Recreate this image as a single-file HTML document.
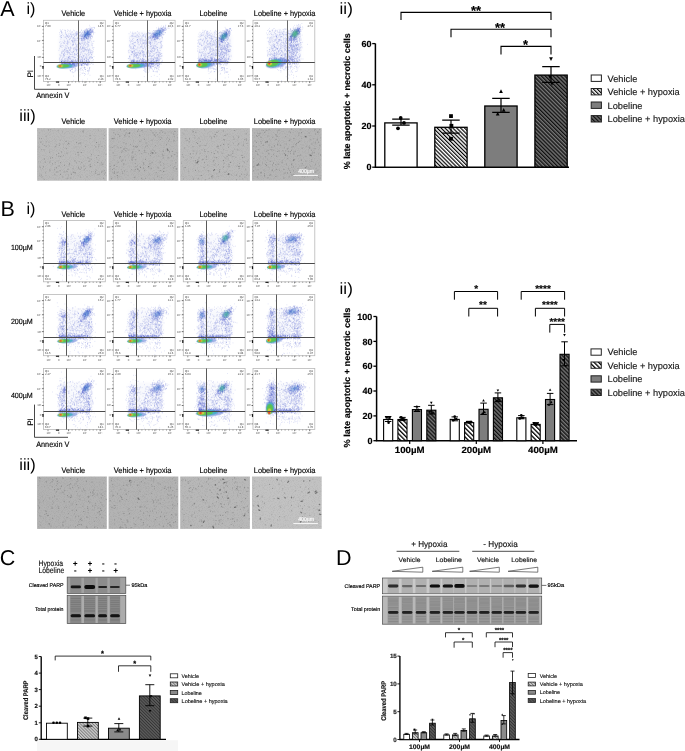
<!DOCTYPE html>
<html><head><meta charset="utf-8"><title>Figure</title>
<style>html,body{margin:0;padding:0;background:#fff;width:685px;height:751px;overflow:hidden}svg{display:block}text{text-rendering:geometricPrecision}</style>
</head><body>
<svg width="685" height="751" viewBox="0 0 685 751" font-family="'Liberation Sans', Arial, Helvetica, sans-serif"><defs>
<pattern id="hw" patternUnits="userSpaceOnUse" width="2.76" height="4" patternTransform="rotate(-45)">
 <rect width="2.76" height="4" fill="#fff"/><rect width="1.2" height="4" fill="#000"/></pattern>
<pattern id="hd" patternUnits="userSpaceOnUse" width="2.76" height="4" patternTransform="rotate(-45)">
 <rect width="2.76" height="4" fill="#777"/><rect width="1.35" height="4" fill="#111"/></pattern>
<pattern id="hwb" patternUnits="userSpaceOnUse" width="3.2" height="4" patternTransform="rotate(-45)">
 <rect width="3.2" height="4" fill="#fff"/><rect width="1.3" height="4" fill="#000"/></pattern>
<pattern id="hdb" patternUnits="userSpaceOnUse" width="2.8" height="4" patternTransform="rotate(-45)">
 <rect width="2.8" height="4" fill="#777"/><rect width="1.35" height="4" fill="#111"/></pattern>
<pattern id="hw2" patternUnits="userSpaceOnUse" width="2.2" height="2.2" patternTransform="rotate(-45)">
 <rect width="2.2" height="2.2" fill="#c8c8c8"/><rect width=".8" height="2.2" fill="#777"/></pattern>
<pattern id="hd2" patternUnits="userSpaceOnUse" width="2.2" height="2.2" patternTransform="rotate(-45)">
 <rect width="2.2" height="2.2" fill="#5a5a5a"/><rect width=".8" height="2.2" fill="#333"/></pattern>
<filter id="b06" x="-50%" y="-50%" width="200%" height="200%"><feGaussianBlur stdDeviation="0.6"/></filter>
<filter id="b1" x="-50%" y="-50%" width="200%" height="200%"><feGaussianBlur stdDeviation="1"/></filter>
<filter id="b15" x="-50%" y="-50%" width="200%" height="200%"><feGaussianBlur stdDeviation="1.5"/></filter>
<filter id="b04" x="-50%" y="-50%" width="200%" height="200%"><feGaussianBlur stdDeviation="0.4"/></filter>
<filter id="noise" x="0" y="0" width="100%" height="100%">
 <feTurbulence type="fractalNoise" baseFrequency="1.2" numOctaves="1" seed="3" result="t"/>
 <feColorMatrix in="t" type="matrix" values="0 0 0 0 0  0 0 0 0 0  0 0 0 0 0  0 0 0 -2.5 1.35" result="a"/>
 <feComposite in="a" in2="SourceGraphic" operator="in"/>
</filter>
</defs><text x=".3" y="15.6" font-size="21.5">A</text>
<text x="26.5" y="13.9" font-size="16.3" textLength="9.0" lengthAdjust="spacingAndGlyphs">i)</text>
<text x="19.3" y="121.2" font-size="16.3" textLength="16.4" lengthAdjust="spacingAndGlyphs">iii)</text>
<text x="339.6" y="13.9" font-size="16.3" textLength="13.2" lengthAdjust="spacingAndGlyphs">ii)</text>
<text x=".5" y="215.9" font-size="21.5">B</text>
<text x="26.5" y="213.7" font-size="16.3" textLength="9.0" lengthAdjust="spacingAndGlyphs">i)</text>
<text x="19.3" y="469.5" font-size="16.3" textLength="16.4" lengthAdjust="spacingAndGlyphs">iii)</text>
<text x="339.6" y="294.2" font-size="16.3" textLength="13.2" lengthAdjust="spacingAndGlyphs">ii)</text>
<text x="-.2" y="564.5" font-size="21.5">C</text>
<text x="336" y="564.5" font-size="21.5">D</text>
<g transform="translate(43.5 20.3)"><rect x="0" y="0" width="61.8" height="61.2" fill="#fff" stroke="#b8b8b8" stroke-width=".8"/><rect x="16" y="12" width="32" height="31" rx="5" fill="#aab4ea" opacity="0.12" filter="url(#b15)"/><path transform="scale(.1)" d="M459 50h6m-3 15h6m2 12h6m0-4h6m5-1h6m3-1h6m2 0h6m-3 2h6m-349 21h6m-2 15h6m-2 0h6m-4-5h6m-3 8h6m7-19h6m9 6h6m3 1h6m-4 3h6m-5 12h6m13-20h6m-3 16h6m4-11h6m5 9h6m1-10h6m-1 17h6m10-2h6m5-15h6m3 6h6m15 9h6m-2 5h6m-6-5h6m29 3h6m2-20h6m-2 4h6m1 17h6m1 0h6m-2-15h6m1-1h6m-6 11h6m-5 2h6m-5 4h6m-5 0h6m-4-7h6m-6 6h6m-5-3h6m-5-19h6m-5 8h6m-6 11h6m-5-16h6m-4 9h6m-2-14h6m-2-8h6m-5 27h6m-5-4h6m-2-22h6m-5-1h6m-6 14h6m-5 3h6m-6-5h6m-6 17h6m-6-21h6m-5-1h6m-6 20h6m-5-2h6m-4 0h6m-5-1h6m-5-6h6m-5 13h6m-5-7h6m-6 3h6m-5-26h6m-6 14h6m-6 9h6m-5-3h6m-6 10h6m-5-16h6m-5 3h6m-6 11h6m-4 2h6m-3-35h6m-5 35h6m-6-4h6m-6 4h6m-6-1h6m-5 3h6m-5-10h6m-6 3h6m-5-9h6m-6 11h6m-6-24h6m-5 26h6m-5 2h6m-6-11h6m-6-27h6m-5 26h6m-3-7h6m-5 0h6m-6 3h6m-5 4h6m-6-19h6m-4 5h6m-5 3h6m-6-2h6m-5 22h6m-6-11h6m-5-13h6m-5 3h6m-5 21h6m-6-9h6m-6-4h6m-6-13h6m-5-6h6m-6 14h6m-4 14h6m-5 6h6m-5-21h6m-4 9h6m-6 11h6m-6-16h6m-6 13h6m-4-2h6m-4-29h6m-6 10h6m-5 16h6m-5-22h6m-5 17h6m-4 0h6m-6 10h6m-5-2h6m-6-23h6m-4 20h6m-6-3h6m-4 9h6m-6-21h6m-4 13h6m-3 1h6m-5 4h6m-2-19h6m0-10h6m-353 41h6m-3 17h6m-1 14h6m3-2h6m-5-23h6m-5-8h6m-5 32h6m-3-33h6m-5 5h6m-2 15h6m4 14h6m16-28h6m-5 2h6m-3 14h6m-3 6h6m-5-8h6m0 14h6m-3 2h6m-2 3h6m-2 0h6m-3-13h6m0-13h6m-1 22h6m3-18h6m-4 3h6m-2 5h6m-5-16h6m-3 17h6m-4 12h6m-1-38h6m-4 26h6m2-5h6m-5-3h6m1 12h6m-4-14h6m4-1h6m-6 15h6m-4-30h6m-5 11h6m-5 17h6m1-4h6m-5 5h6m-4-9h6m-6-11h6m-5 26h6m-4-21h6m-6 2h6m-3-10h6m1 9h6m-5-3h6m-6 10h6m-5-4h6m-2-18h6m2 30h6m-6 2h6m-5-29h6m-2 0h6m-4 36h6m-3-39h6m-5 35h6m-5-15h6m-3 8h6m-4 8h6m-2-21h6m-4-8h6m-4 21h6m-4-4h6m-3-6h6m-5 21h6m-6-19h6m-4 16h6m-4-5h6m-5-31h6m-5 37h6m3-18h6m-6 8h6m-6 5h6m-6-16h6m-5 1h6m-6 22h6m-4-12h6m-6 2h6m-4-24h6m-5 27h6m-5-7h6m-6-9h6m-6 18h6m-5 3h6m-6-29h6m-5 0h6m-6 30h6m-6-8h6m-3-26h6m-6 34h6m-5-12h6m-6 1h6m-6-5h6m-6-2h6m-6 5h6m-6-9h6m-5 8h6m-6 4h6m-5-18h6m-5-7h6m-5 32h6m-6-10h6m-6-21h6m-6 19h6m-6 11h6m-5-22h6m-6 20h6m-6 4h6m-5-3h6m-6-4h6m-6-6h6m-6-23h6m-6 30h6m-5-21h6m-6 19h6m-6-2h6m-5-2h6m-6-1h6m-6 12h6m-6-7h6m-5 1h6m-5-12h6m-6 14h6m-5-15h6m-6 5h6m-6 9h6m-5-4h6m-6-6h6m-6-15h6m-6 14h6m-5-8h6m-6-6h6m-5 13h6m-6-10h6m-6 10h6m-6 0h6m-6 13h6m-6-23h6m-5 14h6m-4-10h6m-6 4h6m-6-13h6m-5 34h6m-6-27h6m-5-1h6m-6 10h6m-6-10h6m-5 14h6m-6-10h6m-6-2h6m-6 5h6m-5-3h6m-6-1h6m-6-8h6m-6 19h6m-5-15h6m-6 31h6m-5-26h6m-6-9h6m-5-2h6m-6 0h6m-6 8h6m-6 6h6m-6-3h6m-6 11h6m-6-1h6m-5 2h6m-6-25h6m-6 37h6m-6-24h6m-6 11h6m-6 6h6m-6-5h6m-5-20h6m-6 28h6m-6-30h6m-5 2h6m-6 8h6m-6 0h6m-6 23h6m-6-10h6m-5-23h6m-5 2h6m-6-5h6m-6 13h6m-6 15h6m-6-26h6m-5 34h6m-5-19h6m-6-4h6m-6 8h6m-6 9h6m-5-3h6m-6-25h6m-5 26h6m-6 9h6m-6-17h6m-5-4h6m-6 1h6m-6-8h6m-5 11h6m-6-18h6m-6 36h6m-5-20h6m-6 0h6m-6 10h6m-5-14h6m-5 1h6m-5 0h6m-6 9h6m-6 0h6m-5-5h6m-6 20h6m-5-33h6m-5 16h6m-6-10h6m-6-4h6m-6-5h6m-5 22h6m-5-14h6m-6-5h6m-6 9h6m-5 15h6m-5-6h6m-5 1h6m-6 3h6m-5-9h6m-6 0h6m-5 11h6m-5-9h6m-6 7h6m-6-5h6m-4 15h6m-6-17h6m-6-13h6m-5 12h6m-6 7h6m-6-27h6m-5 8h6m-5-3h6m-3 20h6m-6-21h6m-5-1h6m-6 1h6m-6 16h6m-6-18h6m-5 16h6m-5-13h6m-4 31h6m-5-30h6m-2 30h6m-6-30h6m-5 30h6m-3-34h6m-4-2h6m0 3h6m-2 8h6m-6-8h6m-4 20h6m6-20h6m-355 38h6m-3 6h6m0 21h6m-4-18h6m-2 3h6m-5-2h6m19 28h6m-5-30h6m6-1h6m-3 0h6m0 11h6m-3-19h6m-5 24h6m-1-19h6m2 32h6m-2-27h6m-3 1h6m0-8h6m-2 31h6m-5-4h6m-5-6h6m-2-17h6m-4 14h6m2-14h6m-4-7h6m1 8h6m0 17h6m-4 14h6m-4-19h6m-3-7h6m-6 1h6m-1 9h6m-6 12h6m-3-6h6m-5-25h6m-5-4h6m-2 20h6m1 7h6m-2 9h6m5-18h6m-6 6h6m-4-6h6m1-1h6m-1 5h6m7 7h6m-6-23h6m-6 19h6m-5-5h6m4 0h6m-4 3h6m-5-18h6m-6-5h6m-6 25h6m-5-25h6m-6 20h6m-3-15h6m-6 31h6m-5-7h6m-4-8h6m-6 13h6m-6-11h6m-5 0h6m-5-9h6m-5 17h6m-5-31h6m-1 38h6m-6-2h6m-6-29h6m-6-4h6m-6 19h6m-3-7h6m-5-6h6m-5-3h6m-4 7h6m-5 11h6m-6-20h6m-4 12h6m-6 3h6m-6 7h6m-5 11h6m-6-15h6m-5-2h6m-6 7h6m-6 11h6m-4-8h6m-5-26h6m-5-2h6m-6 24h6m-5-22h6m-6 1h6m-5 0h6m-6 0h6m-5 0h6m-6-2h6m-6 11h6m-5 10h6m-6-11h6m-6 12h6m-5 9h6m-4-25h6m-6-6h6m-5 2h6m-5 12h6m-6-14h6m-3 29h6m-5-19h6m-5-2h6m-6-8h6m-6-3h6m-5 5h6m-5 2h6m-6 12h6m-3-16h6m-5 19h6m-6-13h6m-5 8h6m-5-6h6m-6-3h6m-6 20h6m-5-6h6m-6-8h6m-6 3h6m-6 4h6m-5-11h6m-4 5h6m-4 3h6m-6-1h6m-4 8h6m-6 2h6m-5-27h6m-3 31h6m-5-9h6m-6-6h6m-4 4h6m-3-9h6m-6-9h6m-4 25h6m-6-19h6m-5-6h6m-5 19h6m-6-15h6m-5 29h6m-6-21h6m-6-7h6m-2-7h6m0 15h6m-5-11h6m-4 20h6m-6-18h6m-6-1h6m-5 10h6m-4 12h6m-5-13h6m1-14h6m-6 24h6m0-23h6m-1 1h6m-4 11h6m-335 48h6m-1-7h6m-1 24h6m3-5h6m-1-16h6m10 7h6m-4 5h6m-4-4h6m-4-18h6m-6 6h6m-2 19h6m5-18h6m6 16h6m-6 2h6m-4-4h6m-4-25h6m-2 10h6m-6 1h6m-5 6h6m-6 19h6m-4-12h6m-5-10h6m10 1h6m4 17h6m2-30h6m-4-3h6m-3-1h6m-3 10h6m-5-2h6m-5 7h6m-5 4h6m-4-12h6m-4 27h6m-3-9h6m-5 13h6m-5-25h6m-1-9h6m-6 15h6m0-4h6m-6-14h6m-4 4h6m-1-5h6m-6 31h6m-1-12h6m-5 19h6m-4-35h6m9-2h6m5 27h6m-6-5h6m-5 12h6m-6-12h6m-4-18h6m-4 24h6m-4 2h6m-5-6h6m-6 12h6m3-6h6m1-8h6m-6-23h6m-3 4h6m-5 29h6m-4-31h6m-1 24h6m-5 2h6m-6-26h6m-2 7h6m-1-6h6m-5 23h6m3-6h6m-4 15h6m-6-34h6m-3 31h6m-4-14h6m-6-11h6m-2 13h6m2 9h6m5-17h6m-6-7h6m-3 30h6m-5-11h6m-1 0h6m1-7h6m-6 0h6m-5 1h6m-3-19h6m7 0h6m2 15h6m0 15h6m3 2h6m-3-21h6m2-2h6m-346 58h6m-5-14h6m-4 10h6m-3-5h6m2 7h6m-5-14h6m-1 21h6m0-20h6m3 5h6m9 11h6m-3 11h6m-3-29h6m-2 28h6m-5-12h6m-3-15h6m4 12h6m-3-18h6m-2 28h6m-2 3h6m-4 2h6m7-3h6m1-2h6m-6-8h6m-3 12h6m3 1h6m-3-24h6m-2-13h6m-4 11h6m-5-9h6m2 4h6m-6-5h6m-3 35h6m-5 1h6m2-4h6m-1 4h6m-2-35h6m-4 23h6m-4-9h6m-4-8h6m-6 30h6m-3-20h6m-4 9h6m2-9h6m-5-14h6m-5 27h6m-5-32h6m3 11h6m7 10h6m-5 14h6m-6-12h6m-4 16h6m-6-39h6m-6 3h6m-5 29h6m4-18h6m0 8h6m-5 11h6m-3 4h6m-5 0h6m-5-3h6m-2-24h6m-2-4h6m-5 24h6m-5 4h6m-4-13h6m-5-19h6m-1 32h6m2-25h6m-6 0h6m0 22h6m3-1h6m-5-30h6m-1 25h6m-3-9h6m-3-12h6m-1-1h6m-5 14h6m-3-2h6m17-7h6m2-3h6m-4 6h6m-5 28h6m-5-11h6m6 8h6m-3-3h6m-357 28h6m0-17h6m19 29h6m-4 3h6m-6-18h6m3 11h6m1 3h6m-5-9h6m-4-3h6m-2-11h6m-6 4h6m-5 26h6m-3-25h6m-3 3h6m-5 16h6m3-17h6m-4 7h6m-4-21h6m-5 33h6m-2-11h6m-4-2h6m-6 17h6m-2-8h6m-3-6h6m-4-21h6m-3 29h6m1-17h6m-2 0h6m-5 6h6m-2-13h6m-4-3h6m-6 13h6m-5 11h6m10 5h6m7-1h6m-4-23h6m-6 23h6m-5 4h6m-5-37h6m-4 30h6m-4-9h6m-5-12h6m9 2h6m-6-3h6m-2 13h6m-4 5h6m-5-10h6m-5 11h6m-5-16h6m-5 6h6m-3 21h6m-5-33h6m0 10h6m-3-5h6m-1 3h6m-1 21h6m-1-27h6m-4-7h6m-5 20h6m-3-8h6m5 23h6m-6 1h6m-4-24h6m-5-8h6m0 2h6m0 16h6m-5-17h6m-4 27h6m-4 1h6m-6-9h6m-2-20h6m-4 23h6m-5-25h6m-1 3h6m-5 26h6m-4-14h6m-5 2h6m-5-20h6m-3 10h6m-6 4h6m-2-6h6m-2 9h6m-5 2h6m-2-4h6m-3 13h6m-3-15h6m-2-8h6m-1 12h6m-4 2h6m-6 9h6m0-7h6m-6 14h6m-3-21h6m-6 23h6m-5-20h6m-4-15h6m-4 14h6m1-2h6m-4 12h6m-5 8h6m0-11h6m2 6h6m1-2h6m0-14h6m-5 22h6m-347 31h6m3 13h6m-2-11h6m-1 0h6m-5 10h6m-5-38h6m-5 9h6m0-2h6m-6 6h6m6 16h6m-4-13h6m-4 2h6m-6 6h6m-3 7h6m-4-5h6m-5-9h6m-4-6h6m-5-6h6m-6 28h6m-5 4h6m7-17h6m-3-20h6m5 2h6m-5 17h6m-5-2h6m0-16h6m0 4h6m-2 3h6m-4-4h6m-3 2h6m-6 32h6m-3-18h6m-4-3h6m-4 4h6m1 1h6m-4-20h6m2 19h6m0-20h6m-5 7h6m-4 15h6m-5 15h6m9-22h6m-5-2h6m-5 19h6m-6-12h6m-3-5h6m-3 8h6m2 1h6m-2-1h6m-4-6h6m0-9h6m-5 26h6m-6-22h6m-6 25h6m1-26h6m-2-10h6m-5 27h6m-6-19h6m-3 9h6m1 12h6m0-6h6m-4-18h6m-4 16h6m-1-16h6m6 10h6m1 15h6m1 4h6m-5-2h6m-2-1h6m-4-17h6m6-2h6m-1 10h6m-3-3h6m-3 16h6m-3-1h6m-2-22h6m3-8h6m-6 25h6m-4-25h6m-5 17h6m2 0h6m0-9h6m-6-10h6m-2 1h6m-5 0h6m3 18h6m-5-19h6m-5 14h6m-4 4h6m-5 11h6m-5-32h6m1 0h6m-5 14h6m-342 55h6m-2-12h6m-4 1h6m-5 16h6m1-25h6m3 24h6m-5 0h6m-3-8h6m0-1h6m-3-12h6m-5 26h6m-5-30h6m-4-9h6m1 8h6m-3 23h6m-4-8h6m-2 14h6m1 1h6m-5-16h6m-1 12h6m-5-28h6m-6 15h6m5 13h6m-5-16h6m-5 17h6m-2-9h6m-5-21h6m-4 31h6m-3-23h6m-6 0h6m-6-13h6m-4 14h6m-6 4h6m-5-3h6m-6 21h6m-2-13h6m-6 4h6m-4-19h6m-5-5h6m-3 13h6m-4 8h6m-5-23h6m-1 29h6m-6-4h6m-4-9h6m5 21h6m-6-34h6m-6 23h6m-5-26h6m-1 34h6m-4-29h6m-1 22h6m-2 6h6m-5-24h6m-5-6h6m1 14h6m-4-6h6m-5 0h6m-4 27h6m-1-3h6m-6 1h6m-6-27h6m-3 27h6m-5-21h6m8 21h6m-5-10h6m-3-4h6m-5 16h6m3-11h6m-6-18h6m-4 19h6m-4 1h6m-3-30h6m-3 11h6m-5 5h6m-4-12h6m-4 35h6m-2-10h6m-1 6h6m-5-31h6m-6-2h6m-5 27h6m-6-18h6m1 25h6m-5-27h6m-6 19h6m-4-9h6m-2 10h6m-5-16h6m-3 13h6m-3-23h6m-1 5h6m-5 20h6m-6 11h6m-1-7h6m-4 0h6m-6-10h6m-5 6h6m0-20h6m-3 2h6m-4 12h6m-2-10h6m-4 24h6m-5-15h6m-5 2h6m-3 8h6m1-2h6m-4-21h6m-2 28h6m-4-5h6m-4 4h6m-1-18h6m-6 4h6m-3-5h6m-5-7h6m-2-9h6m-5 26h6m-4-13h6m-4-6h6m-1-5h6m-3 4h6m-4 12h6m-4-2h6m-2-2h6m-4-2h6m-4 3h6m-4 3h6m1 14h6m0-30h6m-353 65h6m-2-20h6m-6 10h6m-4 0h6m3-15h6m-5 28h6m-6-20h6m-5 13h6m-5-7h6m-5 13h6m-5-16h6m-6 9h6m-6-5h6m-6-4h6m-5 4h6m-6 11h6m-6-12h6m-5-3h6m-6 22h6m-6-15h6m-6-12h6m-5 6h6m-6 4h6m-5 6h6m-6-6h6m-6 4h6m-5-16h6m-6 3h6m-6 12h6m-5 9h6m-6 9h6m-6-9h6m-5 0h6m-5-15h6m-6 14h6m-5-4h6m-4-17h6m-6 27h6m-5-35h6m-6 27h6m-5-7h6m-6 13h6m-5-26h6m-6 19h6m-6 13h6m-4-9h6m-6 4h6m-6-10h6m-5-2h6m-5-4h6m-5 2h6m-6 4h6m-6 11h6m-5-18h6m-4 10h6m-4-16h6m-6 10h6m-6-13h6m-5-5h6m-5 19h6m-6 9h6m-6-4h6m-5 5h6m-6 4h6m-6-9h6m-5-7h6m-6 18h6m-6-13h6m-6-4h6m-6-8h6m-5 25h6m-4-14h6m-6-4h6m-5-10h6m-6 20h6m-6-13h6m-5-13h6m-5 23h6m-6-9h6m-5-4h6m-6 19h6m-6 6h6m-6-9h6m-5-3h6m-6-18h6m-5 14h6m-6 1h6m-6-8h6m-5 13h6m-6 0h6m-5-23h6m-6 20h6m-5-5h6m-6-3h6m-5 12h6m-5 1h6m-6-3h6m-5 5h6m-5-29h6m-5 5h6m-5 5h6m-6 18h6m-5-6h6m-4 0h6m-6 5h6m-5-29h6m-4 22h6m-5 11h6m-6 1h6m-4-29h6m-6 18h6m-6-9h6m-6 18h6m-6-11h6m-5-4h6m-6 12h6m-5-20h6m-6 4h6m-6 24h6m-5-17h6m-5 11h6m-6-12h6m-5 9h6m-6-12h6m-6 21h6m-6-10h6m-5-7h6m-6 12h6m-6-27h6m-5 14h6m-5 8h6m-5-25h6m-4 33h6m-6-22h6m-5-6h6m-4 28h6m-5-17h6m-5 11h6m-5-8h6m-5 0h6m-6-18h6m-5 22h6m-6-1h6m-5 10h6m-6 0h6m-6-1h6m-5-27h6m-6 10h6m-6 17h6m-6-21h6m-4 12h6m-6-1h6m-6 7h6m-6-10h6m-5 13h6m-5-17h6m-6 16h6m-5-3h6m-6-11h6m-5-2h6m-6 7h6m-6 3h6m-5-21h6m-5 30h6m-6-18h6m-5 2h6m-6 2h6m-6-2h6m-5 4h6m-6 8h6m-5-11h6m-5-3h6m-6 14h6m-5-6h6m-5-17h6m-5 24h6m-4 2h6m-6-26h6m-5 21h6m-6-15h6m-5 17h6m-6-10h6m-4 14h6m-6 0h6m-6-16h6m-5-3h6m-6-9h6m-5 3h6m-6 5h6m-6 2h6m-5-9h6m-5-2h6m-6-4h6m-4-2h6m-5 4h6m-3 23h6m-6 9h6m-5-26h6m-6 20h6m-5-12h6m-5 13h6m-6 2h6m-6-21h6m-6-4h6m-6 14h6m-4 10h6m-6-27h6m-6 10h6m-6 14h6m-4-7h6m-6-18h6m-5 5h6m-6 28h6m-5-24h6m-5 16h6m-6-19h6m-5 21h6m-6 3h6m-6-1h6m-5 3h6m-6-36h6m-6 0h6m-6 16h6m-6 14h6m-5 1h6m-6-14h6m-5 3h6m-5 9h6m-5 3h6m-6-17h6m-6 7h6m-4-11h6m-5 26h6m-6-12h6m-5 8h6m-6-9h6m-5-6h6m-6 18h6m-6 1h6m-6-8h6m-2 3h6m-6-5h6m-6-16h6m-5 12h6m-4-11h6m-6 9h6m-5-20h6m-6 32h6m-6 2h6m-5-2h6m-6-8h6m-5 2h6m-6-24h6m-5 26h6m-5-19h6m-6 20h6m-3-22h6m-5 8h6m-5 3h6m-3 3h6m-5-7h6m-6 15h6m-6 3h6m-4-17h6m-5 5h6m-6-5h6m-6 5h6m-5 13h6m-6-28h6m-6 15h6m-5 14h6m-5-27h6m-5 10h6m-6-2h6m-6 0h6m-5 6h6m-6 9h6m-5 2h6m-6 4h6m-5-33h6m-5 9h6m-5 9h6m-5 8h6m-4 7h6m-4-7h6m-6-29h6m-6 26h6m-6-8h6m-6 6h6m-5 3h6m-5-12h6m-6 14h6m-6-5h6m-5 10h6m-5 2h6m-6-17h6m-2-17h6m-5 29h6m-6-8h6m-4-1h6m-6 10h6m-5-6h6m-6 6h6m-5-12h6m-6-9h6m-5 7h6m-4 14h6m-2-16h6m-5-16h6m-3 10h6m-6 26h6m-6-31h6m-5 5h6m-6 22h6m-5-13h6m-5-7h6m-6-15h6m-5 32h6m-2-10h6m-6 2h6m-6-13h6m-5 14h6m-5-8h6m-3 20h6m-3-5h6m-6-14h6m-6 6h6m-5-3h6m-5-18h6m-6 13h6m-5-7h6m-6 8h6m-5 0h6m-6-16h6m-6 23h6m-6-3h6m-5 0h6m-3-15h6m-6 8h6m-5-10h6m-6 28h6m-6-14h6m-5 10h6m-6 4h6m-3-6h6m-6-14h6m-6 17h6m-4 5h6m-5-4h6m-6 3h6m-5 4h6m-4-15h6m-6 3h6m-4 4h6m-5-15h6m-6 8h6m-4-13h6m-5 25h6m-5-6h6m-5-6h6m-4 11h6m-6-5h6m-5-14h6m-5 3h6m-6 5h6m-5-17h6m-5 27h6m-3 0h6m-5-13h6m-6 6h6m-4 7h6m-5-3h6m-5-26h6m-4 14h6m-4-10h6m-5-1h6m-6 3h6m-4 0h6m-6 7h6m-5-15h6m-5 34h6m-4-24h6m-5 7h6m-5 18h6m-3-9h6m-6 12h6m-5-10h6m-5-13h6m-5 3h6m-6 18h6m-5-13h6m-5-1h6m-5-18h6m-6 8h6m-6 12h6m-6 7h6m-1-26h6m-6 18h6m-6 2h6m-5-9h6m-3-6h6m-5 3h6m-3 0h6m-3-4h6m-6 24h6m1 5h6m1-31h6m-2 24h6m-1-5h6m2-26h6m-5 9h6m1 29h6m-335 27h6m-5-8h6m-6-9h6m-5-5h6m-5 8h6m-2-1h6m-6-8h6m-5 0h6m-6 2h6m-5 2h6m-6-4h6m3 16h6m-5-17h6m-3 4h6m-1 2h6m-5 4h6m-6-3h6m-5-7h6m-2 26h6m-5-24h6m-5 3h6m-5 10h6m-1-14h6m-5-2h6m-4 13h6m-5-8h6m-5 14h6m-2-14h6m-6 6h6m-4-9h6m-4-3h6m-5 21h6m-5-12h6m-3-2h6m-6 0h6m-5 3h6m-5-7h6m-6 0h6m-4 18h6m-4-16h6m-4 16h6m-5-13h6m-6 7h6m-5-9h6m-6 14h6m-5-20h6m-6 5h6m-2 8h6m-6-2h6m-4-7h6m-6 5h6m-4 10h6m-4 4h6m-3-10h6m-5-13h6m-4 0h6m-4 2h6m-6 17h6m-5-16h6m-4-3h6m-5 0h6m-6 36h6m-5-33h6m-3-1h6m-6-2h6m-4 7h6m-4-3h6m-5 27h6m-5-24h6m-5-4h6m-5 0h6m-6-2h6m0 33h6m-5-31h6m-5-3h6m0 3h6m-5-3h6m-3 1h6m-3 35h6m-3-30h6m-4 19h6m-4-17h6m-6 2h6m-3 0h6m-6 2h6m-5-4h6m-5-2h6m-2 1h6m-4 30h6m-5 1h6m3-32h6m-2-1h6m-1 15h6m-1-12h6m-6 0h6m0 24h6m-4 1h6m-5-31h6m-3 9h6m-6-8h6m-6 32h6m1-25h6m-5 3h6m0-10h6m-4 36h6m1-27h6m-5-1h6m-5 1h6m-6 17h6m-4-22h6m-6-4h6m-5 3h6m-5-1h6m-6 1h6m-5 1h6m-4-7h6m-5 17h6m-5-10h6m-4-6h6m-5 5h6m-5 4h6m-2 23h6m1-19h6m-3 25h6m-3-24h6m-4 12h6m-6-25h6m-6 31h6m-6 3h6m-4-1h6m-4-31h6m-6-4h6m1 2h6m-4-2h6m-6 33h6m0-31h6m-6 6h6m-6-8h6m-1 11h6m-5-10h6m-5 5h6m-6-2h6m-5 0h6m-2 7h6m-6 28h6m-2-24h6m-2-10h6m-5 0h6m1-5h6m-3 36h6m-3-2h6m-3 0h6m22-34h6m-235 55h6m-4 8h6m-4-1h6m-5 9h6m-6-12h6m6-10h6m-3 3h6m-4-1h6m-6 28h6m-5-8h6m-2-23h6m-5-7h6m16 34h6m-5-33h6m-6 17h6m-5 11h6m-3-9h6m-6-13h6m2 8h6m10-11h6m-6 19h6m3 2h6m-4-11h6m0-5h6m-1 29h6m-2-30h6m-1 12h6m-6-17h6m1-3h6m0 17h6m-2-5h6m3 12h6m5-16h6m3 3h6m-6 18h6m-5-18h6m-6-3h6m12 14h6m-6 7h6m-1-8h6m-1 14h6m-5-15h6m-2 9h6m-4-19h6m-4-9h6m-4 21h6m-4-15h6m-174 36h6m-1 34h6m-2-37h6m54 35h6m-3-15h6m13-13h6m-3 2h6m6-3h6m5 25h6m-5-20h6m-4 0h6m0 10h6m18-4h6m-1-9h6m10 21h6m-80 49h6m43-12h6m-148 13h6" stroke="#2f44c4" stroke-width="6" stroke-opacity=".36"/><ellipse cx="43.3" cy="13.8" rx="3.6" ry="2.2" fill="#4a8ad0" opacity="0.55" filter="url(#b1)" transform="rotate(-40 43.3 13.8)"/><ellipse cx="23.5" cy="45.8" rx="10.6" ry="2.4" fill="#5574d4" opacity="0.55" filter="url(#b06)" transform="rotate(-3 23.5 45.8)"/><ellipse cx="21.4" cy="45.8" rx="8" ry="2" fill="#3eb0c4" opacity="0.85" filter="url(#b06)" transform="rotate(-3 21.4 45.8)"/><ellipse cx="19.8" cy="45.8" rx="6" ry="1.7" fill="#5cc24e" opacity="1" filter="url(#b06)" transform="rotate(-3 19.8 45.8)"/><ellipse cx="17.1" cy="45.8" rx="2.4" ry="1.2" fill="#d6d23c" opacity="1" filter="url(#b06)" transform="rotate(-3 17.1 45.8)"/><ellipse cx="16.5" cy="45.8" rx="1.2" ry=".8" fill="#e8642a" opacity="1" filter="url(#b06)" transform="rotate(-3 16.5 45.8)"/><ellipse cx="16.6" cy="45.8" rx=".7" ry=".6" fill="#de2a1e" opacity="1" filter="url(#b06)" transform="rotate(-3 16.6 45.8)"/><line x1="35" y1="0" x2="35" y2="61.2" stroke="#6a6a6a" stroke-width="1"/><line x1="0" y1="42.2" x2="61.8" y2="42.2" stroke="#4a4a4a" stroke-width="1"/><text x="1.6" y="3.6" font-size="2.9" fill="#444">Q1</text><text x="1.6" y="6.6" font-size="2.9" fill="#444">7.00</text><text x="60.2" y="3.6" text-anchor="end" font-size="2.9" fill="#444">Q2</text><text x="60.2" y="6.6" text-anchor="end" font-size="2.9" fill="#444">14.5</text><text x="1.6" y="56.8" font-size="2.9" fill="#444">Q4</text><text x="1.6" y="59.8" font-size="2.9" fill="#444">76.2</text><text x="60.2" y="56.8" text-anchor="end" font-size="2.9" fill="#444">Q3</text><text x="60.2" y="59.8" text-anchor="end" font-size="2.9" fill="#444">2.26</text><path d="M-1.6 6.1h1.6M-1.6 20.3h1.6M-1.6 37.1h1.6M-1.6 46.2h1.6M-1.6 55.5h1.6M-.9 6.1h.9M-.9 9.5h.9M-.9 13h.9M-.9 16.4h.9M-.9 19.9h.9M-.9 23.3h.9M-.9 26.8h.9M-.9 30.2h.9M-.9 33.7h.9M-.9 37.1h.9M4.5 61.2v1.6M15.2 61.2v1.6M25.1 61.2v1.6M41.5 61.2v1.6M56.7 61.2v1.6M25.1 61.2v.9M28.6 61.2v.9M32.1 61.2v.9M35.6 61.2v.9M39.1 61.2v.9M42.7 61.2v.9M46.2 61.2v.9M49.7 61.2v.9M53.2 61.2v.9M56.7 61.2v.9" stroke="#333" stroke-width=".55"/><rect x="-1.1" y="45.7" width="1.2" height="2.8" fill="#111"/><rect x="12.4" y="61.2" width="3" height="1.1" fill="#111"/><text x="-2.3" y="7.1" font-size="2.8" fill="#555" text-anchor="end">10⁵</text><text x="-2.3" y="21.3" font-size="2.8" fill="#555" text-anchor="end">10⁴</text><text x="-2.3" y="38.1" font-size="2.8" fill="#555" text-anchor="end">10³</text><text x="-2.3" y="47.2" font-size="2.8" fill="#555" text-anchor="end">0</text><text x="-2.3" y="56.5" font-size="2.8" fill="#555" text-anchor="end">-10³</text><text x="4.5" y="66.1" font-size="2.8" fill="#555" text-anchor="middle">-10³</text><text x="15.2" y="66.1" font-size="2.8" fill="#555" text-anchor="middle">0</text><text x="25.1" y="66.1" font-size="2.8" fill="#555" text-anchor="middle">10³</text><text x="41.5" y="66.1" font-size="2.8" fill="#555" text-anchor="middle">10⁴</text><text x="56.7" y="66.1" font-size="2.8" fill="#555" text-anchor="middle">10⁵</text></g>
<text x="73.4" y="15.9" font-size="7.9" text-anchor="middle" textLength="23.6" lengthAdjust="spacingAndGlyphs" stroke="#000" stroke-width="0.15">Vehicle</text>
<g transform="translate(113.3 20.3)"><rect x="0" y="0" width="61.8" height="61.2" fill="#fff" stroke="#b8b8b8" stroke-width=".8"/><rect x="16" y="12" width="32" height="31" rx="5" fill="#aab4ea" opacity="0.12" filter="url(#b15)"/><path transform="scale(.1)" d="M560 33h6m-135 43h6m11-7h6m-1 10h6m9-9h6m0 7h6m-3-20h6m-4 22h6m2-4h6m0 1h6m-6-3h6m-1-1h6m-5-10h6m-5-5h6m-2 11h6m-1 10h6m-1 0h6m-5-8h6m-4-5h6m-5-11h6m-4 24h6m-4-29h6m-3 30h6m13-10h6m31 3h6m-418 46h6m17 1h6m39-6h6m99-2h6m8-9h6m30 14h6m2-13h6m-3-1h6m3 8h6m-5 4h6m-4-11h6m-6 2h6m-4 14h6m-4-2h6m-5-12h6m1-1h6m-6 14h6m-2-3h6m-6-8h6m-4 2h6m-5-8h6m-6 15h6m-6-12h6m-4 7h6m-6 5h6m-6-18h6m-5 21h6m-4-11h6m-6-2h6m-5-4h6m-4 17h6m-5-20h6m-4-10h6m-4 12h6m-5-2h6m-5 4h6m-6-7h6m-5-12h6m-6 20h6m-4-17h6m-6 26h6m-5-25h6m-6 21h6m-6 2h6m-5-2h6m-6-6h6m-4-11h6m-5 24h6m-5-2h6m-6-33h6m-6 35h6m-5-2h6m-6-8h6m-6-3h6m-6-8h6m-5 17h6m-5-7h6m-5-5h6m-6 5h6m-4 3h6m-6-6h6m-4-6h6m-6 20h6m-5-18h6m-6 8h6m-6-23h6m-6 24h6m-5-10h6m-5-14h6m-4 14h6m-6 15h6m-6 2h6m-5-11h6m-6 12h6m-6 0h6m-4-10h6m-6 1h6m-5 13h6m-5-16h6m-5-3h6m-5-17h6m-4 35h6m-5-32h6m-6 3h6m-5-8h6m-6 5h6m-5 30h6m-6-5h6m-6-2h6m-6 2h6m-6-18h6m-5 5h6m-5-18h6m-6 6h6m-5 7h6m-5 7h6m-6-9h6m-6 10h6m-5 12h6m-4 0h6m-6-28h6m-5 13h6m-5 11h6m-6-5h6m-5-18h6m-5 10h6m-6 12h6m-4-18h6m-6 25h6m-5-25h6m-6 5h6m-4 5h6m-6-5h6m-6 13h6m-5 0h6m-5-8h6m-4-7h6m-4 14h6m-6-6h6m-6 2h6m-6-21h6m-3 13h6m-5-4h6m-2 12h6m-5-17h6m-6 12h6m-4-16h6m-6 15h6m-3-17h6m-3 16h6m-4 0h6m-3-3h6m11-12h6m5 0h6m-407 53h6m21 17h6m-1-22h6m-6 22h6m-5 5h6m-2-20h6m-1 11h6m-3-13h6m8 0h6m-5 23h6m-5-34h6m2 7h6m3 17h6m-5 9h6m-1-4h6m-5-10h6m4 17h6m-2-26h6m-5-9h6m-3 20h6m4 11h6m10-27h6m-3 2h6m-5 25h6m1-6h6m-4-6h6m-6 11h6m-6 2h6m1-10h6m3-10h6m1 18h6m-1-13h6m-5 14h6m-2-19h6m-1-3h6m0 3h6m-4-12h6m-2-1h6m0 1h6m-6 11h6m-1-3h6m-4-4h6m2-1h6m-4 7h6m-6 19h6m-4 6h6m-4 0h6m-3-29h6m-4 17h6m-4-1h6m-3 10h6m-5-12h6m-5-11h6m-5 14h6m-4 8h6m-2-24h6m-5 9h6m-6-8h6m-5 25h6m-6-36h6m-6 35h6m-6-21h6m-4-2h6m-5 11h6m-6-4h6m-5 3h6m-5 8h6m-6-16h6m-5 20h6m-4-31h6m-6 33h6m-6-22h6m-6 11h6m-5 6h6m-5-9h6m-6 7h6m-6-17h6m-6-9h6m-3 23h6m-6 6h6m-6-6h6m-6 1h6m-5-21h6m-6 15h6m-6 14h6m-5-13h6m-4-3h6m-6-12h6m-6 7h6m-5 22h6m-6-20h6m-6 6h6m-5 13h6m-6-16h6m-5 11h6m-6-13h6m-6 4h6m-6-20h6m-5 36h6m-5-16h6m-6-7h6m-6-2h6m-6 24h6m-6-8h6m-6-10h6m-5 17h6m-5-14h6m-5 12h6m-6-28h6m-6 21h6m-5-16h6m-6 10h6m-6-1h6m-6 13h6m-6-4h6m-5-13h6m-6 8h6m-5 11h6m-6-4h6m-6 8h6m-5-30h6m-6 11h6m-5 9h6m-4-1h6m-6-23h6m-6 3h6m-5 21h6m-6-12h6m-5-8h6m-6 24h6m-6-23h6m-6 3h6m-6 2h6m-5 16h6m-5 3h6m-6-21h6m-6 1h6m-5-1h6m-6 23h6m-6-30h6m-5 5h6m-6 14h6m-4 7h6m-6-17h6m-6 0h6m-5 19h6m-6-17h6m-5 3h6m-6 5h6m-5 10h6m-6-15h6m-6 4h6m-5 10h6m-5 4h6m-6-23h6m-6 18h6m-6-2h6m-5-12h6m-6 15h6m-5-18h6m-6-5h6m-6 2h6m-6 9h6m-4-22h6m-6 2h6m-6 11h6m-6-1h6m-5 3h6m-5-14h6m-6 13h6m-6 22h6m-6-28h6m-5 5h6m-5 7h6m-6-17h6m-5 36h6m-6-23h6m-6-6h6m-6 5h6m-5-10h6m-3 14h6m-6 1h6m-5 11h6m-5-11h6m-6 17h6m-5-5h6m-6-6h6m-6-3h6m-4 16h6m-6-15h6m-6-1h6m-5-22h6m-6 7h6m-6-6h6m-5 28h6m-6-25h6m-6 4h6m-5 13h6m-5-4h6m-6 7h6m-6-14h6m-6-2h6m-5-5h6m-6-2h6m-6 17h6m-6-13h6m-6-5h6m-6-1h6m-6 19h6m-6-2h6m-4 15h6m-5-13h6m-6-14h6m-5-4h6m-6 17h6m-5-1h6m-6 5h6m-5-22h6m-4 30h6m-5 3h6m-6-31h6m-4 6h6m-6 7h6m-5-11h6m-4 29h6m-5-23h6m-5 28h6m-6-31h6m-3-1h6m-6 5h6m-6-7h6m-5 25h6m-6-2h6m-5-15h6m-5 7h6m-5 2h6m-5-16h6m-6 34h6m-5-39h6m-1 15h6m-5 5h6m-2-1h6m-3-17h6m-6 25h6m-1-6h6m-4-18h6m5 2h6m-6-3h6m-364 56h6m-1-17h6m-6 36h6m10-34h6m1 25h6m-4-25h6m-6 28h6m3-29h6m-3 19h6m3-18h6m3-2h6m-4 4h6m5 1h6m-5 5h6m-5 22h6m-3 2h6m-5 3h6m-5-6h6m-5 1h6m-2 4h6m-4-37h6m-5 17h6m3 12h6m-2-23h6m-2 18h6m0 13h6m-6-10h6m1-21h6m-5 14h6m-1 17h6m-5-6h6m-5-15h6m2 23h6m-6-37h6m-3 35h6m10-33h6m-3 0h6m-5 7h6m-6-5h6m0 27h6m-4-12h6m-5 9h6m5-19h6m2 14h6m-5 9h6m-3-24h6m-5 22h6m-4-13h6m-5-11h6m-4-4h6m-6 14h6m-3-10h6m-4 15h6m-2-23h6m-5 15h6m-1 1h6m-6-2h6m-6-2h6m-5 14h6m-5-11h6m-4 6h6m-4 12h6m-1-10h6m-5-21h6m-6 9h6m-6 22h6m-5-29h6m-5 5h6m-3 3h6m-5 13h6m-5-20h6m-6 18h6m-5-18h6m-6 9h6m-5-10h6m-4 15h6m-5-12h6m-5-1h6m-5 9h6m-6 17h6m-4-19h6m-5-12h6m-6 5h6m-5 31h6m-6-36h6m-6 3h6m-5-2h6m-5 8h6m-5 0h6m-6 2h6m-5-4h6m-4-4h6m-6-2h6m-6-2h6m-6 30h6m-6-23h6m-5 20h6m-4-4h6m-5 3h6m-5-2h6m-6 10h6m-5-23h6m-6 19h6m-5 4h6m-6-22h6m-6 24h6m-4-27h6m-6 26h6m-5-29h6m-5 23h6m-6-25h6m-6-1h6m-4 27h6m-6-12h6m-6 6h6m-5-12h6m-5-1h6m-6-8h6m-5 9h6m-3 4h6m-6 4h6m-5-18h6m-6-2h6m-5 26h6m-6-19h6m-5-5h6m-5 15h6m-6-9h6m-5-3h6m-6 19h6m-5-5h6m-3-11h6m-5 25h6m-6-20h6m-6 2h6m-5 10h6m-6 0h6m-6-16h6m-5 9h6m-5 3h6m-6-16h6m-5 16h6m-6-16h6m-6 4h6m-1 6h6m-5 2h6m-6 4h6m-6-17h6m-5 13h6m-6-10h6m-5-7h6m-1 20h6m-3 6h6m-5-25h6m-6 6h6m-2 26h6m-3-32h6m-3 1h6m1 24h6m0-17h6m2 17h6m-4-13h6m-6 1h6m-335 31h6m3 7h6m-6 13h6m6-16h6m-5-6h6m-5 33h6m-3-24h6m-1 23h6m-4-2h6m-5 2h6m-5-30h6m0 21h6m2-3h6m-3-1h6m2-4h6m-5 5h6m4-21h6m1 32h6m-3-21h6m-4 4h6m-5-1h6m-2 6h6m-2 14h6m-3-29h6m6 17h6m-6-13h6m-4 19h6m-3-29h6m6 9h6m-6 24h6m-4-28h6m-2 20h6m-4 12h6m-3-13h6m-3 3h6m-3 1h6m-5 1h6m-3-23h6m-5-4h6m-4 21h6m-6 6h6m-1-12h6m-3-18h6m-5 2h6m-3 29h6m-5-14h6m-1 1h6m-6 12h6m-5 8h6m-6-28h6m-5 18h6m-4-10h6m-4-16h6m-4 33h6m-5-9h6m-3 0h6m-4-12h6m-5 3h6m-4 1h6m-1-3h6m-1 10h6m-5 5h6m-3-9h6m-6-8h6m-4-7h6m-6 24h6m-2-2h6m-1-2h6m-6-3h6m-5 15h6m-6-20h6m-5 7h6m-4 14h6m-6 0h6m-5-24h6m-6-9h6m-4 22h6m-6-27h6m0-1h6m-2 28h6m-2-10h6m-3-18h6m-3 6h6m4 23h6m-1-1h6m-4-19h6m-5 0h6m-1-1h6m0 12h6m-5 17h6m-3-25h6m4 17h6m7-7h6m-1-1h6m6 6h6m-6-7h6m-2 6h6m-4-13h6m-6-5h6m-4 4h6m-6 17h6m2-21h6m-334 53h6m-3-13h6m-3 4h6m-5 17h6m-4-25h6m-3 18h6m-3 17h6m-3-6h6m-4-7h6m13-8h6m-5 16h6m-4-30h6m-5 21h6m-5 2h6m-5 8h6m0-24h6m-4 3h6m-2-3h6m-4 10h6m-1-4h6m16 12h6m-4 0h6m4-24h6m-5 0h6m0 32h6m1-14h6m-3 11h6m-4-11h6m-2-2h6m-4 8h6m-6-25h6m-3 10h6m1 23h6m-5-19h6m10 7h6m-5-21h6m-4 24h6m-6-14h6m2-13h6m-4 28h6m2-13h6m0 1h6m-4 11h6m-4-22h6m-2-5h6m2 11h6m-2 24h6m6-15h6m-5 17h6m-3-35h6m-5 18h6m-3 4h6m-5-12h6m-3 11h6m-2-7h6m0-8h6m0 29h6m-6-4h6m-3-16h6m-4 8h6m-6 2h6m-5-19h6m-4 27h6m0-27h6m-4 30h6m-5-18h6m-3 18h6m-3-26h6m-2 5h6m-3 0h6m-3 6h6m1 12h6m-5-33h6m-5 27h6m-1 3h6m-4 0h6m17 6h6m1-30h6m-6 16h6m-4 10h6m0-7h6m-6-19h6m-5-6h6m-5 33h6m-6-8h6m-5-7h6m-2-8h6m-347 55h6m-5-7h6m0 18h6m2-22h6m1 7h6m1-23h6m-4 38h6m-6-4h6m-3-9h6m-4-19h6m-2 26h6m-5 6h6m-6-1h6m-5-34h6m-4 30h6m-4 2h6m-3-5h6m-6-27h6m0-2h6m-5 27h6m-5-11h6m-1 10h6m-3-26h6m-6 23h6m-5 12h6m-4-19h6m0-8h6m5-2h6m-3 9h6m3-14h6m-5 23h6m9 1h6m-2-6h6m5 12h6m-2-7h6m1-5h6m-5 3h6m-6 11h6m-3-35h6m-5 33h6m-4-14h6m-3 18h6m-4-36h6m-4 38h6m-4-36h6m-6 29h6m-3 2h6m9-18h6m-3-6h6m-5-9h6m1 36h6m3-35h6m-4 0h6m-4 37h6m-1-10h6m-5-7h6m-2 7h6m6-2h6m-3 6h6m-5-13h6m-2 8h6m-5 3h6m-5 2h6m-4-27h6m-4 19h6m-5-13h6m-3 22h6m-3-34h6m-3 1h6m-6 17h6m-5 8h6m-4 0h6m4-23h6m-6 27h6m-5-26h6m-6 25h6m-2-20h6m-4 15h6m-3 1h6m-5-12h6m3-3h6m-4-9h6m8 11h6m-5 27h6m-6-24h6m-5 4h6m-6 6h6m-2 13h6m1 1h6m-4-13h6m3-26h6m-1 22h6m-319 23h6m2 29h6m7-11h6m1 2h6m-5-5h6m-4-16h6m-4 3h6m7 3h6m-4 24h6m-5-8h6m-6-11h6m-3-11h6m-4 13h6m-5 21h6m-6-17h6m-3 4h6m-5-11h6m-3 19h6m-6 1h6m-5-6h6m-3-19h6m-4 1h6m-6-9h6m-2 7h6m-5 11h6m-3-17h6m-5 20h6m-6 17h6m-6-7h6m-3-5h6m-6 4h6m-5-3h6m-3-6h6m-6 2h6m-4-16h6m-3-8h6m-4 8h6m0-8h6m-5 7h6m-5 30h6m-5-9h6m-4 2h6m-5-22h6m-4 9h6m-3-4h6m-3 3h6m-1-14h6m-5 7h6m-6-2h6m-5 8h6m-5 11h6m-5-18h6m9-4h6m-4-2h6m-5 28h6m-4-11h6m-5 8h6m-5-7h6m-6-6h6m-5 16h6m-2 9h6m-5-34h6m-5 33h6m-2-16h6m-6-15h6m-5 19h6m1-1h6m-2 11h6m6-24h6m-6-8h6m-5 17h6m0-17h6m-4 16h6m-6-7h6m1 25h6m-4-34h6m-1 4h6m-2 12h6m-6-12h6m-4 23h6m-2-3h6m-5 4h6m-6-19h6m-1-3h6m-2 18h6m-2-27h6m2 32h6m-5-27h6m-6 33h6m5-8h6m-4-2h6m-4-14h6m-2-4h6m-2 12h6m2-14h6m1-6h6m-4 31h6m-5-28h6m-4 20h6m-5-26h6m-1 20h6m1 9h6m-5-7h6m-1 8h6m-6-3h6m-4 0h6m-6 12h6m-5-30h6m0 19h6m-6-23h6m-3 2h6m-5 13h6m-6 18h6m-4-36h6m-2 12h6m-6 9h6m-5-3h6m2-8h6m-5 25h6m-1 0h6m-6-23h6m-5 20h6m-344 27h6m-5 2h6m7-2h6m-5-20h6m-6 5h6m-4 5h6m-5-8h6m-6 27h6m-1-4h6m9 10h6m-2 2h6m2-4h6m-5-2h6m-4-16h6m-5-13h6m-3 32h6m-4-16h6m-2-19h6m-4 36h6m-6-2h6m3-27h6m2-3h6m-5 5h6m-2 14h6m-4-11h6m0 12h6m-4-11h6m-4 9h6m-5-10h6m-1-6h6m-4 21h6m-4-13h6m-3 22h6m4-9h6m-5-27h6m-5 28h6m-6-2h6m0 10h6m0 0h6m-3 1h6m-2-13h6m-5-1h6m-6 1h6m-5 6h6m-2-21h6m-4 19h6m-3 8h6m-4-31h6m-6 24h6m-5 5h6m-5-8h6m-1 8h6m3-30h6m-5 0h6m-4-4h6m-5 38h6m5-33h6m-3 17h6m-2 11h6m-5 4h6m-5-35h6m-4 29h6m-3 4h6m-4-32h6m-5 24h6m-5 12h6m0-13h6m-4-25h6m1 0h6m0 19h6m-6 15h6m-4-9h6m-6-1h6m-2-22h6m-5 6h6m-4 15h6m-6 14h6m-5-37h6m-3 37h6m-3-17h6m-1 9h6m-6-30h6m-3 22h6m-3 10h6m-5 7h6m-5-8h6m-5 2h6m-4-6h6m-5-7h6m-6-10h6m-4-3h6m-1 7h6m2 9h6m-6 2h6m-6-13h6m0 27h6m-6-12h6m-3-16h6m-5 28h6m-2-10h6m-6-7h6m-5-2h6m-6-8h6m-6 9h6m-6 14h6m-5-26h6m-6 16h6m-4 13h6m-5-23h6m1 18h6m-6-26h6m-4-3h6m-6 24h6m-2-3h6m-3 5h6m-3 4h6m-3-25h6m-5 15h6m-4-21h6m2 17h6m-5-19h6m-6 23h6m-329 31h6m1-9h6m-2 33h6m-6 0h6m3-30h6m-6 23h6m-6 6h6m-5-15h6m-6 11h6m-5 2h6m-6-11h6m-5-3h6m-6 1h6m-5 15h6m-6-23h6m-5-13h6m-6 20h6m-6-21h6m-5 12h6m-6 25h6m-5-22h6m-6 9h6m-6-11h6m-6-3h6m-5 17h6m-6-24h6m-6 26h6m-5 1h6m-5-2h6m-6-4h6m-5-5h6m-5-3h6m-5 6h6m-6-22h6m-6 18h6m-5-3h6m-5-8h6m-6 17h6m-6 11h6m-5-4h6m-5-30h6m-5 22h6m-6-11h6m-6-10h6m-6 12h6m-6 18h6m-6-9h6m-5 4h6m-5 1h6m-4-19h6m-5 21h6m-6-8h6m-5-14h6m-6 20h6m-5-4h6m-6 6h6m-5-21h6m-5-7h6m-6 25h6m-5-11h6m-6-8h6m-6 29h6m-5-27h6m-6-7h6m-6 4h6m-5 30h6m-6-17h6m-6 10h6m-6-15h6m-5-6h6m-5-6h6m-6 13h6m-6 20h6m-5-18h6m-5-16h6m-6 1h6m-5 15h6m-6 3h6m-6-9h6m-6 16h6m-5-4h6m-4-9h6m-6 9h6m-6 3h6m-5-26h6m-5 31h6m-6-16h6m-4-7h6m-6 10h6m-6 4h6m-6-4h6m-5 8h6m-6 4h6m-5-2h6m-6 1h6m-5-10h6m-6-2h6m-6-3h6m-3-10h6m-2 4h6m-6 26h6m-6-4h6m-4 7h6m-5-15h6m-3-16h6m-6 29h6m-5-35h6m-6 15h6m-5 22h6m-6-26h6m-5 17h6m-5-18h6m-5 3h6m-6 20h6m-6-5h6m-5-14h6m-6 17h6m-6-15h6m-5 8h6m-6-9h6m-6-14h6m-5 28h6m-6-25h6m-5 0h6m-6-6h6m-5 35h6m-5 0h6m-6-2h6m-6-15h6m-5 9h6m-6 6h6m-5 3h6m-5-7h6m-6-14h6m-5-5h6m-4 18h6m-6-14h6m-6 8h6m-6 0h6m-5 16h6m-5-4h6m-5 0h6m-6-13h6m-5 18h6m-5-35h6m-5 29h6m-6 0h6m-5-14h6m-6-2h6m-5-8h6m-6 24h6m-5-15h6m-6 5h6m-6 12h6m-4-33h6m-6 21h6m-5-9h6m-6-3h6m-6 5h6m-6-13h6m-6 17h6m-6 14h6m-6-12h6m-5 4h6m-4 10h6m-3-35h6m-6 19h6m-6 9h6m-3 7h6m-4 0h6m-6 1h6m-5-28h6m-4 22h6m-5-16h6m-4 16h6m-5-12h6m-6 13h6m-5-21h6m-6 13h6m-5-19h6m-6 20h6m-6 1h6m-4-9h6m-6 10h6m-5-1h6m-6-10h6m-6 17h6m-5-6h6m-5-21h6m-5 25h6m-6 3h6m-5-3h6m-6-6h6m-6-8h6m-5 9h6m-5-8h6m-6 2h6m-6 0h6m-4-16h6m-5 19h6m-5 11h6m-5-4h6m-6-19h6m-6-5h6m-5-3h6m-6 35h6m-6-20h6m-6 15h6m-5-21h6m-6 10h6m-5-2h6m-6-18h6m-6 28h6m-6-7h6m-5-10h6m-6 23h6m-6 0h6m-5-10h6m-6-6h6m-5 16h6m-6-15h6m-6-12h6m-6 14h6m-5 14h6m-6-31h6m-5-5h6m-6 9h6m-5 28h6m-6-7h6m-6-11h6m-5-2h6m-6-3h6m-5 24h6m-6-14h6m-4 4h6m-5-4h6m-5-15h6m-6 25h6m-6-10h6m-6-5h6m-5-8h6m-6 15h6m-5-3h6m-4 15h6m-6-16h6m-5-6h6m-5 2h6m-5-10h6m-5 14h6m-5 11h6m-6-4h6m-5-1h6m-6-22h6m-5 28h6m-6-17h6m-5-3h6m-5-13h6m-6 16h6m-6 1h6m-6 14h6m-5 2h6m-6-5h6m-5-21h6m-4 21h6m-6-3h6m-6-6h6m-6 7h6m-6-7h6m-5 9h6m-5 2h6m-6-10h6m-5-9h6m-5 14h6m-5-24h6m-6 36h6m-5-26h6m-6 22h6m-5-4h6m-6-14h6m-6 15h6m-5-7h6m-5-4h6m-5-18h6m-6 19h6m-6 8h6m-6-5h6m-5-16h6m-5 12h6m-5 6h6m-6-6h6m-4 13h6m-6 0h6m-5-8h6m-5 2h6m-2-24h6m-6 11h6m-5 7h6m-5-13h6m-5 18h6m-5 9h6m-6-7h6m-5-8h6m-4 4h6m-4 9h6m-5-13h6m-6-13h6m-6 29h6m-6-1h6m-5-9h6m-5-5h6m-3 2h6m-5 13h6m-6-4h6m-6 1h6m-6-29h6m-5 14h6m-6 12h6m-5-6h6m-6-3h6m-5 6h6m-5 1h6m-6 4h6m-4-3h6m-5-17h6m-6 0h6m-5 17h6m-5 0h6m-6 5h6m-6-2h6m-5-22h6m-6 14h6m-5-22h6m-5 31h6m-3-4h6m-5-17h6m-5-7h6m-6 31h6m-6-20h6m-5 10h6m-5 5h6m-6-13h6m-6 15h6m-5-20h6m-5 14h6m-6-4h6m-6-17h6m-5 6h6m-6 8h6m-6 12h6m-5 2h6m-6-8h6m-4-11h6m-6-9h6m-6 16h6m-5-21h6m-6-2h6m-6 38h6m-6-5h6m-6-4h6m-6-4h6m-4-8h6m-6 19h6m-5-10h6m-5-5h6m-6-1h6m-4 18h6m-6-9h6m-5-1h6m-6 3h6m-4-8h6m-5 11h6m-5 1h6m-6-4h6m-6-14h6m-5 0h6m-6 1h6m-5-14h6m-6 35h6m-4-4h6m-6 3h6m-5 0h6m-6-24h6m-5 23h6m-5-26h6m-6-8h6m-6 27h6m-4-20h6m-5 26h6m-6-3h6m-3-11h6m-6-5h6m-6 7h6m-5-7h6m-6 1h6m-5 1h6m-4-7h6m-5 10h6m-6-1h6m-5 3h6m-4 0h6m-5-22h6m-4 4h6m-6 8h6m-5 23h6m-6-1h6m-5-9h6m-5-5h6m-5-2h6m-6 9h6m-5-22h6m-5 20h6m-5-6h6m-6-7h6m-6 8h6m-5-19h6m-6 17h6m-6-15h6m-6 16h6m-5 2h6m-5-17h6m-5 2h6m-6 29h6m-6-1h6m-6-20h6m-5 22h6m-6-17h6m-6 6h6m-5-5h6m-5-20h6m-5 30h6m-5 7h6m-6-10h6m-5-23h6m-6 22h6m-5-25h6m-6 4h6m1 27h6m-6-4h6m-5-19h6m-5-8h6m-4 2h6m-4 13h6m-5 10h6m-6-6h6m-5 14h6m-6-2h6m-5-25h6m-5 28h6m-2-34h6m-5 21h6m-6 11h6m-3 3h6m0-8h6m4-17h6m-6 24h6m0-25h6m-3-11h6m-323 46h6m-5-2h6m-4-3h6m-4 16h6m-4-13h6m-6-5h6m-5 5h6m-4-5h6m-6 2h6m-4 16h6m-5-17h6m-3 8h6m-5 13h6m-4-21h6m-5 0h6m-6 0h6m-5 7h6m-4 12h6m-5-19h6m-6 1h6m-5 0h6m-3 5h6m-4 2h6m-6 9h6m-5-10h6m-2-8h6m-5 1h6m-2 13h6m-6-1h6m-4-8h6m-5 3h6m-6 0h6m-5 3h6m-5-7h6m-4 11h6m-3-14h6m-6 24h6m-4-25h6m-2 8h6m-6 5h6m-2-10h6m-5 13h6m2-11h6m-6 2h6m-3 0h6m-5 3h6m-5-10h6m-1 14h6m-5-11h6m-3-1h6m-5-1h6m-6 0h6m-6 0h6m0 6h6m-5-5h6m1 1h6m-4-3h6m-4 23h6m-5 8h6m-6-26h6m0 9h6m-3-7h6m-5 10h6m-4-11h6m-4 2h6m-4-2h6m-5 5h6m-5-6h6m-4-3h6m-5 1h6m-3 14h6m-4-2h6m-3 20h6m-5-6h6m-6-2h6m-5-13h6m-6-6h6m-4-1h6m-6 12h6m-5-19h6m-5 15h6m-4 3h6m-4 5h6m-5-8h6m-5-1h6m-4 0h6m0-13h6m-6 11h6m-4 5h6m-6-8h6m-6 29h6m0-34h6m-1 17h6m-4 4h6m-6-1h6m-4 9h6m-5-33h6m-6 30h6m-5-16h6m-4-3h6m-5-4h6m-5 12h6m-5 0h6m-3 6h6m-4-22h6m-6 10h6m-5 22h6m-4-34h6m-1 15h6m-6 1h6m-5-1h6m-6 11h6m-5-22h6m-6 20h6m-5-19h6m-2 25h6m-5-12h6m-5 6h6m-6-6h6m-5 1h6m-5 12h6m-6-11h6m-6-4h6m-6 16h6m-5-25h6m-4-5h6m-6 15h6m-4 12h6m-4-6h6m-5-22h6m-4 6h6m-5-7h6m-6-1h6m-6 18h6m-5-14h6m-6 5h6m0 15h6m-5-4h6m-5-20h6m-6 19h6m-4-17h6m-4 21h6m-2-8h6m-5 0h6m-6 8h6m1 8h6m-3-16h6m-5-7h6m-5 2h6m-3 22h6m-5-28h6m-6 20h6m1-21h6m-6 33h6m-6-3h6m-5-24h6m-3 17h6m2-15h6m-5 7h6m-5-8h6m-4 8h6m-5-9h6m-5 15h6m-5-12h6m-5 27h6m-4-30h6m-4 5h6m-5 4h6m-5-11h6m-6 28h6m-1-21h6m-5-14h6m-5 31h6m-3-10h6m-5-21h6m-245 47h6m73 14h6m0-14h6m-6-2h6m-1 20h6m-5-7h6m-5 15h6m-5-32h6m-4 15h6m-4-9h6m-4 28h6m-1-7h6m2-12h6m-3-4h6m-2-12h6m-6 28h6m2-22h6m-4 33h6m-2-26h6m-4-9h6m-4 22h6m4-26h6m1 4h6m1-3h6m0 10h6m-1 17h6m-4-4h6m-3 6h6m-1 3h6m-3-23h6m-4-10h6m6 34h6m1-4h6m-3-28h6m-5 5h6m-5 30h6m-5-37h6m-2 37h6m-4-9h6m4-16h6m-1 5h6m-137 25h6m76 28h6m48-9h6m-160 22h6m64-1h6m53 0h6m18 26h6m-69 16h6" stroke="#2f44c4" stroke-width="6" stroke-opacity=".36"/><ellipse cx="44.7" cy="13" rx="4.4" ry="2.2" fill="#4a90d0" opacity="0.55" filter="url(#b1)" transform="rotate(-38 44.7 13)"/><ellipse cx="24.6" cy="45.5" rx="11.6" ry="2.4" fill="#5574d4" opacity="0.55" filter="url(#b06)" transform="rotate(-3 24.6 45.5)"/><ellipse cx="22.2" cy="45.5" rx="8.7" ry="2" fill="#3eb0c4" opacity="0.85" filter="url(#b06)" transform="rotate(-3 22.2 45.5)"/><ellipse cx="20.5" cy="45.5" rx="6.6" ry="1.7" fill="#5cc24e" opacity="1" filter="url(#b06)" transform="rotate(-3 20.5 45.5)"/><ellipse cx="17.5" cy="45.5" rx="2.6" ry="1.2" fill="#d6d23c" opacity="1" filter="url(#b06)" transform="rotate(-3 17.5 45.5)"/><ellipse cx="16.9" cy="45.5" rx="1.3" ry=".8" fill="#e8642a" opacity="1" filter="url(#b06)" transform="rotate(-3 16.9 45.5)"/><ellipse cx="17" cy="45.5" rx=".8" ry=".6" fill="#de2a1e" opacity="1" filter="url(#b06)" transform="rotate(-3 17 45.5)"/><line x1="34.2" y1="0" x2="34.2" y2="61.2" stroke="#6a6a6a" stroke-width="1"/><line x1="0" y1="42.2" x2="61.8" y2="42.2" stroke="#4a4a4a" stroke-width="1"/><text x="1.6" y="3.6" font-size="2.9" fill="#444">Q1</text><text x="1.6" y="6.6" font-size="2.9" fill="#444">6.77</text><text x="60.2" y="3.6" text-anchor="end" font-size="2.9" fill="#444">Q2</text><text x="60.2" y="6.6" text-anchor="end" font-size="2.9" fill="#444">16.6</text><text x="1.6" y="56.8" font-size="2.9" fill="#444">Q4</text><text x="1.6" y="59.8" font-size="2.9" fill="#444">74.6</text><text x="60.2" y="56.8" text-anchor="end" font-size="2.9" fill="#444">Q3</text><text x="60.2" y="59.8" text-anchor="end" font-size="2.9" fill="#444">2.02</text><path d="M-1.6 6.1h1.6M-1.6 20.3h1.6M-1.6 37.1h1.6M-1.6 46.2h1.6M-1.6 55.5h1.6M-.9 6.1h.9M-.9 9.5h.9M-.9 13h.9M-.9 16.4h.9M-.9 19.9h.9M-.9 23.3h.9M-.9 26.8h.9M-.9 30.2h.9M-.9 33.7h.9M-.9 37.1h.9M4.5 61.2v1.6M15.2 61.2v1.6M25.1 61.2v1.6M41.5 61.2v1.6M56.7 61.2v1.6M25.1 61.2v.9M28.6 61.2v.9M32.1 61.2v.9M35.6 61.2v.9M39.1 61.2v.9M42.7 61.2v.9M46.2 61.2v.9M49.7 61.2v.9M53.2 61.2v.9M56.7 61.2v.9" stroke="#333" stroke-width=".55"/><rect x="-1.1" y="45.7" width="1.2" height="2.8" fill="#111"/><rect x="12.4" y="61.2" width="3" height="1.1" fill="#111"/><text x="-2.3" y="7.1" font-size="2.8" fill="#555" text-anchor="end">10⁵</text><text x="-2.3" y="21.3" font-size="2.8" fill="#555" text-anchor="end">10⁴</text><text x="-2.3" y="38.1" font-size="2.8" fill="#555" text-anchor="end">10³</text><text x="-2.3" y="47.2" font-size="2.8" fill="#555" text-anchor="end">0</text><text x="-2.3" y="56.5" font-size="2.8" fill="#555" text-anchor="end">-10³</text><text x="4.5" y="66.1" font-size="2.8" fill="#555" text-anchor="middle">-10³</text><text x="15.2" y="66.1" font-size="2.8" fill="#555" text-anchor="middle">0</text><text x="25.1" y="66.1" font-size="2.8" fill="#555" text-anchor="middle">10³</text><text x="41.5" y="66.1" font-size="2.8" fill="#555" text-anchor="middle">10⁴</text><text x="56.7" y="66.1" font-size="2.8" fill="#555" text-anchor="middle">10⁵</text></g>
<text x="142.6" y="15.9" font-size="7.9" text-anchor="middle" textLength="57.6" lengthAdjust="spacingAndGlyphs" stroke="#000" stroke-width="0.15">Vehicle + hypoxia</text>
<g transform="translate(183.3 20.3)"><rect x="0" y="0" width="61.8" height="61.2" fill="#fff" stroke="#b8b8b8" stroke-width=".8"/><rect x="16" y="12" width="32" height="31" rx="5" fill="#aab4ea" opacity="0.12" filter="url(#b15)"/><path transform="scale(.1)" d="M415 71h6m-228 29h6m-5 18h6m6-8h6m-1-3h6m2-6h6m6 9h6m-1 8h6m-3-5h6m-3-4h6m22-5h6m39 7h6m-1-10h6m3 12h6m9-12h6m19 16h6m-2 1h6m13-14h6m-3 9h6m-1-10h6m1 15h6m-5-5h6m-5-3h6m-4-8h6m-3 8h6m-3 7h6m-2 0h6m-6 0h6m-6-31h6m-6 30h6m-4-27h6m-6 19h6m-6-6h6m-4 5h6m-4 0h6m-5 9h6m-6-20h6m-4-7h6m-6 26h6m-6-18h6m-3 13h6m-4-18h6m-5 14h6m-6 1h6m-5-10h6m-5 6h6m-5-3h6m-4 8h6m-6-15h6m-4 14h6m-5-17h6m-3 8h6m-6 13h6m-4 1h6m-5 3h6m-4 2h6m-4 1h6m-6-14h6m-4 12h6m-5-10h6m-6-2h6m-6 3h6m-4 7h6m-4 0h6m-5-31h6m-6 10h6m-4-12h6m-6 3h6m-5 0h6m-5 3h6m-6-4h6m-5-2h6m-6 35h6m-3 3h6m-1-20h6m0 2h6m-334 37h6m4 17h6m-5-34h6m3 19h6m-4 6h6m-5 4h6m-3-19h6m-4 25h6m-2-5h6m0-27h6m-4 23h6m1 1h6m-2-13h6m-5-13h6m8 28h6m2 6h6m-5-26h6m-5-8h6m-3 17h6m-2-9h6m-6 0h6m-5 16h6m-6-2h6m3 10h6m-5-24h6m1 19h6m-5-9h6m-5 11h6m-6-28h6m-6 24h6m6-10h6m-4 14h6m-4 7h6m-2-2h6m-4-26h6m-5 28h6m3-12h6m1 13h6m5-32h6m-2 18h6m-6-25h6m1 7h6m8 14h6m10-8h6m0 25h6m-3-34h6m-1 0h6m-5 24h6m-4-23h6m-6 32h6m-4-8h6m0 8h6m-4-4h6m-6-17h6m-6 23h6m-4-5h6m-5-3h6m-5 2h6m-4-15h6m-5-17h6m-6 16h6m-5-14h6m-5 36h6m-5-18h6m-4 12h6m-6-1h6m-4-4h6m-5 9h6m-6-4h6m-5-30h6m-6 19h6m-6 5h6m-5 7h6m-6 0h6m-6-11h6m-5 15h6m-6-23h6m-6 24h6m-6-16h6m-5 11h6m-6-7h6m-5 3h6m-5 4h6m-6-28h6m-6 14h6m-5 12h6m-6-16h6m-6-5h6m-6-9h6m-4 26h6m-6 8h6m-6-27h6m-5 3h6m-6 18h6m-6 0h6m-5 3h6m-5 3h6m-6-7h6m-6 0h6m-5-17h6m-5 3h6m-5 18h6m-5-5h6m-4-10h6m-5 5h6m-6 11h6m-6-15h6m-5-2h6m-6 21h6m-6-13h6m-6-14h6m-6 19h6m-5 6h6m-6-13h6m-6 2h6m-6-23h6m-6 27h6m-6-9h6m-6 6h6m-5-16h6m-6 5h6m-6-7h6m-6 21h6m-5-19h6m-6 18h6m-6-3h6m-6 12h6m-6-10h6m-5-5h6m-6-7h6m-6 10h6m-5 1h6m-6 6h6m-6 4h6m-6-13h6m-5 9h6m-6-1h6m-6-17h6m-6-1h6m-6 12h6m-5 12h6m-6-5h6m-6 2h6m-6-29h6m-6 3h6m-6 17h6m-6 9h6m-6-1h6m-6 3h6m-5-20h6m-6-2h6m-6 23h6m-6-12h6m-5-6h6m-5 2h6m-6 17h6m-6-1h6m-6-20h6m-6 21h6m-5-6h6m-6-25h6m-6 0h6m-6 11h6m-5 5h6m-6-3h6m-6 4h6m-5 0h6m-6 0h6m-5-17h6m-6 32h6m-5-19h6m-6 13h6m-6-14h6m-6 17h6m-6-34h6m-6 10h6m-5 4h6m-6-13h6m-6 32h6m-6-10h6m-5-7h6m-6-8h6m-6 22h6m-6-7h6m-5-6h6m-6-13h6m-6-3h6m-5 30h6m-6-13h6m-6-2h6m-6 7h6m-6-8h6m-6-1h6m-6 4h6m-5-7h6m-6-8h6m-6 1h6m-5 17h6m-6 13h6m-6-11h6m-5-21h6m-6 19h6m-6 10h6m-6-30h6m-6 4h6m-6 20h6m-5 6h6m-6-33h6m-6 25h6m-5-10h6m-6-9h6m-6 1h6m-6 26h6m-5 1h6m-6-9h6m-6-4h6m-5-5h6m-4 6h6m-6-11h6m-5 5h6m-5 22h6m-6-14h6m-5 6h6m-6-12h6m-5 18h6m-3-29h6m-6 7h6m-6 25h6m-6-33h6m-4-1h6m-6 21h6m-6-8h6m-4 12h6m-3-20h6m-5-8h6m-5 26h6m-6-9h6m-4-11h6m-5-3h6m-5 7h6m-4 20h6m-6 2h6m-6-12h6m-5-14h6m-6 23h6m-5 7h6m-5-28h6m-4 11h6m-2-6h6m-328 29h6m1 34h6m-6-3h6m3-27h6m-5 23h6m-1-2h6m-5-28h6m-2 33h6m-5-5h6m7 8h6m7-12h6m-6 10h6m5-32h6m0 19h6m-4 12h6m-5-22h6m-5-4h6m-3 9h6m-4 6h6m-2 1h6m2-23h6m-6 15h6m-6-14h6m11 10h6m-5 1h6m-2 10h6m4-6h6m-2 6h6m-5 4h6m-5-21h6m-5 22h6m-6-5h6m-2-13h6m-1 12h6m-3 8h6m-3-25h6m-6 26h6m-4-10h6m5-12h6m-2-4h6m0 30h6m1 3h6m-5-26h6m-5 0h6m-5 14h6m-4 4h6m-5-14h6m-3 17h6m2-1h6m-5-32h6m-2 29h6m1-17h6m-5 26h6m-4-23h6m-5 4h6m-6 20h6m-6-15h6m-5-7h6m-5 6h6m-5-1h6m-5 17h6m-6-13h6m-4-13h6m-4 2h6m-6-2h6m-6 19h6m-5-14h6m-4 21h6m-6-9h6m-5-7h6m-6 0h6m-4 1h6m-5 10h6m-6-33h6m-5 5h6m-5 12h6m-5 11h6m-6-24h6m-6 26h6m-5-6h6m-6-18h6m-5 30h6m-6-23h6m-6 11h6m-6 7h6m-6-22h6m-5-8h6m-6 32h6m-6-18h6m-6 17h6m-5 6h6m-6-15h6m-6 11h6m-5-26h6m-6 10h6m-6 7h6m-6-20h6m-6 6h6m-5 20h6m-6-3h6m-6-9h6m-5 6h6m-5-2h6m-6 0h6m-6-11h6m-5-13h6m-6 31h6m-6-1h6m-5 0h6m-6 4h6m-4 1h6m-6-26h6m-6 18h6m-5-13h6m-5 14h6m-6-3h6m-6-5h6m-6-3h6m-6 11h6m-5-16h6m-6 4h6m-6 13h6m-6-25h6m-5 14h6m-5-14h6m-6-4h6m-6 9h6m-5-1h6m-6 15h6m-6-20h6m-6 1h6m-6 0h6m-6 25h6m-5-23h6m-6 8h6m-6 10h6m-6-16h6m-6 16h6m-6-21h6m-5 3h6m-6 22h6m-6 0h6m-5-18h6m-6 7h6m-6-17h6m-5 31h6m-6-25h6m-6 5h6m-6 18h6m-5-7h6m-5 15h6m-6-31h6m-6 7h6m-6 20h6m-6 3h6m-5-31h6m-5 13h6m-6 18h6m-6-20h6m-6 13h6m-5-17h6m-6-7h6m-5 9h6m-6 3h6m-6 4h6m-5 5h6m-6-13h6m-6 6h6m-6 7h6m-6 11h6m-5-27h6m-6 11h6m-6-18h6m-6 27h6m-6-30h6m-6 39h6m-5-38h6m-5 13h6m-6-14h6m-5 17h6m-5 5h6m-6-18h6m-5 4h6m-6 22h6m-6-28h6m-6-1h6m-4 4h6m-6 12h6m-5 13h6m-6-8h6m-5 16h6m-6-34h6m-5 2h6m-6 0h6m-6-6h6m-5 15h6m-6-12h6m-5 5h6m-5 6h6m-6-9h6m-5 5h6m-6-7h6m-6 6h6m-5-4h6m-5-5h6m-6 20h6m-5-5h6m-5 8h6m-4-1h6m-6-21h6m-4-1h6m-4 11h6m-5 24h6m-6-16h6m-5-18h6m-6 2h6m-5 7h6m-5 10h6m-5-12h6m-5-6h6m-6 7h6m-5-6h6m-5 13h6m-3 1h6m-5 17h6m-6 2h6m-4 1h6m-4-2h6m-6-22h6m-5 5h6m-6-16h6m-5 26h6m-5-16h6m-1 10h6m-5-17h6m6 31h6m-328 34h6m-5-29h6m-3 26h6m-3-12h6m-1 4h6m-1 20h6m-4-9h6m-4 9h6m3-14h6m-4 13h6m5-31h6m-3-5h6m4 25h6m0 7h6m-4-22h6m-3 10h6m-4-8h6m-3-8h6m6 16h6m-4 4h6m-1 9h6m-4-23h6m-5-12h6m-3 4h6m-5 10h6m-6 23h6m-1 1h6m-6-1h6m-6-31h6m1 29h6m0 2h6m-6-15h6m-5 14h6m-1-9h6m-4-17h6m-3 22h6m-5-22h6m-5 25h6m-5-10h6m0-21h6m-4 0h6m-3 30h6m-5-23h6m-5 8h6m1 17h6m4-33h6m-6 12h6m-5-14h6m-6 17h6m-6-2h6m-4 17h6m-3-5h6m0-5h6m-2 15h6m-4-36h6m-3 11h6m-3 24h6m-5-2h6m-3-10h6m-5-6h6m-6-7h6m-3 14h6m-5-12h6m-3 0h6m-5 18h6m-4-1h6m-4-9h6m-6 8h6m-5 6h6m-5-27h6m-3 14h6m-3-15h6m-5 0h6m-6 29h6m-2-36h6m-3 26h6m-5 10h6m-5-23h6m-5 15h6m-4-22h6m-6 15h6m-5-13h6m-4-2h6m-2 5h6m-6 20h6m-4-24h6m-5 12h6m-5-11h6m-6 1h6m-5-9h6m-6 28h6m-6-22h6m-6 7h6m-4-3h6m-6 1h6m-5 7h6m-6-1h6m-5-11h6m-5 6h6m-5 3h6m-6-13h6m-5 6h6m-4 4h6m-5 10h6m-6-23h6m-6 1h6m-6 7h6m-5 0h6m-3 1h6m-6 20h6m-5-14h6m-5 7h6m-6-5h6m-6 4h6m-4-4h6m-6-14h6m-5 18h6m-6-16h6m-5-4h6m-5 3h6m-2-2h6m-6-1h6m-4 27h6m-2-4h6m-3-11h6m-6-6h6m-4 30h6m-5-36h6m-5-1h6m-2 25h6m-5-2h6m-4 8h6m-5-29h6m1-2h6m-5 12h6m1 9h6m-2 2h6m-4 10h6m-1 4h6m-5-1h6m-5-14h6m-4 15h6m-5-3h6m5-26h6m-6 22h6m-326 20h6m-6 13h6m-6-1h6m5 7h6m3-29h6m8 15h6m-5-5h6m-6-1h6m6 4h6m5 20h6m-5-28h6m-1 33h6m-1-15h6m-6 4h6m-2 9h6m-5-4h6m-1-17h6m-4 0h6m-4 22h6m2-17h6m-4 12h6m-4-27h6m-2 19h6m-1-6h6m-2 13h6m-3-11h6m1 11h6m-6-11h6m-2-3h6m-3 19h6m-6-36h6m-5 8h6m-5 22h6m0-12h6m-1-8h6m-2-7h6m-4 13h6m-3 22h6m-4-31h6m-4 2h6m-1-7h6m-2 4h6m-2 1h6m0-2h6m-5 22h6m-4 8h6m0-23h6m-5 13h6m-5 1h6m-4 2h6m-4-20h6m-6 16h6m-1-12h6m-6 12h6m-1 12h6m-5-33h6m-5 12h6m-6 13h6m-5-28h6m-5 21h6m-1 8h6m-5-12h6m-3 14h6m-5-5h6m-6-20h6m-4 20h6m-4-19h6m-5-1h6m-6-6h6m-6 1h6m-4 26h6m-5-14h6m-4-9h6m-5 16h6m-4-17h6m-5 34h6m-5-26h6m-4 26h6m-6-10h6m-3-18h6m-6 19h6m-6-23h6m-2 7h6m-4 24h6m-5-1h6m-4-8h6m-6 7h6m-3-14h6m-6-1h6m-5-8h6m-3 27h6m-6-21h6m-5-15h6m-4 25h6m-6 11h6m-2-11h6m-5-19h6m-2 21h6m-3 8h6m-4-30h6m-6 8h6m-5 14h6m-3-8h6m-5-4h6m-6-2h6m-4 10h6m-5 7h6m-6 3h6m-5-15h6m-2 19h6m-4-2h6m-3-28h6m-6 29h6m-5-36h6m-6 9h6m-3 7h6m-5 4h6m-3-19h6m-5 22h6m-5-15h6m-3 15h6m-5-23h6m-6 26h6m-6-7h6m-5 13h6m-5-29h6m-4 0h6m-6 28h6m-6-17h6m-4-1h6m-4 14h6m-6-9h6m2 15h6m-5-27h6m-5 0h6m-3 6h6m-2 7h6m-2-9h6m-5 10h6m4-1h6m-343 49h6m-5-11h6m-5-17h6m3 36h6m-2-6h6m-6-18h6m1 6h6m5 17h6m3-26h6m-1 26h6m7-5h6m-5-31h6m-5 11h6m-4 0h6m-2 8h6m-5-15h6m2 25h6m0-29h6m-3 9h6m-4 7h6m21-12h6m-4 25h6m-3-19h6m-4 7h6m1-9h6m-5-6h6m-5 28h6m-6-4h6m-6 0h6m-5 7h6m-4-27h6m0 2h6m-2 21h6m-5-2h6m-3-15h6m-5 10h6m-2-19h6m-3 14h6m-4-9h6m-4 15h6m-5-8h6m-2 11h6m2-4h6m-5 14h6m-6-20h6m0-5h6m-2 21h6m-3-21h6m-6 7h6m-3 1h6m0 13h6m-3-16h6m-5-16h6m-5 7h6m-5 2h6m-2-4h6m-3 2h6m-6 17h6m-5-5h6m-6 10h6m-4 1h6m-3 1h6m-5 3h6m-3-9h6m-5-17h6m-2 0h6m-4 1h6m-3-3h6m-3-1h6m-5 32h6m-5-24h6m-5-1h6m-6 3h6m-6 12h6m-3-18h6m-5 17h6m-6-2h6m-5 14h6m-4-3h6m-6-23h6m-3-2h6m-6-1h6m-5 26h6m-3-1h6m-5-11h6m-6 11h6m-4-27h6m-6-4h6m-3 32h6m-5-27h6m-4-9h6m-5 6h6m-2 25h6m-4-28h6m-6 1h6m-5 9h6m-1 3h6m-5 0h6m-4-9h6m-4 2h6m-5 7h6m-4 23h6m-6-16h6m-4-10h6m-4-9h6m-4 27h6m-5-9h6m-5-21h6m-6 8h6m-6 13h6m-4 3h6m-5 3h6m-5 8h6m-5-17h6m-5-11h6m-1 12h6m-5-13h6m-5 27h6m-6-24h6m-3 14h6m-4 13h6m-3-6h6m-6-5h6m-6-8h6m-4-2h6m-6 13h6m-5-17h6m-5 20h6m-3-2h6m-6-3h6m-2 8h6m-5-5h6m-5-20h6m-3 4h6m-3-3h6m-4 22h6m-4-11h6m-331 55h6m-3-20h6m1-17h6m-1 1h6m-3 35h6m-6-30h6m2-2h6m-4 24h6m-3 3h6m-5 3h6m-5-11h6m-2-23h6m-5 14h6m-5-9h6m5 21h6m-5 7h6m-3-22h6m0-2h6m-3 21h6m-6-4h6m3-10h6m-5 16h6m-3-23h6m-5 12h6m-4 7h6m6-21h6m-1 9h6m-1 17h6m-5-21h6m-5 2h6m-3-7h6m-5 4h6m-5 18h6m-2-24h6m-5 1h6m-4 27h6m-2-31h6m-4 23h6m-3 8h6m-1-12h6m-5 4h6m-4-13h6m-4 11h6m-5-4h6m-4-9h6m-4 25h6m-3-27h6m-6 18h6m-2-4h6m-4-3h6m-5-11h6m-2-3h6m-3 13h6m-6 12h6m-5 3h6m0-4h6m-3-16h6m-5-9h6m-2 12h6m-6 9h6m-5 11h6m-5 1h6m-5-5h6m-5-10h6m-4-17h6m0 24h6m-6-20h6m-3 4h6m-6 18h6m-6-17h6m-6 15h6m-5 6h6m-3-14h6m-6-5h6m-2-9h6m-5 14h6m-5 8h6m-6 2h6m-4-22h6m-5 4h6m-5-5h6m-6-6h6m-4 11h6m-4 19h6m-5-13h6m-3 6h6m-5 9h6m-1 5h6m-5-6h6m-5-18h6m-4 2h6m-5 14h6m-5-11h6m-6-10h6m-5 11h6m-5 13h6m-3-32h6m-6 17h6m-3-8h6m-6 3h6m-6-8h6m0-3h6m-4 26h6m-6-6h6m-5 3h6m-6 4h6m-3-6h6m-4-4h6m-6-3h6m-4-2h6m0-5h6m-4-7h6m-5 18h6m-5-20h6m-3 35h6m-6-5h6m-5-16h6m-5-9h6m-5 3h6m-4-6h6m-6 28h6m-6-2h6m-5-23h6m-4 21h6m-2-19h6m-3 5h6m-5-4h6m-4 12h6m-6-19h6m-2 27h6m-6-2h6m-5-16h6m-4 1h6m-4-5h6m-6-6h6m-5 21h6m-5 10h6m4-27h6m-6 16h6m0 6h6m-2-10h6m16 14h6m-338 31h6m2 17h6m-5-13h6m-5-19h6m-6 32h6m-6-4h6m-6-22h6m-5 24h6m-5-16h6m-3 18h6m-6-4h6m-2-4h6m-6 6h6m-5-13h6m-6 9h6m-4-12h6m-6 18h6m-3-22h6m-6 9h6m-5 3h6m-2-23h6m-4 25h6m-3-4h6m-5 10h6m-4 0h6m-5-37h6m-6 30h6m-3-1h6m-6-10h6m-4 5h6m-5 13h6m-4-7h6m-4-7h6m-4 6h6m-6 9h6m-5-3h6m-6-7h6m-5-2h6m-5 11h6m-6 1h6m-2-8h6m-4 7h6m-4-1h6m-6 2h6m-6-24h6m-6 20h6m-4-23h6m-3-9h6m-6 12h6m-5 22h6m-5-12h6m-5-8h6m-6 20h6m-2-30h6m-6 27h6m-6-6h6m-4-3h6m-6-17h6m-4 27h6m-4-5h6m-6-3h6m-3 2h6m-3 10h6m-4-3h6m-4 0h6m-6-29h6m-6 20h6m-5 3h6m-5 8h6m-5-10h6m-5-22h6m-5 2h6m-4-7h6m0 31h6m-5-17h6m-5 17h6m-6 3h6m-1-28h6m-6 26h6m-3 5h6m-3-19h6m-5 20h6m-6-3h6m2-30h6m-6 33h6m-3-28h6m-5 3h6m-4 8h6m-6 0h6m-6 8h6m-6-9h6m-6 15h6m-6 3h6m-5-29h6m-6 5h6m-5 11h6m-5 9h6m-5-29h6m-5 34h6m-4-13h6m-6 12h6m-5-19h6m-4-8h6m-6 20h6m-6 6h6m-5-8h6m-5-8h6m-6-9h6m-6 15h6m-5-1h6m-4-5h6m-6-16h6m-5 29h6m-1 2h6m-5-8h6m0-22h6m-6 4h6m-3 21h6m-5 8h6m-5-20h6m-3 9h6m-6-6h6m-5-4h6m-6 16h6m-5-1h6m-5 0h6m-4 2h6m-5 2h6m-5 1h6m-5-14h6m-5 9h6m-5 6h6m1-6h6m-6 2h6m-4-5h6m-5 8h6m-4-5h6m-5-1h6m-5 2h6m-4-2h6m-6 4h6m-3-2h6m-3-22h6m-6 9h6m-4 10h6m-4 6h6m-2-10h6m-6 2h6m-4-26h6m-6 25h6m-6 4h6m-5 3h6m-5 1h6m-5-31h6m-3 33h6m-5-17h6m-5-1h6m-6 11h6m-5-9h6m-4-20h6m-6 17h6m-3 12h6m-6 1h6m-4-19h6m-5-4h6m-5 27h6m-6-1h6m-4-5h6m-4-6h6m-5 12h6m-5-30h6m-4 22h6m-5-20h6m-5 20h6m-5-17h6m-6-1h6m-4 25h6m-6 3h6m-5-19h6m-3 3h6m-4 3h6m-4-3h6m-4-15h6m-5 21h6m-6-21h6m-5 21h6m-5-22h6m-3 3h6m-5 2h6m-6-9h6m-5 2h6m-2 19h6m-5 9h6m-5-16h6m-5-15h6m-5 15h6m-5 22h6m-6-3h6m-2-4h6m0-2h6m-6-12h6m-5 7h6m-3 1h6m-4-20h6m-5 5h6m-4 25h6m-4-8h6m-5 3h6m4-10h6m-6 14h6m-3-5h6m-4-9h6m-5 5h6m-5 9h6m-5-27h6m-5 23h6m-5-10h6m2-20h6m-6 0h6m-5 17h6m-5 18h6m1-1h6m0-31h6m-335 44h6m-2 14h6m-5-3h6m-6-16h6m-5 36h6m-6-19h6m-6-6h6m-5-6h6m-6 31h6m-5-21h6m-5-12h6m-6 22h6m-5-16h6m-6 11h6m-5-22h6m-5 12h6m-4 0h6m-6-1h6m-6 13h6m-6-2h6m-5 11h6m-6 1h6m-5-3h6m-5-29h6m-6 20h6m-6-17h6m-5 16h6m-6 9h6m-5-15h6m-6-5h6m-5 8h6m-6-17h6m-5 20h6m-6-15h6m-6-4h6m-5 33h6m-5-12h6m-5 10h6m-6-14h6m-5 9h6m-6-22h6m-5 18h6m-5 1h6m-5-19h6m-5 2h6m-5 11h6m-6-5h6m-6-4h6m-6 12h6m-5 7h6m-5-18h6m-6 8h6m-5-12h6m-6 13h6m-6 2h6m-5-12h6m-6 20h6m-6-9h6m-5 14h6m-4-3h6m-6-31h6m-6 29h6m-6-11h6m-5-2h6m-6-5h6m-5-11h6m-5 10h6m-6 27h6m-6-5h6m-6-23h6m-5 10h6m-5 11h6m-5-23h6m-2 2h6m-6 21h6m-5-29h6m-6 27h6m-6-4h6m-4 3h6m-5-11h6m-4-12h6m-5 19h6m-5-5h6m-4-1h6m-5-13h6m-6 16h6m-5 17h6m-6-12h6m-4-26h6m-6 27h6m-6-5h6m-6 9h6m-6-12h6m-6 1h6m-5-13h6m-6 7h6m-6 11h6m-6-24h6m-5 18h6m-6 19h6m-6-35h6m-6 2h6m-5 4h6m-6 19h6m-4-2h6m-5-6h6m-6-14h6m-5-4h6m-5 4h6m-5-4h6m-5-1h6m-6 29h6m-6-7h6m-5-17h6m-6-2h6m-5 4h6m-4 14h6m-6 9h6m-5 5h6m-6-2h6m-6-25h6m-5-5h6m-6 1h6m-6 28h6m-5-30h6m-5 31h6m-6-19h6m-6-14h6m-5 6h6m-6-6h6m-6 8h6m-6 1h6m-6 13h6m-6 7h6m-5-29h6m-6 18h6m-5-15h6m-6 18h6m-4 6h6m-5-7h6m-6-16h6m-5-5h6m-5 15h6m-5-14h6m-5 22h6m-5-22h6m-6 21h6m-5-10h6m-5 5h6m-6-11h6m-5 4h6m-5 20h6m-4-5h6m-6-5h6m-6 9h6m-6 3h6m-6-32h6m-5 13h6m-5-1h6m-6 12h6m-6 0h6m-5-20h6m-5 14h6m-5-13h6m-6-1h6m-5 32h6m-6-18h6m-6-14h6m-5 12h6m-6 20h6m-6-15h6m-5-2h6m-5-19h6m-6 9h6m-6 20h6m-5-20h6m-6 17h6m-5-19h6m-6 32h6m-5-31h6m-5 19h6m-5-3h6m-6-23h6m-6 2h6m-5 17h6m-5-4h6m-6 20h6m-6-9h6m-6 10h6m-6-4h6m-5-20h6m-6-5h6m-6 20h6m-5-20h6m-6-8h6m-6 30h6m-5-13h6m-5-2h6m-6 8h6m-4 13h6m-6-34h6m-5 8h6m-6 13h6m-5-1h6m-6-3h6m-5-2h6m-6 16h6m-5-17h6m-6-3h6m-6-1h6m-6-8h6m-6 4h6m-5 21h6m-5-15h6m-6-12h6m-4 13h6m-6-14h6m-5 0h6m-5 25h6m-6-10h6m-6 14h6m-6-21h6m-5-5h6m-5 19h6m-5-20h6m-4 2h6m-6 23h6m-6 3h6m-4-7h6m-5-22h6m-5 1h6m-4 4h6m-2 10h6m-6 5h6m-3-21h6m-6 3h6m-6 14h6m-6 1h6m-5-17h6m-6 24h6m-4-11h6m-6-2h6m-4 13h6m-5-10h6m-6 9h6m-6 3h6m-5 6h6m-6-11h6m-5-11h6m-5-4h6m-6 13h6m-6-4h6m-6 17h6m-4-21h6m-4-4h6m-5-2h6m-5 20h6m-6-27h6m-5 12h6m-6 22h6m-5-32h6m-5 14h6m-6-14h6m-3 9h6m-5 25h6m-6-29h6m-5 3h6m-5-8h6m-6 9h6m-6-1h6m-3-10h6m-6 22h6m-5-11h6m-6 7h6m-5-15h6m-6 33h6m-4-35h6m-6 31h6m-5-12h6m-6-20h6m-5 12h6m-5 1h6m-6-2h6m-5-8h6m-6 0h6m-6 13h6m-6 16h6m-5-29h6m-6 24h6m-6 3h6m-5-13h6m-6-17h6m-5 0h6m-5 16h6m-6 20h6m-5-1h6m-4-23h6m-6 17h6m-5-8h6m-6 9h6m-6 3h6m-5-5h6m-5-27h6m-4 8h6m-6 15h6m-6 7h6m-5-18h6m-5-5h6m-6 17h6m-6 4h6m-5-28h6m-6 29h6m-6-1h6m-5-8h6m-5 6h6m-6 0h6m-4-5h6m-5-14h6m-6 14h6m-5 2h6m-5-18h6m-5 19h6m-6-8h6m-5 17h6m-5 5h6m-6-23h6m-5-2h6m-5-10h6m-6 32h6m-5-36h6m-5 25h6m-6-9h6m-5-7h6m-6-3h6m-6 22h6m-5-10h6m-6 19h6m-5-12h6m-4-13h6m-5 22h6m-5-7h6m-6-20h6m-6 23h6m-5-26h6m-5 16h6m-6 12h6m-5-24h6m-5 18h6m-5-16h6m-6 2h6m-6 3h6m-6 1h6m-6 8h6m-5-12h6m-5 4h6m-6-12h6m-5 33h6m-5-26h6m-3 3h6m-5 8h6m-4-12h6m-6 0h6m-5 3h6m-6-13h6m-5 12h6m-5 13h6m-4-13h6m-6 12h6m-6-17h6m-6 6h6m-5-5h6m-3 9h6m-5-8h6m-6 3h6m-4 6h6m-4-4h6m-6-4h6m-6 18h6m-6-5h6m-5-22h6m-3 14h6m-4 1h6m-6 7h6m-5-10h6m-6-7h6m-6 1h6m-6 14h6m-3-1h6m-6-2h6m-5-2h6m-6-15h6m-4 17h6m-4-9h6m-6 2h6m-5-2h6m-5-2h6m-5 24h6m-4-12h6m-4 16h6m-5 0h6m-4-31h6m-5 5h6m-6 8h6m-6-1h6m-3-2h6m-6-5h6m-6-6h6m-4 34h6m-5-33h6m-5 5h6m-5 23h6m-6-16h6m-5 11h6m-3-11h6m-5-11h6m-5 17h6m-5-17h6m-4 3h6m-5 27h6m-5-25h6m-5 6h6m-6 9h6m-5-13h6m-6 1h6m-5 17h6m-4 0h6m-2-19h6m-5 2h6m-5 10h6m1-7h6m-292 26h6m-4 9h6m-4-5h6m-5-4h6m17 3h6m-3-1h6m-5 11h6m-5-9h6m2-1h6m2 8h6m11-12h6m-5 3h6m8 27h6m-3-14h6m-5 22h6m-2-33h6m-4 5h6m-1-4h6m-5-7h6m-2 5h6m-5-3h6m-6 33h6m-2 4h6m-4-31h6m-5 29h6m-5-30h6m-5-3h6m3 3h6m-4 31h6m-5-1h6m0 2h6m3-20h6m-6-14h6m1 6h6m1 8h6m0-17h6m-4 0h6m-3 29h6m-2-26h6m21 15h6m-1-14h6m-2-2h6m-3-2h6m-6 37h6m-5-37h6m-6 37h6m-5-8h6m-2 4h6m2 1h6m-5-3h6m-4-1h6m-2 3h6m-1-27h6m-5-7h6m-4 31h6m-3-1h6m11-20h6m3-7h6m-193 65h6m-6-12h6m-6-15h6m-4 8h6m0-7h6m5 33h6m-5-31h6m5 24h6m17-17h6m-5-12h6m-2 34h6m-4-2h6m-5-22h6m-4-7h6m-3 30h6m0-19h6m-6-6h6m5-3h6m-5 11h6m8 20h6m12-11h6m13-3h6m-6-1h6m0-5h6m-4-2h6m7-9h6m-4 22h6m-4-18h6m-6 9h6m-5-14h6m-3-1h6m-1 25h6m4 6h6m-4-31h6m-1 34h6m2-35h6m-4 33h6m19-20h6m-220 38h6m13-13h6m86 20h6m0-9h6m32-2h6m-1-7h6m6 0h6m8-2h6m2 22h6m-192 40h6m51 7h6m90-13h6m26-8h6m-62 38h6" stroke="#2f44c4" stroke-width="6" stroke-opacity=".36"/><ellipse cx="40.6" cy="16" rx="3.6" ry="2" fill="#44b8a8" opacity="0.75" filter="url(#b1)" transform="rotate(-50 40.6 16)"/><ellipse cx="22.3" cy="44.4" rx="9.5" ry="3.5" fill="#5574d4" opacity="0.55" filter="url(#b06)" transform="rotate(-6 22.3 44.4)"/><ellipse cx="20.4" cy="44.4" rx="7.2" ry="2.9" fill="#3eb0c4" opacity="0.85" filter="url(#b06)" transform="rotate(-6 20.4 44.4)"/><ellipse cx="19" cy="44.4" rx="5.4" ry="2.5" fill="#5cc24e" opacity="1" filter="url(#b06)" transform="rotate(-6 19 44.4)"/><ellipse cx="16.5" cy="44.4" rx="2.1" ry="1.7" fill="#d6d23c" opacity="1" filter="url(#b06)" transform="rotate(-6 16.5 44.4)"/><ellipse cx="16.1" cy="44.4" rx="1" ry="1.2" fill="#e8642a" opacity="1" filter="url(#b06)" transform="rotate(-6 16.1 44.4)"/><ellipse cx="16.1" cy="44.4" rx=".6" ry=".8" fill="#de2a1e" opacity="1" filter="url(#b06)" transform="rotate(-6 16.1 44.4)"/><line x1="34.2" y1="0" x2="34.2" y2="61.2" stroke="#6a6a6a" stroke-width="1"/><line x1="0" y1="42.2" x2="61.8" y2="42.2" stroke="#4a4a4a" stroke-width="1"/><text x="1.6" y="3.6" font-size="2.9" fill="#444">Q1</text><text x="1.6" y="6.6" font-size="2.9" fill="#444">18.7</text><text x="60.2" y="3.6" text-anchor="end" font-size="2.9" fill="#444">Q2</text><text x="60.2" y="6.6" text-anchor="end" font-size="2.9" fill="#444">17.6</text><text x="1.6" y="56.8" font-size="2.9" fill="#444">Q4</text><text x="1.6" y="59.8" font-size="2.9" fill="#444">62.0</text><text x="60.2" y="56.8" text-anchor="end" font-size="2.9" fill="#444">Q3</text><text x="60.2" y="59.8" text-anchor="end" font-size="2.9" fill="#444">1.65</text><path d="M-1.6 6.1h1.6M-1.6 20.3h1.6M-1.6 37.1h1.6M-1.6 46.2h1.6M-1.6 55.5h1.6M-.9 6.1h.9M-.9 9.5h.9M-.9 13h.9M-.9 16.4h.9M-.9 19.9h.9M-.9 23.3h.9M-.9 26.8h.9M-.9 30.2h.9M-.9 33.7h.9M-.9 37.1h.9M4.5 61.2v1.6M15.2 61.2v1.6M25.1 61.2v1.6M41.5 61.2v1.6M56.7 61.2v1.6M25.1 61.2v.9M28.6 61.2v.9M32.1 61.2v.9M35.6 61.2v.9M39.1 61.2v.9M42.7 61.2v.9M46.2 61.2v.9M49.7 61.2v.9M53.2 61.2v.9M56.7 61.2v.9" stroke="#333" stroke-width=".55"/><rect x="-1.1" y="45.7" width="1.2" height="2.8" fill="#111"/><rect x="12.4" y="61.2" width="3" height="1.1" fill="#111"/><text x="-2.3" y="7.1" font-size="2.8" fill="#555" text-anchor="end">10⁵</text><text x="-2.3" y="21.3" font-size="2.8" fill="#555" text-anchor="end">10⁴</text><text x="-2.3" y="38.1" font-size="2.8" fill="#555" text-anchor="end">10³</text><text x="-2.3" y="47.2" font-size="2.8" fill="#555" text-anchor="end">0</text><text x="-2.3" y="56.5" font-size="2.8" fill="#555" text-anchor="end">-10³</text><text x="4.5" y="66.1" font-size="2.8" fill="#555" text-anchor="middle">-10³</text><text x="15.2" y="66.1" font-size="2.8" fill="#555" text-anchor="middle">0</text><text x="25.1" y="66.1" font-size="2.8" fill="#555" text-anchor="middle">10³</text><text x="41.5" y="66.1" font-size="2.8" fill="#555" text-anchor="middle">10⁴</text><text x="56.7" y="66.1" font-size="2.8" fill="#555" text-anchor="middle">10⁵</text></g>
<text x="213.4" y="15.9" font-size="7.9" text-anchor="middle" textLength="27.8" lengthAdjust="spacingAndGlyphs" stroke="#000" stroke-width="0.15">Lobeline</text>
<g transform="translate(253 20.3)"><rect x="0" y="0" width="61.8" height="61.2" fill="#fff" stroke="#b8b8b8" stroke-width=".8"/><rect x="16" y="12" width="32" height="31" rx="5" fill="#aab4ea" opacity="0.12" filter="url(#b15)"/><path transform="scale(.1)" d="M486 32h6m-94 45h6m-3-10h6m6-16h6m-1 22h6m2 4h6m-3-10h6m-2-18h6m3 8h6m-5 14h6m-5 8h6m-5-6h6m-4-21h6m-5 25h6m-3-36h6m-6 21h6m-2-17h6m-5 32h6m-5 1h6m-6-4h6m-1 4h6m-4-15h6m-4-13h6m-1 13h6m-6-16h6m-3 23h6m-6 2h6m-4 2h6m10-9h6m-2 11h6m-359 26h6m2-7h6m4-14h6m-4 27h6m-5 8h6m-4-5h6m-5-4h6m1 7h6m6-15h6m-2 6h6m-3-11h6m-6 10h6m3-18h6m0 20h6m-5-24h6m6 28h6m-3-5h6m-6-8h6m-2 8h6m4-6h6m-2 19h6m-5-10h6m9-17h6m-6 26h6m-5 2h6m-2-15h6m1-9h6m1 12h6m4 3h6m4-19h6m-1 18h6m-3-17h6m-5 19h6m-4-4h6m-2-22h6m0 7h6m-1-6h6m-2 3h6m-4 30h6m2-31h6m-6 21h6m1-22h6m-5 23h6m1 2h6m-3-12h6m-4 3h6m4 9h6m-2-8h6m-3-17h6m-6-3h6m-5 7h6m-6 1h6m-4 15h6m-4 10h6m-1-7h6m-5-3h6m-3-5h6m-4-1h6m-6 1h6m-3 5h6m-2 1h6m-4-25h6m-6 29h6m-5 6h6m-5 0h6m-5-3h6m-5-2h6m-6-22h6m-6 25h6m-3 1h6m-5-27h6m-5 27h6m-6-13h6m-6 0h6m-5 14h6m-6-20h6m-5 18h6m-5-14h6m-5-15h6m-6 11h6m-6 14h6m-5-8h6m-6 3h6m-5-14h6m-5 18h6m-5-12h6m-5 13h6m-5 7h6m-6-29h6m-5 11h6m-5-2h6m-6 14h6m-5-18h6m-6 15h6m-4 5h6m-6-15h6m-6-16h6m-5 7h6m-5 7h6m-6 10h6m-5 3h6m-6 5h6m-6-7h6m-5 8h6m-6-12h6m-6 12h6m-6-6h6m-6-19h6m-4 25h6m-6-2h6m-6-13h6m-6 13h6m-5-4h6m-6 7h6m-6-21h6m-5 0h6m-6 21h6m-6-9h6m-5 9h6m-6-6h6m-6-3h6m-5-16h6m-6 2h6m-5-2h6m-5 9h6m-6 14h6m-6-1h6m-6-11h6m-5 6h6m-6 6h6m-6-17h6m-6 13h6m-5-16h6m-6 8h6m-6 9h6m-6-31h6m-5 15h6m-6-9h6m-5-6h6m-6 23h6m-6 9h6m-6-1h6m-5-21h6m-6 21h6m-5-25h6m-5 15h6m-6 11h6m-6-21h6m-5 20h6m-6-14h6m-6 4h6m-6-8h6m-5 19h6m-6-16h6m-5 3h6m-6 18h6m-6-23h6m-6-14h6m-6-2h6m-5 9h6m-6 13h6m-6 12h6m-6-2h6m-6-32h6m-5 19h6m-6 6h6m-5-4h6m-5 9h6m-6 4h6m-5-9h6m-6 7h6m-6 2h6m-5-16h6m-6 5h6m-5-7h6m-6-1h6m-6 3h6m-5-13h6m-6 25h6m-6-14h6m-6-10h6m-5 15h6m-6 17h6m-6-24h6m-6 4h6m-6-2h6m-5 23h6m-6-18h6m-6-15h6m-6 20h6m-6-26h6m-5 17h6m-6 7h6m-5 13h6m-5-30h6m-6 30h6m-5-2h6m-6-5h6m-6-15h6m-5 17h6m-6 3h6m-5-12h6m-6 13h6m-6-33h6m-6 35h6m-5-21h6m-6 19h6m-5-30h6m-6-4h6m-6 22h6m-5-24h6m-6 13h6m-5-8h6m-5 4h6m-5 22h6m-6 4h6m-5-15h6m-6-16h6m-5 11h6m-5-3h6m-4 16h6m-2 1h6m-6-14h6m-5 15h6m5-19h6m-360 36h6m-1 17h6m1 0h6m-2-17h6m6 14h6m4-10h6m2 7h6m-2 2h6m-4-20h6m-3 25h6m7 0h6m0-24h6m-2-1h6m-2 14h6m0 25h6m-5-26h6m-3 5h6m-4 12h6m-6 5h6m-2 4h6m-1-14h6m2 1h6m-3 9h6m3-32h6m-3 18h6m-6-2h6m-1 12h6m-3-3h6m-5-28h6m-4 16h6m-1 6h6m-4-20h6m3 16h6m-4-3h6m-6-14h6m-2 14h6m-6-5h6m1-3h6m-5 20h6m-5-4h6m-2 12h6m-5-16h6m-5-19h6m4 22h6m2-16h6m-4 28h6m-5-13h6m-6 3h6m-6-3h6m-2 17h6m-4-32h6m0 23h6m-3-23h6m-4 10h6m-6 7h6m-4-23h6m-6 38h6m-3-33h6m-4 32h6m-5-25h6m-4-1h6m-5 3h6m-4 2h6m-3 3h6m-4 18h6m-2-23h6m-4 13h6m-5-18h6m-5 25h6m-5-18h6m-4 23h6m-3-5h6m-5-13h6m-6-14h6m-6 16h6m-6 9h6m-4-13h6m-4-5h6m-6 19h6m-5-1h6m-6 3h6m-6 2h6m-5-4h6m-5-13h6m-6 14h6m-5-5h6m-5-13h6m-5-12h6m-6 23h6m-6 10h6m-5-17h6m-5 8h6m-6-3h6m-5 0h6m-6 1h6m-6 8h6m-6-20h6m-6 20h6m-6-27h6m-5 10h6m-6 3h6m-6 19h6m-5-11h6m-6-25h6m-5 20h6m-5-8h6m-5 12h6m-6 7h6m-6-20h6m-6 17h6m-5-16h6m-6 0h6m-6-6h6m-6-7h6m-5 31h6m-6-25h6m-5-3h6m-5 24h6m-6-6h6m-5-4h6m-6 0h6m-6-12h6m-5 30h6m-6-13h6m-6-5h6m-5 3h6m-6 3h6m-5-17h6m-5 26h6m-6 1h6m-6-2h6m-6-13h6m-5 15h6m-6-8h6m-6-25h6m-6 23h6m-6 12h6m-6-10h6m-5-18h6m-6-1h6m-6 5h6m-5-9h6m-4 10h6m-6 10h6m-5 3h6m-6 7h6m-6 5h6m-6-32h6m-5 28h6m-6-18h6m-5-1h6m-6-4h6m-6 1h6m-6 5h6m-5 8h6m-6-21h6m-5 26h6m-6-8h6m-6 10h6m-5-30h6m-6 20h6m-6-7h6m-5 12h6m-6 3h6m-6 6h6m-5-6h6m-6-22h6m-5 17h6m-6-14h6m-6 0h6m-5 27h6m-6-39h6m-6 23h6m-6-22h6m-6 36h6m-6-11h6m-5 1h6m-6-27h6m-6 18h6m-5-18h6m-6 35h6m-6-4h6m-5-22h6m-6 2h6m-5-11h6m-6 21h6m-6-19h6m-5 18h6m-6 3h6m-6-17h6m-6 18h6m-6 0h6m-6-21h6m-6 27h6m-5-25h6m-6 11h6m-6-8h6m-5-8h6m-6 2h6m-6 36h6m-5-35h6m-5 22h6m-6-3h6m-6-8h6m-5 25h6m-6-24h6m-6 13h6m-6 9h6m-5 1h6m-6-25h6m-6-13h6m-6 10h6m-5 1h6m-6-7h6m-6-1h6m-6 14h6m-5-4h6m-6 7h6m-6-3h6m-5 14h6m-6-15h6m-6-16h6m-4 37h6m-6-30h6m-6 7h6m-4-14h6m-6 13h6m-6-11h6m-5 15h6m-4 3h6m-6-14h6m-6 17h6m-6 6h6m-5-10h6m-6-14h6m-6 10h6m-5 1h6m-6-10h6m-6 6h6m-6 23h6m-6-23h6m-6 5h6m-5-3h6m-6-4h6m-6 18h6m-6-13h6m-5 5h6m-4-19h6m-5 11h6m-5 6h6m-4 0h6m-6 16h6m-5-28h6m-5 8h6m-6-1h6m-6 12h6m-5-20h6m-6 11h6m-6-1h6m-3 0h6m-6-7h6m-5 7h6m-4-15h6m-6 3h6m-5 13h6m-6-5h6m-5 12h6m-6-20h6m-6 36h6m-4-35h6m-5 20h6m-1-6h6m-5 19h6m-5-28h6m9 19h6m-355 32h6m-4-10h6m9 1h6m-3 11h6m-1 9h6m-1-16h6m-3 22h6m-2-21h6m-4-4h6m-6 11h6m-4 14h6m0-36h6m-1 15h6m0 13h6m-2-23h6m2-2h6m2 29h6m-1-4h6m0 5h6m-5 4h6m-5-35h6m-6-2h6m-6 12h6m-5-10h6m-5 2h6m-3 21h6m-3-8h6m2-5h6m-2 20h6m1-27h6m-5 30h6m-6 0h6m-6-5h6m2-1h6m-6 3h6m-6 2h6m-2-28h6m-5 32h6m-3-36h6m-5 14h6m-2 19h6m-1-34h6m-5-1h6m-5 4h6m-5 1h6m10 10h6m-5 16h6m-4-9h6m4 0h6m0 15h6m-6-25h6m-1 13h6m-4 3h6m-6-8h6m-4 8h6m-1-9h6m-5 16h6m-2-5h6m-2-28h6m-6 33h6m-5-19h6m-3 13h6m-6-18h6m-5 11h6m-6 16h6m-4-25h6m-5 24h6m-1-35h6m-6 18h6m-4 3h6m-4 7h6m-6-7h6m-5-4h6m-5-13h6m-5 30h6m-6-6h6m-5 0h6m-6-2h6m-5 4h6m-6-22h6m-5-4h6m-6 18h6m-5 1h6m-6-18h6m-6-7h6m-5 5h6m-5-3h6m-5 10h6m-5-11h6m-6 23h6m-6-24h6m-5 9h6m-6 8h6m-4 10h6m-6-25h6m-6 27h6m-6-3h6m-6-22h6m-5 32h6m-6-16h6m-5-16h6m-6 23h6m-5-23h6m-6-5h6m-6 0h6m-6 26h6m-6-18h6m-6 20h6m-6-19h6m-5 6h6m-6 18h6m-5-14h6m-6 15h6m-5-13h6m-6-11h6m-6 15h6m-5-18h6m-6 14h6m-6-13h6m-6 29h6m-5-27h6m-4 8h6m-6 18h6m-5-34h6m-4 3h6m-6 21h6m-4-4h6m-5-21h6m-5 5h6m-5 13h6m-6-15h6m-5 28h6m-6-31h6m-5 32h6m-5-5h6m-6-25h6m-6 35h6m-5-35h6m-4 12h6m-6 20h6m-6-17h6m-6-3h6m-6 12h6m-6-6h6m-6-3h6m-5 18h6m-5-36h6m-5 37h6m-6-11h6m-5 9h6m-6 3h6m-5-30h6m-5-3h6m-5 25h6m-6-21h6m-4-5h6m-6 15h6m-6 7h6m-6-17h6m-6 16h6m-4-24h6m-6 33h6m-6-19h6m-5-14h6m-6 12h6m-6 22h6m-5-29h6m-6 2h6m-5 27h6m-6-10h6m-6-5h6m-5-3h6m-6-14h6m-6 6h6m-5-6h6m-6-2h6m-6 8h6m-5-3h6m-6 14h6m-6 18h6m-6-24h6m-5 6h6m-6 9h6m-5-20h6m-6 0h6m-5-2h6m-5 23h6m-5 0h6m-5 7h6m-4-26h6m-6-9h6m-6 10h6m-5 3h6m-6 13h6m-6-1h6m-5-21h6m-5 6h6m-6 19h6m-5-7h6m-5-16h6m-6-8h6m-6 38h6m-5-2h6m-5-13h6m-2 3h6m-5-18h6m-6 23h6m0 8h6m-5-17h6m-5-9h6m-4-12h6m-3 11h6m0 1h6m-4-9h6m-5 26h6m-4-2h6m-6-3h6m-3-5h6m1-13h6m-1 32h6m-6-15h6m-5 12h6m-335 16h6m-4-2h6m-3 15h6m2 2h6m-4-24h6m-4 14h6m-3 7h6m-2-6h6m-1-4h6m9 3h6m-4-14h6m-1 34h6m-4-25h6m-4 26h6m2-38h6m-4 13h6m-2 25h6m-5-37h6m0 5h6m3 19h6m-5 1h6m-4-8h6m-5 3h6m-5 6h6m-4 7h6m-4-19h6m-4 16h6m0 4h6m-6-26h6m-4 0h6m-4 8h6m-1-13h6m-2 3h6m5 32h6m-5-5h6m-4-7h6m-5-23h6m-2 0h6m-2 15h6m-6 3h6m6 0h6m-6 6h6m-6-21h6m0 17h6m-3-19h6m-6 26h6m-4 6h6m2-12h6m-3-12h6m-1 15h6m-6-16h6m-5 8h6m-5-13h6m-5-5h6m-5 28h6m-6-2h6m0-4h6m-6-24h6m-6 33h6m0-27h6m-6 18h6m-4 8h6m-6-19h6m-3-10h6m-4 32h6m-4-31h6m-5 32h6m-5-30h6m-6 15h6m-5-6h6m-6 12h6m3 5h6m-5-30h6m-6 10h6m-5-8h6m-5-2h6m-5 28h6m-5 9h6m-5-5h6m-5-32h6m-6 1h6m-5 25h6m-5 7h6m-5-32h6m-5 17h6m-5 16h6m-5-36h6m-4 19h6m-5-15h6m-5 6h6m-6 4h6m-5-9h6m-6-5h6m-5 20h6m-6-3h6m-6-9h6m-6-4h6m-5 16h6m-6-5h6m-4 7h6m-5-2h6m-6 7h6m-5-24h6m-3 30h6m-2-31h6m-1 26h6m-6-26h6m-5 37h6m-6-22h6m-3-1h6m-5 4h6m-5-2h6m-3-5h6m-4-13h6m-5 5h6m-6-1h6m-4 27h6m-3-17h6m-3-4h6m-5 17h6m-2-7h6m-5 3h6m-2-11h6m-5-3h6m0 5h6m-5 0h6m-6 20h6m-4-21h6m-4-2h6m-5 10h6m-4 17h6m-4-31h6m-4 29h6m-1 2h6m-6 0h6m0-36h6m-3 32h6m-5-22h6m-4-9h6m-1 25h6m-3-7h6m-3 5h6m-3-3h6m9-3h6m-360 54h6m14-32h6m2 34h6m-2-25h6m2 27h6m-2-17h6m-4 10h6m-4-19h6m-6 27h6m-5-36h6m-5 18h6m2 18h6m-2-27h6m-2 10h6m-6-10h6m-5 21h6m-3-24h6m-5-7h6m-5 22h6m-6-14h6m-5 16h6m-5-1h6m-5 2h6m-5-2h6m0 12h6m-3-8h6m-4 1h6m2 5h6m-5-22h6m-1-9h6m1 8h6m-2 23h6m-3-14h6m2-15h6m3 9h6m-6 5h6m-5 11h6m1-23h6m-6-5h6m-5 36h6m-4-16h6m0-6h6m-6 16h6m-2-21h6m0 23h6m-4-29h6m-3 13h6m-1 19h6m-5-20h6m-3-1h6m-5 22h6m-5-20h6m-3-17h6m-4 30h6m-5-18h6m-2-5h6m-6 12h6m-5-4h6m-4 19h6m-4-23h6m-3 15h6m-1 3h6m-5 8h6m-4-26h6m-3 19h6m-5-16h6m-3-6h6m-4 24h6m-6-11h6m-6 14h6m-4-21h6m-5 20h6m-6-14h6m-3-21h6m-3 33h6m-5-30h6m-5 10h6m-4-9h6m-6 32h6m-6-1h6m-5-2h6m-4-19h6m-5 17h6m-5-21h6m-3 9h6m-6-2h6m-4 1h6m-6-7h6m-5-8h6m-6 5h6m-5 10h6m-5 12h6m0-2h6m-6-23h6m-5 3h6m-6 13h6m-6-16h6m-5 9h6m-5 17h6m-5-18h6m-6 19h6m-6-33h6m-5 8h6m-6 10h6m-5 0h6m-5 2h6m-3-10h6m-5 24h6m-4-6h6m-5 2h6m-5-10h6m-6 7h6m-4-19h6m-5 6h6m-5 8h6m-6-7h6m-5-10h6m-5 0h6m-6 16h6m-2-9h6m-5 20h6m-6-4h6m-4-14h6m-6 14h6m-6-11h6m-5 2h6m-4 9h6m-4-6h6m-5-17h6m0 28h6m-4-28h6m-5-5h6m-6 3h6m-5 7h6m-5 16h6m-5-9h6m-5-4h6m-6-6h6m-6 1h6m-5 14h6m-5-14h6m-5 3h6m-5 6h6m-6 18h6m-5-26h6m-4-5h6m-4 11h6m-3 18h6m-5-31h6m-6 7h6m-5 29h6m-5-1h6m-5 0h6m-3-32h6m-6 1h6m-1 8h6m-5 15h6m-5-5h6m-5-17h6m-2 16h6m-4 12h6m-1-28h6m-5 28h6m-4 0h6m-5-7h6m-5-20h6m2-7h6m0 19h6m-5 9h6m-5 7h6m47-35h6m-408 66h6m-1-3h6m2 14h6m2-26h6m-4 0h6m-5 19h6m-3-3h6m-4-14h6m7 17h6m-2-25h6m-1 13h6m-5-11h6m-4-5h6m-5 20h6m-3-3h6m0 11h6m-4-25h6m-6 18h6m4-3h6m-6 3h6m3-2h6m-6-8h6m-2-2h6m-4-12h6m-5 37h6m-3-33h6m0-1h6m-2 4h6m-5 4h6m-6-5h6m-6-4h6m-5-1h6m-3 30h6m-3-2h6m-4-2h6m-3-1h6m-6-2h6m-3 3h6m0-15h6m-5 5h6m-6-13h6m-2-2h6m-2-1h6m-4 20h6m-5-1h6m-1 12h6m-4-2h6m-5-8h6m-4-3h6m-4 17h6m-2-2h6m13-12h6m-5 6h6m-4-19h6m-4 1h6m-5-5h6m-4 14h6m-5-1h6m-5-6h6m6 16h6m-6-1h6m-3 0h6m-6 3h6m-5-27h6m-6 28h6m-5-25h6m-6 1h6m-4 31h6m-3-32h6m-4 15h6m-6-14h6m-3 15h6m-3 3h6m-5-11h6m-5 16h6m-6-12h6m-3 2h6m-6 2h6m-5 3h6m-6 1h6m-6 0h6m-6 12h6m-5-36h6m-1 20h6m-5 9h6m-4-13h6m0 8h6m-4 7h6m-5-22h6m-5 27h6m-6-35h6m-4-3h6m-6 15h6m-4-9h6m-4 9h6m-5-10h6m-5 25h6m-5 0h6m-6-25h6m-4 5h6m-3 15h6m-6 7h6m-5-27h6m-5 17h6m-6-16h6m-6 21h6m-6-14h6m-5 2h6m-5-7h6m-4 21h6m-6-18h6m-4-2h6m-5 30h6m-5-1h6m-5-17h6m-5-4h6m-5 9h6m-4-19h6m-3 30h6m-4-10h6m-5-5h6m-5-8h6m-5-14h6m-5 11h6m-6-8h6m-5-1h6m-5 16h6m-6-1h6m-5 13h6m-2-12h6m-6 15h6m-6-33h6m-4 5h6m-4 9h6m-6 19h6m-4-33h6m-5 3h6m-6 10h6m-4 9h6m-6-21h6m-5 35h6m-6-9h6m-2-27h6m-6 15h6m-4-3h6m-4 25h6m-6-25h6m-5 27h6m-5-27h6m-4-5h6m-6 15h6m-1-13h6m-1-1h6m-6 11h6m-1-3h6m-6 2h6m-5-9h6m-3 8h6m-5 15h6m-3-30h6m-1 17h6m0-1h6m-342 41h6m-6 10h6m-3 4h6m-6-28h6m3 12h6m-4 3h6m2 0h6m-4 10h6m-1 0h6m-5-25h6m-6 15h6m-1-5h6m-5 6h6m2-3h6m-5-10h6m-2 20h6m-4-6h6m1 8h6m-6 5h6m-4-8h6m-2-12h6m-3-12h6m-6 6h6m-6-2h6m-5 2h6m-4 27h6m-5-2h6m-6-12h6m-5 10h6m-5-17h6m-5 17h6m-2-5h6m-6-16h6m3 4h6m-4 12h6m-6-27h6m-5 38h6m-5-13h6m-6-10h6m-3-12h6m-1 9h6m-1 12h6m-6-6h6m-4 21h6m-5-37h6m-2 22h6m-4-17h6m-1 12h6m0 2h6m-5-10h6m-5-2h6m-4-4h6m-6 31h6m1-32h6m-5 29h6m-1-5h6m-5 1h6m-6 3h6m-4-1h6m-3-4h6m-6-8h6m-2-13h6m-5 33h6m-1-38h6m-4 26h6m-3-13h6m1 2h6m-4 12h6m-4-4h6m-6-14h6m-4 18h6m-6-1h6m-4 12h6m-5-17h6m-3-1h6m-5-9h6m-6 21h6m-5-23h6m-1 15h6m1-14h6m-6-3h6m-5-2h6m-5-4h6m-5 12h6m-5 8h6m-5 16h6m-4-33h6m-4 23h6m-5-24h6m-6 1h6m-2 19h6m-6 9h6m-5-18h6m-2 12h6m-4-11h6m-5 19h6m-6 1h6m-5-32h6m-3 1h6m-6-3h6m0 28h6m-4-22h6m-5-5h6m-4 19h6m-6-19h6m-1-3h6m-3 18h6m-6 16h6m-5-17h6m-6 13h6m-5-27h6m-5 8h6m-6 27h6m-6-7h6m-4-20h6m-5-8h6m-5 21h6m0-16h6m-6 19h6m-5-7h6m-6-7h6m-5-6h6m-4-1h6m-4 17h6m-6-5h6m-4 3h6m-6-18h6m-6 21h6m-1-15h6m-1 21h6m-6-29h6m-5 9h6m-6-4h6m-3 23h6m-4-3h6m-3-1h6m-5 9h6m-6-3h6m-4 4h6m-3-22h6m-5 10h6m-6-19h6m-5 28h6m-6 7h6m-5-34h6m-4 9h6m-1-14h6m1 0h6m1 24h6m1-10h6m-4 20h6m4 1h6m-5-15h6m-6 18h6m-332 3h6m4 35h6m-4-12h6m-5 7h6m-5-8h6m-5-1h6m-5 1h6m-4 8h6m-6 3h6m-4-21h6m-3 6h6m-4 0h6m1 17h6m-6-12h6m-5 2h6m-5-3h6m-5 3h6m-5 10h6m-4-30h6m-4 0h6m-4 18h6m-2 9h6m-5-18h6m-4-15h6m-6 16h6m-5 14h6m-5-12h6m-2-4h6m-5 14h6m-4-7h6m-3-14h6m-5 21h6m-5 2h6m-4-7h6m-6-16h6m-6 31h6m-6-34h6m-5 25h6m-4-15h6m-6 10h6m-6-8h6m-5-6h6m-6 11h6m-5 3h6m-6 8h6m-3 7h6m-5-23h6m-6 14h6m-5-30h6m-6 26h6m-5 9h6m-6-22h6m-3 6h6m-5-5h6m-4 20h6m-5-18h6m-5 2h6m-6 4h6m-5-4h6m-6 7h6m-6 14h6m-5-6h6m-6 3h6m-4-21h6m-6 20h6m-5 3h6m-5-1h6m-5-3h6m-2-27h6m-1 12h6m-4 7h6m-5 6h6m-3-7h6m-6 9h6m-2-3h6m-6 5h6m-5-3h6m-3 3h6m-6-6h6m-3-11h6m-2-2h6m-4 15h6m-5-17h6m-4 20h6m-6 2h6m-5-22h6m-6 18h6m-5-8h6m-5-5h6m-6-8h6m-4-3h6m-5 6h6m-5 24h6m-3-27h6m-6 13h6m-2-5h6m-6 1h6m-4 8h6m-6-19h6m-5 27h6m-5-4h6m-3-15h6m-5 20h6m-5-17h6m-6 8h6m-3-7h6m-1 1h6m-6-2h6m-4-10h6m-5 17h6m-5-15h6m-4 14h6m-6-6h6m-5-11h6m-5 29h6m-6-14h6m-5 12h6m-4-22h6m-5 20h6m-6-34h6m-3 24h6m-6 13h6m-5-1h6m-5-10h6m-6 5h6m-6 4h6m-5-28h6m-6 27h6m-5-19h6m-4-15h6m-2 36h6m-3-15h6m-5 11h6m-5-26h6m-6 32h6m-5-26h6m-6-13h6m-6 27h6m-4 1h6m-5 4h6m-5-13h6m-5 10h6m-5 6h6m-6-4h6m-4 4h6m-6-2h6m-6-14h6m-6 17h6m-4-12h6m-4-9h6m-6 12h6m-6 10h6m-6 2h6m-4-5h6m-6 5h6m-4 0h6m-5-10h6m-4-26h6m-5 0h6m-6 33h6m-6-22h6m-5 19h6m-4-1h6m-6 7h6m-6-4h6m-5-26h6m-5 7h6m-5-14h6m-5 19h6m-5-17h6m-5 14h6m-4-1h6m-6 8h6m-5 3h6m-6-20h6m-5-7h6m-4 17h6m-4-7h6m-5-7h6m-6 17h6m-6 3h6m-5 8h6m-5-7h6m-5 1h6m-6 4h6m-4-1h6m-6-17h6m-6 27h6m-5-29h6m-5-5h6m-6-2h6m-5 5h6m-4 25h6m-6-12h6m-5 6h6m-4 8h6m-5-2h6m-6-17h6m-5-1h6m-5 20h6m-5-35h6m-5 32h6m-5 1h6m-6-32h6m-5 5h6m-6 20h6m-6-23h6m-6 20h6m-4 6h6m-6-13h6m-1 21h6m-6-25h6m-5-5h6m-5 28h6m-5-34h6m-6 29h6m-4-29h6m-6 33h6m-6-27h6m-3 10h6m-6 8h6m-4 6h6m-5-6h6m-6-23h6m-5 22h6m-5-15h6m-1 14h6m-2-16h6m-6 17h6m-1-3h6m-4 9h6m-4-8h6m-3 11h6m-4 6h6m-4-21h6m-3 0h6m-6-15h6m-6 35h6m-5-24h6m-3 2h6m1-4h6m-4 15h6m-6 10h6m1-8h6m-5-17h6m-6 25h6m-3-35h6m-6 7h6m-6-8h6m-4 38h6m6-13h6m13 1h6m-369 27h6m7 2h6m-3 3h6m-6-18h6m-5 22h6m-5 8h6m-6-22h6m-6 11h6m-6 4h6m-6-16h6m-6 23h6m-5 3h6m-5 1h6m-4 0h6m-6-28h6m-5 14h6m-6-7h6m-3-13h6m-6 15h6m-5-11h6m-6 12h6m-5-16h6m-6 16h6m-5-5h6m-6 3h6m-4-1h6m-6-10h6m-5 31h6m-6-15h6m-5-13h6m-5 3h6m-4 21h6m-5 2h6m-5 6h6m-6-30h6m-2 2h6m-6 27h6m-6-35h6m-6 10h6m-5 5h6m-5 6h6m-6 9h6m-4-19h6m-5-6h6m-5 9h6m-5-15h6m-5 7h6m-5 5h6m-5 23h6m-5-3h6m-6-7h6m-5-22h6m-5 5h6m-6 5h6m-6-3h6m-6 17h6m-6-20h6m-5 9h6m-6 4h6m-5-22h6m-5 5h6m-5 8h6m-6 4h6m-5-13h6m-6 28h6m-6-27h6m-6 16h6m-5 6h6m-5 1h6m-6-26h6m-4 8h6m-5 10h6m-5-1h6m-6-10h6m-4-2h6m-6 30h6m-6-29h6m-5 2h6m-6-7h6m-5 13h6m-6 18h6m-6 3h6m-1-28h6m-6 22h6m-6-3h6m-6-8h6m-6 12h6m-5-20h6m-6 9h6m-6 9h6m-6-26h6m-5 23h6m-5-12h6m-5-5h6m-5-1h6m-6 25h6m-6-3h6m-6-29h6m-5 17h6m-5 7h6m-4-12h6m-2 15h6m-4-13h6m-4-11h6m-6 24h6m-5-11h6m-4-5h6m-4 9h6m-6-2h6m-6 7h6m-5-19h6m-6-5h6m-5 15h6m-5-10h6m-6 2h6m-6 17h6m-6 4h6m-6-8h6m-5-22h6m-5 25h6m-5-20h6m-4 20h6m-5-5h6m-5 0h6m-5 2h6m-6-4h6m-3 1h6m-5-15h6m-6 8h6m-5-8h6m-5 6h6m-6-4h6m-5-4h6m-6 7h6m-5 21h6m-6-21h6m-6 29h6m-4-36h6m-2-3h6m-6 5h6m-5 22h6m-5-17h6m-5 18h6m-6 11h6m-6-14h6m-6-11h6m-5 11h6m-4-9h6m-6-15h6m-6 27h6m-5-27h6m-6 0h6m-6 13h6m-6-2h6m-5 1h6m-4 2h6m-6 0h6m-6 6h6m-5-2h6m-5 14h6m-5 3h6m-6-7h6m-6-24h6m-5 19h6m-6-5h6m-6 14h6m-6-28h6m-5 23h6m-5-21h6m-6-6h6m-5 3h6m-6 22h6m-5-3h6m-5-1h6m-5-22h6m-5 16h6m-5-7h6m-5 14h6m-6-14h6m-5 1h6m-5 11h6m-3 16h6m-6-23h6m-6 6h6m-4 16h6m-6-8h6m-5-11h6m-6 4h6m-6-12h6m-4-6h6m-6 2h6m-4 9h6m-5 3h6m-5-9h6m-5 29h6m-5-35h6m-6 28h6m-5-21h6m-6 27h6m-5-15h6m-5-1h6m-5-2h6m-2-4h6m-6 17h6m-6-25h6m-5-1h6m-6 19h6m-6 0h6m-5 10h6m-3-13h6m-4-20h6m-6 32h6m-5-17h6m-6 16h6m-5-7h6m-6-19h6m-6 3h6m-6 21h6m-5-16h6m-5-4h6m-5-1h6m-5 2h6m-6 15h6m-5-24h6m-5 28h6m-3-13h6m-5 16h6m-5-12h6m-6-10h6m-5 27h6m-5-33h6m-4 6h6m-6 18h6m-5-22h6m-5 13h6m-6-5h6m-5-14h6m-6 13h6m-5 0h6m-5-13h6m-6 17h6m-6-8h6m-6 3h6m-5-11h6m-6 12h6m-5-5h6m-6 2h6m-6-3h6m-5 8h6m-3 5h6m-5-20h6m-6 36h6m-5-15h6m-5 10h6m-5-26h6m-6 9h6m-6-14h6m-5 33h6m-5-15h6m-6 12h6m-5-12h6m-6 8h6m-5-21h6m-5 22h6m-5 11h6m-4-35h6m-6 5h6m-5 14h6m-5-16h6m-6-5h6m-5 27h6m-5-26h6m-5 4h6m-6 22h6m-4-27h6m-5 0h6m-6 13h6m-6 19h6m-6-25h6m-4 6h6m-6 2h6m-5-13h6m-6 0h6m-5 20h6m-4-10h6m-5 1h6m-6-1h6m-5-4h6m-6 24h6m-4-20h6m-6 7h6m-5 10h6m-4 3h6m-5-30h6m-5 6h6m-6 27h6m-4-4h6m-3-11h6m-4-21h6m-6-1h6m-4 15h6m-1 8h6m-5-4h6m-5-15h6m-6 5h6m-6-3h6m-4 6h6m-5 14h6m-5-26h6m-5 11h6m-6 12h6m-5-14h6m-6 22h6m-5-31h6m-6 28h6m-5 3h6m-5-2h6m-5-13h6m-3-4h6m-5 8h6m-6 7h6m-5-10h6m-4-9h6m-6 13h6m-4-6h6m-5 7h6m-5-13h6m-6 12h6m-5-14h6m-6 17h6m-5 5h6m-5 7h6m-5-5h6m-6-1h6m-6-28h6m-5-2h6m-5 20h6m-6-14h6m-5 14h6m-6-5h6m-6-2h6m-6 2h6m-5 12h6m-3-4h6m-1-6h6m-4 13h6m-5-18h6m-6 22h6m-6-6h6m-5-28h6m-6 35h6m-3-24h6m-4 8h6m-5-2h6m-3 3h6m-5-15h6m-5 8h6m-6-2h6m-2-2h6m-5 1h6m-5 21h6m0-19h6m-5 25h6m-2-26h6m-2-11h6m1 9h6m-320 36h6m-4 6h6m-3-1h6m12-8h6m-6 7h6m3 22h6m-4-31h6m23 5h6m-4 10h6m-4 14h6m-3-23h6m-5-2h6m-3 17h6m-2-15h6m0 2h6m-5-4h6m3 1h6m-6 21h6m-4-14h6m-5-2h6m-6-4h6m-5-3h6m-3 6h6m-4 12h6m-3-21h6m0 10h6m-4-2h6m-5 29h6m-3-1h6m-5-14h6m-6 6h6m1-21h6m-6 16h6m-4-3h6m-4-9h6m-6 18h6m-2-12h6m-6 7h6m-3-7h6m-5 21h6m-6-16h6m-6 16h6m-3-33h6m2 17h6m-5-10h6m-4 16h6m5-23h6m-5 21h6m-4 8h6m-6-14h6m-4 17h6m3-1h6m-5-10h6m-3 2h6m-5-4h6m-4-16h6m-4-2h6m-5 20h6m3 11h6m-2-11h6m-6 0h6m-3-26h6m-1 3h6m-3-1h6m-4 25h6m-4-3h6m-5 13h6m-5-31h6m-4 18h6m0 4h6m-3-11h6m-4-10h6m-5 15h6m-1-18h6m0 29h6m10-11h6m-4-22h6m-3 23h6m0-14h6m-1 16h6m-4 3h6m-1-11h6m-5 16h6m-5-30h6m4 26h6m10-10h6m-229 33h6m4 8h6m12 2h6m1 16h6m-5-37h6m-5 24h6m22-13h6m-5-5h6m-5 11h6m6-18h6m2 16h6m14-4h6m-3-2h6m-1 18h6m9-23h6m0 33h6m-4-14h6m0 5h6m4-18h6m7-9h6m10 31h6m0-1h6m-1-25h6m3 19h6m-4-20h6m-98 59h6m-6-18h6m5 22h6m11-8h6m3-20h6m5 29h6m-79 14h6m19 15h6m42-4h6m25-14h6m-156 43h6m128 0h6" stroke="#2f44c4" stroke-width="6" stroke-opacity=".36"/><ellipse cx="42" cy="13.5" rx="3.6" ry="2.4" fill="#4cc080" opacity="0.85" filter="url(#b1)" transform="rotate(-55 42 13.5)"/><ellipse cx="23.4" cy="43" rx="10.9" ry="4.5" fill="#5574d4" opacity="0.55" filter="url(#b06)" transform="rotate(-13 23.4 43)"/><ellipse cx="21.2" cy="43" rx="8.1" ry="3.7" fill="#3eb0c4" opacity="0.85" filter="url(#b06)" transform="rotate(-13 21.2 43)"/><ellipse cx="19.6" cy="43" rx="6.2" ry="3.2" fill="#5cc24e" opacity="1" filter="url(#b06)" transform="rotate(-13 19.6 43)"/><ellipse cx="16.7" cy="43" rx="2.4" ry="2.2" fill="#d6d23c" opacity="1" filter="url(#b06)" transform="rotate(-13 16.7 43)"/><ellipse cx="16.2" cy="43" rx="1.2" ry="1.6" fill="#e8642a" opacity="1" filter="url(#b06)" transform="rotate(-13 16.2 43)"/><ellipse cx="16.3" cy="43" rx=".7" ry="1.1" fill="#de2a1e" opacity="1" filter="url(#b06)" transform="rotate(-13 16.3 43)"/><line x1="34.5" y1="0" x2="34.5" y2="61.2" stroke="#6a6a6a" stroke-width="1"/><line x1="0" y1="42.2" x2="61.8" y2="42.2" stroke="#4a4a4a" stroke-width="1"/><text x="1.6" y="3.6" font-size="2.9" fill="#444">Q1</text><text x="1.6" y="6.6" font-size="2.9" fill="#444">20.3</text><text x="60.2" y="3.6" text-anchor="end" font-size="2.9" fill="#444">Q2</text><text x="60.2" y="6.6" text-anchor="end" font-size="2.9" fill="#444">27.3</text><text x="1.6" y="56.8" font-size="2.9" fill="#444">Q4</text><text x="1.6" y="59.8" font-size="2.9" fill="#444">50.7</text><text x="60.2" y="56.8" text-anchor="end" font-size="2.9" fill="#444">Q3</text><text x="60.2" y="59.8" text-anchor="end" font-size="2.9" fill="#444">1.62</text><path d="M-1.6 6.1h1.6M-1.6 20.3h1.6M-1.6 37.1h1.6M-1.6 46.2h1.6M-1.6 55.5h1.6M-.9 6.1h.9M-.9 9.5h.9M-.9 13h.9M-.9 16.4h.9M-.9 19.9h.9M-.9 23.3h.9M-.9 26.8h.9M-.9 30.2h.9M-.9 33.7h.9M-.9 37.1h.9M4.5 61.2v1.6M15.2 61.2v1.6M25.1 61.2v1.6M41.5 61.2v1.6M56.7 61.2v1.6M25.1 61.2v.9M28.6 61.2v.9M32.1 61.2v.9M35.6 61.2v.9M39.1 61.2v.9M42.7 61.2v.9M46.2 61.2v.9M49.7 61.2v.9M53.2 61.2v.9M56.7 61.2v.9" stroke="#333" stroke-width=".55"/><rect x="-1.1" y="45.7" width="1.2" height="2.8" fill="#111"/><rect x="12.4" y="61.2" width="3" height="1.1" fill="#111"/><text x="-2.3" y="7.1" font-size="2.8" fill="#555" text-anchor="end">10⁵</text><text x="-2.3" y="21.3" font-size="2.8" fill="#555" text-anchor="end">10⁴</text><text x="-2.3" y="38.1" font-size="2.8" fill="#555" text-anchor="end">10³</text><text x="-2.3" y="47.2" font-size="2.8" fill="#555" text-anchor="end">0</text><text x="-2.3" y="56.5" font-size="2.8" fill="#555" text-anchor="end">-10³</text><text x="4.5" y="66.1" font-size="2.8" fill="#555" text-anchor="middle">-10³</text><text x="15.2" y="66.1" font-size="2.8" fill="#555" text-anchor="middle">0</text><text x="25.1" y="66.1" font-size="2.8" fill="#555" text-anchor="middle">10³</text><text x="41.5" y="66.1" font-size="2.8" fill="#555" text-anchor="middle">10⁴</text><text x="56.7" y="66.1" font-size="2.8" fill="#555" text-anchor="middle">10⁵</text></g>
<text x="284.6" y="15.9" font-size="7.9" text-anchor="middle" textLength="61.6" lengthAdjust="spacingAndGlyphs" stroke="#000" stroke-width="0.15">Lobeline + hypoxia</text>
<path d="M34.5 56V89.3H68" stroke="#333" stroke-width="0.9" fill="none"/>
<text x="33.2" y="73.7" font-size="8" text-anchor="middle" transform="rotate(-90 33.2 73.7)" stroke="#000" stroke-width="0.15">PI</text>
<text x="36.2" y="97.9" font-size="8" textLength="33.2" lengthAdjust="spacingAndGlyphs" stroke="#000" stroke-width="0.15">Annexin V</text>
<g transform="translate(37.1 128.1)"><rect width="69.7" height="52.6" fill="#bababa"/><rect width="69.7" height="52.6" fill="#888" filter="url(#noise)" opacity=".07"/><path d="M44.8 34.6h.4M13 30h.7M36.7 19.9h.4M26 19.1h.5M4 47h.7M8.7 8.1h.7M35 40.7h.4M19.4 44h1M39 14.5h.8M3.3 33.9h.5M31.9 35.2h.9M52.7 38.5h.8M31 15.2h.9M41.8 33.4h.5M67.2 42.6h.7M6.8 51.3h.5M36 40.5h.4M33.8 46.1h1M46.8 41.8h.6M29.6 50.8h.7M21.4 28.3h.7M54.4 43.7h.5M20.7 32.9h.5M38.9 34.8h.6M8.9 13.8h.6M30.3 41.3h.5M6.6 21.8h.7M61.3 2h.6M59.1 29.6h.6M47.9 40.3h.5M66.1 50.2h.6M52.6 30.5h.5M64 44h.9M28.5 13.3h1M52.6 10.4h.8M31.7 15.7h.4M68.6 26.2h.7M60.4 46.5h.9M29.5 43.5h.8M40.3 24.4h.7M1.6 19.1h.7M31.4 47.2h.4M62 46.1h.8M22.3 17.4h.4M29.4 25h1M22.9 34.6h.9M41 40.1h.7M22.9 46.3h.8M67.4 7.5h.5M58.2 18.8h1M19.1 26.7h.7M8.1 44.7h.4M41.3 24.4h.5M3.2 14h1M17.8 34.6h.7M22.7 42.6h.6M25.4 3.9h.5M45.7 3.9h1M53.7 31.3h.7M12.4 42h.9M5.2 16.1h.6M37.3 32.8h1M58.1 43.6h.6M41.4 15.2h.9M61.1 18.7h.7M11 1.8h.8M28.8 20.6h.9M61.5 16.5h.7M50.3 29.7h.9M12.9 1.6h.4M31.7 36.8h.8M31.4 41.2h.5M66.5 10.6h.5M2.4 47.1h.6M36.5 44.3h.9M53.4 38.5h.7M5 40.5h.4M11.8 18h.6M26.3 27.3h.4M33.4 50.1h.7M26.9 37.3h.8M2.6 39.1h.8M4.6 48.9h.6M44.1 39.8h.8M25.5 48.9h.6M3.9 21.6h.5M37.7 44.8h1M30.3 16.3h.5M11.6 14.1h.4M22.4 15.8h.7M12.4 34.1h.8M12.1 24.2h.6M44.2 34.2h.6M7.6 17.4h.4M58.2 45.2h.9M63.9 34.6h.5M60.1 34.4h.9M40.8 26.9h.8M17.8 18.5h.8M58.9 14.4h1M41 39h.6M26.7 43.8h.8M52.6 36.7h.9M58.7 42h.7M21.6 37.7h.9M60.7 27.4h.7M15 29.6h.8M65.5 43.5h.6M38.3 26.4h.4M46.4 2h.5M5.8 38.7h1M35.7 44h.8M23.1 28.5h.9M54 26.6h.8M42.5 41.2h.8M62.6 35.8h.5M25.7 15.9h.5M2.2 10.6h.7M19.3 39.3h.4M64.6 18.3h.6M23.3 12.1h.4M8 34.1h.7M17.2 41.7h.8M51.9 33h.6M48 18.6h.8M4.1 10.6h.7M46.4 38h.7M15 35.7h.8M30.4 50h.6M64.6 36.7h.5M45.4 2.9h.8M65.3 36.1h.7M43 14.9h1M43.7 24.4h1M51.4 33.1h.7M43.2 49.1h.6M18.7 39.9h.9M68.1 44.8h.7M19.1 16.8h.6M20.7 2.6h.7M8.9 18.2h.5M52.6 7.3h.8M61.2 32.1h.4M38.5 18.8h.7M49.7 48.7h.5M6.8 30.9h.8M21.1 25.3h.7M67 46h.7M17.5 46.3h.5M24.1 23.9h.9" stroke="#4a4a4a" stroke-width=".9" stroke-opacity="0.45" filter="url(#b04)"/></g>
<text x="73.4" y="124" font-size="7.9" text-anchor="middle" textLength="23.6" lengthAdjust="spacingAndGlyphs" stroke="#000" stroke-width="0.15">Vehicle</text>
<g transform="translate(108.6 128.1)"><rect width="69.7" height="52.6" fill="#b7b7b7"/><rect width="69.7" height="52.6" fill="#888" filter="url(#noise)" opacity=".07"/><path d="M68.1 28.2h.7M41.1 35.6h.7M11.2 28.5h.9M65.8 26.6h.7M11.5 1.1h.9M18.2 5.6h.5M16.8 22.7h.9M4.7 10.5h.7M22.9 29.9h1M53.5 27.7h.4M42.2 2.3h.5M39.7 25.7h.6M51.7 11.4h.7M12.8 24.2h.8M26.6 31.7h.9M32.4 2.5h.6M43.1 12h.8M17.5 20.4h.4M65.8 3.4h1M16.4 20h.5M36.8 50.2h.6M3.4 19.4h.6M24.9 13h.4M31.6 39.2h.7M8.6 49.6h.5M54.6 43.3h.8M5.3 45.3h.7M18.4 21h.4M49.1 39.7h.9M46.7 8.1h.7M24.4 29.1h.8M15 14.4h.5M26.2 18.6h1M5.2 17.9h.6M31 13.4h.6M32.7 50.3h.5M17 15.7h.9M3 10.6h.6M63.3 32.8h.5M35.3 24.4h.5M10.5 29.9h.8M20.3 5h1M20.8 4.7h.8M26 43h.7M63.4 51.1h.8M28.3 40.7h.8M2.5 50.7h.9M67 34.6h.7M4.6 4.7h.6M33.5 2.7h.6M2.1 19.2h.5M54.2 29.9h.8M41.3 27.5h.7M35.4 11.3h.8M20 5.4h.9M35.6 42.6h.9M56 5h1M58.8 9.5h.5M34.9 36.2h.6M28.1 18.3h.6M46 23.3h.4M33.1 50.8h.5M8.1 44.8h.5M23.2 24.7h.5M13.9 31.9h.7M67.4 40.9h.8M26.9 38.6h.9M15.3 20.6h.6M3.7 41.4h.7M17.3 4.3h.4M1.1 35.8h.5M44.1 21.9h.5M57.4 16.6h.8M30.6 7.3h.9M29.4 1.6h.6M5.6 10.2h.6M6.7 6.3h.6M65.3 8.2h.6M6 27.5h.6M38.1 17.8h.9M22.9 31.6h.9M47.2 4.6h.6M9.3 6.3h.7M50.9 4.7h.8M15.5 42.8h.7M1.4 40.9h.5M36.7 18.8h.6M37 14.9h.9M67 40.8h.5M54.7 35.6h.5M8.3 47.5h1M64.8 6h.8M22.8 41.4h.6M42 23.8h.8M48.9 6.7h.6M60.6 11.2h.7M51 34h1M32.9 25.4h.6M13.2 22.8h.8M26.2 49.5h.5M8 38.4h.5M61.6 37.2h.5M20.8 8.7h.5M46.7 24.9h.9M59.8 13.1h.7M64.4 12.8h.7M40.3 46h.6M52.1 2.5h.8M25.7 49.1h.6M64.4 39.7h.6M54.9 40.3h.7M24.5 18.1h.9M15.2 2.9h.4M35.4 22.8h.9M28.5 18.8h.6M62.4 28h.9M3.6 10.6h.8M9.1 19.2h.5M27.4 19.2h.6M54.9 27.3h.7M43.9 4.6h.8M9.1 44h.8M21.7 16.4h.6M53.7 4h.9M45.2 6.8h.8M23.8 23.7h.9M23 28.7h.6M12.6 41.5h.4M68 24.7h.7M32.3 12h.5M47.2 44.6h.8M34.5 40h.8M28.9 41.4h.9M39.4 38.4h1M59.2 29.7h.9M4 24.8h.8M5.1 40.5h.7M14.8 35.9h1M51 9.1h.6M9.2 34.1h.8M16.8 6.1h.6M24.4 21.1h.4M30.1 22.3h.9M63.2 23.3h.8M53.6 26.1h.6M62.2 4.7h.6M14.8 21.1h.9M30.3 42.8h.9M26.2 41.3h.9M34.6 34.8h.8M19.5 22.2h.4M51.6 36.9h.4M5.3 37.3h.9M55.2 43.3h.5M65.9 38.4h.8M54.2 23.2h1M28.6 3.3h.7M13.6 45.2h.6M12.8 33.1h.7M10.7 8.1h1M5.4 43.8h1M26.4 35.5h.6M48.8 48.3h.7M1.3 38.3h.7M16.8 32.1h.4M51.8 42.4h.7M11.8 19.5h.9M60.4 23.7h.9M39.7 38.7h1M65.6 12.7h.6M36.4 31.3h.8M31.5 39.4h.7M42.1 40.3h.9M45.5 51.1h.6M41.7 25.4h.5M26.2 26.2h.6M57.5 11h.5M23.6 32.3h.4M15.8 7.6h.9M68.5 9.8h.4M4.2 44.6h.5M28.4 37.2h.5M13.4 43.7h.6M37 24.4h.6M46.7 17.4h.5M43 34.5h.8M17.8 1.1h.6M52.7 49.6h.8M45.4 6.9h.5M52.5 9.8h.6" stroke="#4a4a4a" stroke-width=".9" stroke-opacity="0.45" filter="url(#b04)"/><path d="M43.5 24.8l.9 .1M59.4 22.4l-.8 -1.5" stroke="#404040" stroke-width="1.2" stroke-opacity=".6" stroke-linecap="round" filter="url(#b04)"/></g>
<text x="142.6" y="124" font-size="7.9" text-anchor="middle" textLength="57.6" lengthAdjust="spacingAndGlyphs" stroke="#000" stroke-width="0.15">Vehicle + hypoxia</text>
<g transform="translate(180.2 128.1)"><rect width="69.7" height="52.6" fill="#bababa"/><rect width="69.7" height="52.6" fill="#888" filter="url(#noise)" opacity=".07"/><path d="M24.4 23.4h.9M47.5 16.2h.7M39.1 43.3h.5M62.9 17h.9M36.5 18.7h.7M33.9 8.7h.7M63.8 34.3h.5M48.5 36.4h.7M3 29h.6M37.7 20.2h.6M64.5 48.8h.5M17.7 50.8h.7M47.6 30.8h.5M38.4 3.2h.4M2.3 26.5h.5M3.4 5.9h.7M43.8 11.9h.9M13.3 22.9h.8M43.3 11.4h.5M18.4 29.7h.9M12.7 25.7h.5M53.8 21h.5M46.5 28.3h.8M15.8 14.4h.6M58.1 15.7h.8M43.6 35h.7M52.1 25.4h.6M34.8 35.7h.5M50.4 26.8h.9M36.5 45.6h.5M10.1 26h.4M34.6 6.3h.9M52.6 23.9h.5M56 51.5h.7M23.8 21.8h.9M14.5 9.7h.5M58.7 38.2h1M63.7 29.1h.6M44.3 44.2h.9M2.8 50.9h.7M16.8 15.3h1M21.5 21.6h.5M32.6 33.7h.7M22.9 31.2h.6M25.2 17.5h.7M31.8 49.9h.5M58.5 40.3h.9M64.1 11.5h1M25 51.6h.6M19.5 25.2h.8M6.4 12.4h.8M45.3 30h.7M50.8 46.7h.5M37.1 23.9h.9M27.7 42.7h.9M46.6 46.3h.9M52.8 9h.5M16.5 23.9h.6M10.7 29.6h.7M8.9 10.7h.9M15.3 34.6h.9M15.2 4.2h.9M57.9 9h1M56.4 38.1h.6M23.7 17.3h.5M39.2 41.6h.7M23.6 39.5h.7M20.6 47.4h1M35.2 22.2h.5M44.4 29.1h.4M65.7 5.6h.6M36.3 4.4h1M50.2 34.3h.8M64.1 46.5h.4M13.8 7.6h.6M47.9 19.2h.8M42.3 25.2h.7M56 47h.8M35.8 7.9h.5M42.7 32.7h.5M62.6 33.3h.5M61.1 46.1h.8M55.4 29.2h.7M57.5 16.8h.6M62.4 38.5h.5M8.7 13.8h.9M48.6 38.1h.7M27.6 23.5h.7M12.5 3.8h1M12.3 18.6h.9M21.6 31.5h.9M5.2 10.6h.8M49.7 34.2h.9M26.1 28.3h.6M33.2 32.3h.9M32.1 47.8h.9M9.8 25.8h.7M53.3 11.1h.9M42.9 21.2h.5M61.3 27.3h.9M14.9 32.7h.9M24.3 1.7h.5M15.7 25.5h.6M48.4 27.4h.9M66.1 47.1h.5M7.8 42.9h.5M66.7 46h.7M29.2 50.2h.5M44.8 6.9h.4M29.5 8.2h.7M43 32.4h.8M27.3 37.1h.7M33.4 8.1h.6M34.4 29.2h.5M4.2 39.5h.9M18.4 10h.8M40.1 17.4h.8M5.2 39.4h.6M38.9 43.9h1M20.1 13.4h.5M30.9 48.7h.7M31.1 10.7h.6M46.7 6.1h.7M42.6 2.7h.8M57.1 21.8h.9M66.6 33.2h.6M33.6 25.4h1M1 35.1h.6M19.3 17.8h1M4 19.9h.9M36 29.5h.9M26.1 29.5h.5M24.1 34.4h.7M30.9 9.1h.6M38.1 36.5h.6M31.2 24.6h.6M17.3 31.8h.9M41.3 24.8h.4M59.2 48.1h1M38 18.3h.5M52.4 28.6h.5M12.7 51h.9M66.3 15.4h.8M59.1 35.5h.4M18.3 42.7h.5M61.8 29.4h.9M12.3 2.8h.6M25.8 31.4h.4M65.1 41.1h.8M44.3 7.4h.9M52 23h.4M31.4 47.9h.7M1.4 47h.4M42.9 16.3h1M46.1 43.5h.4M26.1 15.7h.4M52.9 15.1h.4M5.6 31.9h.4M14.8 42.3h.9M47.7 26.6h.6M54 2.4h1M66 12.1h.8M61.9 50.9h.4M37.6 48.5h.6M33.6 36.8h.6M65.7 10.8h.8M42.7 38.9h.8M37.2 18h.9M58 38.4h.8M48 38.9h.5" stroke="#4a4a4a" stroke-width=".9" stroke-opacity="0.45" filter="url(#b04)"/><path d="M17.9 33.3l-1.1 1.5M48.5 46.3l-0 -.8M34.4 41.5l-.9 .8" stroke="#404040" stroke-width="1.2" stroke-opacity=".6" stroke-linecap="round" filter="url(#b04)"/></g>
<text x="213.4" y="124" font-size="7.9" text-anchor="middle" textLength="27.8" lengthAdjust="spacingAndGlyphs" stroke="#000" stroke-width="0.15">Lobeline</text>
<g transform="translate(252 128.1)"><rect width="69.7" height="52.6" fill="#b5b5b5"/><rect width="69.7" height="52.6" fill="#888" filter="url(#noise)" opacity=".07"/><path d="M53.9 18.4h.5M16.6 17h.9M42.9 23.2h.8M60.9 10.5h.5M50.9 43.9h.5M66 25.7h.4M49.8 35.7h.8M14 37.3h.8M19.6 21.6h.5M67.5 1.5h.7M55.3 47.8h.7M39.5 35.8h.6M15.9 38.9h.6M66 49.2h.4M49 31.9h.9M62.5 47.8h.9M48.3 27h.8M4.2 14.4h.7M59.6 15.8h.7M62.6 1.3h.8M56.7 4.7h.6M5.6 25.2h.4M37.5 48.8h.6M17.6 47.3h.6M63.1 5.2h.5M26.8 22.6h.6M24.8 41.4h.4M67.6 17h.8M37.9 23.5h.8M63.2 6.4h.4M24.5 8.1h.6M3.4 22.8h.6M46.9 27.3h.4M7.1 21.1h.4M15.4 49.8h.9M54.1 38.8h.9M1.6 30.4h.6M56.6 18.9h.9M1.3 38.7h.9M14.9 13.6h.9M4.9 49h.9M26.1 13h.5M32.7 44.9h.7M53.7 33.2h.6M39.3 36.7h.8M56.7 41.1h.8M39.7 39.4h.4M6.4 21.6h.5M10.1 34.9h.6M43.5 16.6h.8M62.5 20.7h1M39.2 22.3h.7M15 31h.5M49.4 10.2h.5M21.4 22.1h.5M4 7.4h.6M10.7 25.3h.5M13 28.6h.5M16.6 1.5h.8M3.9 18.7h.7M10.8 2.3h.6M12 47.1h.7M47.3 13.3h.8M23.5 11.3h1M59.3 31.6h.4M63.3 43.9h1M64.8 12.3h.6M65.3 4.2h1M27.1 42h.6M5.4 26.4h.9M40.9 18.5h.6M26.9 2h.8M1.3 42.7h.8M41.4 46.4h.8M13.1 14.2h.6M23.9 41.2h.7M37.7 3.6h.5M35.1 27.7h.9M23.5 6.6h1M19.7 42.3h.7M18.5 46.3h.7M25.1 4.1h.5M25.4 16.6h.5M25.8 36.1h.9M31.5 49.9h.7M31.9 45.6h.4M62.1 2.2h.7M18.5 21.4h.6M65.4 3.8h.8M62.8 14.7h.8M49.2 4.5h.8M61.7 24.8h.9M29.7 34.5h.8M41.8 25.6h.5M13.3 36.3h.9M19.6 28.4h.4M22.2 18h.8M6 35.4h.8M58.6 11.5h.5M7.7 5h.9M13.9 13.6h.7M41.5 10.5h.9M39 1.1h.9M45.6 40.4h.7M49.7 20h.9M58 38.2h.5M8.4 28.8h.5M31.4 41.3h.9M41 42.8h.8M50.7 48.3h.4M16.4 25.7h.9M59.2 41.2h.5M68.1 26.9h1M44.2 15.4h.8M56.3 39.1h.4M57.2 19.9h1M25.9 2.2h.5M12.3 45.6h.7M59.7 25.8h.8M61 51.3h.7M32.3 19.8h.6M39.6 18.9h.9M2.7 12.9h.8M35.1 44.9h.9M25.2 8.1h.5M52.9 40h.8M14.4 23h.8M19.5 19.1h.7M66 14.2h.8M25.6 15h.5M38.2 25.6h.6M49.7 37.6h.4M38.1 44.2h.9M8.6 13.4h.7M12.4 47.8h.7M6.6 5.5h.8M30.6 32.5h.4M8.3 44.7h.9M33.5 8.5h.5M13.6 14.2h.9M9.6 1.9h.5M37.6 42.5h.5M17.8 33.2h.8M23.4 48.4h.9M6.1 45.9h.6M38.2 4.6h.6M6.5 7.3h.9M45 27.9h.7M36.5 20.2h.4M59.5 33.3h.6M59.2 22.2h.4M63.9 40.2h.5M67.9 50h.6M35.9 23.6h.8M20 9.5h.5M14.1 34.4h.5M46.5 7h.7M5.7 41.7h.5M1.4 18h.8M33.5 22.5h.4M15 13.8h.9M36.3 40.7h.9M68.1 9.8h.5M10.8 17.3h.7M37.8 11h.5M63.1 36.1h.7M24 28.3h.6M41.3 26h.6M5.1 5.2h.4M4.8 36.7h.6M37.2 12.5h1M15.8 22.2h.7M67.4 37.6h.4M46.6 4.9h.9M21.3 26.2h.7M53.1 39.4h.8M8.5 9.2h1M15.6 7.8h.8M60.5 24.1h.6M21.2 35h.8M48.5 1.6h.7M11.7 42.1h.4M25.4 23.4h.8M64.8 41.9h.5M58.3 41.4h.5M34.3 36h.7M4.7 8.3h.8M45.8 14.3h1M52 49h.6M27.8 17.2h1M39.4 46.8h1M33.8 15.9h.8M64.9 11.1h.9M7.4 36.9h.9M9.2 44.6h.6M34.8 20.9h1M35.3 30.5h.7M41.2 38.8h.6M3.7 23.3h.8M19.9 41.9h.8M9.5 15.1h.5M30.6 22.7h.7M31.9 25.5h.9M48 42.8h.9M41.7 24.1h.5M25.2 16.8h.7M20.1 36.9h.8M13.8 2.3h.8M23.5 36.5h.7M12.3 4.2h.9" stroke="#4a4a4a" stroke-width=".9" stroke-opacity="0.45" filter="url(#b04)"/><path d="M33.4 27.1l.2 -.3M5.1 37.1l1.3 -.4M53.3 8.6l.9 .1M42.1 31.7l-.4 .3M58 26.8l1.3 .8" stroke="#404040" stroke-width="1.2" stroke-opacity=".6" stroke-linecap="round" filter="url(#b04)"/></g>
<text x="284.6" y="124" font-size="7.9" text-anchor="middle" textLength="61.6" lengthAdjust="spacingAndGlyphs" stroke="#000" stroke-width="0.15">Lobeline + hypoxia</text>
<line x1="293.3" y1="175.4" x2="317.9" y2="175.4" stroke="#fff" stroke-width="0.9"/>
<text x="306.1" y="172.6" font-size="5.8" text-anchor="middle" fill="#fff" textLength="15.8" lengthAdjust="spacingAndGlyphs" stroke="#fff" stroke-width="0.15">400µm</text>
<g transform="translate(43.5 220.6)"><rect x="0" y="0" width="61.8" height="61.2" fill="#fff" stroke="#b8b8b8" stroke-width=".8"/><rect x="15" y="14" width="34" height="30" rx="5" fill="#aab4ea" opacity="0.07" filter="url(#b15)"/><path transform="scale(.1)" d="M135 78h6m25-2h6m7-16h6m14 52h6m-5 2h6m217-22h6m13 17h6m0 9h6m-3-23h6m-6 23h6m7-9h6m6 10h6m9-7h6m14-29h6m-360 53h6m-2-1h6m0 3h6m1 17h6m-1-17h6m0 11h6m6-7h6m14-15h6m4-7h6m45 25h6m-3 1h6m4-7h6m2 17h6m34-31h6m1 31h6m-2 3h6m12-34h6m-1 32h6m6-5h6m9-8h6m0 9h6m-5-11h6m4 13h6m-6-10h6m0 13h6m-5-34h6m2 31h6m-4-19h6m-5 22h6m4-10h6m-3-11h6m-6 18h6m-5-15h6m-6 7h6m-6 11h6m-5-31h6m-5 25h6m-5-14h6m-6-1h6m-3 18h6m-5-16h6m-6-5h6m-5-10h6m-5 23h6m-6 4h6m-2-4h6m-4-15h6m-5 26h6m-6-4h6m-4-1h6m-6-7h6m-6-22h6m-5 7h6m-5 23h6m-5-29h6m-5 7h6m-6 25h6m-6-10h6m-5-1h6m-5-13h6m-2 26h6m-5-27h6m-6 9h6m-3 6h6m-5 12h6m-4-24h6m-3-9h6m4 27h6m0-3h6m-2-16h6m-363 26h6m8 25h6m4-10h6m-4-3h6m-2 9h6m-5-2h6m-6-7h6m-4 15h6m2 11h6m-6-6h6m-6 5h6m-5-29h6m-6 20h6m-5 10h6m0-10h6m4-16h6m-4 10h6m-3 7h6m-2 10h6m-6-10h6m-6-5h6m2 6h6m-1 5h6m-2-35h6m-2 15h6m-3-12h6m-2 22h6m19-22h6m-5 26h6m-5-27h6m4 16h6m19-3h6m0 24h6m0-19h6m31-7h6m-2 6h6m-4-17h6m-5 10h6m-1-10h6m10 27h6m3-4h6m-6-19h6m-4 19h6m-4-2h6m-4 0h6m-4 3h6m-5 5h6m-6-4h6m-5-1h6m-5-1h6m-6-2h6m-6 9h6m-5-4h6m-6 2h6m-4 5h6m-4-6h6m-6-7h6m-6-3h6m-6 18h6m-5-37h6m-4 3h6m-6 13h6m-6 11h6m-5 12h6m-6-12h6m-5-18h6m-6-6h6m-5 31h6m-3-5h6m-6 6h6m-6-17h6m-5 3h6m-6 11h6m-3-4h6m-6-6h6m-5-14h6m-6 7h6m-5-14h6m-6 24h6m-5-25h6m-6 39h6m-6-9h6m-6-23h6m-5 11h6m-6-5h6m-5 17h6m-6-7h6m-6 5h6m-5-5h6m-5 6h6m-6-7h6m-6-2h6m-6 5h6m-6 1h6m-6-23h6m-5 32h6m-6-30h6m-6 23h6m-4-28h6m-6 20h6m-5 19h6m-6-20h6m-6-19h6m-6 5h6m-6 12h6m-6-13h6m-4 13h6m-6-12h6m-5 30h6m-6-23h6m-6 21h6m-6-7h6m-5 3h6m-5-11h6m-6 5h6m-6 0h6m-5-11h6m-6 0h6m-6 7h6m-6-10h6m-6 11h6m-4-19h6m-6 28h6m-6 8h6m-6-36h6m-4 23h6m-6 10h6m-6-11h6m-6-11h6m-5 3h6m-6-12h6m-6 32h6m-6-4h6m-6-10h6m-5-18h6m-6 13h6m-6 4h6m-6 16h6m-5-33h6m-5 36h6m-6-7h6m-6-9h6m-5 2h6m-6 12h6m-6-29h6m-6 2h6m-5 2h6m-6-5h6m-5 30h6m-6-26h6m-5 15h6m-6-12h6m-6-11h6m-6 13h6m-5 23h6m-6-3h6m-6-17h6m-5 4h6m-5 4h6m-5 10h6m-6-14h6m-5 0h6m-6 4h6m-6-3h6m-5 3h6m-5 11h6m-6-15h6m-6-7h6m-5 5h6m-2-6h6m-5 8h6m-5-12h6m-5 24h6m-6-12h6m-5 7h6m-5-12h6m-6-2h6m-5-2h6m-5 7h6m-5-17h6m-6 0h6m-5 24h6m-3-11h6m-6 15h6m-4-13h6m-4 8h6m-3-21h6m-354 46h6m11 10h6m2 9h6m-5-6h6m-5-1h6m-3-5h6m-3-13h6m-3 24h6m-5 0h6m-4-21h6m-4 10h6m-6-2h6m-2 4h6m-6-8h6m-5 25h6m-6-36h6m-5 19h6m-4-15h6m-6 7h6m-6 13h6m-6-20h6m-4 27h6m-6-14h6m-5 11h6m-5-18h6m-5 25h6m-6-25h6m-5 15h6m-6-8h6m-5-2h6m-5 20h6m-6-1h6m-6-24h6m-6 21h6m-4-33h6m-3 32h6m-6-21h6m-6 6h6m-5-7h6m-5 29h6m-6-26h6m-5-11h6m-6-2h6m-3 23h6m-6-14h6m-5 11h6m-6-11h6m-5 14h6m-6-16h6m-6 22h6m-5-15h6m-6 18h6m-6 4h6m-6 2h6m-6-19h6m-5 15h6m-6-17h6m-6-2h6m-5-9h6m-4 21h6m-6-8h6m-6 2h6m-5 9h6m-5 9h6m-5-24h6m-4-5h6m-5 12h6m-6-19h6m-6 11h6m-5-8h6m-6 6h6m-6 23h6m-6-22h6m-5-3h6m-6 2h6m-4 2h6m-6 6h6m-5 1h6m-4-6h6m-5 6h6m-5 8h6m-5-23h6m-5 33h6m-5-37h6m-5 23h6m-2 14h6m-4-5h6m-4-31h6m-6 20h6m-5 3h6m-6 12h6m5-9h6m-6 8h6m-4-29h6m15 25h6m-5-21h6m6 6h6m11-10h6m-5-2h6m-5 31h6m-5-6h6m15 3h6m-2-11h6m-4-2h6m0 9h6m0 2h6m-6-17h6m0 23h6m0-13h6m1-15h6m-6-4h6m-5-3h6m-5-1h6m-4 4h6m-5-2h6m-1 1h6m-5 20h6m-4 2h6m-4 12h6m-6-14h6m-5-8h6m-6 12h6m-6-1h6m-6-7h6m-5 16h6m-6-24h6m-5 14h6m-6-7h6m-5-3h6m-5-1h6m-6 19h6m-5-19h6m-5 2h6m-6 13h6m-5-7h6m-6-20h6m-6 8h6m-3 17h6m-6 10h6m-3-11h6m-6-11h6m-6 9h6m-5-4h6m-5-4h6m-5-7h6m-6 14h6m-6 10h6m-5-6h6m-6-11h6m-6-6h6m-5 4h6m-6 19h6m-6-12h6m-5 6h6m-6-3h6m-6 7h6m-5 1h6m-5-18h6m-6 1h6m-5-13h6m-6 29h6m-6-27h6m-5 17h6m-6 2h6m-6 13h6m-6-25h6m-5 9h6m-6-19h6m-5 2h6m-5 0h6m-6 28h6m-6-7h6m-5-23h6m-6 6h6m-5 30h6m-6-31h6m-6-6h6m-5 4h6m-6 19h6m-6-20h6m-5-4h6m-6 6h6m-5 32h6m-6-24h6m-5 16h6m-6-22h6m-5 20h6m-6-6h6m-6-11h6m-6-10h6m-5 15h6m-5-3h6m-4 12h6m-5 12h6m-6-12h6m-5-15h6m-6-4h6m-6 10h6m-5 22h6m-6-37h6m-5 14h6m-5-12h6m-5 31h6m-5-30h6m-6 13h6m-6 7h6m-6-9h6m-5 21h6m-6-33h6m-6-1h6m-4 14h6m-6-5h6m-6 13h6m-5 7h6m-5 7h6m-6-17h6m-6 2h6m-5-9h6m-5-13h6m-6 5h6m-5 1h6m-3 12h6m-6 15h6m-6-23h6m-6 1h6m-6 6h6m-6-16h6m-6 8h6m-3 3h6m-4-1h6m-6-2h6m-4 20h6m-5-16h6m-2 16h6m-6-30h6m-5 15h6m-5 9h6m-6-20h6m-5 2h6m-5-3h6m-6 16h6m-5-11h6m2 3h6m-5 5h6m-5-17h6m-4 34h6m-3-31h6m-5 13h6m-4-13h6m-3 14h6m2-15h6m5 30h6m-355 46h6m-6-5h6m3-11h6m-1 1h6m-5 16h6m-5-7h6m-5-23h6m2 13h6m-3-12h6m-6 17h6m-6 9h6m-3-18h6m-3 17h6m-5 2h6m-2-2h6m-6-25h6m-6-10h6m-5 22h6m-5-7h6m-5-9h6m-6 22h6m-6-17h6m-4 6h6m-5-17h6m-5 39h6m-3-1h6m-5-27h6m-6 5h6m-2 13h6m-2-23h6m-5 12h6m-5-10h6m-4-5h6m-5 30h6m-5 3h6m-5-26h6m-6 0h6m-5 2h6m-4 18h6m-3-15h6m-3 17h6m3-1h6m-2-5h6m-3 9h6m-3-19h6m-6 6h6m-3-6h6m0-14h6m-2 17h6m41 15h6m3-19h6m-3-7h6m2 27h6m-3-18h6m-2-11h6m-5 26h6m-4-21h6m1 26h6m9-21h6m-4 2h6m-4 13h6m-6 3h6m0-32h6m-3 21h6m-6 11h6m-5-19h6m-5 5h6m-6 16h6m-5-12h6m-5 6h6m-6-12h6m-5 14h6m0-30h6m-5 13h6m-6 2h6m-6-9h6m-4 30h6m-5 1h6m-6-7h6m-5-29h6m-4 5h6m-5 20h6m-3 11h6m-6-27h6m1-3h6m-6 3h6m-5 2h6m-5 9h6m-5-18h6m-3-4h6m-5 0h6m-6 29h6m-6-19h6m-4 28h6m-6-36h6m-6 8h6m-5-2h6m-6 7h6m-6 4h6m-4-13h6m-6-4h6m-6 14h6m-5 0h6m-6-12h6m-5 15h6m-4 3h6m-6-6h6m-5-7h6m-3 8h6m-6 14h6m-5-10h6m-6-20h6m-5 32h6m-5 0h6m-4-28h6m-6 27h6m-5-28h6m-1 13h6m-3-15h6m-2 29h6m-5-16h6m-6 18h6m-6-25h6m-1 4h6m-5-13h6m-4 6h6m-5-5h6m-5 23h6m-6-21h6m-2 21h6m-5 14h6m-2-35h6m-5 33h6m-3-13h6m-5-6h6m-4 11h6m-4-15h6m-6 11h6m-4 4h6m-4 10h6m-5-10h6m-6-27h6m-5 29h6m-3-18h6m0-4h6m-6 14h6m3 13h6m30-31h6m-374 70h6m-2-17h6m-5-17h6m-2 2h6m-6 17h6m-4 0h6m-5 19h6m-4-33h6m3 0h6m-1 0h6m-5 27h6m-5 6h6m-3-24h6m-5 3h6m-6 4h6m-5 2h6m-5-22h6m-5 33h6m-5-13h6m3-10h6m-3 9h6m-4-12h6m-1-3h6m-6 25h6m-3 1h6m-6-20h6m-5 26h6m10-15h6m-6 5h6m0-10h6m-5-13h6m-3 16h6m-4-7h6m-2-1h6m-2 4h6m3-13h6m-4 20h6m-5-16h6m-1-1h6m7 3h6m1 3h6m-3-3h6m7 27h6m-1-6h6m1 2h6m-6-19h6m-6 0h6m-6 15h6m1-4h6m-6 9h6m-3-27h6m-5 23h6m-5-11h6m-6 8h6m-3-1h6m-4 13h6m-4-5h6m-4-25h6m12 26h6m-4-15h6m-5 2h6m-5-20h6m-4 37h6m-6-20h6m-1-3h6m-1 22h6m-6-17h6m-4 8h6m-5-15h6m-5-10h6m-6 11h6m-5-6h6m-4 11h6m-5 2h6m0 6h6m-2-6h6m-6 16h6m-5-20h6m-6-6h6m-1 11h6m-6-14h6m-5-2h6m-3 4h6m0 11h6m-5-8h6m5 25h6m-3-11h6m-5-3h6m-6-18h6m-3 8h6m-3-6h6m-6 19h6m-6-15h6m-2 8h6m-5-6h6m-5 24h6m-3-8h6m-1-28h6m-5 17h6m-1-14h6m-5 32h6m-6-17h6m-1 19h6m-6-34h6m-1 5h6m-6-4h6m2 29h6m-5-10h6m-2-16h6m-5 6h6m3 1h6m-5-13h6m-4 29h6m-1-1h6m-4-12h6m-1-18h6m-1 13h6m2 16h6m4-22h6m-381 70h6m-5-30h6m-4 0h6m4 31h6m2-38h6m-3 24h6m2-3h6m-5-14h6m-6 12h6m-6 11h6m-2 8h6m-5-34h6m-6 12h6m-5 6h6m-6-18h6m-6 25h6m-4-16h6m3-13h6m-2 33h6m-4-26h6m-5 27h6m-6-26h6m-2 2h6m-5 12h6m-5-20h6m-4-2h6m-1 23h6m-4 1h6m-5 14h6m-3-28h6m-6 10h6m-3-13h6m-4 12h6m-3-4h6m-6 22h6m2-27h6m-1 8h6m-2-11h6m-2 8h6m-6 8h6m-6-14h6m-3 1h6m1-7h6m-3-4h6m-1 11h6m-5-2h6m1 24h6m-4 6h6m-3-31h6m3 19h6m-6-16h6m1 3h6m-4-10h6m-1 6h6m0-2h6m1 30h6m-6-18h6m-6 19h6m-6-22h6m-4 21h6m5-16h6m-4-8h6m0 6h6m1 6h6m-5-3h6m1 1h6m-4-21h6m-3 10h6m-5-3h6m-3 0h6m-1 2h6m-1 22h6m2-33h6m-3 17h6m-4 5h6m8-16h6m-1 14h6m-6-5h6m-4-3h6m-5-2h6m-4 27h6m1-21h6m-5 11h6m-5-13h6m-6-1h6m-5 10h6m-6-15h6m-5 16h6m-3-13h6m-2-4h6m-4-1h6m-4-5h6m0 12h6m-4 4h6m-2-16h6m-6 36h6m-5 1h6m-5-28h6m-5 21h6m-5-10h6m3-3h6m-2 18h6m-3-32h6m-5 9h6m-6-12h6m-5 20h6m-6-21h6m-5 11h6m-4 6h6m-6 2h6m-5-2h6m-5 0h6m-5-3h6m-2 5h6m-4-18h6m-6 4h6m-2 25h6m-4-19h6m-5-10h6m-5 15h6m-3-11h6m-6 25h6m6-10h6m-350 41h6m-5 4h6m-2 2h6m-3-6h6m-2 4h6m-3-16h6m-1-3h6m-4 20h6m-5-6h6m-6 1h6m-4 6h6m-5-21h6m-2 0h6m-2 2h6m-6-5h6m-6 31h6m-3-27h6m-3 31h6m-2-14h6m-3-14h6m-6-1h6m-5 28h6m-5-30h6m-5 18h6m-5 4h6m-6 1h6m-5-26h6m-4-3h6m-5 4h6m-6 27h6m-4-30h6m-6 1h6m-4 26h6m-6-5h6m-4-14h6m-4 1h6m-6 26h6m-3-31h6m-1 4h6m-3 18h6m-4 3h6m12 1h6m-3-5h6m1-27h6m-2 15h6m2-4h6m-2-4h6m-4 6h6m-3 14h6m-6-20h6m-2 27h6m-3-3h6m-2-10h6m-3-6h6m-5 22h6m-5-22h6m-5 23h6m-5-2h6m-5-10h6m-5 1h6m-5-2h6m-5-22h6m-3 22h6m-4 9h6m-5 3h6m-4-3h6m-5-8h6m-5 11h6m-2-16h6m-5 8h6m-4 4h6m-6-13h6m-2 4h6m-5-2h6m-4-5h6m-6-2h6m0-13h6m4 35h6m-5-1h6m1-3h6m-5-20h6m-2-7h6m1-6h6m-1 32h6m-4-22h6m-3 24h6m4-32h6m1 32h6m-4-27h6m-4 27h6m-6-24h6m-3-10h6m-5 18h6m-5 11h6m-4 8h6m12-36h6m1 1h6m-5 18h6m-4 10h6m1-30h6m-4 35h6m-6-27h6m-6 25h6m-2-24h6m-6-2h6m-6 0h6m-5 23h6m-4-6h6m-5-19h6m-5 31h6m-5-19h6m-5 13h6m-3-25h6m-5 28h6m3-8h6m-4-17h6m-6 11h6m-4 0h6m-1-15h6m0 5h6m-3-4h6m-3 6h6m-6 21h6m-5-7h6m-1-12h6m-4-4h6m-5-2h6m-3-1h6m10 1h6m5 19h6m6 8h6m-396 15h6m8 24h6m-6-9h6m-5-13h6m-6 5h6m-5 11h6m-6-7h6m-5 5h6m-6 2h6m-6 1h6m-5-21h6m-6 7h6m-5 8h6m-6-20h6m-5 26h6m-5 4h6m-6-29h6m-6 6h6m-5 8h6m-5-1h6m-6-2h6m-5-6h6m-5 26h6m-6-6h6m-6-26h6m-5-1h6m-6 13h6m-6 21h6m-5-8h6m-6-1h6m-6-5h6m-4 3h6m-5-18h6m-5 12h6m-5 5h6m-6 14h6m-5-21h6m-6 17h6m-6 4h6m-4-15h6m-6 8h6m-6 4h6m-6-5h6m-6 8h6m-5-23h6m-6-14h6m-6 17h6m-5-11h6m-6 26h6m-6 6h6m-5-3h6m-6-27h6m-6 14h6m-6-21h6m-5 9h6m-5 9h6m-5-2h6m-6 4h6m-5-9h6m-6 14h6m-5-13h6m-6 10h6m-6-1h6m-6-1h6m-4-13h6m-5 24h6m-6-14h6m-6-9h6m-4 24h6m-6-16h6m-5-4h6m-6-5h6m-5 13h6m-6 5h6m-5 6h6m-6-13h6m-5-5h6m-5 14h6m-6-6h6m-5-18h6m-5 23h6m-5-4h6m-6-7h6m-5-9h6m-6 8h6m-6 4h6m-5-7h6m-5 14h6m-5-8h6m-6 5h6m-5-3h6m-6-15h6m-6 25h6m-6-15h6m-5 6h6m-6 11h6m-6-1h6m-5 0h6m-6-17h6m-6-4h6m-6 20h6m-6-22h6m-5 17h6m-5 1h6m-6-4h6m-6-6h6m-5 18h6m-6-18h6m-5-4h6m-5 12h6m-6-2h6m-6-12h6m-5 11h6m-6-13h6m-6-1h6m-5 4h6m-4 23h6m-6 3h6m-6-32h6m-6 20h6m-5 1h6m-6 2h6m-5 0h6m-6-13h6m-6 20h6m-5-3h6m-6-11h6m-3 2h6m-6 1h6m-6-9h6m-5 0h6m-5 18h6m-6 5h6m-5-22h6m-4-9h6m-6-2h6m-5 24h6m-6-5h6m-6-18h6m-5 15h6m-6 12h6m-6-2h6m-5-21h6m-4 14h6m-6-19h6m-6 7h6m-5 7h6m-6 19h6m-5-23h6m-6-10h6m-5 19h6m-6 9h6m-6-28h6m-6 20h6m-6-14h6m-6 9h6m-5 12h6m-5-18h6m-6 16h6m-5 7h6m-6-18h6m-5 2h6m-6-4h6m-6 11h6m-5-28h6m-5 26h6m-6-10h6m-6 21h6m-4 0h6m-6-23h6m-6-12h6m-5 14h6m-6-11h6m-6-1h6m-6 13h6m-4 12h6m-6-15h6m-6-12h6m-6 8h6m-5 12h6m-5-8h6m-6 15h6m-5-4h6m-6-22h6m-6 26h6m-6-14h6m-5 17h6m-6-2h6m-5-9h6m-6-14h6m-6 13h6m-5-3h6m-5-9h6m-5 10h6m-6 12h6m-5-30h6m-5 8h6m-6 2h6m-5 8h6m-5 7h6m-5-8h6m-5 1h6m-5 1h6m-5-17h6m-5 20h6m-5-5h6m-6-1h6m-4 19h6m-5 2h6m-6-23h6m-5 13h6m-6-27h6m-6 15h6m-6 11h6m-6 4h6m-4-19h6m-6 12h6m-6-6h6m-5 10h6m-6-11h6m-5-7h6m-4 4h6m-6 19h6m-6-1h6m-4-29h6m-6 28h6m-6-24h6m-6 10h6m-6 14h6m-5-18h6m-6 19h6m-4-2h6m-6 5h6m-2-32h6m-6 24h6m-6-6h6m-6 0h6m-6-1h6m-3 12h6m-5-6h6m-4 2h6m-6-18h6m-4 17h6m-6-9h6m-5 7h6m-6-17h6m-5 2h6m-6 23h6m-5-5h6m-6-7h6m-6 10h6m-6-7h6m-5-15h6m-4-3h6m-6 22h6m-5-25h6m-5-2h6m-6 32h6m-6 3h6m-3-10h6m-5-4h6m-5 15h6m-6-5h6m-5-27h6m-6 9h6m-6 18h6m-5-2h6m-6-13h6m-6 2h6m-6 2h6m-5 7h6m-5-28h6m-6 9h6m-6 10h6m-5-8h6m-6 14h6m-5 12h6m-5-2h6m-6-13h6m-5 2h6m-4 7h6m-6-23h6m-3 15h6m-6 10h6m-6-22h6m-6 22h6m-5 6h6m-5-29h6m-5 2h6m-6 16h6m-5-17h6m-3 22h6m-6-16h6m-4 12h6m-6 4h6m-6-2h6m-6-3h6m-5-19h6m-6 22h6m-6 0h6m-5 1h6m-5-32h6m-3 35h6m-6-11h6m-5-9h6m-6 6h6m-5 0h6m-6 4h6m-5 3h6m-5-12h6m-6 14h6m-5-1h6m-5-7h6m-4 7h6m-6-1h6m-6-9h6m-5 14h6m-6-18h6m-5 9h6m-6 15h6m-3-4h6m-6 2h6m-6-24h6m-5 14h6m-6-7h6m-5 0h6m-5-2h6m-5 16h6m-5-7h6m-6-6h6m-4 15h6m-5-23h6m-5 11h6m-6 0h6m-6-4h6m-5 0h6m-6 14h6m-6-26h6m-5 23h6m-6-16h6m-5 5h6m-6 3h6m-6 1h6m-5-8h6m-5 6h6m-6-8h6m-4 21h6m-6-29h6m-6 16h6m-5 9h6m-6 1h6m-4-20h6m-6 8h6m-6-5h6m-4 4h6m-5 2h6m-5-10h6m-6 18h6m-4-1h6m-6-5h6m-5 12h6m-6-17h6m-5-11h6m-6 10h6m-5 5h6m-6 0h6m-6-9h6m-5 3h6m-6 4h6m-6-17h6m-6 24h6m-6-23h6m-5 6h6m-5 9h6m-6 11h6m-5-18h6m-5 6h6m-5 0h6m-4-11h6m-6 23h6m-4-10h6m-4 15h6m-6-1h6m-5-3h6m-5-29h6m-6 18h6m-6 15h6m-6-21h6m-4 6h6m-6 14h6m-5-1h6m-6-13h6m-5 7h6m-6 9h6m-5 3h6m-5-26h6m-6 14h6m-5-20h6m-6 6h6m-5 20h6m-6 0h6m-6-12h6m-5-17h6m-4 35h6m-5-20h6m-6 3h6m-6-13h6m-6 28h6m-2-32h6m-6 24h6m-6-24h6m-5 12h6m-3 17h6m-5 2h6m-4-3h6m-6-28h6m-6 27h6m-6-1h6m-5-19h6m-3 19h6m-6 2h6m-6-1h6m-5-4h6m-4 5h6m-5-16h6m-4-6h6m-3 12h6m-5-2h6m-6 11h6m-4-15h6m-6 6h6m-6-22h6m-5 12h6m-6-7h6m-5 26h6m-6-3h6m-6-26h6m-4 21h6m-5-4h6m-6-6h6m-5-10h6m-5 1h6m-5 8h6m-6-2h6m-6 5h6m-5 13h6m-5-7h6m-5-17h6m-5 21h6m-6-7h6m-6-9h6m-5 7h6m-6 4h6m-4 1h6m-6 3h6m-6 12h6m-5-21h6m-6 16h6m-5-17h6m-5-12h6m-5 19h6m-5-21h6m-5 14h6m-5 20h6m-6-12h6m-3-5h6m-6 21h6m-6-19h6m-3 12h6m-6-10h6m-6-13h6m-6 23h6m-5-4h6m-4-17h6m-5 12h6m-1 10h6m-6-26h6m-5 11h6m-5 16h6m-6-20h6m-6 18h6m-6-21h6m-3-11h6m-4 23h6m-5-10h6m-5-9h6m-5 20h6m-6 11h6m-3-15h6m-6 11h6m-3-18h6m0 15h6m-5-22h6m-1 0h6m-396 51h6m36 19h6m8-31h6m-5 0h6m-4-3h6m-5 3h6m-6 26h6m-6-31h6m-5 7h6m-6-1h6m-4-3h6m-2 6h6m-6 2h6m-3 0h6m-2-6h6m-5 3h6m-4-5h6m-3 3h6m-5 3h6m1-2h6m-5 30h6m-5-13h6m-3-24h6m-4 23h6m0-10h6m-3-11h6m-3 9h6m-6 1h6m-5-9h6m-4-1h6m-6 23h6m-1-14h6m-4 0h6m-3-3h6m-5-2h6m-3 1h6m0 15h6m-4-2h6m-4-19h6m-5 0h6m-6 28h6m-2-18h6m-1-9h6m-6 0h6m-5-2h6m4 37h6m3 0h6m-5-34h6m-2 0h6m-5-3h6m4 5h6m-2 5h6m-5 5h6m-2-1h6m2 2h6m0 21h6m6-33h6m-6 4h6m-6-8h6m-5 0h6m-5 35h6m2-32h6m-3-1h6m1 2h6m-6-1h6m-6 36h6m-3-26h6m1 4h6m0-12h6m12-5h6m-3 6h6m10 0h6m-1 3h6m2 3h6m2 24h6m-5 0h6m-1-36h6m-2 1h6m-4 14h6m-4-6h6m-3-2h6m-2 20h6m-4-26h6m-6 34h6m-3-12h6m2 15h6m1-25h6m-4-7h6m-6 33h6m-5 0h6m-5-31h6m-2 30h6m7-38h6m4 31h6m-5-7h6m-5 7h6m1-15h6m21-15h6m-376 54h6m45 4h6m35 6h6m9-15h6m-2 23h6m-5-33h6m-3 3h6m1 14h6m4 15h6m0-11h6m-5-9h6m7 22h6m-2-26h6m1 11h6m-6 0h6m-3-4h6m7 6h6m-6-9h6m7 10h6m-2-13h6m-6-3h6m-4 10h6m-1 4h6m3-16h6m-6-1h6m1 36h6m-2-5h6m5 5h6m1-29h6m4 27h6m-1-24h6m9-9h6m-2 14h6m3 5h6m-5-11h6m21 5h6m-3-16h6m-2 19h6m-3-12h6m-5-1h6m14 28h6m-5-34h6m-5 14h6m-322 41h6m12 11h6m58 1h6m24-7h6m-4 11h6m20-30h6m-3 31h6m-6-31h6m-3 14h6m5-12h6m5 8h6m61-11h6m13 2h6m-5-2h6m0 35h6m0 1h6m-258 39h6m159-35h6m2 4h6m6 24h6m2-11h6m48 11h6m18-26h6m3 10h6m-131 34h6" stroke="#2f44c4" stroke-width="6" stroke-opacity=".36"/><ellipse cx="42.8" cy="19.2" rx="3.4" ry="2" fill="#4a90d0" opacity="0.55" filter="url(#b1)" transform="rotate(-50 42.8 19.2)"/><ellipse cx="23.8" cy="46.4" rx="10.2" ry="2.2" fill="#5574d4" opacity="0.55" filter="url(#b06)" transform="rotate(-3 23.8 46.4)"/><ellipse cx="21.8" cy="46.4" rx="7.7" ry="1.8" fill="#3eb0c4" opacity="0.85" filter="url(#b06)" transform="rotate(-3 21.8 46.4)"/><ellipse cx="20.3" cy="46.4" rx="5.8" ry="1.6" fill="#5cc24e" opacity="1" filter="url(#b06)" transform="rotate(-3 20.3 46.4)"/><ellipse cx="17.6" cy="46.4" rx="2.3" ry="1.1" fill="#d6d23c" opacity="1" filter="url(#b06)" transform="rotate(-3 17.6 46.4)"/><ellipse cx="17.1" cy="46.4" rx="1.1" ry=".8" fill="#e8642a" opacity="1" filter="url(#b06)" transform="rotate(-3 17.1 46.4)"/><ellipse cx="17.2" cy="46.4" rx=".7" ry=".5" fill="#de2a1e" opacity="1" filter="url(#b06)" transform="rotate(-3 17.2 46.4)"/><line x1="23" y1="0" x2="23" y2="61.2" stroke="#5a5a5a" stroke-width="1"/><line x1="0" y1="42.9" x2="61.8" y2="42.9" stroke="#4a4a4a" stroke-width="1"/><text x="1.6" y="3.6" font-size="2.9" fill="#444">Q1</text><text x="1.6" y="6.6" font-size="2.9" fill="#444">2.06</text><text x="60.2" y="3.6" text-anchor="end" font-size="2.9" fill="#444">Q2</text><text x="60.2" y="6.6" text-anchor="end" font-size="2.9" fill="#444">19.1</text><text x="1.6" y="56.8" font-size="2.9" fill="#444">Q4</text><text x="1.6" y="59.8" font-size="2.9" fill="#444">60.4</text><text x="60.2" y="56.8" text-anchor="end" font-size="2.9" fill="#444">Q3</text><text x="60.2" y="59.8" text-anchor="end" font-size="2.9" fill="#444">21.2</text><path d="M-1.6 6.1h1.6M-1.6 20.3h1.6M-1.6 37.1h1.6M-1.6 46.2h1.6M-1.6 55.5h1.6M-.9 6.1h.9M-.9 9.5h.9M-.9 13h.9M-.9 16.4h.9M-.9 19.9h.9M-.9 23.3h.9M-.9 26.8h.9M-.9 30.2h.9M-.9 33.7h.9M-.9 37.1h.9M4.5 61.2v1.6M15.2 61.2v1.6M25.1 61.2v1.6M41.5 61.2v1.6M56.7 61.2v1.6M25.1 61.2v.9M28.6 61.2v.9M32.1 61.2v.9M35.6 61.2v.9M39.1 61.2v.9M42.7 61.2v.9M46.2 61.2v.9M49.7 61.2v.9M53.2 61.2v.9M56.7 61.2v.9" stroke="#333" stroke-width=".55"/><rect x="-1.1" y="45.7" width="1.2" height="2.8" fill="#111"/><rect x="12.4" y="61.2" width="3" height="1.1" fill="#111"/><text x="-2.3" y="7.1" font-size="2.8" fill="#555" text-anchor="end">10⁵</text><text x="-2.3" y="21.3" font-size="2.8" fill="#555" text-anchor="end">10⁴</text><text x="-2.3" y="38.1" font-size="2.8" fill="#555" text-anchor="end">10³</text><text x="-2.3" y="47.2" font-size="2.8" fill="#555" text-anchor="end">0</text><text x="-2.3" y="56.5" font-size="2.8" fill="#555" text-anchor="end">-10³</text><text x="4.5" y="66.1" font-size="2.8" fill="#555" text-anchor="middle">-10³</text><text x="15.2" y="66.1" font-size="2.8" fill="#555" text-anchor="middle">0</text><text x="25.1" y="66.1" font-size="2.8" fill="#555" text-anchor="middle">10³</text><text x="41.5" y="66.1" font-size="2.8" fill="#555" text-anchor="middle">10⁴</text><text x="56.7" y="66.1" font-size="2.8" fill="#555" text-anchor="middle">10⁵</text></g>
<g transform="translate(113.3 220.6)"><rect x="0" y="0" width="61.8" height="61.2" fill="#fff" stroke="#b8b8b8" stroke-width=".8"/><rect x="15" y="14" width="34" height="30" rx="5" fill="#aab4ea" opacity="0.07" filter="url(#b15)"/><path transform="scale(.1)" d="M194 64h6m-44 39h6m14 12h6m274-4h6m-3-8h6m0 9h6m29 7h6m37-3h6m-392 32h6m8-25h6m0 18h6m-2 5h6m2-19h6m3 9h6m-1 5h6m-5 15h6m-1 3h6m2-10h6m-3-8h6m0 18h6m3-28h6m-1 4h6m11 11h6m-4 10h6m13-13h6m-3-11h6m-5 4h6m8 19h6m56 0h6m0-9h6m7-7h6m0 10h6m-2 0h6m-2-9h6m-2 7h6m-5-1h6m-1 5h6m-5 8h6m-5-9h6m-3 6h6m-4-27h6m-5 27h6m4-1h6m-4 3h6m-6-16h6m-5 6h6m-3 9h6m-2-9h6m-2-10h6m-2-7h6m1 8h6m12 5h6m-6 6h6m-4-2h6m1 6h6m-4-31h6m0 34h6m-6-3h6m-5-11h6m-4-5h6m-2 18h6m-5-20h6m4 2h6m-5 11h6m-1-1h6m-3-10h6m-6 4h6m2-5h6m4 16h6m-3 5h6m-2-12h6m-5-3h6m1 12h6m-4-15h6m-2-12h6m-402 37h6m8-3h6m-3 34h6m4 1h6m-2-8h6m-5 4h6m-5-15h6m-2 18h6m-1 2h6m-4 1h6m-6-13h6m-6-12h6m-5 17h6m0-25h6m-3 22h6m-1-22h6m-4 14h6m-1-3h6m-5-9h6m-4-5h6m-3 33h6m-6-11h6m-2-15h6m2 21h6m-5-9h6m-4 0h6m-2-2h6m-4 16h6m-5-34h6m0 26h6m0 8h6m2-35h6m26 20h6m1-19h6m23 17h6m5 20h6m-4-21h6m-5-8h6m-3 19h6m-5-25h6m-5 12h6m-1-2h6m-5-1h6m-6 19h6m-2-10h6m0-1h6m-6 8h6m3-13h6m-3-4h6m-4 26h6m1-9h6m-5 5h6m-3-19h6m-4 13h6m-6 3h6m-5 4h6m1-5h6m-5 3h6m-5-7h6m-6-21h6m-5 30h6m-6-15h6m-4-9h6m-5 9h6m-5 14h6m-3 2h6m-6-23h6m-6 19h6m-5-15h6m-4-11h6m-5 24h6m-6 7h6m-5-16h6m-6 15h6m-5-17h6m-4 20h6m-6-6h6m-6-3h6m-4-26h6m-5 20h6m-6-11h6m-5 24h6m-6-2h6m-5-4h6m-6-5h6m-5 3h6m-3-22h6m-5 21h6m-5 11h6m-5-11h6m-2 4h6m-6 1h6m-5-8h6m-6 7h6m-4-23h6m-6 23h6m-6-21h6m-5 14h6m-5-3h6m-5 9h6m-6-18h6m-6 23h6m-5-15h6m-6-17h6m-6 1h6m-5 31h6m-6-14h6m-5 10h6m-6-15h6m-5 20h6m-5-20h6m-4 4h6m-5-15h6m-6-5h6m-5 18h6m-6-17h6m-6 21h6m-6 9h6m-6 7h6m-5-4h6m-6-15h6m-4 11h6m-5-22h6m-6 16h6m-6-9h6m-6 4h6m-5-15h6m-6 3h6m-5 5h6m-6 10h6m-6 3h6m-5 2h6m-6-7h6m-6-17h6m-4 4h6m-5 20h6m-6 7h6m-5-10h6m-6-6h6m-6 0h6m-6-16h6m-5 23h6m-6-3h6m-5 1h6m-6-3h6m-4-12h6m-5 26h6m-3-1h6m-6-7h6m-5-11h6m-5 21h6m-6-27h6m-6 25h6m-5-9h6m-3-19h6m-3 20h6m-6 11h6m-3-5h6m-5-22h6m-6 19h6m-4-12h6m-3 15h6m-6-7h6m-5-14h6m-5 8h6m-5 6h6m-4-23h6m-4 29h6m-5-30h6m-3 34h6m-5 2h6m-4-16h6m-5-1h6m-6 11h6m-2 2h6m-5-24h6m-5 9h6m-6 20h6m-5-31h6m-2 0h6m-4 27h6m-5-17h6m-4 8h6m-4-13h6m-2-1h6m-4 17h6m-6-7h6m3-8h6m-415 61h6m14-13h6m5 14h6m-5-24h6m-6 18h6m-6-7h6m-2-23h6m-6 35h6m1-26h6m-6 5h6m-5 4h6m-5 17h6m-6-19h6m-3 13h6m-6-8h6m-5-2h6m-5 18h6m-5-37h6m-6 16h6m-4-15h6m-6 18h6m-6 8h6m-5 5h6m-5-17h6m-4 5h6m-5-13h6m-5-2h6m-5 18h6m-6-14h6m-4 22h6m-5-30h6m-6-1h6m-4 37h6m-6-6h6m-4-29h6m-5 6h6m-2 13h6m-5 12h6m-6-27h6m-6-2h6m-4 13h6m-6-9h6m-2 4h6m-6 12h6m-6-2h6m-4 15h6m-6-14h6m-6-10h6m-4 8h6m-5 6h6m-6 1h6m-5-6h6m-6-5h6m-6 9h6m-6-3h6m-5 0h6m-6 11h6m-5 4h6m-5-11h6m-4-12h6m-6-12h6m-5 23h6m-6-20h6m-5 14h6m-4 13h6m-5 4h6m-5-29h6m0 6h6m-6 16h6m-5 4h6m-5-34h6m-5 35h6m-6-31h6m-4 15h6m-6-14h6m-5 6h6m0 28h6m-3-34h6m-4 30h6m-4-24h6m-3-8h6m3 30h6m2-28h6m-4 26h6m24 2h6m0-3h6m-5 9h6m0-6h6m-6-33h6m-5 18h6m-6 13h6m-1-18h6m-3-10h6m1 20h6m10-1h6m-3 8h6m-5-26h6m-3 11h6m-6 14h6m1 5h6m-6-11h6m-4 16h6m-6-25h6m-3 20h6m-3 1h6m-5-27h6m-3 12h6m-5-9h6m-5 2h6m-3 20h6m-1-27h6m-5-6h6m-5 18h6m-3 0h6m-6 14h6m-5 3h6m0-28h6m-6 1h6m-4 19h6m-5-6h6m-5-1h6m-6-12h6m-4-8h6m-5 0h6m-5 29h6m-6-12h6m-5 3h6m-5-1h6m-4 17h6m-4-30h6m-6 18h6m-6-2h6m-6-7h6m-4-6h6m-5 30h6m-6-4h6m-4-18h6m-5-9h6m-6 8h6m-5 2h6m-5-17h6m-5 11h6m-5 27h6m-5-11h6m-5 4h6m-5-32h6m-6 0h6m-5 0h6m-6 9h6m-6 0h6m-5 25h6m-5-17h6m-6 7h6m-5-22h6m-6 8h6m-5-10h6m-6 4h6m-6-4h6m-5 0h6m-5 31h6m-5 7h6m-6-19h6m-4-12h6m-6 4h6m-6 0h6m-5-5h6m-5 16h6m-6 0h6m-5 15h6m-5-18h6m-6-19h6m-5 3h6m-5 6h6m-6 8h6m-6 16h6m-6-21h6m-4-3h6m-4 8h6m-5-9h6m-6 21h6m-6-20h6m-6 0h6m-5 12h6m-6-4h6m-4 3h6m-4-17h6m-5 28h6m-6-29h6m-5 18h6m-5-3h6m-6-16h6m-5 16h6m-4 13h6m-6-3h6m-6 11h6m-5-11h6m-6-13h6m-6 17h6m-5-17h6m-5 19h6m-6-25h6m-5 9h6m-6 18h6m-5-22h6m-6 13h6m-6-6h6m-4 2h6m-6-1h6m-5 10h6m-6-31h6m-3 4h6m-6 5h6m-5 26h6m-3-35h6m-5 2h6m-6 2h6m-5-2h6m-5 16h6m-5 16h6m-4-17h6m-6-3h6m-5 13h6m-6-19h6m-5-1h6m-5 18h6m-6 13h6m-5-28h6m-4 11h6m-4-5h6m-5-9h6m-5 25h6m-6 2h6m-4 3h6m-4-9h6m-5-17h6m-3 4h6m-4 8h6m-2 5h6m0-18h6m19 7h6m-381 52h6m-1-17h6m4 27h6m-5-6h6m-3-23h6m-4 5h6m-6-11h6m-3 5h6m-6-2h6m-2 9h6m-5 13h6m-6-29h6m-5 9h6m-5-6h6m-3 36h6m-5-38h6m-1 22h6m-3 15h6m-4-34h6m-3 14h6m2-1h6m-3-2h6m-1 8h6m-4 7h6m-4-2h6m-6-26h6m-6 37h6m0-17h6m1 0h6m4-12h6m-5-2h6m7-1h6m5 2h6m7 15h6m-5 2h6m0 0h6m-5 12h6m-4-6h6m-3-16h6m4 3h6m-6 8h6m-2-3h6m-2 3h6m-5 10h6m-5-7h6m-6 4h6m-5-8h6m1 1h6m1 8h6m10-9h6m-5 3h6m-6-3h6m-3-13h6m-6 7h6m-2 8h6m-6-19h6m-5-9h6m-1 0h6m-2 10h6m-5 7h6m-6 2h6m-6-6h6m-4-8h6m-5 6h6m-6 18h6m-4 10h6m-5-7h6m-4-18h6m-6 2h6m-6-9h6m-6-3h6m-3 30h6m-6-19h6m-6 7h6m-5-6h6m-4 16h6m-5-5h6m-6-25h6m-4 1h6m-5 31h6m3-31h6m-5 11h6m-4 11h6m-5-1h6m-5 6h6m-3-5h6m-5 13h6m-2-35h6m-5 27h6m-6-20h6m-5 5h6m-6 4h6m-5-12h6m-5 31h6m-4-15h6m-6 15h6m-3 0h6m-5-22h6m-5-3h6m-5-6h6m-2 1h6m-5 17h6m-6-8h6m-5-16h6m-4 31h6m-6-29h6m-4 31h6m-1-19h6m-4 15h6m-4-16h6m-6-12h6m-4 18h6m-4 18h6m-6-11h6m-5-8h6m-5-18h6m-4 8h6m-5 29h6m-4-9h6m-6 10h6m-4-21h6m-4 21h6m-5-24h6m-4 4h6m-6-18h6m-1 30h6m-6-21h6m-6 25h6m-2-4h6m-4-10h6m-5 18h6m-3-28h6m-5 2h6m-5-10h6m-5 5h6m-2 30h6m4-1h6m-6-7h6m-4-23h6m-1 6h6m-1 5h6m8-7h6m-385 43h6m6 9h6m-5-3h6m-6-12h6m2 20h6m-1 2h6m-3 0h6m-4-4h6m-5 10h6m-5-27h6m-6 0h6m-2 20h6m-5 3h6m-6-31h6m-3 24h6m-6 7h6m-4 4h6m-3-31h6m-3 14h6m-6-19h6m-5 19h6m-5-4h6m-5-9h6m-3 21h6m-6-17h6m-5-3h6m-5 14h6m-4 0h6m-4-20h6m-4 37h6m-5-11h6m-6-3h6m-5 9h6m-4-23h6m-5 28h6m-6-33h6m-6 11h6m-5 22h6m-5-13h6m-1-5h6m-4-20h6m-3 31h6m-4 4h6m-1-31h6m-5 17h6m-3-11h6m-5 0h6m-2 4h6m5 21h6m0-9h6m2-15h6m31 10h6m-4 14h6m8-22h6m2 14h6m-4-27h6m-5 28h6m-4 7h6m-4-4h6m-5 6h6m-4-33h6m-5 11h6m-3-13h6m-6 29h6m4-29h6m-4 21h6m-4-23h6m0 1h6m-2 31h6m-4-26h6m-3 31h6m-2-19h6m-5 4h6m-1 7h6m-6-10h6m-6-16h6m-1 7h6m-3 15h6m2-11h6m-6 14h6m-1-19h6m-1 24h6m-5-28h6m-1 2h6m-5 25h6m-4-12h6m1-16h6m-5 8h6m-6-2h6m-5 12h6m-3 12h6m-6-26h6m-3 13h6m-2-14h6m-6 25h6m-5-20h6m0 21h6m-5-32h6m-6 17h6m-5-6h6m-4 1h6m-6-12h6m-5 11h6m-5 24h6m-2-33h6m-2 9h6m-3 14h6m-4-22h6m-5 30h6m-6-5h6m-5-12h6m-6 9h6m-1-11h6m-5 24h6m-3-1h6m-6-34h6m-3 33h6m-3-10h6m-6 1h6m-2-19h6m-4 23h6m-5-17h6m-3 24h6m0-37h6m-5-2h6m12 0h6m-379 45h6m-5 0h6m12 9h6m0 9h6m-4 9h6m-4 7h6m-1-19h6m-5-20h6m-4 33h6m-5-8h6m-2-15h6m-2 8h6m-6 4h6m-4 8h6m-6-4h6m-4 0h6m-3-17h6m-5 16h6m-5 0h6m-4-4h6m0 18h6m-4-16h6m-4-18h6m-5 3h6m-6 29h6m-5-35h6m-4 26h6m-1-18h6m-4-2h6m-4 13h6m-4-11h6m-1 10h6m1-2h6m-6-3h6m7 8h6m1-16h6m-6 6h6m-5 7h6m-5 17h6m-2-13h6m-5 7h6m1-10h6m0 14h6m0-32h6m1 0h6m-5 15h6m-3 18h6m-4 1h6m-3-28h6m-4 17h6m-1-22h6m-3 9h6m-5 10h6m-5-20h6m-1 5h6m-4 5h6m-3 23h6m-3-4h6m-1-8h6m-3 3h6m-2 8h6m-3-29h6m-4 10h6m-4 16h6m-4-7h6m-6-19h6m-3 18h6m-4 12h6m-3-23h6m-5-10h6m0 36h6m3-9h6m-2 0h6m11-16h6m-1-4h6m10 16h6m-1 8h6m-4-19h6m-6-13h6m-2 9h6m5-11h6m-5 34h6m-3-10h6m-5-17h6m-4 11h6m-5-16h6m-5 9h6m0 12h6m-3 16h6m-3-20h6m-6-17h6m-4 18h6m-6-5h6m-3 23h6m-4-17h6m-6 5h6m-5 7h6m-5-2h6m-5-7h6m-2-17h6m-6 25h6m-5-20h6m-6-12h6m-3 32h6m-5-1h6m0-13h6m-6-11h6m-5 7h6m-4-10h6m-6 27h6m-5-16h6m0 14h6m-4-14h6m-1 20h6m-6-35h6m-4 23h6m-3-18h6m-3 20h6m2-22h6m0 4h6m8-6h6m-357 49h6m0-4h6m-4 13h6m-6 6h6m-5 0h6m-6 4h6m-2-24h6m-6 26h6m-6-18h6m-4 0h6m-5 1h6m-4-6h6m4-3h6m-6 33h6m1-32h6m-5 25h6m-4-15h6m-4-4h6m-2 26h6m-5-31h6m-5 13h6m-6 8h6m-2-28h6m-5 8h6m-3 6h6m-6 25h6m-5-34h6m-6 16h6m-5-10h6m-1 27h6m-6-2h6m-5-33h6m-6 7h6m-6 2h6m-4 20h6m-4-4h6m-6-28h6m-4 18h6m-3-15h6m-2 18h6m-3-12h6m-6-3h6m-1 11h6m-4 9h6m-3-6h6m-4 17h6m5 2h6m-4-12h6m-6 6h6m-5 2h6m-6-32h6m-6-3h6m-3 28h6m-4-23h6m-5-3h6m-5 31h6m-2 2h6m4-1h6m-4 3h6m-5-18h6m-5 17h6m-1-21h6m-5 9h6m4-23h6m-2 4h6m2 4h6m-3 19h6m-4 3h6m-6-26h6m-5 26h6m-4-7h6m-5 12h6m-5-8h6m-1-20h6m3 1h6m-5 7h6m-2 7h6m-5 5h6m-3-13h6m-3-15h6m-1 2h6m-5 28h6m15 6h6m-5 3h6m-4-7h6m5-12h6m1 19h6m-3-27h6m-4 25h6m-4-13h6m-5-8h6m-6-2h6m-4 4h6m-6 3h6m2 14h6m-5-9h6m-5 7h6m-1-15h6m-4 4h6m-5 6h6m-1 11h6m-6-26h6m-4 5h6m-5 6h6m-4-15h6m-4 20h6m2 1h6m-4 0h6m-6-20h6m-4 26h6m-5 1h6m-2-35h6m3 7h6m-6 24h6m-5-3h6m-6-14h6m-5 23h6m2-16h6m-3-3h6m-6-20h6m-6 20h6m-6-11h6m-5 19h6m0-2h6m-380 45h6m-1-4h6m-3-25h6m5 12h6m-3 11h6m5-10h6m-6 20h6m-6-34h6m-6 4h6m-5 24h6m-6-9h6m-5 10h6m-5-4h6m-6-13h6m-5 21h6m-5-25h6m-6 6h6m-6 1h6m-5-10h6m-6 17h6m-5 3h6m-6 5h6m-5-12h6m-6 4h6m-6 4h6m-5-3h6m-5 1h6m-5 13h6m-6-2h6m-6-2h6m-6-17h6m-5 8h6m-4 4h6m-6-15h6m-5 19h6m-5-9h6m-5 1h6m-6-3h6m-6 4h6m-6-17h6m-5-3h6m-6 30h6m-5-15h6m-6-15h6m-4 16h6m-6-6h6m-5-5h6m-6 3h6m-5-4h6m-6-2h6m-6 14h6m-6-2h6m-6 8h6m-5-12h6m-6 11h6m-6-13h6m-5 11h6m-5-21h6m-6 25h6m-6-20h6m-6-6h6m-5 19h6m-5-9h6m-6 5h6m-6 0h6m-6-4h6m-5-14h6m-5 27h6m-6-16h6m-6 14h6m-6-19h6m-5 11h6m-6 6h6m-5 7h6m-6 9h6m-5-23h6m-6 11h6m-6-18h6m-4 26h6m-6-12h6m-6 7h6m-5-5h6m-5-10h6m-6-7h6m-5 20h6m-6 6h6m-6-12h6m-6 11h6m-6-12h6m-5 16h6m-6-25h6m-5 10h6m-6 4h6m-6 1h6m-6-17h6m-6 13h6m-6-1h6m-5 1h6m-6-13h6m-5 5h6m-5 17h6m-6 1h6m-5-8h6m-5-5h6m-6 18h6m-6-17h6m-5 18h6m-6-28h6m-6 26h6m-5-17h6m-6-12h6m-6 7h6m-5 8h6m-6 10h6m-6-16h6m-5 13h6m-6-2h6m-6-8h6m-5-6h6m-6 19h6m-6-11h6m-4-16h6m-6 7h6m-5 8h6m-5-13h6m-6 12h6m-5 11h6m-6-7h6m-5 1h6m-6-3h6m-5 4h6m-6-8h6m-5-9h6m-6 10h6m-6 14h6m-6 3h6m-5-10h6m-6-10h6m-6 12h6m-5-21h6m-5 12h6m-5-1h6m-4 8h6m-5 8h6m-6-9h6m-5-20h6m-6 25h6m-6-29h6m-6 8h6m-5-3h6m-6 24h6m-6-4h6m-3-13h6m-6-11h6m-5 23h6m-6-11h6m-6 2h6m-5-1h6m-6 7h6m-6-8h6m-5 5h6m-3 8h6m-6 9h6m-6-32h6m-5 30h6m-5-15h6m-6-14h6m-5 31h6m-5-18h6m-5 0h6m-5 20h6m-5-25h6m-5-10h6m-5 20h6m-6 12h6m-4 3h6m-6-24h6m-5 13h6m-6-7h6m-6 17h6m-6-1h6m-6-2h6m-5-19h6m-5-1h6m-4 0h6m-6-9h6m-5 24h6m-6-10h6m-4-4h6m-4-14h6m-6 22h6m-6 15h6m-5-9h6m-5-17h6m-5 15h6m-6-12h6m-5 10h6m-6 2h6m-4 8h6m-6-25h6m-6 22h6m-6-6h6m-6-15h6m-5 20h6m-6-21h6m-6 11h6m-5-1h6m-5 0h6m-6 12h6m-5-12h6m-6-19h6m-5 29h6m-5 7h6m-6-3h6m-6-27h6m-6-6h6m-5 0h6m-5 17h6m-5 14h6m-6 1h6m-6-19h6m-6-1h6m-5-3h6m-4 27h6m-5-20h6m-5 22h6m-5-17h6m-6 5h6m-6-27h6m-5 33h6m-5-22h6m-5-1h6m-6-9h6m-5 37h6m-6-18h6m-6-16h6m-4 25h6m-6-6h6m-6-15h6m-6 16h6m-5-20h6m-6 30h6m-6-28h6m-5 13h6m-6-1h6m-6-4h6m-4 16h6m-5-16h6m-6 12h6m-5-8h6m-6 15h6m-6-6h6m-6-13h6m-5 19h6m-6-15h6m-6 19h6m-4-9h6m-6-10h6m-6 13h6m-6-27h6m-6 9h6m-6 19h6m-5-7h6m-6 7h6m-5-2h6m-4-13h6m-5 8h6m-5-8h6m-5-8h6m-5 8h6m-6 15h6m-6-6h6m-5-17h6m-6-2h6m-5 17h6m-6-12h6m-5 6h6m-6 12h6m-5-24h6m-6 22h6m-4-6h6m-4-12h6m-6-4h6m-6 8h6m-5 4h6m-5 13h6m-6 4h6m-6-8h6m-5 2h6m-6-1h6m-5-12h6m-6 23h6m-6-22h6m-6-10h6m-5 22h6m-6-12h6m-6 19h6m-4-9h6m-5-8h6m-5-8h6m-6 24h6m-3-6h6m-6-24h6m-6 30h6m-5-24h6m-6 18h6m-5-6h6m-6 13h6m-5 0h6m-6 3h6m-5-9h6m-6 2h6m-6-13h6m-5 7h6m-6-4h6m-6-5h6m-4 14h6m-6-21h6m-5 13h6m-6-5h6m-6-12h6m-6 27h6m-5 2h6m-3-14h6m-4-11h6m-6-8h6m-5 29h6m-6-15h6m-6-16h6m-5 20h6m-5 8h6m-6 7h6m-4-16h6m-6 15h6m-6-19h6m-4 20h6m-6-8h6m-5 7h6m-5 2h6m-6-2h6m-5 2h6m-6-26h6m-4 23h6m-2-10h6m-5 7h6m-6-23h6m-5 18h6m-6-3h6m-5-1h6m-5 15h6m-5-6h6m-5-3h6m-5 5h6m-6-16h6m-6 18h6m-5-8h6m-5-13h6m-5 10h6m-2 7h6m-6-25h6m-4 22h6m-6 5h6m-3 7h6m-6-3h6m-4-28h6m-5 1h6m-5 19h6m-6-10h6m-5-14h6m-6 0h6m-4 26h6m-6 4h6m-6-11h6m-5 0h6m-6 6h6m-5 5h6m-6-13h6m-6 16h6m-5-11h6m-6 1h6m-5-19h6m-5 30h6m-3-25h6m-6 9h6m-5-4h6m-6-13h6m-4 5h6m-5 24h6m-5-11h6m-5 12h6m-6-16h6m-6 19h6m-5-12h6m-5 7h6m-4-10h6m-6 5h6m-6-26h6m-5 32h6m-5 0h6m-3-29h6m-6 16h6m-4 8h6m-4-9h6m-6-1h6m-6 17h6m-6-27h6m-4 22h6m-6-1h6m-6 6h6m-4 2h6m-6-36h6m-6 19h6m-5-3h6m-6-14h6m-4 32h6m-5-22h6m-5 4h6m-5-3h6m-4-8h6m-6 0h6m-6 13h6m-5-7h6m-6-1h6m-1 19h6m-6-11h6m-5-11h6m-6 26h6m-5-1h6m-4-11h6m-6 2h6m-5-22h6m-6 28h6m-5-11h6m-5-1h6m-4 13h6m-6-31h6m-5 8h6m-5 12h6m-6 0h6m-5 16h6m-5-10h6m-6-17h6m-4 17h6m-5-1h6m-5-17h6m-6 15h6m-4-4h6m-5 4h6m-4-1h6m-6-5h6m-6 18h6m-5-28h6m-6 28h6m-6-25h6m-5-2h6m-5 28h6m-4-28h6m-6 21h6m-3-1h6m-4 3h6m-5-3h6m-5-10h6m-4 4h6m-4-16h6m-6 13h6m-5-7h6m-6 11h6m-3 7h6m-6 4h6m-5-12h6m-5-11h6m-6 26h6m-6-33h6m-5 10h6m-6 12h6m-5-8h6m-6 18h6m-5-8h6m-4-16h6m-5-7h6m-5-3h6m-3 30h6m-5-2h6m-5-14h6m-4 8h6m-3-3h6m-1-4h6m-2 15h6m-3-16h6m-351 56h6m-4-7h6m7 8h6m-3-7h6m-4-6h6m-6 5h6m-1 0h6m-1-20h6m-5 2h6m-4-8h6m2 10h6m1-9h6m-6 9h6m-2 7h6m0-12h6m-5 4h6m-4-6h6m-3 0h6m-6 0h6m-5 6h6m-4 2h6m-1 24h6m-4-13h6m-6-13h6m-2 6h6m-3-8h6m0-5h6m-4 11h6m-1-12h6m1 23h6m-2 13h6m0-24h6m-4-1h6m-4-4h6m-4-3h6m-6-2h6m-5 6h6m-5-8h6m-6 0h6m-2-1h6m-3 23h6m-1-18h6m-5 1h6m1-5h6m-6 36h6m3-1h6m-3-36h6m-4 18h6m-2-18h6m-3 37h6m-2-35h6m-6 33h6m-1-33h6m-3 9h6m-3-5h6m-4 3h6m-3-9h6m4 11h6m-4 1h6m-2 24h6m-4 1h6m-2-1h6m-5-26h6m-5 29h6m3-37h6m1 5h6m-6-5h6m2-1h6m-6 0h6m4 38h6m-4-38h6m1 5h6m-5-4h6m1-1h6m-6 7h6m-6 28h6m-5-31h6m-5-5h6m-3 0h6m-4 3h6m2-3h6m-4 29h6m-5-6h6m-6-22h6m1 1h6m-5 11h6m-3-4h6m-2-7h6m-1 4h6m-4-2h6m0 3h6m7-2h6m-5 32h6m-6-29h6m-3 2h6m-4-10h6m-6 5h6m27 0h6m-347 61h6m25-16h6m4 1h6m7 0h6m7 11h6m19 1h6m-2-13h6m-1-8h6m-5 19h6m-2-20h6m-6 15h6m1 20h6m-1-29h6m-2-6h6m-4 17h6m2-9h6m-4 1h6m-5-7h6m-2 21h6m-4 7h6m7-17h6m-5 3h6m3-1h6m1 15h6m1-28h6m-4 32h6m-3-30h6m9-5h6m-2 5h6m11 3h6m-5 3h6m-6 20h6m-4-10h6m8-12h6m-3-2h6m-5-6h6m-6 25h6m-3-7h6m3 12h6m0-28h6m2 12h6m-2 23h6m-2-32h6m10 6h6m-5-7h6m-4 19h6m-2 6h6m-2-15h6m-3-14h6m-5 11h6m-4 18h6m-3-12h6m-6 11h6m-5 5h6m-6-21h6m4 3h6m-4 5h6m-299 36h6m-1 0h6m51 16h6m2-28h6m2 2h6m-6 13h6m20-20h6m15 20h6m-3 11h6m11 6h6m57-20h6m0 6h6m9-6h6m14-7h6m10 22h6m55-19h6m-355 32h6m161 2h6m68 9h6" stroke="#2f44c4" stroke-width="6" stroke-opacity=".36"/><ellipse cx="44" cy="19.5" rx="4" ry="2" fill="#4a88d0" opacity="0.45" filter="url(#b1)" transform="rotate(-30 44 19.5)"/><ellipse cx="23.6" cy="46.4" rx="9.9" ry="2.1" fill="#5574d4" opacity="0.55" filter="url(#b06)" transform="rotate(-3 23.6 46.4)"/><ellipse cx="21.6" cy="46.4" rx="7.4" ry="1.8" fill="#3eb0c4" opacity="0.85" filter="url(#b06)" transform="rotate(-3 21.6 46.4)"/><ellipse cx="20.1" cy="46.4" rx="5.6" ry="1.5" fill="#5cc24e" opacity="1" filter="url(#b06)" transform="rotate(-3 20.1 46.4)"/><ellipse cx="17.6" cy="46.4" rx="2.2" ry="1.1" fill="#d6d23c" opacity="1" filter="url(#b06)" transform="rotate(-3 17.6 46.4)"/><ellipse cx="17.1" cy="46.4" rx="1.1" ry=".7" fill="#e8642a" opacity="1" filter="url(#b06)" transform="rotate(-3 17.1 46.4)"/><ellipse cx="17.1" cy="46.4" rx=".7" ry=".5" fill="#de2a1e" opacity="1" filter="url(#b06)" transform="rotate(-3 17.1 46.4)"/><line x1="23.2" y1="0" x2="23.2" y2="61.2" stroke="#5a5a5a" stroke-width="1"/><line x1="0" y1="42.9" x2="61.8" y2="42.9" stroke="#4a4a4a" stroke-width="1"/><text x="1.6" y="3.6" font-size="2.9" fill="#444">Q1</text><text x="1.6" y="6.6" font-size="2.9" fill="#444">2.89</text><text x="60.2" y="3.6" text-anchor="end" font-size="2.9" fill="#444">Q2</text><text x="60.2" y="6.6" text-anchor="end" font-size="2.9" fill="#444">13.6</text><text x="1.6" y="56.8" font-size="2.9" fill="#444">Q4</text><text x="1.6" y="59.8" font-size="2.9" fill="#444">69.6</text><text x="60.2" y="56.8" text-anchor="end" font-size="2.9" fill="#444">Q3</text><text x="60.2" y="59.8" text-anchor="end" font-size="2.9" fill="#444">13.8</text><path d="M-1.6 6.1h1.6M-1.6 20.3h1.6M-1.6 37.1h1.6M-1.6 46.2h1.6M-1.6 55.5h1.6M-.9 6.1h.9M-.9 9.5h.9M-.9 13h.9M-.9 16.4h.9M-.9 19.9h.9M-.9 23.3h.9M-.9 26.8h.9M-.9 30.2h.9M-.9 33.7h.9M-.9 37.1h.9M4.5 61.2v1.6M15.2 61.2v1.6M25.1 61.2v1.6M41.5 61.2v1.6M56.7 61.2v1.6M25.1 61.2v.9M28.6 61.2v.9M32.1 61.2v.9M35.6 61.2v.9M39.1 61.2v.9M42.7 61.2v.9M46.2 61.2v.9M49.7 61.2v.9M53.2 61.2v.9M56.7 61.2v.9" stroke="#333" stroke-width=".55"/><rect x="-1.1" y="45.7" width="1.2" height="2.8" fill="#111"/><rect x="12.4" y="61.2" width="3" height="1.1" fill="#111"/><text x="-2.3" y="7.1" font-size="2.8" fill="#555" text-anchor="end">10⁵</text><text x="-2.3" y="21.3" font-size="2.8" fill="#555" text-anchor="end">10⁴</text><text x="-2.3" y="38.1" font-size="2.8" fill="#555" text-anchor="end">10³</text><text x="-2.3" y="47.2" font-size="2.8" fill="#555" text-anchor="end">0</text><text x="-2.3" y="56.5" font-size="2.8" fill="#555" text-anchor="end">-10³</text><text x="4.5" y="66.1" font-size="2.8" fill="#555" text-anchor="middle">-10³</text><text x="15.2" y="66.1" font-size="2.8" fill="#555" text-anchor="middle">0</text><text x="25.1" y="66.1" font-size="2.8" fill="#555" text-anchor="middle">10³</text><text x="41.5" y="66.1" font-size="2.8" fill="#555" text-anchor="middle">10⁴</text><text x="56.7" y="66.1" font-size="2.8" fill="#555" text-anchor="middle">10⁵</text></g>
<g transform="translate(183.3 220.6)"><rect x="0" y="0" width="61.8" height="61.2" fill="#fff" stroke="#b8b8b8" stroke-width=".8"/><rect x="15" y="14" width="34" height="30" rx="5" fill="#aab4ea" opacity="0.07" filter="url(#b15)"/><path transform="scale(.1)" d="M183 14h6m267 42h6m-270 52h6m3 10h6m223-5h6m-1 4h6m-5-1h6m-5-6h6m-2-2h6m2 11h6m0-2h6m-1 2h6m-5-14h6m-6 11h6m5-21h6m-5 20h6m-5-11h6m1-12h6m-4 20h6m-6-13h6m-3 11h6m-5 1h6m-4-9h6m-6 4h6m-3 7h6m-2-12h6m12 0h6m-362 52h6m-4-3h6m-3 7h6m-2-1h6m-4-6h6m-6 9h6m-3-6h6m-4-19h6m-5 25h6m-2-4h6m-5-14h6m-4 3h6m-5-5h6m-6-8h6m-4 20h6m-4 2h6m-6-5h6m8 2h6m6-1h6m-2 10h6m3 0h6m3-23h6m-2 8h6m-6 9h6m3-26h6m7 15h6m5 7h6m-2-8h6m-4-16h6m-1 0h6m0 16h6m22-5h6m9-6h6m2 20h6m2 2h6m19-5h6m11 7h6m-6-20h6m-4 15h6m-6-14h6m0 18h6m-5-29h6m-4 33h6m-3-3h6m-5-6h6m2 8h6m-6-5h6m-2 4h6m-6-2h6m-5-8h6m-6-21h6m-5-2h6m-3 37h6m-6-4h6m-6-1h6m-5 2h6m-5-3h6m-6 1h6m-6 3h6m-4-5h6m-5-10h6m-5 16h6m-4-33h6m-5 32h6m-6-10h6m-6 7h6m-4-9h6m-6 3h6m-5 11h6m-6-2h6m-6-24h6m-5 19h6m-6-9h6m-5-8h6m-6 22h6m-6-17h6m-4 11h6m-6 7h6m-6-22h6m-5 5h6m-6-2h6m-6-3h6m-5-12h6m-2 25h6m-6 4h6m-5 3h6m-6-29h6m-5-5h6m-6 15h6m-5 7h6m-6-19h6m-5 3h6m-6 4h6m-6-9h6m-5 20h6m-6-15h6m-5 7h6m-5 17h6m-6 3h6m-6-11h6m-6 2h6m-5-14h6m-5-1h6m-5 26h6m-5-19h6m-5 15h6m-6 3h6m-4-24h6m-5 13h6m-5-13h6m-5 15h6m-5 2h6m-5-24h6m-5 0h6m-5 10h6m-6 3h6m-5 12h6m-4 5h6m-6 4h6m-5-2h6m-5-34h6m-1 31h6m-5-21h6m1-6h6m-4 24h6m5-30h6m-5 36h6m-375 34h6m8-16h6m-3 16h6m-5-2h6m-1-4h6m-3-18h6m-5-2h6m-1 10h6m-6 3h6m-6-9h6m-4 24h6m-5-26h6m-5 28h6m-4-13h6m-5 11h6m-5 6h6m-6-19h6m-3 16h6m-5-19h6m-6 21h6m-6 1h6m-3-18h6m-6-2h6m-5-19h6m-5 36h6m-6-33h6m-5 9h6m-6 18h6m-5-1h6m-4-8h6m-5 9h6m-5-7h6m-4-9h6m-6 24h6m-6-5h6m-3 3h6m-4-1h6m-6-34h6m-5 2h6m-5 36h6m-5-20h6m-4-5h6m-5 6h6m-6 18h6m-3-6h6m-6-7h6m-4 9h6m-5-28h6m-5 22h6m-5-15h6m-6 3h6m-4 3h6m-5 19h6m-5-17h6m-5-17h6m-5 4h6m2 23h6m-4-15h6m-5 3h6m-4 19h6m-1-24h6m2 21h6m-5-29h6m6 8h6m1 10h6m59 1h6m10-13h6m5 23h6m-5-11h6m-3-1h6m-2-11h6m-4 9h6m4 2h6m-5-2h6m-4 1h6m-5 1h6m-4 1h6m-1 13h6m-6-1h6m-4-25h6m-6 25h6m-6-8h6m-1-18h6m-3-8h6m-6 25h6m-6-20h6m-6 21h6m-5 2h6m-6 7h6m-5-18h6m-5 9h6m-6-16h6m-6-9h6m-5 26h6m-5 4h6m-6 4h6m-6-37h6m-5 33h6m-5-18h6m-4 11h6m-6-19h6m-5-3h6m-5-1h6m-6 13h6m-6 10h6m-6-7h6m-6 0h6m-5 20h6m-5-1h6m-6-18h6m-5 7h6m-5 2h6m-6 0h6m-6 10h6m-5 0h6m-6-13h6m-6-11h6m-6-13h6m-5 12h6m-6 4h6m-6-2h6m-6 15h6m-5-22h6m-6 13h6m-5 12h6m-6-5h6m-6-19h6m-5 0h6m-6 8h6m-6 2h6m-5 19h6m-6-5h6m-6-15h6m-6 7h6m-5 3h6m-6-26h6m-6 17h6m-5 17h6m-6-34h6m-6 21h6m-6 14h6m-6-21h6m-5-2h6m-5 21h6m-5-8h6m-5-28h6m-5 13h6m-5 3h6m-5 13h6m-6 9h6m-5-8h6m-6-9h6m-6-10h6m-5-7h6m-6 19h6m-4-23h6m-6 39h6m-6-5h6m-6-28h6m-5 16h6m-6-16h6m-6 9h6m-6 2h6m-6 7h6m-6 3h6m-5-22h6m-6 29h6m-5-34h6m-6 32h6m-6-16h6m-5-16h6m-5 30h6m-6-13h6m-5 1h6m-6-13h6m-5 8h6m-6 4h6m-6-12h6m-5 1h6m-6 31h6m-6-12h6m-4-13h6m-6-4h6m-6 5h6m-6 9h6m-6-11h6m-6 13h6m-6-6h6m-5-15h6m-6 5h6m-5 19h6m-6-16h6m-6 15h6m-6-24h6m-5 35h6m-6-19h6m-5 18h6m-5-6h6m-6 5h6m-6-24h6m-6 12h6m-6-19h6m-5 11h6m-6 12h6m-5 11h6m-6-34h6m-6 16h6m-6-8h6m-6 11h6m-2-17h6m-6-6h6m-5 22h6m-6-7h6m-6-5h6m-6 1h6m-6 1h6m-3 0h6m-6 23h6m-6-34h6m-5 20h6m-5-15h6m-5-4h6m-6 16h6m-5-13h6m-5-2h6m-5 2h6m-5 8h6m-6 11h6m-6-13h6m-5-3h6m-5-6h6m-3 2h6m-4 10h6m-4 9h6m-6-12h6m-3-4h6m-3 2h6m-3 16h6m-4 8h6m0-2h6m5-27h6m-354 46h6m-5 23h6m-5 4h6m-1-32h6m-5 8h6m-5 22h6m-4-35h6m-4 14h6m-6 18h6m-4-15h6m-4-16h6m-5 36h6m-6-21h6m-5-14h6m-5 3h6m-5 20h6m-6-6h6m-6 12h6m-6-14h6m-6-6h6m-5 22h6m-5-7h6m-5 13h6m-4-12h6m-5-25h6m-5 4h6m-6-2h6m-5 21h6m-5 9h6m-5-9h6m-5 1h6m-5-15h6m-6 16h6m-6-14h6m-1 8h6m-6 0h6m-4 5h6m-6-15h6m-6-4h6m-6 16h6m-6 9h6m-5-32h6m-6 22h6m-6-19h6m-6 3h6m-5 1h6m-6 13h6m-5 13h6m-6-3h6m-5 4h6m-6-32h6m-6 7h6m-5 3h6m-5 15h6m-6-27h6m-5 39h6m-6-18h6m-5 17h6m-5-26h6m-6 12h6m-4-6h6m-6 20h6m-4 1h6m-6-22h6m-5 21h6m-6-38h6m-6 34h6m-5-34h6m-6 27h6m-6-17h6m-6 29h6m-5-28h6m-6 6h6m-6 3h6m-5-8h6m-5 17h6m-5-19h6m-6 21h6m-5-8h6m0-10h6m-5 12h6m-6-20h6m-5 22h6m-5-23h6m-6 32h6m-5-17h6m-5 1h6m-3 19h6m-5-5h6m-4-24h6m-1 4h6m-1 13h6m-1-21h6m-3 14h6m-2-7h6m-6 7h6m-3 7h6m0-11h6m-2 11h6m3 9h6m-4-11h6m0-9h6m-2 0h6m-4 13h6m14-8h6m-2-21h6m-2 9h6m7 22h6m2 1h6m1 6h6m6-8h6m-5-24h6m-5-4h6m-5 31h6m-3-6h6m-5-24h6m-4 3h6m-3 1h6m-4 2h6m-3 21h6m-5-2h6m-5-6h6m-4-6h6m-6-15h6m-3 30h6m-4 0h6m-5-13h6m-6 13h6m-6-19h6m-4 15h6m-6-10h6m-5 7h6m-5 10h6m-5-2h6m-6-17h6m-4 17h6m-5-21h6m-6 17h6m-5-23h6m-4-4h6m-5 7h6m-5-5h6m-6 10h6m-5-4h6m-6 4h6m-5 19h6m-5-11h6m-6-7h6m-5-12h6m-6 20h6m-5-19h6m-5 26h6m-5-2h6m-6-21h6m-5 10h6m-6-10h6m-6 3h6m-5-9h6m-6 21h6m-6-5h6m-5-9h6m-6 5h6m-5 2h6m-6 20h6m-6-18h6m-5-14h6m-6 6h6m-5 20h6m-6-26h6m-6 1h6m-5 11h6m-6 2h6m-6-6h6m-6 0h6m-6-7h6m-6 17h6m-6-12h6m-3 3h6m-5-3h6m-6-3h6m-5 7h6m-5 12h6m-6-22h6m-6 5h6m-5 18h6m-6 1h6m-6-20h6m-6 6h6m-5 20h6m-6-27h6m-6 17h6m-4 14h6m-4-13h6m-6-23h6m-6 10h6m-6 2h6m-6 18h6m-5 6h6m-6-2h6m-5-31h6m-6-3h6m-5 21h6m-6-16h6m-6 4h6m-5 7h6m-4 11h6m-6-13h6m-3 15h6m-4-2h6m-6-17h6m-5 11h6m-6 3h6m-3-21h6m-5 25h6m-6-6h6m-4 17h6m-3-38h6m-5 5h6m-5 11h6m0-5h6m-6 19h6m-4-11h6m-4 15h6m-3-9h6m-5-18h6m-5 6h6m-5 10h6m-1-10h6m-5 8h6m-1-3h6m-5 18h6m-6-34h6m-5 28h6m-336 33h6m2 5h6m-2 4h6m-4-2h6m-5-31h6m-4 12h6m-6 22h6m-5-22h6m-4-6h6m4 20h6m-3-24h6m-3 26h6m-5-10h6m-4-14h6m-6 1h6m-6-5h6m-6 11h6m-5 13h6m-5-13h6m-6 14h6m-6-21h6m-2 4h6m-6 24h6m-5-1h6m-6 6h6m-6 0h6m-4-16h6m-1-17h6m-5 9h6m-6 21h6m-6 0h6m-6-28h6m-3 27h6m-5-10h6m-5-21h6m-4 11h6m-3 4h6m-6-13h6m-6 0h6m-4 34h6m-3-11h6m-3-2h6m4-21h6m-4 0h6m-4 34h6m-6-7h6m2-7h6m-5-1h6m-6 14h6m-6-11h6m-4-14h6m-2 26h6m3-29h6m-6 30h6m7-19h6m-6-3h6m3 20h6m3-15h6m2-21h6m2 37h6m2-23h6m-2 11h6m-3 0h6m-4 8h6m1-21h6m1 7h6m6 18h6m-3-32h6m-1 26h6m0-18h6m-6 13h6m-4 0h6m-3-17h6m-5 29h6m-3-7h6m-5 5h6m-1-12h6m-6 10h6m-4-26h6m-6 11h6m-4 19h6m-6-38h6m-6 1h6m1-1h6m-5 11h6m-6 9h6m-4-20h6m-1 21h6m-5 9h6m2-14h6m-5-15h6m-4 35h6m-3-19h6m-6 21h6m-1-15h6m-6-19h6m-5 5h6m2 8h6m-5-6h6m-5 1h6m-5 19h6m-5-3h6m-2-28h6m-4 5h6m-5 14h6m-3 0h6m-5-19h6m-6 12h6m-2 11h6m6-23h6m-4-1h6m-5 39h6m-5-25h6m-6-12h6m-5 15h6m-6 19h6m-4-15h6m-3-10h6m-2 19h6m-4-2h6m-5 3h6m-5-5h6m-5-4h6m-5-10h6m-6 25h6m-4-36h6m4 33h6m7-27h6m9 12h6m10-3h6m-411 28h6m22 21h6m-2-7h6m-3 7h6m-6 4h6m-4-25h6m1 0h6m-5 35h6m6-15h6m-6 14h6m-6-26h6m-5 7h6m-6 7h6m-6-20h6m-3 21h6m-5 1h6m-5 2h6m-6-4h6m-3-9h6m-4-13h6m-5 29h6m-6-19h6m-5-8h6m-5 32h6m-5-15h6m-5-3h6m-5 12h6m-6-26h6m-6 19h6m-4 14h6m-6-7h6m-6-6h6m-6-20h6m-3 12h6m-5-2h6m-5 14h6m-5-13h6m-5 14h6m-4-11h6m-4 3h6m-3-1h6m-5 10h6m1 0h6m-4-25h6m-6-7h6m-3 15h6m-4 8h6m5-9h6m-4-6h6m-6 11h6m-6 16h6m-4 2h6m-5-6h6m-3 6h6m-4-3h6m-4-18h6m-2 10h6m1 10h6m10-5h6m-4 3h6m-2-17h6m-5 13h6m2 5h6m-6-26h6m-2 3h6m0-10h6m-1 36h6m-3-31h6m-5 1h6m-5-3h6m-1-1h6m2 4h6m-4 9h6m-5-10h6m2-2h6m-3 16h6m-6 10h6m-6-5h6m-5 4h6m-3-11h6m-5-10h6m-4 0h6m-6 4h6m-5 4h6m-5 20h6m-6-27h6m-1 17h6m-3 0h6m-4-1h6m-5 7h6m-6-27h6m-1 1h6m-6 19h6m3-10h6m4-12h6m-4 29h6m-2-22h6m-5 11h6m-3-7h6m-4 7h6m2-12h6m-4 2h6m-4 13h6m-3-12h6m-2 10h6m0-4h6m-3-11h6m-5 10h6m-5-7h6m-1 8h6m-3 13h6m-4-10h6m-5 6h6m-5 0h6m-4-22h6m-6 21h6m-6-13h6m-4 16h6m-3 2h6m-6 5h6m2-29h6m-6 0h6m-5-5h6m-4 25h6m-6-20h6m-5 17h6m-6 1h6m-2-14h6m-5-1h6m-1 21h6m-6-10h6m-4 7h6m-6-6h6m-6-5h6m-6 20h6m-4-29h6m-6 5h6m-1 12h6m-4-17h6m-4 5h6m0 16h6m-5-13h6m-5 0h6m-5 22h6m-4-1h6m-348 11h6m11 26h6m6-14h6m-5 9h6m-5-7h6m-4-13h6m-1 26h6m-6-4h6m-2 7h6m-2-20h6m-5-2h6m-5 22h6m-5-28h6m-4-6h6m-4 10h6m-6 21h6m-5-33h6m-5 35h6m-6-4h6m-6-1h6m-5-6h6m-4 2h6m-6-13h6m-3 15h6m-6-19h6m-5 25h6m-6-24h6m-6 26h6m-4-15h6m1 3h6m-6-23h6m-3 13h6m-4 2h6m-5-18h6m-1 12h6m-4 26h6m-5-35h6m-5 4h6m-6-3h6m-5 30h6m-5-3h6m6-8h6m-5-17h6m28 23h6m-2 4h6m1-8h6m-4-8h6m-1 20h6m-6-4h6m-5-10h6m-5-9h6m-6 16h6m-5-31h6m-5 19h6m-2 9h6m1 3h6m-5-2h6m-6 8h6m-4-29h6m-5 5h6m-1 9h6m-3-3h6m-3-16h6m-6 10h6m-5 1h6m-5 13h6m-1-24h6m-4 28h6m-6-6h6m-4-6h6m-6 4h6m-4 1h6m3-24h6m-3 37h6m1-32h6m0 34h6m-3-24h6m-4 13h6m-1-26h6m-6 0h6m-3 22h6m1-3h6m4 15h6m-4-15h6m-2 4h6m-5-12h6m1 13h6m-5 10h6m-3-11h6m-4 8h6m-3-7h6m-4 0h6m-6-18h6m-6 7h6m-6 3h6m-4-12h6m-2 22h6m-4-13h6m-5 12h6m3-10h6m-4-9h6m-5 24h6m-5-20h6m-4-1h6m-4 10h6m-5-10h6m-1 1h6m-6-8h6m-4 1h6m-5 28h6m-5-4h6m-4 2h6m-5 6h6m-4-32h6m-4 3h6m-6 2h6m2 21h6m-5-26h6m-6 18h6m-3 0h6m1-4h6m-5 20h6m-5-3h6m-3-33h6m-2 27h6m-357 15h6m-5 21h6m4-26h6m1 35h6m-5-33h6m-2 32h6m-4-19h6m-5-14h6m-2 1h6m-6 8h6m-5 6h6m-4 19h6m-6-2h6m-6 3h6m-4-11h6m-4-25h6m-5 22h6m-6-1h6m-4 0h6m-5 12h6m-6-28h6m-6 4h6m-5 2h6m-6 0h6m-5 18h6m-3-23h6m-4 23h6m-6-17h6m-4 18h6m-6-26h6m-5 13h6m-5-2h6m-4 19h6m-5-8h6m-5 6h6m-3-20h6m-6 13h6m-5-24h6m-4 18h6m-3 10h6m-2-23h6m-4-6h6m-3 19h6m0-8h6m-6 8h6m-5 0h6m-5-7h6m1 27h6m-6 0h6m-2-9h6m-6-16h6m-6 5h6m-6-3h6m-5 4h6m2-13h6m-4-6h6m-1 36h6m-5-32h6m2 3h6m-3 18h6m-4 7h6m-4-11h6m0-12h6m-3-5h6m-2 29h6m-5-13h6m4-11h6m-3 9h6m-3-9h6m0 14h6m-4-3h6m-3 9h6m-5-2h6m-6-17h6m-3 28h6m-3-5h6m-6 5h6m-4-30h6m-6-9h6m1 39h6m7-38h6m-1 38h6m4-3h6m-3 3h6m1-9h6m-1-2h6m-5-14h6m1-8h6m7 33h6m-5-11h6m1 6h6m-4-33h6m5 35h6m-4-12h6m-3-15h6m-4 0h6m-1-7h6m-4 16h6m-6 0h6m1-2h6m-6-15h6m-5 37h6m-4-14h6m-4-20h6m-5 17h6m-4 2h6m-6-9h6m0 17h6m-3-7h6m-5-8h6m-6 0h6m-5-2h6m-3 0h6m-6-3h6m-3-2h6m-6 15h6m-6-6h6m-3-8h6m-6-3h6m-4 19h6m-2-18h6m-2-4h6m-6 13h6m3 16h6m-6 0h6m-4-6h6m-2 7h6m-4 0h6m3-20h6m-349 38h6m-4 23h6m-1-14h6m-6 1h6m-5-3h6m-6-2h6m-6-4h6m-4 12h6m-6-1h6m-5 6h6m-5-18h6m-6 9h6m-6-5h6m-6-6h6m-5 27h6m-6-36h6m-5 5h6m-6 21h6m-5 10h6m-4-22h6m-5 7h6m-6 6h6m-4-10h6m-6 9h6m-5 7h6m-6-19h6m-5-2h6m-6 2h6m-5 3h6m-6 19h6m-6-11h6m-4-16h6m-6-9h6m-6 8h6m-5 26h6m-6-9h6m-6-21h6m-5 31h6m-6 2h6m-6-5h6m-4-13h6m-6 7h6m-6-3h6m-5-16h6m-5 4h6m-6-2h6m-6 24h6m-5 4h6m-5-3h6m-5-8h6m-6 8h6m-6-15h6m-6-10h6m-5 22h6m-5 6h6m-6-21h6m-3 12h6m-5-20h6m-6 7h6m-6 16h6m-5-6h6m-6-19h6m-6 11h6m-6 9h6m-5-1h6m-6-2h6m-6-4h6m-5-4h6m-6 18h6m-6-31h6m-5 12h6m-6-3h6m-5 23h6m-6-12h6m-6-3h6m-4 2h6m-6-5h6m-5 11h6m-5-14h6m-6 11h6m-6-16h6m-6 12h6m-5-1h6m-5-20h6m-5 21h6m-6 17h6m-6-23h6m-5 11h6m-6 8h6m-6 1h6m-5-21h6m-6 15h6m-6 3h6m-6-13h6m-5-16h6m-6 13h6m-5-6h6m-6-9h6m-6 15h6m-6 0h6m-6 10h6m-5 1h6m-6-4h6m-6 3h6m-5-12h6m-5-1h6m-6 26h6m-6-36h6m-5 30h6m-6-16h6m-4-5h6m-5 23h6m-3-16h6m-5 20h6m-6-17h6m-5-4h6m-6-6h6m-6 4h6m-6-9h6m-5-7h6m-5 31h6m-5 5h6m-6-17h6m-6-12h6m-6 26h6m-5-15h6m-4 7h6m-5-4h6m-6 16h6m-6-11h6m-6 0h6m-5-13h6m-6-3h6m-5 24h6m-5-1h6m-6-24h6m-5 5h6m-6 5h6m-6-6h6m-5 16h6m-5-14h6m-6-12h6m-5-1h6m-6 25h6m-6-5h6m-6 9h6m-5-15h6m-6 21h6m-5-11h6m-6 5h6m-5-11h6m-6-3h6m-6 18h6m-5 2h6m-5-26h6m-5 24h6m-6-9h6m-5 8h6m-4-19h6m-6 15h6m-5 1h6m-6-6h6m-6-7h6m-6 20h6m-5-14h6m-6-11h6m-6-5h6m-6 7h6m-5 3h6m-6 5h6m-5-5h6m-6-1h6m-5-6h6m-6-2h6m-5 14h6m-5-6h6m-6-15h6m-5 9h6m-6 7h6m-6 4h6m-4 16h6m-6-23h6m-5 18h6m-5-12h6m-6-13h6m-5 30h6m-6-37h6m-5 29h6m-6 1h6m-5-27h6m-5 4h6m-5-6h6m-5-1h6m-6 23h6m-6 0h6m-6 2h6m-5 4h6m-5-12h6m-5-8h6m-6 12h6m-5-1h6m-3 17h6m-6-4h6m-5-19h6m-5 12h6m-5 2h6m-6-4h6m-6 10h6m-4-11h6m-6-16h6m-5-6h6m-5 9h6m-5 2h6m-6 17h6m-6 2h6m-4 0h6m-6 1h6m-4-11h6m-6 3h6m-5-4h6m-5 4h6m-5-13h6m-5 25h6m-5-26h6m-5 3h6m-6 18h6m-6-23h6m-5 18h6m-5-12h6m-5 6h6m-6 0h6m-5-16h6m-5 13h6m-6 11h6m-5-11h6m-6 9h6m-4-5h6m-5-10h6m-5-6h6m-6 11h6m-5 17h6m-6-20h6m-5 10h6m-6-6h6m-5 10h6m-6-14h6m-5 15h6m-6 6h6m-6 1h6m-6-3h6m-6-21h6m-4 27h6m-5-29h6m-5 23h6m-6-26h6m-5 14h6m-6-13h6m-5 17h6m-5 4h6m-6-18h6m-6 11h6m-5-8h6m-6 21h6m-5-8h6m-6-13h6m-6 1h6m-5 2h6m-6 19h6m-4-16h6m-6 6h6m-5-2h6m-6 11h6m-6-4h6m-5-12h6m-6 14h6m-5-12h6m-5-16h6m-6 17h6m-5 12h6m-5-18h6m-6 18h6m-5 5h6m-6-22h6m-5 6h6m-6-6h6m-5 6h6m-6 3h6m-6 12h6m-6-18h6m-5 10h6m-6 8h6m-6-7h6m-6-20h6m-4 18h6m-5-3h6m-5-21h6m-5 24h6m-5-8h6m-6 1h6m-6 5h6m-6 11h6m-3-28h6m-6 9h6m-3-1h6m-6 4h6m-6 16h6m-6-32h6m-4 15h6m-6 17h6m-5-7h6m-6 3h6m-5-19h6m-5 1h6m-5 17h6m-6 6h6m-5-13h6m-5 10h6m-5-12h6m-6-9h6m-5 3h6m-6 1h6m-5 2h6m-6 7h6m-5 10h6m-6-7h6m-3-11h6m-6-8h6m-5 14h6m-5 6h6m-4 3h6m-5-27h6m-6-5h6m-6 1h6m-6 14h6m-5 3h6m-5 10h6m-6-15h6m-5 10h6m-6 2h6m-5-22h6m-5-5h6m-6 7h6m-5 15h6m-6-15h6m-6 11h6m-4 6h6m-5-16h6m-6 17h6m-4-3h6m-5-6h6m-6 10h6m-6-8h6m-4 6h6m-6 2h6m-6-26h6m-5 30h6m-6-31h6m-4 36h6m-6-10h6m-5-4h6m-5 3h6m-6-20h6m-5 0h6m-6 21h6m-5-19h6m-5 26h6m-5-15h6m-5 6h6m-6 2h6m-6-10h6m-4 22h6m-4-12h6m-5 2h6m-6-11h6m-5-13h6m-6 14h6m-5 12h6m-4-30h6m-5 25h6m-5-14h6m-6 12h6m-5-19h6m-6 14h6m-5 2h6m-6 13h6m-5-14h6m-4 10h6m-6 7h6m-6-24h6m-4 8h6m-4-5h6m-6 14h6m-5-13h6m-5-5h6m-6 19h6m-5-3h6m-5 12h6m-5-33h6m-6 8h6m-5 9h6m-6-23h6m-6 33h6m-5-16h6m-6 2h6m-3 20h6m-5-8h6m-6 3h6m-4-15h6m-6 17h6m-5-16h6m-5-2h6m-4 18h6m-6-14h6m-5-11h6m-6 6h6m-4 4h6m-6-10h6m-6 2h6m-5 11h6m-4 7h6m-5-19h6m-6-8h6m-5 19h6m-4 12h6m-5-16h6m-6 7h6m-4 1h6m-4-19h6m-5 28h6m-6-35h6m-5 17h6m-5-10h6m-5 11h6m-6 2h6m-6-2h6m-5-2h6m-4-12h6m-6 29h6m-6-15h6m-6-6h6m-5 8h6m-5-8h6m-5 23h6m-6-22h6m-6-9h6m-5-5h6m-4 1h6m-2 32h6m-5-15h6m-4 3h6m-6 10h6m-5-14h6m-5-2h6m-5 6h6m-6-15h6m-5 9h6m-5-2h6m-6 12h6m-5-22h6m-5 27h6m-3 5h6m-5-6h6m-4-15h6m-6-5h6m-6-1h6m-4-6h6m-6 31h6m-4-12h6m-5-18h6m-5 5h6m-6-4h6m-5 22h6m-2 9h6m-4-30h6m-3 16h6m-5-2h6m-5-19h6m-4 0h6m-6 34h6m-332 9h6m-5 10h6m-2-10h6m-5 11h6m-4-11h6m-3 1h6m-2-1h6m-5 4h6m-1-6h6m-4 38h6m1-37h6m-4 17h6m-5-7h6m-3 13h6m-6 14h6m-6-25h6m1-14h6m-6 5h6m-5 0h6m-2-2h6m-5 0h6m-3 24h6m-4-15h6m-4-1h6m-3 5h6m4-12h6m-3 4h6m-6-3h6m2 5h6m-5 0h6m-4-9h6m-6 24h6m-2-8h6m-1-13h6m4-4h6m-5 0h6m-1 9h6m0 15h6m-1-7h6m-2-9h6m0-8h6m-3 38h6m-4 0h6m5-35h6m-1-1h6m0 8h6m-4-9h6m-6 1h6m2-2h6m-1 5h6m-4-1h6m-5-4h6m-5 7h6m-4-4h6m-4-2h6m-2 0h6m-5 36h6m-5-28h6m2-7h6m-3 5h6m-5-5h6m-5 13h6m-2-7h6m13-2h6m-5 30h6m-5 3h6m13-38h6m-5 2h6m6 1h6m-5 1h6m-4-3h6m-5 3h6m-6 10h6m3-7h6m-5-4h6m-3 35h6m-5-8h6m-1-3h6m-5 7h6m-4 4h6m10-14h6m-5 13h6m-2-36h6m-6 0h6m-6 35h6m-3-35h6m-5 37h6m-2-23h6m-2 20h6m-1-26h6m-4 17h6m17-20h6m-348 65h6m14-15h6m-1-12h6m-2 21h6m16-17h6m-2 24h6m4-16h6m20-10h6m1 12h6m5 12h6m-4-23h6m-6-1h6m-2 30h6m-3-30h6m24 9h6m7 3h6m-5-15h6m-1 23h6m-4-18h6m-4-4h6m-2 2h6m-5 32h6m1-9h6m6-14h6m2-1h6m0-13h6m-3 16h6m9-4h6m-6-3h6m5-6h6m-6 3h6m-3-4h6m12 24h6m2 11h6m-2-14h6m-3 2h6m-5-13h6m-5-9h6m11-2h6m-1 17h6m-4 8h6m-2-19h6m-1-3h6m-2-4h6m8 15h6m-342 50h6m90-8h6m12-1h6m-1-5h6m-3-5h6m-2 10h6m0-17h6m18 13h6m-5 11h6m-2-14h6m-1 14h6m18-14h6m9 17h6m13-23h6m-2 19h6m-4-10h6m1 17h6m21-30h6m5 14h6m-6 8h6m-5-15h6m-5 4h6m10-2h6m-74 38h6m-4 17h6m3-6h6m47-12h6m17-6h6m-38 47h6" stroke="#2f44c4" stroke-width="6" stroke-opacity=".36"/><ellipse cx="42" cy="17.2" rx="3.2" ry="2.2" fill="#4cc0a0" opacity="0.8" filter="url(#b1)" transform="rotate(-50 42 17.2)"/><ellipse cx="18.5" cy="20.5" rx="1.8" ry="2.6" fill="#4a98d0" opacity="0.45" filter="url(#b1)" transform="rotate(0 18.5 20.5)"/><ellipse cx="23.3" cy="46.4" rx="10.2" ry="2.2" fill="#5574d4" opacity="0.55" filter="url(#b06)" transform="rotate(-3 23.3 46.4)"/><ellipse cx="21.3" cy="46.4" rx="7.7" ry="1.9" fill="#3eb0c4" opacity="0.85" filter="url(#b06)" transform="rotate(-3 21.3 46.4)"/><ellipse cx="19.8" cy="46.4" rx="5.8" ry="1.6" fill="#5cc24e" opacity="1" filter="url(#b06)" transform="rotate(-3 19.8 46.4)"/><ellipse cx="17.1" cy="46.4" rx="2.3" ry="1.1" fill="#d6d23c" opacity="1" filter="url(#b06)" transform="rotate(-3 17.1 46.4)"/><ellipse cx="16.6" cy="46.4" rx="1.1" ry=".8" fill="#e8642a" opacity="1" filter="url(#b06)" transform="rotate(-3 16.6 46.4)"/><ellipse cx="16.7" cy="46.4" rx=".7" ry=".5" fill="#de2a1e" opacity="1" filter="url(#b06)" transform="rotate(-3 16.7 46.4)"/><line x1="23.2" y1="0" x2="23.2" y2="61.2" stroke="#5a5a5a" stroke-width="1"/><line x1="0" y1="42.9" x2="61.8" y2="42.9" stroke="#4a4a4a" stroke-width="1"/><text x="1.6" y="3.6" font-size="2.9" fill="#444">Q1</text><text x="1.6" y="6.6" font-size="2.9" fill="#444">1.95</text><text x="60.2" y="3.6" text-anchor="end" font-size="2.9" fill="#444">Q2</text><text x="60.2" y="6.6" text-anchor="end" font-size="2.9" fill="#444">33.2</text><text x="1.6" y="56.8" font-size="2.9" fill="#444">Q4</text><text x="1.6" y="59.8" font-size="2.9" fill="#444">48.6</text><text x="60.2" y="56.8" text-anchor="end" font-size="2.9" fill="#444">Q3</text><text x="60.2" y="59.8" text-anchor="end" font-size="2.9" fill="#444">15.6</text><path d="M-1.6 6.1h1.6M-1.6 20.3h1.6M-1.6 37.1h1.6M-1.6 46.2h1.6M-1.6 55.5h1.6M-.9 6.1h.9M-.9 9.5h.9M-.9 13h.9M-.9 16.4h.9M-.9 19.9h.9M-.9 23.3h.9M-.9 26.8h.9M-.9 30.2h.9M-.9 33.7h.9M-.9 37.1h.9M4.5 61.2v1.6M15.2 61.2v1.6M25.1 61.2v1.6M41.5 61.2v1.6M56.7 61.2v1.6M25.1 61.2v.9M28.6 61.2v.9M32.1 61.2v.9M35.6 61.2v.9M39.1 61.2v.9M42.7 61.2v.9M46.2 61.2v.9M49.7 61.2v.9M53.2 61.2v.9M56.7 61.2v.9" stroke="#333" stroke-width=".55"/><rect x="-1.1" y="45.7" width="1.2" height="2.8" fill="#111"/><rect x="12.4" y="61.2" width="3" height="1.1" fill="#111"/><text x="-2.3" y="7.1" font-size="2.8" fill="#555" text-anchor="end">10⁵</text><text x="-2.3" y="21.3" font-size="2.8" fill="#555" text-anchor="end">10⁴</text><text x="-2.3" y="38.1" font-size="2.8" fill="#555" text-anchor="end">10³</text><text x="-2.3" y="47.2" font-size="2.8" fill="#555" text-anchor="end">0</text><text x="-2.3" y="56.5" font-size="2.8" fill="#555" text-anchor="end">-10³</text><text x="4.5" y="66.1" font-size="2.8" fill="#555" text-anchor="middle">-10³</text><text x="15.2" y="66.1" font-size="2.8" fill="#555" text-anchor="middle">0</text><text x="25.1" y="66.1" font-size="2.8" fill="#555" text-anchor="middle">10³</text><text x="41.5" y="66.1" font-size="2.8" fill="#555" text-anchor="middle">10⁴</text><text x="56.7" y="66.1" font-size="2.8" fill="#555" text-anchor="middle">10⁵</text></g>
<g transform="translate(253 220.6)"><rect x="0" y="0" width="61.8" height="61.2" fill="#fff" stroke="#b8b8b8" stroke-width=".8"/><rect x="15" y="14" width="34" height="30" rx="5" fill="#aab4ea" opacity="0.07" filter="url(#b15)"/><path transform="scale(.1)" d="M142 97h6m19 19h6m1-9h6m284 11h6m-327 2h6m3 30h6m-1-2h6m-4-9h6m-4 10h6m2-14h6m3 15h6m-5 0h6m3-10h6m-5 10h6m2-6h6m-6-14h6m-2 9h6m-3 14h6m-6-20h6m-6 19h6m-1 7h6m-4-16h6m-5 13h6m-5-6h6m-1 2h6m40-7h6m9 11h6m3-11h6m5 4h6m-4-16h6m13-1h6m1 21h6m-1 2h6m1-6h6m-2 10h6m-5-6h6m1-9h6m-2 2h6m-5 13h6m-2-20h6m-1 19h6m-5-5h6m-2-6h6m-6 9h6m-4 1h6m-5-9h6m-5-17h6m-4 12h6m-2 11h6m-6 1h6m-4-16h6m-5-3h6m-6 12h6m-6 6h6m-2-11h6m-5 1h6m-3-13h6m-4 4h6m-4 22h6m-3-3h6m-5-6h6m-6 8h6m-5-16h6m-5-2h6m-2 15h6m-5-9h6m-2-14h6m-4 29h6m-4-16h6m-4 7h6m-5-12h6m-3-2h6m-6 1h6m-5 19h6m-6-13h6m6-6h6m-5 10h6m-4 10h6m-6-31h6m-1 23h6m-5 10h6m-5-19h6m-5 4h6m-6 3h6m-4 10h6m-4-21h6m-3-2h6m-1-6h6m-6 29h6m-4-5h6m-6 4h6m-6 3h6m-4-27h6m-5 25h6m-6-33h6m-1 26h6m-5-6h6m3 10h6m-5-11h6m-3 13h6m-5-9h6m-5-18h6m-6 20h6m-2-9h6m-6 2h6m15 17h6m-387 7h6m-1 6h6m0 18h6m14-24h6m-3 21h6m-5 2h6m-5-7h6m-6 12h6m-5 2h6m-4-29h6m-5-3h6m-6 31h6m-5-7h6m-5-9h6m-5 20h6m-5-34h6m-5 1h6m-2 7h6m-6-6h6m-6 4h6m-3 5h6m-5-8h6m-1-7h6m-6 38h6m-6-31h6m-5 0h6m-5 18h6m-5 0h6m-6-25h6m-6 0h6m-4 7h6m-6 13h6m-5-2h6m-5 18h6m-6-8h6m-6 6h6m-3-12h6m-4-10h6m-5-13h6m-5 15h6m-5-2h6m-4 3h6m-6 6h6m-5-2h6m-5 17h6m-6-9h6m-5-24h6m-3 14h6m-6 19h6m-4-15h6m-5 0h6m-5-2h6m-4 6h6m-6-10h6m-5-3h6m-5 26h6m-6-15h6m-5-22h6m-6 15h6m-6 7h6m-4 8h6m-3-15h6m-5 17h6m-6-18h6m-5 22h6m-5-19h6m-5 6h6m-5-22h6m-5 17h6m-3 14h6m1-1h6m4-11h6m-5 2h6m-3 14h6m1 0h6m-5-23h6m0 12h6m-2-23h6m12 33h6m-5-18h6m-2-7h6m0 17h6m-5 8h6m-3-26h6m10-3h6m-5 8h6m-6 13h6m-5-24h6m-6 25h6m-6-14h6m-4-4h6m-6 10h6m-3 10h6m-4-28h6m-5 34h6m-1 1h6m-6-4h6m-6-5h6m-4 3h6m-6-21h6m-4 17h6m-5-7h6m-6-9h6m-4 26h6m-3-38h6m-5 3h6m-3 0h6m-6 24h6m-6-28h6m-5 35h6m-6-16h6m-6 17h6m-6-26h6m-5 14h6m-5 7h6m-5 6h6m-5-27h6m-5 3h6m-5 19h6m-5-19h6m-6 17h6m-5-1h6m-6-20h6m-6 27h6m-5-13h6m-6 10h6m-5-24h6m-6 2h6m-5 17h6m-5 6h6m-6-12h6m-5-11h6m-5 7h6m-5 13h6m-3-29h6m-6 32h6m-6-3h6m-4-15h6m-6 6h6m-5-2h6m-2 19h6m-6 0h6m-6-31h6m-4-5h6m-5 6h6m-6-5h6m-6 33h6m-6-4h6m-5-19h6m-5 12h6m-6-12h6m-6-3h6m-5 4h6m-6 22h6m-6 0h6m-6 0h6m-4-2h6m-6-11h6m-5 0h6m-6-10h6m-6 25h6m-5-39h6m-4 34h6m-5-32h6m-6 3h6m-5 22h6m-6 12h6m-4-7h6m-6 1h6m-5-12h6m-6-1h6m-6-9h6m-5 22h6m-6-29h6m-6 20h6m-5-24h6m-6 2h6m-5 26h6m-6-19h6m-6 16h6m-5-1h6m-6 2h6m-5-1h6m-6 6h6m-4-8h6m-5 9h6m-6 0h6m-6-5h6m-6-7h6m-5-15h6m-6 5h6m-6 23h6m-5-17h6m-6 11h6m-6-22h6m-6-2h6m-6 14h6m-5 6h6m-5-9h6m-5 2h6m-6-9h6m-6 0h6m-5 24h6m-5-4h6m-6-25h6m-4 17h6m-4-4h6m-6 17h6m-6-8h6m-5-13h6m-5-6h6m-4-1h6m-5 3h6m-6 6h6m-6 26h6m-6-5h6m-6-16h6m-6 13h6m-6-17h6m-5 3h6m-4 3h6m-6 4h6m-5 5h6m-5 5h6m-6-33h6m-4 37h6m-6-32h6m-6 32h6m-5-36h6m-6 13h6m-5 18h6m-6-14h6m-6 20h6m-5-14h6m-6 12h6m-6-36h6m-5 30h6m-6-15h6m-5 1h6m-5 13h6m-6-9h6m-6 4h6m-6 7h6m-5-19h6m-6 10h6m-6-23h6m-5 13h6m-6-3h6m-5 29h6m-5-9h6m-5 6h6m-6 3h6m-6-26h6m-6 23h6m-4-3h6m-5-21h6m-5 15h6m-5-14h6m-6-9h6m-4 6h6m-5 9h6m-3 19h6m-6-34h6m-4 8h6m-6 2h6m-6-6h6m-4 1h6m-5 3h6m-3 26h6m-4-14h6m-5-14h6m-6-9h6m-5 8h6m-3 4h6m-6-9h6m-5 19h6m-4-15h6m-6 16h6m-5-10h6m-5 13h6m-6 7h6m-5-22h6m-5 2h6m-5 25h6m-5-7h6m-4 5h6m-5-18h6m-6-11h6m-4 4h6m-5 10h6m-4-1h6m-2-8h6m11 14h6m-6 0h6m1-3h6m-391 20h6m24 15h6m-3-7h6m-6-3h6m-5 9h6m-5 10h6m2 10h6m-4-6h6m-3-29h6m-6 9h6m-6 9h6m-5-15h6m-5 10h6m-6 1h6m1-10h6m-6 31h6m-6-6h6m-3-15h6m-6-10h6m-5-4h6m-5 25h6m-6-18h6m-5 3h6m-4 17h6m-5 8h6m-5-15h6m-6 2h6m-5-17h6m-5 31h6m-5-13h6m-6-26h6m-5 27h6m-5-7h6m-5-19h6m-4 22h6m-4-3h6m-5 1h6m-4 0h6m-4-17h6m-5 11h6m-6-8h6m-4 32h6m-5-28h6m-6 28h6m-6-33h6m-6 5h6m-2-11h6m-4 6h6m-3 20h6m3-22h6m-5 26h6m-6-14h6m-1-15h6m2 26h6m-6 6h6m6 1h6m-1-34h6m-2 3h6m5 35h6m-2-30h6m10-3h6m-1 15h6m-4-10h6m-3 7h6m-5 4h6m-5 8h6m-5-10h6m8 11h6m-6-26h6m-5 17h6m-6 7h6m-6-16h6m-3 9h6m-2-6h6m-5 9h6m-4-18h6m-5 4h6m-6 4h6m-5 6h6m-5 17h6m-5-25h6m-3-9h6m-5 23h6m-5-26h6m-5 16h6m-5-16h6m-6 32h6m-4 0h6m-4-29h6m-4 19h6m-5-4h6m-5-14h6m-6 11h6m-6 4h6m-4-15h6m-6 5h6m-5-2h6m-4 15h6m-5 2h6m-6-16h6m-6 12h6m-6-12h6m-1 10h6m-4 21h6m-6-12h6m-6-5h6m-5-15h6m-6-6h6m-2 14h6m-6-13h6m-5 0h6m-5 9h6m-5 13h6m-6-24h6m-3 21h6m-6-17h6m-4 7h6m-5 20h6m-6-20h6m-5-10h6m-5-1h6m-5 20h6m-5-20h6m-5 17h6m-4 1h6m-4-2h6m-6 16h6m-2-30h6m-6 15h6m-6-5h6m-4 2h6m-6-11h6m-5 4h6m-5 13h6m-4 5h6m-3 14h6m-4-21h6m-5-18h6m-5 28h6m-4-22h6m-5 8h6m-4-6h6m-6 1h6m-5 22h6m-5-12h6m-6 4h6m-5-19h6m-6 15h6m-4-19h6m-6 21h6m-5-4h6m-3-14h6m-3 0h6m-5 6h6m-6 11h6m-5-9h6m-6 23h6m-5-34h6m-6 3h6m-4 8h6m-3-1h6m-6-4h6m-5-5h6m-5 34h6m-6-31h6m-4 0h6m-6 22h6m-5-8h6m-5-5h6m-3 17h6m-6-16h6m-2-2h6m-5-9h6m-5 8h6m-6 27h6m-6-36h6m-5 34h6m-5-33h6m-5 9h6m-4 27h6m-5-17h6m-1 0h6m-5 10h6m-6-30h6m-5 16h6m-5 12h6m-4 4h6m-6-15h6m-5 1h6m-2 9h6m-6-19h6m-5 17h6m-5-5h6m-4 15h6m-6-17h6m-1 5h6m-3 9h6m-2-13h6m-5-21h6m0 24h6m-1-15h6m-3 11h6m11 15h6m-390 44h6m19-20h6m-5-4h6m-1 17h6m-4-21h6m-5 0h6m1-4h6m0 5h6m-3 16h6m-1-23h6m-3 10h6m-3 3h6m-4 14h6m-5-6h6m-6-6h6m-4-14h6m-5-5h6m-6 20h6m-6 7h6m-4-28h6m-5 29h6m-5-10h6m0 17h6m-6-25h6m-4 2h6m-5 8h6m-4 2h6m-6-7h6m-5-16h6m-2 34h6m-5 2h6m-4-16h6m-5 7h6m0-20h6m-2 1h6m-2 0h6m-6 5h6m-2-6h6m-1 23h6m1-6h6m15 11h6m-2-34h6m13 26h6m0-19h6m4-6h6m0 12h6m10-4h6m-2 10h6m-5 11h6m-3-31h6m-3 11h6m-5 2h6m-6 17h6m-3-30h6m-3 4h6m-4 18h6m-4 8h6m-5 7h6m-5-33h6m0 22h6m-6 6h6m-5-13h6m-4-13h6m-5 30h6m-6-17h6m-5-2h6m-4 10h6m-4 0h6m-4-12h6m-2-4h6m-4 11h6m-5-13h6m-3 8h6m-4 18h6m1-21h6m-5 13h6m-4-9h6m-1 7h6m-4-24h6m-5 27h6m-6-7h6m-5-7h6m-4 5h6m-5-13h6m-1 33h6m-6-21h6m-6-1h6m3 19h6m-5-27h6m-2 27h6m-6 0h6m0-19h6m-4-12h6m-4 28h6m-4-21h6m-4-5h6m-3-3h6m-4 24h6m-6-6h6m-2-14h6m-2 4h6m-5 8h6m-5-11h6m-2 20h6m-4-22h6m-2 26h6m6-32h6m-3 14h6m20-12h6m-364 68h6m-2 7h6m-3 0h6m-6-23h6m1 10h6m-6-9h6m2-10h6m-5 3h6m-6 10h6m2 20h6m-6-16h6m-5 12h6m-5-22h6m-5-10h6m-4 11h6m-6 5h6m-1 17h6m-5-20h6m-5 12h6m-5-7h6m-6 7h6m-5-5h6m-6 13h6m-3-25h6m-3 17h6m-6 7h6m-4-33h6m-6 11h6m-5-1h6m-4-11h6m-2 31h6m-6-20h6m-6 18h6m-5-9h6m-6-17h6m-5 15h6m-1 8h6m-2-6h6m4 7h6m-1-12h6m2-4h6m0 23h6m9-26h6m6 15h6m-5-5h6m-5-16h6m-5 34h6m-4-4h6m-3 6h6m4-38h6m-2 0h6m-3 12h6m-4-12h6m-5 31h6m-5-31h6m-4 6h6m-2 18h6m-1 14h6m-5-12h6m-3 4h6m1 2h6m-2 2h6m-4-18h6m-3-16h6m-3 14h6m-5 1h6m-1-10h6m-2 16h6m-2-20h6m-4 32h6m-4-23h6m-3 22h6m-5 2h6m0-26h6m-4 26h6m-5-7h6m-5-27h6m-4 12h6m-2 10h6m-4-1h6m0-19h6m-5 27h6m-4-15h6m-4 0h6m-6-5h6m-5-1h6m-4 1h6m-5 20h6m-5 4h6m-5-21h6m-3 1h6m-4 16h6m-3 3h6m-5-10h6m-6-20h6m-5 0h6m-4 6h6m0 25h6m-5-33h6m-6 0h6m-5-1h6m-6 24h6m-5-24h6m-4 33h6m-4-17h6m-3 15h6m-2-14h6m-3 17h6m-1 4h6m-5-14h6m-5-16h6m-5 1h6m-6 6h6m-6 1h6m-6-8h6m-4 19h6m-6 8h6m-5-20h6m-5 7h6m0-15h6m-4 3h6m-6 25h6m-5 2h6m-4-12h6m-5-1h6m-5 11h6m-2-31h6m0 7h6m-6 27h6m-4-6h6m-5 1h6m-4-20h6m-6 0h6m-3 17h6m-3 6h6m-6-28h6m-5 27h6m-5-2h6m-5-4h6m-4-5h6m-5 6h6m4-24h6m-360 50h6m-5 19h6m-5-21h6m-5-8h6m2-5h6m-4 25h6m-6-9h6m-4 5h6m-5 1h6m1 14h6m-3-27h6m-6 21h6m-5-9h6m-4-20h6m-5 13h6m0-7h6m-6 3h6m-1 4h6m-6-10h6m-4 20h6m-5-24h6m-5 9h6m3-2h6m-5 6h6m-5 15h6m-6 0h6m-5-1h6m-5 9h6m-6-29h6m-5-1h6m-1-6h6m-5 21h6m-5 10h6m-6-5h6m-3 3h6m-2-22h6m-3 8h6m-3 9h6m9 3h6m-3-21h6m7 17h6m-1 2h6m2-11h6m-2 21h6m-6-18h6m-5 0h6m-1-5h6m2 2h6m-3-14h6m-5 9h6m-5 15h6m-5 5h6m4-18h6m-5 12h6m3 13h6m-4-26h6m-2 2h6m-5 1h6m-3 25h6m-4-17h6m0 3h6m-2-9h6m-1-3h6m-4-5h6m-5 13h6m2-5h6m-3 1h6m-6-1h6m1 9h6m3 3h6m3-9h6m-1-8h6m-2 25h6m-4-13h6m0 6h6m4-13h6m-6 17h6m-3-14h6m-4 6h6m-5-3h6m-4-6h6m-5 11h6m0-20h6m-5 2h6m-6 14h6m-4-22h6m-5 22h6m-2-10h6m-6 11h6m-4-2h6m-5-15h6m-4 18h6m-4 7h6m-5-31h6m-5 14h6m-5 16h6m-3-5h6m-3-3h6m-4-16h6m-2 32h6m-5-26h6m-5 5h6m-4-15h6m-3 11h6m-6 13h6m-5-3h6m-5-11h6m-6-3h6m-4 16h6m-5 11h6m-6-15h6m-3-18h6m-5 19h6m-5-21h6m-4 8h6m-5 6h6m-6 20h6m-5-19h6m-4-1h6m-5 3h6m-5 4h6m-4-22h6m-2 5h6m-6 27h6m8 5h6m-5-12h6m-5 3h6m0-8h6m-6-18h6m-3 31h6m-3-10h6m2-8h6m-367 29h6m0 30h6m-6-14h6m-3 16h6m1-20h6m-5 17h6m-2 4h6m-3-21h6m-4 2h6m-4 10h6m-3-29h6m-2 33h6m-6-2h6m-6-7h6m-6 7h6m-5-20h6m-2 12h6m-3-3h6m-5 9h6m-6-28h6m-3 30h6m-6 4h6m-3-17h6m-5 21h6m-4-38h6m-6 0h6m-5 8h6m-3-6h6m-5 21h6m-5-23h6m-4 26h6m-4-26h6m-2 0h6m-4 35h6m-3-11h6m1 4h6m1 9h6m-2-10h6m-3 7h6m-5 2h6m-5-13h6m-5-12h6m-6 15h6m-3 5h6m-2-13h6m-4 10h6m-1-29h6m-1 34h6m-2-30h6m-5-3h6m9-1h6m-5 36h6m0-16h6m-4-4h6m-4 21h6m-4 2h6m-1-19h6m5 2h6m-4-13h6m-5 12h6m-4-10h6m-5-1h6m-4 15h6m-6 12h6m2-31h6m-3 32h6m-6 0h6m-4-12h6m-5 13h6m-1-3h6m-6-10h6m-6-4h6m-2 14h6m-6 3h6m-5-31h6m-2 27h6m5-5h6m1-29h6m-3 25h6m3-4h6m4 15h6m0-1h6m-1-26h6m-5 26h6m-4-7h6m-2 2h6m-5-28h6m0 3h6m4 25h6m-6-15h6m-4 13h6m-3-12h6m-5 16h6m-6 4h6m-6-19h6m-4 8h6m0 6h6m-2 6h6m-3-18h6m-6-2h6m-5 11h6m1-4h6m-4 6h6m-4-9h6m-3-1h6m-6 10h6m-5 0h6m-6 5h6m-1-34h6m-1 35h6m1-30h6m-6 27h6m-5-16h6m-4 20h6m-5-23h6m-5-7h6m1 19h6m-352 15h6m1 13h6m-4 23h6m-2-24h6m-6 11h6m-5 7h6m-6-9h6m-6-6h6m-6 22h6m-5-29h6m-6-4h6m-5 19h6m-5-17h6m-6 18h6m-6-8h6m-6-3h6m-6 6h6m-4 12h6m-6-14h6m-5 7h6m-5 0h6m-6 1h6m-6-9h6m-6 7h6m-6 7h6m-5-3h6m-4-19h6m-2 12h6m-6-22h6m-4 32h6m-6 4h6m-5-4h6m-5-8h6m-6-1h6m-5-18h6m-6 13h6m-4 15h6m-6-24h6m-2 2h6m-6 26h6m-6-14h6m-6-4h6m-6-15h6m-6 25h6m-5-20h6m-6 21h6m-5-12h6m-5 9h6m-6-1h6m-6 12h6m-6-35h6m-5 17h6m-6 2h6m-5-3h6m-6-6h6m-6 4h6m-6-11h6m-6-4h6m-5 10h6m-6 24h6m-5-26h6m-6 23h6m-6-20h6m-6-13h6m-5 8h6m-5-1h6m-6 15h6m-6-2h6m-5-15h6m-5 16h6m-5-2h6m-6-16h6m-4 22h6m-6-23h6m-5 20h6m-6-18h6m-5 16h6m-6 13h6m-6-19h6m-5 25h6m-5-18h6m-6 9h6m-6-18h6m-6-6h6m-5 14h6m-6 8h6m-6-1h6m-6-7h6m-6 17h6m-5-13h6m-6 0h6m-5 13h6m-6-9h6m-6-2h6m-6-1h6m-4 5h6m-6-6h6m-5 9h6m-5-19h6m-6 9h6m-6-9h6m-5 2h6m-6-3h6m-5 6h6m-6 9h6m-5-22h6m-5-4h6m-6 31h6m-6-24h6m-4 10h6m-4-2h6m-6 9h6m-6-6h6m-6 11h6m-5-4h6m-6 6h6m-6-12h6m-5-5h6m-5 3h6m-6 5h6m-5-13h6m-5 21h6m-6 4h6m-6-36h6m-6 25h6m-5-2h6m-6 4h6m-6-12h6m-5-14h6m-6 21h6m-5 5h6m-5 9h6m-6-16h6m-6-6h6m-6-5h6m-5 21h6m-6-2h6m-5-3h6m-5 3h6m-6-8h6m-5 8h6m-5 11h6m-5-18h6m-4-3h6m-5 18h6m-5-24h6m-6 20h6m-6-7h6m-4-9h6m-5 5h6m-6-6h6m-6-11h6m-4 19h6m-5 5h6m-5-12h6m-5-5h6m-5-3h6m-6 6h6m-5 0h6m-6 17h6m-5 1h6m-6 6h6m-5-31h6m-6 29h6m-5-21h6m-4-7h6m-6 26h6m-6-12h6m-5 3h6m-6-1h6m-6 13h6m-5-20h6m-6-12h6m-6 27h6m-5-14h6m-6-9h6m-6 19h6m-4 4h6m-6 5h6m-5-19h6m-6 21h6m-5-16h6m-6 5h6m-6 8h6m-6 3h6m-5-18h6m-5-3h6m-5 8h6m-6-6h6m-5 13h6m-5-18h6m-4 13h6m-6-14h6m-6 22h6m-6-14h6m-6-8h6m-4 14h6m-6-9h6m-5-19h6m-6 17h6m-5 7h6m-6 7h6m-6 3h6m-5-13h6m-6-7h6m-6 20h6m-5 1h6m-5-5h6m-5 8h6m-6-17h6m-6 16h6m-5-12h6m-5-16h6m-5 1h6m-4 9h6m-6-12h6m-5 16h6m-5-16h6m-6 6h6m-5 0h6m-5 22h6m-6-12h6m-5-5h6m-6-4h6m-6-7h6m-6 10h6m-6-16h6m-5 8h6m-6-8h6m-4 26h6m-6 5h6m-5-2h6m-5-12h6m-6 10h6m-6-21h6m-5 8h6m-6 7h6m-6 0h6m-6 0h6m-6-21h6m-5 13h6m-5 11h6m-5 9h6m-6 0h6m-5-23h6m-6 19h6m-5-11h6m-6-2h6m-4-16h6m-6 24h6m-5-3h6m-5-5h6m-6 9h6m-5-20h6m-6 5h6m-5 16h6m-6-19h6m-6 16h6m-6 1h6m-3-2h6m-5-23h6m-5 6h6m-6 16h6m-5 2h6m-6 1h6m-5 8h6m-5-16h6m-6-2h6m-5 8h6m-5-9h6m-5 19h6m-4-3h6m-6-6h6m-2-23h6m-6 10h6m-5 25h6m-6-29h6m-5 20h6m-6-23h6m-4 30h6m-5-20h6m-3 19h6m-6-21h6m-6 13h6m-4-15h6m-6 12h6m-4 6h6m-6 7h6m-5-8h6m-6 0h6m-6-5h6m-5 16h6m-6-23h6m-5-5h6m-5 25h6m-5-23h6m-6 6h6m-4-14h6m-6 21h6m-5 3h6m-6-12h6m-5 12h6m-6 5h6m-5-11h6m-6-12h6m-5 18h6m-5-8h6m-6-17h6m-5 4h6m-5 8h6m-5-4h6m-6 25h6m-4-23h6m-6-7h6m-5-6h6m-5 30h6m-6-3h6m-5-27h6m-5 23h6m-6 3h6m-4 3h6m-6 10h6m-6-12h6m-6-11h6m-5-1h6m-5 20h6m-5-35h6m-5 19h6m-6-11h6m-6-5h6m-4 5h6m-5 19h6m-6-1h6m0-6h6m-6 9h6m-5 0h6m-5-15h6m-5 5h6m-6 10h6m-5 9h6m-6-24h6m-6 12h6m-6-4h6m-2-2h6m-6-12h6m-6 17h6m-4 1h6m-6-13h6m-4 16h6m-6-22h6m-4 30h6m-5-15h6m-5-7h6m-5-4h6m-6-3h6m-6 23h6m-6-5h6m-6-13h6m-5 22h6m-6-22h6m-6-5h6m-5 24h6m-6 0h6m-6-29h6m-5 27h6m-4 9h6m-6-22h6m-6 7h6m-6-3h6m-5 17h6m-6-13h6m-5-9h6m-6 13h6m-5-17h6m-6-1h6m-6 9h6m-6-18h6m-5 29h6m-5-14h6m-5 8h6m-4-4h6m-6 2h6m-6-9h6m-5 1h6m-5 6h6m-6 6h6m-4-8h6m-6 9h6m-6-4h6m-5-12h6m-6 13h6m-6 11h6m-5-5h6m-5-12h6m-5 1h6m-4 10h6m-6-3h6m-6-9h6m-6 10h6m-6 0h6m-4 1h6m-5-28h6m-5 32h6m-6-12h6m-6 11h6m-6-20h6m-5 16h6m-5-6h6m-5 2h6m-6-11h6m-5 12h6m-5-9h6m-6 15h6m-6 0h6m-5-3h6m-6-2h6m-6 7h6m-6-23h6m-5 27h6m-4-4h6m-3-7h6m-6 1h6m-6 11h6m-6-26h6m-5 20h6m-6-15h6m-6-11h6m-5 32h6m-6-33h6m-5 13h6m-3 5h6m-6 1h6m-5 15h6m-5-25h6m-6-14h6m-5 34h6m-6-11h6m-5 5h6m-6-7h6m-5-6h6m-6 21h6m-6-25h6m-3 13h6m-5 12h6m-6-21h6m-2 15h6m-5-4h6m-6-6h6m-5-4h6m-5-6h6m-6 12h6m-6 2h6m-3 13h6m-4-10h6m-6 8h6m-5-25h6m-6 15h6m-5-14h6m-4 17h6m-6-16h6m-5 5h6m-6 8h6m-4-8h6m-5-1h6m-5 13h6m-5 2h6m-6-23h6m-5 6h6m-5-1h6m-5-2h6m-6 3h6m-5 7h6m-3 0h6m-6 14h6m-6-9h6m-3-8h6m-6 3h6m-6 15h6m-6 1h6m-5-6h6m-5 4h6m-6-7h6m-6 11h6m-5-23h6m-6-1h6m-4-1h6m-6 18h6m-2 2h6m-2-32h6m0 25h6m29-2h6m-360 20h6m-4-2h6m-4 8h6m-5 15h6m-3 8h6m3-29h6m-6 31h6m-3-14h6m-3-12h6m-5-4h6m-6 14h6m-2-19h6m-4-1h6m-6 10h6m-5-7h6m-3 6h6m-3-9h6m-6 7h6m-5 7h6m0 7h6m-5-16h6m-4 9h6m-3 1h6m-5-15h6m-5 8h6m-4-8h6m-4 0h6m-6 10h6m-4-7h6m-4-3h6m-6 30h6m3-23h6m-5-1h6m5 30h6m-4-34h6m-3 4h6m-4 3h6m-3 1h6m2 0h6m-3-7h6m0-2h6m-6 34h6m-3-31h6m7 12h6m-4-9h6m-5 2h6m-6-9h6m-3 9h6m-2 27h6m-4-26h6m-6 25h6m-1-33h6m-6 6h6m-2-3h6m-2-1h6m0 5h6m-5-9h6m5 20h6m0-17h6m-1 4h6m-2-2h6m-4 31h6m-1-34h6m-1 37h6m-5-39h6m0 39h6m-6-1h6m-4-20h6m5-17h6m-1 35h6m0-36h6m-6 8h6m-3-7h6m1 35h6m3-26h6m6-9h6m-2 1h6m-6 32h6m0-30h6m-6 1h6m-1 4h6m-3-6h6m-4 34h6m6-29h6m-5-2h6m-1 32h6m-2-38h6m-1 31h6m-346 17h6m12-3h6m13 5h6m4-10h6m2 18h6m6 0h6m7 7h6m5-20h6m23 13h6m1 2h6m-2-20h6m-5 6h6m-5-2h6m-5 17h6m2 8h6m-5-25h6m-4 3h6m-3 4h6m-5-6h6m-3 13h6m-5-5h6m1 12h6m4 2h6m-2-14h6m-1 5h6m-5 7h6m2 7h6m-4-9h6m4 14h6m-2-21h6m0 14h6m-2 6h6m9-30h6m-1 18h6m-6 5h6m2-29h6m-2 17h6m-3-13h6m-4-4h6m3 6h6m-3-4h6m-4 19h6m-2-10h6m14 5h6m2 19h6m-5-20h6m-6 23h6m-2-3h6m5-23h6m-3 1h6m-2 24h6m-4-31h6m-1 31h6m-5-9h6m-4-28h6m-6 5h6m-3 5h6m-5-2h6m2 12h6m-6-5h6m-5 4h6m6-14h6m-310 47h6m7 10h6m78 4h6m53-10h6m10-5h6m27 25h6m-5-11h6m-1 9h6m27 5h6m35-37h6m-290 65h6m12 10h6m51-33h6m198 5h6m-47 37h6" stroke="#2f44c4" stroke-width="6" stroke-opacity=".36"/><ellipse cx="39" cy="18.5" rx="4.5" ry="1.8" fill="#4a90d0" opacity="0.5" filter="url(#b1)" transform="rotate(-20 39 18.5)"/><ellipse cx="23" cy="46.4" rx="9.3" ry="2.2" fill="#5574d4" opacity="0.55" filter="url(#b06)" transform="rotate(-3 23 46.4)"/><ellipse cx="21.2" cy="46.4" rx="7" ry="1.8" fill="#3eb0c4" opacity="0.85" filter="url(#b06)" transform="rotate(-3 21.2 46.4)"/><ellipse cx="19.8" cy="46.4" rx="5.3" ry="1.6" fill="#5cc24e" opacity="1" filter="url(#b06)" transform="rotate(-3 19.8 46.4)"/><ellipse cx="17.4" cy="46.4" rx="2.1" ry="1.1" fill="#d6d23c" opacity="1" filter="url(#b06)" transform="rotate(-3 17.4 46.4)"/><ellipse cx="16.9" cy="46.4" rx="1" ry=".8" fill="#e8642a" opacity="1" filter="url(#b06)" transform="rotate(-3 16.9 46.4)"/><ellipse cx="17" cy="46.4" rx=".6" ry=".5" fill="#de2a1e" opacity="1" filter="url(#b06)" transform="rotate(-3 17 46.4)"/><line x1="23.5" y1="0" x2="23.5" y2="61.2" stroke="#5a5a5a" stroke-width="1"/><line x1="0" y1="42.9" x2="61.8" y2="42.9" stroke="#4a4a4a" stroke-width="1"/><text x="1.6" y="3.6" font-size="2.9" fill="#444">Q1</text><text x="1.6" y="6.6" font-size="2.9" fill="#444">7.97</text><text x="60.2" y="3.6" text-anchor="end" font-size="2.9" fill="#444">Q2</text><text x="60.2" y="6.6" text-anchor="end" font-size="2.9" fill="#444">25.6</text><text x="1.6" y="56.8" font-size="2.9" fill="#444">Q4</text><text x="1.6" y="59.8" font-size="2.9" fill="#444">60.4</text><text x="60.2" y="56.8" text-anchor="end" font-size="2.9" fill="#444">Q3</text><text x="60.2" y="59.8" text-anchor="end" font-size="2.9" fill="#444">7.05</text><path d="M-1.6 6.1h1.6M-1.6 20.3h1.6M-1.6 37.1h1.6M-1.6 46.2h1.6M-1.6 55.5h1.6M-.9 6.1h.9M-.9 9.5h.9M-.9 13h.9M-.9 16.4h.9M-.9 19.9h.9M-.9 23.3h.9M-.9 26.8h.9M-.9 30.2h.9M-.9 33.7h.9M-.9 37.1h.9M4.5 61.2v1.6M15.2 61.2v1.6M25.1 61.2v1.6M41.5 61.2v1.6M56.7 61.2v1.6M25.1 61.2v.9M28.6 61.2v.9M32.1 61.2v.9M35.6 61.2v.9M39.1 61.2v.9M42.7 61.2v.9M46.2 61.2v.9M49.7 61.2v.9M53.2 61.2v.9M56.7 61.2v.9" stroke="#333" stroke-width=".55"/><rect x="-1.1" y="45.7" width="1.2" height="2.8" fill="#111"/><rect x="12.4" y="61.2" width="3" height="1.1" fill="#111"/><text x="-2.3" y="7.1" font-size="2.8" fill="#555" text-anchor="end">10⁵</text><text x="-2.3" y="21.3" font-size="2.8" fill="#555" text-anchor="end">10⁴</text><text x="-2.3" y="38.1" font-size="2.8" fill="#555" text-anchor="end">10³</text><text x="-2.3" y="47.2" font-size="2.8" fill="#555" text-anchor="end">0</text><text x="-2.3" y="56.5" font-size="2.8" fill="#555" text-anchor="end">-10³</text><text x="4.5" y="66.1" font-size="2.8" fill="#555" text-anchor="middle">-10³</text><text x="15.2" y="66.1" font-size="2.8" fill="#555" text-anchor="middle">0</text><text x="25.1" y="66.1" font-size="2.8" fill="#555" text-anchor="middle">10³</text><text x="41.5" y="66.1" font-size="2.8" fill="#555" text-anchor="middle">10⁴</text><text x="56.7" y="66.1" font-size="2.8" fill="#555" text-anchor="middle">10⁵</text></g>
<g transform="translate(43.5 294.5)"><rect x="0" y="0" width="61.8" height="61.2" fill="#fff" stroke="#b8b8b8" stroke-width=".8"/><rect x="15" y="14" width="34" height="30" rx="5" fill="#aab4ea" opacity="0.07" filter="url(#b15)"/><path transform="scale(.1)" d="M134 83h6m71 12h6m193 10h6m24 12h6m46 0h6m-356 4h6m22 22h6m5 9h6m-3-1h6m6 6h6m23-7h6m3-21h6m3 18h6m10 8h6m21-12h6m-2-13h6m-4 7h6m16-14h6m23 20h6m2 3h6m6-2h6m17 0h6m8 5h6m-6-7h6m-2 8h6m7 8h6m-1-16h6m-2-2h6m-3 19h6m-4-2h6m-5-23h6m-4 15h6m-5-13h6m-6 20h6m-5 1h6m-2 0h6m-5-35h6m-5 25h6m-6-3h6m-5-6h6m-5 14h6m-5 0h6m-4-4h6m-2 11h6m-4-38h6m-6 6h6m-4 22h6m-5 9h6m-6-23h6m-6 19h6m-4 0h6m-6-9h6m-5-1h6m-5 15h6m-6-11h6m-3-5h6m-5 2h6m-6 12h6m-4-3h6m-5-7h6m-2-4h6m-4 13h6m-4-9h6m-3-5h6m-6 9h6m-1 6h6m-5-5h6m-3-27h6m-6 29h6m-4-15h6m-2 0h6m-2 9h6m-365 33h6m8 18h6m3-33h6m-6 27h6m-5-2h6m2-22h6m-5 21h6m-5-22h6m0 22h6m-6-7h6m-5-12h6m-5 21h6m-4 1h6m-2-12h6m7 6h6m-5 0h6m-5-7h6m-3-19h6m-2 17h6m-6 19h6m-4-16h6m-3 17h6m-6-9h6m0-18h6m-5 21h6m-5 0h6m-4-32h6m-6 29h6m-6 9h6m-4-1h6m-6-9h6m-4-24h6m0 20h6m-1-1h6m1 14h6m17-37h6m-5 23h6m9 12h6m0-30h6m9 25h6m-1-8h6m-4 11h6m-6-27h6m-6 1h6m4 31h6m5-29h6m-3 13h6m2 5h6m-4 0h6m-5 2h6m-4 3h6m19 6h6m-2-37h6m-5 32h6m-5-19h6m-2 3h6m-5 19h6m0-12h6m-5-17h6m-6 24h6m-3-1h6m-4 4h6m-5-4h6m-4 7h6m-5 2h6m-4-4h6m-6-13h6m-6 7h6m-6 0h6m-4 10h6m-5-2h6m-6-19h6m-6 11h6m-5-7h6m-6 10h6m-5-5h6m-6 12h6m-6-8h6m-5-17h6m-5 10h6m-6 9h6m-5 3h6m-4-21h6m-5 7h6m-6 8h6m-6 3h6m-4-2h6m-6-8h6m-6-10h6m-6 22h6m-6-2h6m-5 4h6m-6-33h6m-6 20h6m-6 0h6m-6-1h6m-6-3h6m-6 18h6m-5 1h6m-5-2h6m-6-37h6m-6 13h6m-6 26h6m-4-25h6m-6-9h6m-5 18h6m-6-23h6m-5 35h6m-6-29h6m-5 30h6m-5-2h6m-6-20h6m-6 5h6m-5 5h6m-6 13h6m-6-20h6m-6 8h6m-5-6h6m-6 15h6m-5-15h6m-6-17h6m-6 9h6m-6 18h6m-4-17h6m-6 2h6m-6-3h6m-5-2h6m-5-4h6m-6 26h6m-6-26h6m-5-2h6m-6 8h6m-6 5h6m-6 20h6m-5-3h6m-6-28h6m-6 18h6m-5-19h6m-6 0h6m-6-3h6m-6 8h6m-6 12h6m-5-13h6m-6 25h6m-5-7h6m-5-4h6m-6-11h6m-6 15h6m-6-11h6m-5 14h6m-5-18h6m-6 11h6m-6-8h6m-5 25h6m-6-39h6m-6 3h6m-6 21h6m-5 2h6m-6 5h6m-5 4h6m-6-15h6m-6-13h6m-6 10h6m-6 18h6m-5-26h6m-6 18h6m-6 10h6m-6-30h6m-5 10h6m-6 10h6m-6-21h6m-5 9h6m-6 9h6m-5-20h6m-6 6h6m-5 24h6m-6-16h6m-5-6h6m-5 20h6m-6-3h6m-6 1h6m-6-19h6m-4 15h6m-6-8h6m-5 5h6m-6-8h6m-5 19h6m-6-27h6m-6 8h6m-6-11h6m-5 1h6m-6 7h6m-6-7h6m-5 10h6m-6-15h6m-6 1h6m-4 3h6m-6 31h6m-3-4h6m-6-23h6m-6 11h6m-2-3h6m-6-2h6m-6 8h6m-5-5h6m-6-15h6m-6 21h6m-5-4h6m-4-8h6m-5-2h6m-6 18h6m-5-5h6m-6-12h6m-5 4h6m-5 14h6m-4-22h6m-2 32h6m-3 1h6m-6-15h6m-1-6h6m-4 3h6m1 15h6m0-4h6m0 4h6m-381 36h6m3-32h6m2 14h6m1 2h6m-3-7h6m-4 1h6m-1-3h6m-1 15h6m-6-4h6m-4 3h6m-5 6h6m-3-8h6m-5 1h6m-6-20h6m-4 11h6m-6 10h6m-6-18h6m-3 11h6m-6 14h6m-5-7h6m-6-15h6m-5 14h6m-6-7h6m-5 18h6m-6-7h6m-4-2h6m-4 13h6m-5-2h6m-6-24h6m-5 25h6m-6-30h6m-5 10h6m-6 25h6m-6-36h6m-4 21h6m-6 6h6m-4-6h6m-6-6h6m-6 6h6m-4-9h6m-6-4h6m-5 19h6m-5-6h6m-6 15h6m-5-18h6m-6-7h6m-5 2h6m-6-15h6m-5 11h6m-4-4h6m-6 6h6m-6-5h6m-6 10h6m-5 3h6m-6 7h6m-5-16h6m-6 10h6m-2 2h6m-6 7h6m-6-27h6m-5-1h6m-5 4h6m-5 25h6m-5-24h6m-6 10h6m-5 7h6m-3-22h6m-5 22h6m-6 3h6m-4-15h6m-6-1h6m-6 21h6m-6-18h6m-6-10h6m-4 9h6m-6 8h6m-5 13h6m-5-25h6m-4-2h6m-5-7h6m-6 23h6m-6 3h6m-5 4h6m-4-20h6m-1-4h6m3 18h6m-3-8h6m-3-15h6m-4 24h6m4 6h6m3 3h6m0-8h6m0 4h6m1-31h6m4 0h6m-4 6h6m-5 22h6m-1-10h6m-4-19h6m17 9h6m-2 16h6m10 9h6m-6-12h6m-3 17h6m-6-4h6m-3-31h6m-5 31h6m-6-11h6m-5-5h6m-3-8h6m-2 9h6m-5 14h6m-4 1h6m-2-31h6m-4 30h6m-5-29h6m-5 2h6m-6 17h6m-3 11h6m-6-25h6m-6 5h6m-4-7h6m-4 7h6m-5 15h6m-5 5h6m-6-17h6m-6 4h6m-6-10h6m-6 10h6m-5-7h6m-5-11h6m-6-2h6m-5 28h6m-5-19h6m-6 11h6m-5-19h6m-6 6h6m-5-9h6m-6 13h6m-5-10h6m-5 30h6m-5-30h6m-6 31h6m-3-11h6m-6 0h6m-4 16h6m-6-13h6m-6-24h6m-6 20h6m-6 6h6m-5-12h6m-6-14h6m-5 22h6m-6-16h6m-6 31h6m-5-18h6m-6 10h6m-5-3h6m-6-5h6m-5 15h6m-5-37h6m-6 7h6m-6 6h6m-6 5h6m-5-6h6m-5 4h6m-6 5h6m-6-18h6m-5 19h6m-5 0h6m-5-17h6m-5 23h6m-6-25h6m-6 8h6m-5 1h6m-6-9h6m-6 20h6m-6-3h6m-6-15h6m-6-2h6m-5 2h6m-6-3h6m-5 34h6m-6-22h6m-5-5h6m-4 23h6m-5-19h6m-5 15h6m-3 3h6m-6-24h6m-6 19h6m-5-22h6m-6 5h6m-5-6h6m-6 13h6m-6 4h6m-6-10h6m-4 5h6m-5-10h6m-5-4h6m-5 8h6m-6-9h6m-5 27h6m-5-8h6m-4-9h6m-6-7h6m-5-3h6m-5 4h6m-6 20h6m-6-16h6m-6-7h6m-6 7h6m-3-4h6m-6 2h6m-5 6h6m-3-8h6m-3 15h6m-6 16h6m-6-19h6m-2-9h6m-5 9h6m-5 6h6m-2-19h6m-5 5h6m-6 23h6m-1-24h6m-5 28h6m-5-23h6m-1 26h6m3-28h6m20-1h6m-366 46h6m-4-13h6m-1 12h6m-4-8h6m-1-5h6m-4 17h6m-2-4h6m-5 1h6m1 19h6m-5 4h6m-4-39h6m-4 35h6m-2 1h6m-4 0h6m-4-12h6m-5-10h6m-5-5h6m-6 2h6m-4 17h6m-3 9h6m-4-13h6m-6-16h6m-4 14h6m-6 0h6m-6-13h6m-4-2h6m-2 11h6m2 21h6m-6-9h6m-4-5h6m-4-2h6m-5-21h6m0-1h6m-4 6h6m-6 20h6m-3-22h6m-5 22h6m-5-24h6m-3 20h6m11-13h6m-5-9h6m-3 38h6m-3-26h6m4 17h6m11-7h6m-5 12h6m6-17h6m-2 20h6m-1-6h6m6-2h6m-4-10h6m8-2h6m-3 7h6m-3-22h6m-5 29h6m-2 5h6m-5-36h6m-6 37h6m-5-3h6m-6-30h6m-6 24h6m-1-24h6m-3 29h6m-2-18h6m-3 8h6m-5-15h6m-5 17h6m-6-3h6m-6 1h6m-6-9h6m-4 2h6m-5 13h6m-5-16h6m-6 15h6m-6-3h6m-4-1h6m-5-15h6m-5 19h6m-3-2h6m-5-2h6m-6 7h6m-6-14h6m-5 9h6m-6-8h6m-5 8h6m-6-27h6m-5 11h6m-2-2h6m-4 19h6m-5-15h6m-4 4h6m-5 15h6m-5-25h6m-6 1h6m-4 9h6m-5-16h6m-6 3h6m-4 29h6m-4-23h6m-4 8h6m-6-16h6m-6-1h6m-6 0h6m-5 6h6m-5 1h6m-4 0h6m-6 26h6m-4-2h6m-4-30h6m-3 27h6m-5 2h6m-6-25h6m-5-6h6m-5 9h6m-4 10h6m-3-15h6m-4-2h6m-4 31h6m-5-30h6m-5 5h6m-4 6h6m-5 17h6m0-8h6m-3 4h6m-1 5h6m-5 4h6m-4-1h6m0 2h6m-5-26h6m-5 17h6m-5 11h6m-5-5h6m-4 5h6m-4-25h6m1-3h6m0 23h6m-6-23h6m-3 20h6m-6-27h6m-3 26h6m-337 39h6m-1-12h6m-5-12h6m-4 15h6m0 4h6m-4 12h6m-6-31h6m-5-3h6m-4 15h6m-6 17h6m-2-3h6m-4-27h6m-2 32h6m-2-36h6m-5 9h6m-5 5h6m-5 21h6m-5-21h6m-5-10h6m-5 22h6m-5 13h6m-1-10h6m-4-17h6m-4 27h6m-6 0h6m-3-5h6m-6-5h6m-2 0h6m-1 5h6m-4-1h6m-6-32h6m-4 2h6m-5 11h6m0-8h6m-3-1h6m-4 21h6m-1-16h6m2 16h6m-4-19h6m-5-5h6m8 31h6m3-18h6m-4-9h6m5 25h6m-2-12h6m5-2h6m-5 5h6m-5 9h6m-6-13h6m1 8h6m0-17h6m-5 4h6m-6 15h6m-4-26h6m14 14h6m-6-12h6m0-4h6m-3 37h6m-6-1h6m3-19h6m0 17h6m-5-8h6m-2-12h6m-6 12h6m-6 8h6m-5 0h6m-5-12h6m-6-2h6m-5-11h6m-6 19h6m0-20h6m-1-4h6m-4 26h6m-3 3h6m-3 0h6m-4-30h6m-4 25h6m2-24h6m-4 24h6m-3-22h6m0 10h6m-5-13h6m-3 36h6m-2-12h6m-4-1h6m-3-12h6m-5-11h6m-3 15h6m-5-12h6m-6 3h6m-5 22h6m-3-13h6m-5 19h6m-3-1h6m-1-24h6m-4 17h6m-6-23h6m-4-6h6m-2 27h6m-4 1h6m-6 10h6m-5-15h6m-5 3h6m-6-7h6m-3-6h6m-5-12h6m-6 34h6m-5-17h6m-4 5h6m-5 2h6m-5-16h6m-1 30h6m-3-5h6m-1 5h6m-6-27h6m-3-10h6m-2-1h6m-4 22h6m-2 12h6m-2-18h6m23-4h6m-389 32h6m1 18h6m-5 13h6m-1-12h6m-6 7h6m-2-14h6m-4-10h6m-5 10h6m-6 15h6m-2-32h6m-4 6h6m0 8h6m-5 11h6m-6-6h6m-5-13h6m-2 1h6m-5 21h6m-6-25h6m-5 6h6m-4 14h6m-6 14h6m-4-36h6m-6-1h6m-4 31h6m-6-9h6m-5-18h6m-3 14h6m-4-18h6m-6 15h6m-6 6h6m-4 4h6m-6 8h6m-4 3h6m-6-9h6m-6-9h6m-5-6h6m-6 14h6m-6 13h6m-5-12h6m-5-25h6m-5 27h6m-6-11h6m-3 13h6m-6-4h6m-5-22h6m-4 2h6m-3 17h6m-5 14h6m-6-38h6m-1 23h6m-5-1h6m1-11h6m-3 18h6m-3-1h6m3 4h6m-2-1h6m-4-3h6m-6 2h6m-5 5h6m-5-3h6m-5-14h6m-3 8h6m-3-22h6m1 5h6m-6 30h6m-5-21h6m0 12h6m1-25h6m-3 34h6m-4-26h6m-5 24h6m-6-35h6m-6 22h6m0-21h6m-3 17h6m-4 0h6m-5-16h6m-6 2h6m-6 32h6m-5-6h6m-4-28h6m3 16h6m-6 16h6m-3-6h6m4-1h6m-6-29h6m-5 16h6m-5 19h6m-4-2h6m-4-19h6m6 2h6m-5 4h6m-4-15h6m-6-1h6m-4-3h6m-3 32h6m-1 2h6m-6-33h6m2 11h6m1-7h6m-2 11h6m-4 4h6m4-1h6m-4-16h6m0 25h6m-3-25h6m2 31h6m-6-10h6m1 2h6m0 3h6m-6-6h6m-4 12h6m-6-28h6m-2 6h6m-2 9h6m-6 12h6m-4-35h6m-4 2h6m2 1h6m0 8h6m-6 9h6m-2 3h6m5 11h6m-6-23h6m-4-10h6m-6 25h6m-6-22h6m-6 11h6m-3 0h6m-3 2h6m-2-1h6m-3 1h6m-6-11h6m-1 26h6m-6-27h6m-5-4h6m-1 34h6m-6-24h6m-3 23h6m-6-33h6m-6 10h6m-4-4h6m-3 16h6m-5-2h6m-4 8h6m1-25h6m0 34h6m-379 39h6m11-33h6m-2 16h6m-6-10h6m-6 12h6m1-14h6m-6-1h6m-5 11h6m-5 13h6m-3-7h6m0-12h6m-5 23h6m-3 4h6m-5-4h6m-4-34h6m-3 9h6m-5 26h6m-6-22h6m-6 10h6m-4 7h6m3 1h6m-6-11h6m-5 5h6m-6-9h6m-5 15h6m-5-2h6m-3 5h6m-5 3h6m-5-6h6m-5-18h6m-2-6h6m-6 5h6m-3-8h6m-5-5h6m-4 12h6m-6 15h6m-3-4h6m2 0h6m-5 12h6m-5-31h6m-5 32h6m-4-12h6m-5 5h6m0-15h6m-3 11h6m-6-4h6m-5-4h6m-2 7h6m2 12h6m-4 1h6m-4-13h6m-2-6h6m-3 17h6m-1-12h6m-6 15h6m-4-5h6m-5-6h6m-2 6h6m-6-31h6m-5 17h6m0 16h6m-3-5h6m-5-2h6m3 7h6m-5-2h6m-4-31h6m-3 3h6m-4 0h6m-5 18h6m-3 6h6m0 6h6m-5-4h6m-5 0h6m5-26h6m-1 24h6m-4 5h6m-6-18h6m-3-11h6m-5-4h6m-5 30h6m5-30h6m-4 0h6m2 37h6m-3-22h6m-5-11h6m-5-3h6m0 19h6m2-19h6m-5-2h6m4 31h6m-5-28h6m-5 5h6m-3 21h6m-4 10h6m0-17h6m-3 0h6m-2-2h6m-1-16h6m-3 25h6m-4-17h6m-5-2h6m-4-1h6m-6-6h6m-4 23h6m-5-8h6m-4-2h6m-5 16h6m-6 2h6m-6-28h6m-5 31h6m-5-28h6m-3-7h6m-6 36h6m-5-25h6m-6 12h6m-3 8h6m-3 4h6m-3-19h6m-5-6h6m-4 0h6m-4 20h6m0-19h6m-4-11h6m-4 33h6m-5-4h6m-6-18h6m-4 18h6m-4-9h6m-2-10h6m-3-12h6m-5 10h6m-2 11h6m-6 10h6m-3 3h6m-5-6h6m-4-28h6m-4 11h6m-3 9h6m-3-6h6m-1-5h6m22 9h6m-389 46h6m-4-21h6m11 9h6m-5 14h6m-6 2h6m-5-19h6m-6 8h6m-5 17h6m-6-21h6m-5 18h6m-6-4h6m-5-20h6m-6 16h6m-6 0h6m-6 12h6m-5 2h6m-6-37h6m-5 12h6m-6 2h6m-5-8h6m-6 24h6m-6 1h6m-5-12h6m-6-7h6m-6 10h6m-6 9h6m-4-8h6m-6-12h6m-6-5h6m-4 31h6m-6-4h6m-4-3h6m-6-18h6m-5 14h6m-5-3h6m-5-4h6m-6 17h6m-6-11h6m-6-3h6m-6-1h6m-6 10h6m-4-12h6m-5 18h6m-5-33h6m-5 12h6m-5 8h6m-6-5h6m-6 0h6m-5 11h6m-6-1h6m-6-12h6m-4 11h6m-6 2h6m-6 0h6m-6 2h6m-5-7h6m-6-16h6m-6 19h6m-5-12h6m-6-6h6m-6 10h6m-3 4h6m-6-13h6m-6 14h6m-6-6h6m-5 0h6m-6 10h6m-6 4h6m-5-25h6m-6 1h6m-6 18h6m-5-24h6m-6 10h6m-6 7h6m-5-8h6m-5 6h6m-6 13h6m-6-23h6m-6 24h6m-4 5h6m-6-5h6m-6-17h6m-5-10h6m-5 28h6m-6-25h6m-5 26h6m-5 2h6m-6-13h6m-6 3h6m-5-9h6m-6 2h6m-5 14h6m-5-11h6m-6-15h6m-5-5h6m-6 23h6m-5-17h6m-6 5h6m-4-10h6m-6 2h6m-6 7h6m-4 23h6m-6-9h6m-6-9h6m-6 2h6m-5-1h6m-6 6h6m-5 1h6m-5-9h6m-5-13h6m-6 1h6m-6 32h6m-4-29h6m-5 9h6m-6 16h6m-5-16h6m-6 13h6m-6-6h6m-5-18h6m-5 16h6m-5 9h6m-6-7h6m-6-1h6m-5 5h6m-6 0h6m-5-6h6m-5 8h6m-6-16h6m-5 3h6m-6-2h6m-5 16h6m-5-7h6m-5-11h6m-6 1h6m-6 10h6m-6 7h6m-5-29h6m-6 28h6m-5 3h6m-3-11h6m-5-19h6m-5 17h6m-6 1h6m-5 19h6m-6-28h6m-6-3h6m-5 30h6m-6-22h6m-6 16h6m-4-1h6m-6-4h6m-6-20h6m-5-1h6m-6 21h6m-6-5h6m-6-4h6m-3 16h6m-5-3h6m-6-9h6m-6-2h6m-5-7h6m-5-6h6m-6 19h6m-5-7h6m-6 4h6m-4-11h6m-6 23h6m-6-16h6m-6 9h6m-5 2h6m-4 0h6m-6-5h6m-5-9h6m-5-14h6m-6 18h6m-6-18h6m-5 7h6m-5 18h6m-5 9h6m-5-6h6m-6-20h6m-6 16h6m-5-11h6m-5-12h6m-5 24h6m-6-2h6m-6-11h6m-6 16h6m-4-8h6m-5 16h6m-5-2h6m-6-14h6m-5-13h6m-6 25h6m-4-18h6m-5 22h6m-5-29h6m-6-1h6m-5 2h6m-5 19h6m-6 0h6m-5-23h6m-6 4h6m-6 7h6m-5 0h6m-4 3h6m-5 13h6m-6-10h6m-6 2h6m-5 13h6m-6-13h6m-5-14h6m-3 9h6m-5 14h6m-5-2h6m-5-3h6m-6 0h6m-5 7h6m-6-15h6m-6-1h6m-5 8h6m-6-13h6m-6 12h6m-5-2h6m-6-2h6m-5 4h6m-5 5h6m-6-4h6m-5 0h6m-5-7h6m-5 3h6m-6-21h6m-4 28h6m-5 7h6m-5-19h6m-6-10h6m-5-1h6m-6 27h6m-6-20h6m-5 7h6m-5-12h6m-2 15h6m-6 12h6m-5-18h6m-5-10h6m-6 19h6m-4 3h6m-6 4h6m-6-13h6m-4-7h6m-6-9h6m-6 4h6m-5 2h6m-6 0h6m-6 13h6m-5 1h6m-6-9h6m-5 0h6m-5 3h6m-6 13h6m-5-26h6m-6 22h6m-4-14h6m-6 5h6m-6 7h6m-5-24h6m-5 19h6m-6 0h6m-6 13h6m-5-4h6m-6-14h6m-5 14h6m-4-6h6m-6-22h6m-5 30h6m-5-12h6m-6-7h6m-6 21h6m-6-13h6m-5 1h6m-4-18h6m-6 24h6m-5-15h6m-6 23h6m-5-6h6m-4-7h6m-5-4h6m-4 0h6m-5-6h6m-6-1h6m-5 5h6m-6 5h6m-6-3h6m-5-3h6m-4-2h6m-5 11h6m-6-25h6m-4 15h6m-5-4h6m-5-2h6m-5 11h6m-6 7h6m-6 3h6m-5-12h6m-5-16h6m-6 25h6m-5 1h6m-6 9h6m-5-14h6m-6-6h6m-6 20h6m-5-19h6m-3-1h6m-6 15h6m-6-9h6m-5-13h6m-5-7h6m-6 19h6m-6-14h6m-5 16h6m-6 3h6m-5-17h6m-5 21h6m-6-20h6m-6 11h6m-5-12h6m-6 21h6m-5-11h6m-6-3h6m-6-2h6m-5 4h6m-5 2h6m-6-5h6m-6 21h6m-5-38h6m-4 35h6m-6-21h6m-6 1h6m-5 14h6m-6-23h6m-5 9h6m-6 19h6m-6-11h6m-5 16h6m-6-9h6m-6-12h6m-5 20h6m-5-27h6m-5 10h6m-6 13h6m-5-7h6m-4 11h6m-6-20h6m-5 16h6m-6-5h6m-6-8h6m-5 17h6m-6-21h6m-5 18h6m-5-16h6m-5-4h6m-6 1h6m-5-16h6m-6 3h6m-6 5h6m-5 19h6m-6-27h6m-5 18h6m-6-14h6m-5 29h6m-5 6h6m-5-14h6m-6-17h6m-6 0h6m-5 11h6m-5-18h6m-6 32h6m-4-19h6m-5-6h6m-6 16h6m-6 10h6m-6-19h6m-5 6h6m-6 9h6m-5-3h6m-6 2h6m-5-15h6m-5 2h6m-4 9h6m-6-24h6m-5 32h6m-6 1h6m-5-18h6m-5 0h6m-5 11h6m-6-4h6m-5 14h6m-5-28h6m-6 1h6m-5 27h6m-5-26h6m-6 10h6m-6 10h6m-4-13h6m-5 4h6m-3-11h6m-5 0h6m-6 17h6m-5 2h6m-5-3h6m-5-13h6m-4-1h6m-4 16h6m-6-17h6m-6 3h6m-5-11h6m-6 11h6m-5-7h6m-6-5h6m-5 24h6m-6-12h6m-4 15h6m-5 8h6m-5-15h6m-6-13h6m-5 21h6m-6-21h6m-6 12h6m-5 4h6m-4 5h6m-4-3h6m-3 7h6m-5-7h6m-6 3h6m-6 6h6m-5-23h6m-6 16h6m-4 0h6m-6-14h6m-5 13h6m-5-13h6m-6 10h6m-6-1h6m-6-16h6m-5 14h6m-6-1h6m-5-5h6m-5-4h6m-5-3h6m-6 11h6m-5-7h6m-6 13h6m-6-9h6m-3-8h6m-6 12h6m-6-18h6m-5 6h6m-6-1h6m-5 22h6m-5-2h6m-4-4h6m1-3h6m-3 6h6m-4-5h6m-6 0h6m-5 14h6m-6-35h6m-5 23h6m-4-16h6m-6-5h6m-4 23h6m-6 5h6m-4 4h6m-3-1h6m-6-15h6m0 8h6m-5 8h6m-4-16h6m-1-11h6m-2 25h6m20-13h6m-364 22h6m-1 17h6m-1 0h6m-3-15h6m-2 31h6m-2-28h6m-6 22h6m-5 3h6m-5-31h6m-3-1h6m-5 2h6m-5-2h6m-3 33h6m-6-19h6m3 9h6m2-16h6m-5-3h6m-4 3h6m-5 6h6m-4-11h6m-4 7h6m-2 2h6m3 20h6m-3-32h6m-5 11h6m-5 16h6m-2-16h6m-4-11h6m5 4h6m-1-4h6m-3 19h6m-1-19h6m-3 36h6m7-34h6m-2 12h6m-1-4h6m1 28h6m2-36h6m-6 33h6m0-24h6m-2-4h6m-3-2h6m-5-3h6m-4-2h6m-2 4h6m-2 1h6m-1-1h6m4 35h6m-3-29h6m-5-5h6m-5 4h6m-1-7h6m-4-2h6m7 10h6m1-7h6m-1 35h6m8-38h6m-1 3h6m-2 32h6m-6-31h6m-3-1h6m-6 4h6m-4 1h6m2 30h6m-4-25h6m-6 5h6m4-14h6m2 25h6m-4-15h6m-5-2h6m17 26h6m-2-18h6m0-11h6m13-4h6m19 24h6m-370 34h6m1-23h6m34 37h6m40-6h6m-5-9h6m-3 2h6m-1 6h6m-6-5h6m-2-20h6m-2-1h6m-4 13h6m3-14h6m-2-1h6m-4 21h6m7-23h6m7 22h6m-4-20h6m11 11h6m13 26h6m-2-32h6m-5 10h6m-4-13h6m-3 0h6m2 4h6m-3-8h6m15 11h6m-6 20h6m3-21h6m-4 3h6m-5 9h6m12 14h6m0-35h6m-6 30h6m-4-12h6m-5-19h6m5 30h6m-1-17h6m-6 1h6m-5-11h6m-6 5h6m-6 31h6m-4-20h6m1-16h6m2 24h6m-3 7h6m-2-5h6m-1-28h6m-3 1h6m12 35h6m-333 21h6m106-17h6m31 37h6m1-37h6m-2 15h6m31-16h6m14 10h6m-3 2h6m10 0h6m17-6h6m-5 12h6m-4-13h6m-2-4h6m-1 2h6m-2 15h6m21-8h6m-5-4h6m-207 66h6m-5-20h6m74 3h6m-4 2h6m3 12h6m32-7h6" stroke="#2f44c4" stroke-width="6" stroke-opacity=".36"/><ellipse cx="42.8" cy="19.2" rx="3.4" ry="2" fill="#4a90d0" opacity="0.55" filter="url(#b1)" transform="rotate(-50 42.8 19.2)"/><ellipse cx="23.8" cy="46.4" rx="10.2" ry="2.2" fill="#5574d4" opacity="0.55" filter="url(#b06)" transform="rotate(-3 23.8 46.4)"/><ellipse cx="21.8" cy="46.4" rx="7.7" ry="1.8" fill="#3eb0c4" opacity="0.85" filter="url(#b06)" transform="rotate(-3 21.8 46.4)"/><ellipse cx="20.3" cy="46.4" rx="5.8" ry="1.6" fill="#5cc24e" opacity="1" filter="url(#b06)" transform="rotate(-3 20.3 46.4)"/><ellipse cx="17.6" cy="46.4" rx="2.3" ry="1.1" fill="#d6d23c" opacity="1" filter="url(#b06)" transform="rotate(-3 17.6 46.4)"/><ellipse cx="17.1" cy="46.4" rx="1.1" ry=".8" fill="#e8642a" opacity="1" filter="url(#b06)" transform="rotate(-3 17.1 46.4)"/><ellipse cx="17.2" cy="46.4" rx=".7" ry=".5" fill="#de2a1e" opacity="1" filter="url(#b06)" transform="rotate(-3 17.2 46.4)"/><line x1="23" y1="0" x2="23" y2="61.2" stroke="#5a5a5a" stroke-width="1"/><line x1="0" y1="43" x2="61.8" y2="43" stroke="#4a4a4a" stroke-width="1"/><text x="1.6" y="3.6" font-size="2.9" fill="#444">Q1</text><text x="1.6" y="6.6" font-size="2.9" fill="#444">1.42</text><text x="60.2" y="3.6" text-anchor="end" font-size="2.9" fill="#444">Q2</text><text x="60.2" y="6.6" text-anchor="end" font-size="2.9" fill="#444">15.2</text><text x="1.6" y="56.8" font-size="2.9" fill="#444">Q4</text><text x="1.6" y="59.8" font-size="2.9" fill="#444">61.5</text><text x="60.2" y="56.8" text-anchor="end" font-size="2.9" fill="#444">Q3</text><text x="60.2" y="59.8" text-anchor="end" font-size="2.9" fill="#444">25.0</text><path d="M-1.6 6.1h1.6M-1.6 20.3h1.6M-1.6 37.1h1.6M-1.6 46.2h1.6M-1.6 55.5h1.6M-.9 6.1h.9M-.9 9.5h.9M-.9 13h.9M-.9 16.4h.9M-.9 19.9h.9M-.9 23.3h.9M-.9 26.8h.9M-.9 30.2h.9M-.9 33.7h.9M-.9 37.1h.9M4.5 61.2v1.6M15.2 61.2v1.6M25.1 61.2v1.6M41.5 61.2v1.6M56.7 61.2v1.6M25.1 61.2v.9M28.6 61.2v.9M32.1 61.2v.9M35.6 61.2v.9M39.1 61.2v.9M42.7 61.2v.9M46.2 61.2v.9M49.7 61.2v.9M53.2 61.2v.9M56.7 61.2v.9" stroke="#333" stroke-width=".55"/><rect x="-1.1" y="45.7" width="1.2" height="2.8" fill="#111"/><rect x="12.4" y="61.2" width="3" height="1.1" fill="#111"/><text x="-2.3" y="7.1" font-size="2.8" fill="#555" text-anchor="end">10⁵</text><text x="-2.3" y="21.3" font-size="2.8" fill="#555" text-anchor="end">10⁴</text><text x="-2.3" y="38.1" font-size="2.8" fill="#555" text-anchor="end">10³</text><text x="-2.3" y="47.2" font-size="2.8" fill="#555" text-anchor="end">0</text><text x="-2.3" y="56.5" font-size="2.8" fill="#555" text-anchor="end">-10³</text><text x="4.5" y="66.1" font-size="2.8" fill="#555" text-anchor="middle">-10³</text><text x="15.2" y="66.1" font-size="2.8" fill="#555" text-anchor="middle">0</text><text x="25.1" y="66.1" font-size="2.8" fill="#555" text-anchor="middle">10³</text><text x="41.5" y="66.1" font-size="2.8" fill="#555" text-anchor="middle">10⁴</text><text x="56.7" y="66.1" font-size="2.8" fill="#555" text-anchor="middle">10⁵</text></g>
<g transform="translate(113.3 294.5)"><rect x="0" y="0" width="61.8" height="61.2" fill="#fff" stroke="#b8b8b8" stroke-width=".8"/><rect x="15" y="14" width="34" height="30" rx="5" fill="#aab4ea" opacity="0.07" filter="url(#b15)"/><path transform="scale(.1)" d="M175 81h6m22 23h6m247 3h6m102 8h6m-366 22h6m3 16h6m0-13h6m1 14h6m2-5h6m7 10h6m22-22h6m3-7h6m5 8h6m6 1h6m25-6h6m7 8h6m-5 12h6m-4 2h6m6-10h6m7-18h6m-6 32h6m11-6h6m-6-24h6m-6 25h6m-3 2h6m4-13h6m-1 12h6m-5-13h6m-5-15h6m-5 5h6m-3 19h6m0 7h6m3 1h6m-2-12h6m0-12h6m-3 10h6m-4-20h6m-4 8h6m-5 9h6m-2 12h6m-4-6h6m-5-20h6m-2-2h6m-5 25h6m-6-23h6m-4 7h6m-6 9h6m-5-6h6m-2-1h6m-1 12h6m-6-3h6m-5 9h6m-2 3h6m1-7h6m0 3h6m-5-18h6m-5 16h6m-6 3h6m5 4h6m-6-17h6m6 15h6m1-27h6m8 3h6m1 13h6m-405 51h6m4-7h6m5-18h6m-5 14h6m-2 1h6m-6-18h6m-4 22h6m-5 7h6m-6-7h6m-2-17h6m-6 7h6m-4-7h6m-6 3h6m-3-17h6m0 31h6m-6-8h6m-5-19h6m-5 10h6m-4 5h6m-5-11h6m-4 20h6m-5-21h6m-6 19h6m-4-3h6m-4 3h6m-5 10h6m-5-1h6m-2-7h6m-5 1h6m-4-5h6m-4-16h6m-4 29h6m-5-10h6m0 2h6m-3 6h6m-4 4h6m-3-19h6m-6 9h6m-5 3h6m-5-5h6m-6-5h6m-5-18h6m-1 30h6m-6 2h6m-5-17h6m-1-15h6m-6 35h6m24-10h6m1-9h6m-6-4h6m-1-11h6m21 10h6m5 19h6m-5-1h6m-3 4h6m-1-20h6m-4-11h6m4 16h6m7 17h6m-1-38h6m-3 3h6m-3 34h6m-5-16h6m-6-10h6m-6 26h6m-5-14h6m-5-1h6m-4 15h6m-3-9h6m-4-10h6m-4 16h6m-5-18h6m-5 18h6m-2-4h6m-4-7h6m-2-14h6m-1 21h6m-5-7h6m-5-4h6m-6 3h6m-5 3h6m-5-25h6m-5 26h6m-4-20h6m-6 17h6m-4 0h6m-6 13h6m-4-2h6m-4-7h6m-4-16h6m-6 4h6m-6-13h6m-4 36h6m-5-38h6m-6 30h6m-6-10h6m-5 9h6m-5-13h6m-6-12h6m-6 30h6m-5-5h6m-6-1h6m-6-20h6m-5 3h6m-5-9h6m-6 30h6m-5-6h6m-5-3h6m-5 9h6m-6-13h6m-5-2h6m-5 21h6m-2-13h6m-6-13h6m-3 0h6m-6 7h6m-5-4h6m-5 6h6m-6-9h6m-5-3h6m-5 13h6m-6 2h6m-5 5h6m-6-7h6m-5-18h6m-5 21h6m-6 11h6m-6-26h6m-4 21h6m-5-13h6m-6 6h6m-6-5h6m-5-2h6m-5 5h6m-6-7h6m-6 1h6m-6 4h6m-5-11h6m-6 12h6m-5 9h6m-6-12h6m-5 12h6m-6 0h6m-5 3h6m-5-32h6m-5 29h6m-5-7h6m-6-24h6m-6 30h6m-6-19h6m-5 15h6m-6 2h6m-6-14h6m-6 18h6m-4-2h6m-6-9h6m-6 4h6m-5-25h6m-5 18h6m-6 13h6m-5-4h6m-6 7h6m-5-32h6m-6 3h6m-6 31h6m-6 3h6m-5-32h6m-5 29h6m-5-12h6m-4-2h6m-3 8h6m-6-21h6m-5 11h6m-6-18h6m-6 23h6m-6-7h6m-6-8h6m-5 6h6m-6-9h6m-5-5h6m-6 32h6m-5-3h6m-6-22h6m-6 26h6m-4-32h6m-4 17h6m-3 7h6m-4-18h6m-6 19h6m-5-25h6m-6 4h6m-5 21h6m-6 2h6m-1-17h6m-3 11h6m-5 6h6m-5-28h6m-5 8h6m-6 22h6m-6-20h6m-5 12h6m-2-12h6m-4 14h6m0-13h6m-1-13h6m-3 24h6m2 12h6m-3-34h6m-5 12h6m-4 15h6m-6-10h6m-5-5h6m-5 5h6m10 11h6m-402 35h6m-1-9h6m-3 12h6m-2-5h6m-5-16h6m-2 30h6m-3-32h6m-5 13h6m-4-16h6m-2 35h6m-3-25h6m-6-7h6m0 9h6m-5 19h6m-6-32h6m-5 26h6m-4-5h6m-5 7h6m-5-3h6m-3-22h6m-6 25h6m-5-15h6m-5-11h6m-6 22h6m-6 12h6m-6-13h6m-5 5h6m-5 2h6m-6 0h6m-5-18h6m-4-3h6m-4 18h6m-6-22h6m-6 10h6m-5 13h6m-4 6h6m-6-18h6m-5-14h6m-5 11h6m-6 24h6m-6-3h6m-5-31h6m-5-4h6m-5 34h6m-6-13h6m-3-19h6m-6 13h6m-4 6h6m-5-21h6m-3 7h6m-3 4h6m-6-6h6m-6-4h6m-4-1h6m-4 15h6m-5 12h6m-4 1h6m-6-19h6m-5-9h6m-5 15h6m-4-4h6m-5-5h6m-4 32h6m-4-17h6m-5 13h6m32-6h6m12-4h6m-3-6h6m10 2h6m-1-3h6m-5 16h6m3-14h6m4 16h6m-5-5h6m1-16h6m-4-3h6m-5 23h6m-5-27h6m-4 7h6m-3-5h6m-5 1h6m-5 24h6m4-21h6m-5 22h6m0-27h6m-5 27h6m-6-29h6m-6-2h6m-5 12h6m-6 0h6m-5 12h6m-5-27h6m-6 38h6m-4 0h6m-3-36h6m-6 32h6m-3-17h6m-5-10h6m-5 8h6m-6 2h6m-6 12h6m-5-7h6m-6 16h6m-6-2h6m-5-14h6m-6-1h6m-5-22h6m-5 11h6m-3 16h6m-6 3h6m-4-18h6m-6-10h6m-6 13h6m-5-1h6m-4-4h6m-5 28h6m-4-4h6m-3 0h6m-6-16h6m-5 9h6m-5-15h6m-5-1h6m-6 27h6m-3-35h6m-6 21h6m-6-5h6m-6-19h6m-6 7h6m-5 27h6m-5-7h6m-5 11h6m-6-24h6m-5 6h6m-6-1h6m-5 6h6m-6-23h6m-6 4h6m-5 1h6m-5 30h6m-6-20h6m-6-11h6m-4 10h6m-6-9h6m-6 0h6m-5 30h6m-6-14h6m-6-3h6m-6-6h6m-4-9h6m-5 17h6m-4 5h6m-6-13h6m-5 20h6m-6-31h6m-5 24h6m-6-10h6m-5 15h6m-6-29h6m-6 18h6m-4 4h6m-5-23h6m-5 10h6m-6 19h6m-5-24h6m-5 31h6m-6-20h6m-5-15h6m-6 7h6m-5 18h6m-6-25h6m-6 8h6m-5 4h6m-5-13h6m-5 31h6m-6-20h6m-4 16h6m-5 4h6m-6-33h6m-5 21h6m-5-16h6m-5-4h6m-6 20h6m-5-16h6m-5 5h6m-6-5h6m-6 6h6m-5-6h6m-5 30h6m-6-33h6m-5 4h6m-5 33h6m-5-38h6m-6 6h6m-2 0h6m-5 5h6m-5-4h6m-5 19h6m-4-4h6m-4 11h6m-5-26h6m-6 6h6m-5 3h6m-6-12h6m-5-2h6m-6 7h6m-5 26h6m-5-36h6m-1 6h6m-4-5h6m-3 9h6m-5-8h6m-5 11h6m-5 15h6m-5-2h6m5-18h6m-4 12h6m19 15h6m11-34h6m-413 69h6m-2-23h6m1 30h6m2-22h6m-2-3h6m-4 17h6m-5 8h6m-6-15h6m0 13h6m-5-22h6m-6-7h6m-1 12h6m-4-12h6m-4 9h6m-4-6h6m2 27h6m-5-3h6m-4-11h6m-6 4h6m-5-21h6m-6 30h6m-5 4h6m-5-38h6m-6 35h6m-5-13h6m-2-15h6m-5 25h6m-6-33h6m-5 27h6m-3-16h6m-5 11h6m-5-1h6m-3 2h6m-3-13h6m-4 1h6m-5 25h6m0-23h6m-2-12h6m-4 4h6m-3 10h6m2-11h6m-4 34h6m-5-12h6m39-1h6m2-12h6m-3 17h6m-1 5h6m-3 2h6m-6-23h6m-4-11h6m-4 22h6m0-17h6m-5 31h6m-2-15h6m-3-13h6m-2-11h6m-3 32h6m-5 6h6m1 0h6m-5-32h6m-5 8h6m-3 0h6m-4 9h6m-4 7h6m-2 7h6m-5-22h6m-4 11h6m-4-25h6m2 4h6m-4 8h6m1 23h6m-6 0h6m-4-32h6m-2 18h6m-3-8h6m-2 14h6m-5-23h6m-5 16h6m-4 7h6m-6-21h6m-6 29h6m-3-34h6m-6 10h6m-5 15h6m-6-9h6m-5 19h6m-6-23h6m-2-5h6m-5 7h6m0-10h6m-4 5h6m-5 0h6m-6-5h6m-5 14h6m-5-20h6m-5 28h6m-4-28h6m-4 11h6m-4 8h6m-6-7h6m-5 27h6m-3-39h6m-4 3h6m-5 18h6m-4-7h6m-6-12h6m-5 4h6m-4 29h6m-5-10h6m-5-13h6m-5 1h6m-5 21h6m-5-28h6m-5-2h6m-6 6h6m-4 17h6m-6-22h6m-5 21h6m-6-6h6m-5-14h6m-4 18h6m-5-13h6m-5 8h6m-3 7h6m-1 3h6m-5-26h6m-6 27h6m-6-3h6m-5-19h6m-4-6h6m-1 27h6m-5 0h6m-3 10h6m-6-13h6m0 8h6m-3-6h6m-3 11h6m-6-38h6m-3 7h6m-4 29h6m-3-36h6m0 15h6m-359 32h6m-2 17h6m-1-21h6m2 35h6m-3-29h6m-6 24h6m-5-11h6m-5-4h6m-6-14h6m-3 7h6m1 10h6m-6-11h6m-5 1h6m-4 6h6m-6-5h6m-6 17h6m-5-20h6m-6 12h6m-4 13h6m-5-13h6m-4-10h6m-4 27h6m-5-5h6m-5-32h6m-5 17h6m-5-15h6m-5 3h6m-5 24h6m-5-3h6m-5-27h6m-6 10h6m-6 17h6m-3 1h6m-3-12h6m-3 8h6m-3 6h6m-3-28h6m0 12h6m-5-13h6m-6 34h6m-3 1h6m-4-7h6m-5-13h6m0-13h6m12 24h6m-4 11h6m-5-39h6m3 15h6m5 17h6m-5-17h6m-4 13h6m-1-19h6m-3 16h6m-1 8h6m-3-23h6m-1 28h6m-5-29h6m-4 10h6m-4 12h6m8 3h6m-5-24h6m-3 26h6m-3-26h6m-5 15h6m-4 5h6m-2-28h6m-2 19h6m0-4h6m-6 14h6m-3 1h6m-2-5h6m-2 6h6m-5-18h6m-5 8h6m-6-13h6m-3 8h6m-6-2h6m6 6h6m-2 4h6m-5-25h6m-5 1h6m-5-2h6m-1 29h6m-6-11h6m-5 3h6m-3-18h6m0-2h6m-5 6h6m-3 14h6m-5-20h6m-4 36h6m-6-26h6m5 9h6m-3-6h6m-5 0h6m-5 21h6m1-12h6m-4-11h6m-5 7h6m-1 3h6m-6-12h6m-5 8h6m-6 20h6m-4-12h6m-5 12h6m-5-11h6m-5-6h6m-4-10h6m-4 6h6m1-11h6m-6 29h6m-4-31h6m-5 17h6m-6-17h6m-2 19h6m-3-1h6m-5-6h6m-5 18h6m-1-5h6m-6 1h6m-5-1h6m-5-9h6m-5 4h6m-5 1h6m1-13h6m-4 21h6m-6-32h6m-3 19h6m0 19h6m-2-8h6m-6-25h6m-5 18h6m-2 1h6m12-21h6m-391 74h6m4-1h6m-2-9h6m-6-25h6m11-2h6m0 16h6m1 15h6m-4-4h6m-6-10h6m-3-15h6m-5 13h6m-5 12h6m-1-10h6m-5 6h6m-6-7h6m-5 6h6m-3 0h6m-4-19h6m-5 30h6m-3-20h6m-5-4h6m-4 12h6m-4-1h6m-6 9h6m-4-6h6m-6-14h6m-5 11h6m-6-9h6m-5-11h6m-2 18h6m-6-19h6m-4 0h6m-2 14h6m-5-14h6m-5 33h6m-5-25h6m-5 5h6m-4-7h6m-5-3h6m-1 25h6m-4-18h6m-1-6h6m-5 22h6m3-24h6m0 22h6m11-24h6m-3 12h6m-4 10h6m0 6h6m-5-15h6m-6 26h6m-4-5h6m4-32h6m2 25h6m4-12h6m-3 8h6m-5-9h6m-5 7h6m-5-7h6m-2 20h6m-5-15h6m-5-6h6m-4 1h6m-5-6h6m-6-8h6m-5 15h6m-3 8h6m0-3h6m-6-12h6m2 2h6m-5 22h6m-2-14h6m-5-13h6m-4 22h6m-5 8h6m-1-35h6m-5 29h6m-5 5h6m-4-5h6m-6-5h6m-1 14h6m-6-19h6m0-2h6m-5-15h6m-3-1h6m-6 24h6m-5-8h6m-5-1h6m-5 17h6m-2-19h6m-4-14h6m-3 21h6m-5-6h6m0 15h6m-4-4h6m-4-10h6m-1 19h6m-5-9h6m-2 9h6m0 1h6m-1-17h6m3 18h6m-6-7h6m-4-6h6m-4-15h6m-5 2h6m-5-6h6m-6 25h6m-5-20h6m-5-8h6m-5 2h6m-6 6h6m3 17h6m-4-11h6m-5 9h6m-4-11h6m-3 23h6m-5-27h6m-5 24h6m-4-19h6m-6 12h6m-4 1h6m-3 5h6m-6-33h6m-5 23h6m-3 14h6m-4-10h6m-5-11h6m-4 10h6m-3 7h6m-3-27h6m-5 8h6m-5 9h6m-2-16h6m-5 11h6m-5 9h6m-5 0h6m-1-21h6m13 29h6m-393 20h6m19 2h6m-1-16h6m1 36h6m-3-18h6m-5 16h6m-6-2h6m-6-7h6m0-21h6m-5 20h6m-6 8h6m-4 2h6m-2-33h6m-6 18h6m-5 8h6m-4-28h6m-5 29h6m-6 10h6m-3-8h6m-6-17h6m-3-12h6m-5 37h6m-3-33h6m-5 26h6m1-24h6m-5 26h6m-4-34h6m-5 22h6m-1-3h6m-4 9h6m-6 5h6m-4-3h6m-5-14h6m-5 4h6m-6 8h6m4 9h6m-5-16h6m0 3h6m-6 10h6m-5-28h6m3 33h6m4 0h6m-5-39h6m-5 18h6m7-4h6m-6-13h6m2 9h6m5 21h6m0-31h6m-2 24h6m-5-7h6m-6 9h6m9-18h6m-5 4h6m-1-12h6m-5 11h6m-4 9h6m-6 16h6m-2-14h6m-1-21h6m-3 30h6m-5-16h6m-5 3h6m-2 5h6m-4 2h6m-1-16h6m5-8h6m6 9h6m-4 4h6m-3-12h6m-2 28h6m-3 2h6m-4-10h6m-6 4h6m-2-12h6m-4 18h6m7 5h6m3-32h6m-5 33h6m-6-36h6m-6 32h6m-5-19h6m-6-1h6m-4 15h6m-5-29h6m-2 19h6m-5-9h6m-4 27h6m1-10h6m-5-5h6m-3-15h6m-6 18h6m-2-13h6m-3 7h6m-6-5h6m-6 3h6m-6 13h6m-5-22h6m-3 21h6m-6-2h6m1 12h6m-4-14h6m-2-6h6m-5 16h6m-5-29h6m-5 1h6m-6 10h6m-5-16h6m-5 22h6m-3-18h6m1-2h6m-6 32h6m-5-18h6m-6-8h6m-5 21h6m-1-2h6m-5-6h6m-6-19h6m-5 20h6m-4 3h6m-6 9h6m-5 3h6m-6-17h6m-5-12h6m-4 24h6m-5-31h6m-5 30h6m-1-12h6m-5 10h6m-4-20h6m3 19h6m-357 38h6m-3-13h6m-5-8h6m-5 7h6m-6-4h6m-6-3h6m-4 18h6m-6 15h6m-5-29h6m-5 10h6m-4-9h6m-6 8h6m-6 20h6m-5-24h6m-5 7h6m-6-5h6m-6-2h6m-6-2h6m-5 18h6m-5-12h6m-6-8h6m-5 28h6m-6-3h6m-6-16h6m-6 7h6m-5-18h6m-5 4h6m-6-2h6m-5 2h6m-5 11h6m-6-11h6m-5 17h6m-4-2h6m-6-18h6m-5 27h6m-6-10h6m-6 9h6m-6-4h6m-6-6h6m-5 5h6m-4-6h6m-6 12h6m-6-17h6m-5-5h6m-5-10h6m-6 13h6m-6 9h6m-6-15h6m-5 15h6m-6-6h6m-5-10h6m-6 13h6m-6 3h6m-6-18h6m-5 26h6m-6-15h6m-5 17h6m-6-5h6m-6-4h6m-5-21h6m-6 4h6m-6 17h6m-6-25h6m-6 13h6m-5 21h6m-5-24h6m-6-1h6m-6 15h6m-6-25h6m-5 30h6m-5-16h6m-5 10h6m-6 6h6m-5-19h6m-6 6h6m-4 8h6m-6-4h6m-6 0h6m-6-5h6m-6 4h6m-5-2h6m-6 2h6m-5 12h6m-6-7h6m-6-24h6m-5 35h6m-6-12h6m-5 1h6m-6 10h6m-5-23h6m-6 19h6m-5-8h6m-5-5h6m-4 7h6m-6-21h6m-6 28h6m-6-8h6m-5-5h6m-6 4h6m-6-23h6m-5 3h6m-5 13h6m-6 11h6m-6-20h6m-6-8h6m-6 17h6m-6 3h6m-5-12h6m-6 21h6m-6-23h6m-5 9h6m-5 7h6m-6 5h6m-6 7h6m-6-14h6m-5 11h6m-5-32h6m-6 26h6m-6-22h6m-6 32h6m-5-13h6m-6-14h6m-5 20h6m-6-28h6m-6 3h6m-6 26h6m-6-17h6m-5 16h6m-6-18h6m-6-1h6m-4 25h6m-6-13h6m-5 8h6m-6-4h6m-6 3h6m-5-18h6m-5-10h6m-4 28h6m-6-17h6m-5 21h6m-6-18h6m-6 19h6m-6-8h6m-5 1h6m-6 1h6m-5-10h6m-6 21h6m-6-39h6m-6 25h6m-5-18h6m-5 30h6m-6-14h6m-4 9h6m-6-18h6m-5-7h6m-6 21h6m-5-17h6m-5 1h6m-6 0h6m-5 12h6m-6 15h6m-6-13h6m-3 1h6m-6-12h6m-5 8h6m-6-20h6m-5 23h6m-6 6h6m-5-17h6m-5 0h6m-6-1h6m-5 25h6m-5-17h6m-5-5h6m-6-10h6m-6 17h6m-4-24h6m-6 25h6m-5 10h6m-6-4h6m-5-9h6m-4 12h6m-6-19h6m-6 0h6m-5 10h6m-6 12h6m-5-24h6m-6-3h6m-5 7h6m-6 10h6m-6-2h6m-6 6h6m-5 3h6m-6-16h6m-5 4h6m-6-7h6m-6 7h6m-4 9h6m-5-5h6m-6-1h6m-5 4h6m-5 9h6m-3-24h6m-6 8h6m-5-9h6m-6 8h6m-6-1h6m-5 12h6m-6-4h6m-6-22h6m-5 26h6m-5 3h6m-6-15h6m-5 13h6m-6 2h6m-5-6h6m-5 2h6m-6 7h6m-5-11h6m-5-13h6m-5-4h6m-5 0h6m-6 10h6m-5 7h6m-6-6h6m-3-2h6m-6-4h6m-6 11h6m-5-19h6m-6 10h6m-5-17h6m-5 9h6m-6 12h6m-6 16h6m-5-15h6m-5-1h6m-6 0h6m-4-9h6m-6 3h6m-6 23h6m-5-24h6m-6 5h6m-5 16h6m-6-10h6m-6-5h6m-5 5h6m-6-21h6m-5 14h6m-6 4h6m-5 5h6m-6-26h6m-5 38h6m-6-19h6m-6 19h6m-5-6h6m-6-24h6m-5 2h6m-5 6h6m-6 22h6m-4-22h6m-5 18h6m-6-32h6m-4 32h6m-6-33h6m-5 36h6m-6-29h6m-5 30h6m-6-9h6m-6-10h6m-5-8h6m-6 16h6m-4 0h6m-6 6h6m-6-15h6m-6-8h6m-5 24h6m-5 3h6m-6-20h6m-5 20h6m-6-5h6m-5-22h6m-6-3h6m-5 4h6m-6 10h6m-6-10h6m-5 0h6m-5 16h6m-4-14h6m-6 14h6m-6-2h6m-6 5h6m-5-9h6m-6 5h6m-6-13h6m-6 9h6m-5 16h6m-6-16h6m-6 3h6m-5 10h6m-6-13h6m-6-2h6m-5-3h6m-6-6h6m-5 10h6m-5 12h6m-5-11h6m-6 6h6m-4-12h6m-4 15h6m-5-29h6m-6 9h6m-5 19h6m-5-9h6m-5-16h6m-6 19h6m-6 14h6m-5-5h6m-5-21h6m-6-6h6m-5 14h6m-6-8h6m-1 8h6m-5-8h6m-6 20h6m-5-20h6m-5 4h6m-5 3h6m-6 18h6m-5-21h6m-6 5h6m-5-6h6m-6 3h6m-6 17h6m-3-6h6m-6-20h6m-6-4h6m-6 4h6m-6 16h6m-6 3h6m-5-10h6m-6-4h6m-5 0h6m-4 18h6m-6-5h6m-5-19h6m-5 9h6m-5-6h6m-6 13h6m-5-2h6m-4-17h6m-3 18h6m-6-12h6m-6-1h6m-5 4h6m-6 15h6m-6-4h6m-5-6h6m-6-7h6m-6 15h6m-6-13h6m-5 4h6m-6 3h6m-4 11h6m-5 2h6m-5-11h6m-5 13h6m-6-16h6m-5-8h6m-5 19h6m-5 2h6m-4-11h6m-5-12h6m-5 15h6m-6 10h6m-6-20h6m-4 12h6m-6-17h6m-5 9h6m-6 11h6m-3-18h6m-6 18h6m-6-6h6m-6-17h6m-5 0h6m-1 22h6m-5-6h6m-6 9h6m-5-3h6m-6-19h6m-6 11h6m-6-6h6m-5 5h6m-3-4h6m-6 12h6m-5-3h6m-6-22h6m-5 16h6m-6-8h6m-6-4h6m-5 7h6m-6 21h6m-5-20h6m-6-2h6m-6-11h6m-3 29h6m-6 0h6m-6-10h6m-5 1h6m-6-3h6m-6 8h6m-6-20h6m-5-7h6m-4 17h6m-6 18h6m-5-6h6m-6-14h6m-6-5h6m-5 26h6m-5-30h6m-4 10h6m-5 9h6m-6-8h6m-5 13h6m-5-11h6m-5 12h6m-4-21h6m-6-9h6m-6 9h6m-4 2h6m-6 4h6m-6-8h6m-5 6h6m-5 20h6m-6 1h6m-5-23h6m-6 22h6m-5-21h6m-5 15h6m-6-9h6m-4-15h6m-4 18h6m-5 10h6m-5-20h6m-5 20h6m-5-5h6m-6-11h6m-5-5h6m-6 14h6m-6-17h6m-5 8h6m-5 16h6m-6-19h6m-2-4h6m-5 3h6m-4 1h6m-6 11h6m-5 4h6m-6-4h6m-6-20h6m-6 19h6m-6-6h6m-6 9h6m-5-14h6m-6 21h6m-5-10h6m-5 0h6m-6 15h6m-4-9h6m-4-9h6m-6 6h6m-4-6h6m-6-9h6m-2 20h6m-5-8h6m-6 2h6m-5 0h6m-4 8h6m-6-13h6m-5-11h6m-6 8h6m-5-5h6m-6-4h6m-5 17h6m-5 2h6m-6 2h6m-3-20h6m-6 24h6m-4-6h6m-5 2h6m-6-24h6m-5 11h6m-5-10h6m-4-1h6m-6 26h6m-2-18h6m-4 24h6m1-36h6m-1 0h6m2 35h6m-3-23h6m-356 53h6m9-16h6m-5-5h6m-3-1h6m-4-5h6m-2 5h6m2-2h6m-5 0h6m-6-2h6m-2 5h6m-6 4h6m-2 29h6m-4-33h6m-5 0h6m2-5h6m-1 2h6m-5-1h6m-5 8h6m-6-10h6m4 24h6m-1-23h6m-6-1h6m-4 1h6m-5 7h6m-4 1h6m1-7h6m1 0h6m-6 5h6m-3 16h6m6-21h6m-4 12h6m-5 21h6m4-34h6m-5-1h6m-3 36h6m1-31h6m-5-4h6m23 38h6m10-4h6m-3-33h6m-6 35h6m2-23h6m5-11h6m-6 25h6m4-27h6m-5 4h6m-3 32h6m-5-33h6m0-2h6m1 6h6m-1 30h6m4-24h6m8 2h6m7-16h6m-5 39h6m-4-36h6m-4 36h6m-4-35h6m2-3h6m7 24h6m-3-16h6m-1 27h6m5-16h6m-4-2h6m-297 37h6m-3-10h6m2 28h6m2-29h6m-4 18h6m-1 7h6m44-11h6m2-14h6m3 34h6m21-2h6m-5-27h6m5-1h6m-3 9h6m0-15h6m3 32h6m-2-30h6m-1 25h6m4 8h6m16-24h6m0 3h6m14-14h6m20 32h6m-2-19h6m-1-12h6m-4 8h6m-4 2h6m-3 26h6m1-25h6m-6 6h6m-4-11h6m-3-9h6m7 3h6m-4-2h6m-3 26h6m-2-15h6m-2-9h6m-327 55h6m89 7h6m-5 3h6m15-27h6m6 8h6m15 17h6m26-1h6m-5-8h6m6-7h6m1 4h6m12-6h6m0 15h6m17 2h6m0-17h6m4 13h6m-3 18h6m7-22h6m1-9h6m1 5h6m9 7h6m3-2h6m-3-8h6m-119 38h6m59-2h6m51 11h6m24-13h6m-100 38h6" stroke="#2f44c4" stroke-width="6" stroke-opacity=".36"/><ellipse cx="44" cy="19.5" rx="4" ry="2" fill="#4a88d0" opacity="0.45" filter="url(#b1)" transform="rotate(-30 44 19.5)"/><ellipse cx="23.6" cy="46.4" rx="9.9" ry="2.1" fill="#5574d4" opacity="0.55" filter="url(#b06)" transform="rotate(-3 23.6 46.4)"/><ellipse cx="21.6" cy="46.4" rx="7.4" ry="1.8" fill="#3eb0c4" opacity="0.85" filter="url(#b06)" transform="rotate(-3 21.6 46.4)"/><ellipse cx="20.1" cy="46.4" rx="5.6" ry="1.5" fill="#5cc24e" opacity="1" filter="url(#b06)" transform="rotate(-3 20.1 46.4)"/><ellipse cx="17.6" cy="46.4" rx="2.2" ry="1.1" fill="#d6d23c" opacity="1" filter="url(#b06)" transform="rotate(-3 17.6 46.4)"/><ellipse cx="17.1" cy="46.4" rx="1.1" ry=".7" fill="#e8642a" opacity="1" filter="url(#b06)" transform="rotate(-3 17.1 46.4)"/><ellipse cx="17.1" cy="46.4" rx=".7" ry=".5" fill="#de2a1e" opacity="1" filter="url(#b06)" transform="rotate(-3 17.1 46.4)"/><line x1="23.2" y1="0" x2="23.2" y2="61.2" stroke="#5a5a5a" stroke-width="1"/><line x1="0" y1="43" x2="61.8" y2="43" stroke="#4a4a4a" stroke-width="1"/><text x="1.6" y="3.6" font-size="2.9" fill="#444">Q1</text><text x="1.6" y="6.6" font-size="2.9" fill="#444">1.77</text><text x="60.2" y="3.6" text-anchor="end" font-size="2.9" fill="#444">Q2</text><text x="60.2" y="6.6" text-anchor="end" font-size="2.9" fill="#444">12.1</text><text x="1.6" y="56.8" font-size="2.9" fill="#444">Q4</text><text x="1.6" y="59.8" font-size="2.9" fill="#444">70.6</text><text x="60.2" y="56.8" text-anchor="end" font-size="2.9" fill="#444">Q3</text><text x="60.2" y="59.8" text-anchor="end" font-size="2.9" fill="#444">11.6</text><path d="M-1.6 6.1h1.6M-1.6 20.3h1.6M-1.6 37.1h1.6M-1.6 46.2h1.6M-1.6 55.5h1.6M-.9 6.1h.9M-.9 9.5h.9M-.9 13h.9M-.9 16.4h.9M-.9 19.9h.9M-.9 23.3h.9M-.9 26.8h.9M-.9 30.2h.9M-.9 33.7h.9M-.9 37.1h.9M4.5 61.2v1.6M15.2 61.2v1.6M25.1 61.2v1.6M41.5 61.2v1.6M56.7 61.2v1.6M25.1 61.2v.9M28.6 61.2v.9M32.1 61.2v.9M35.6 61.2v.9M39.1 61.2v.9M42.7 61.2v.9M46.2 61.2v.9M49.7 61.2v.9M53.2 61.2v.9M56.7 61.2v.9" stroke="#333" stroke-width=".55"/><rect x="-1.1" y="45.7" width="1.2" height="2.8" fill="#111"/><rect x="12.4" y="61.2" width="3" height="1.1" fill="#111"/><text x="-2.3" y="7.1" font-size="2.8" fill="#555" text-anchor="end">10⁵</text><text x="-2.3" y="21.3" font-size="2.8" fill="#555" text-anchor="end">10⁴</text><text x="-2.3" y="38.1" font-size="2.8" fill="#555" text-anchor="end">10³</text><text x="-2.3" y="47.2" font-size="2.8" fill="#555" text-anchor="end">0</text><text x="-2.3" y="56.5" font-size="2.8" fill="#555" text-anchor="end">-10³</text><text x="4.5" y="66.1" font-size="2.8" fill="#555" text-anchor="middle">-10³</text><text x="15.2" y="66.1" font-size="2.8" fill="#555" text-anchor="middle">0</text><text x="25.1" y="66.1" font-size="2.8" fill="#555" text-anchor="middle">10³</text><text x="41.5" y="66.1" font-size="2.8" fill="#555" text-anchor="middle">10⁴</text><text x="56.7" y="66.1" font-size="2.8" fill="#555" text-anchor="middle">10⁵</text></g>
<g transform="translate(183.3 294.5)"><rect x="0" y="0" width="61.8" height="61.2" fill="#fff" stroke="#b8b8b8" stroke-width=".8"/><rect x="15" y="14" width="34" height="30" rx="5" fill="#aab4ea" opacity="0.07" filter="url(#b15)"/><path transform="scale(.1)" d="M218 83h6m208 33h6m32-5h6m33-17h6m-365 60h6m-3-2h6m10-8h6m-3 9h6m6 0h6m-4-8h6m-5 8h6m-4-24h6m-2 21h6m-1-15h6m-6 20h6m-6 2h6m-6-5h6m-1-10h6m-6 6h6m30 7h6m9-23h6m4 26h6m-4-8h6m10 4h6m-4-6h6m17 2h6m-5-25h6m15 14h6m9-14h6m14 13h6m1-18h6m0 35h6m3-20h6m23-8h6m-4 32h6m-5-25h6m1 8h6m-5 17h6m7-9h6m-2-4h6m-2 9h6m-5-4h6m-6-2h6m-4-4h6m-1 7h6m-5-4h6m-5 7h6m-6 3h6m-5-7h6m-6 7h6m-5-14h6m-5 12h6m-4-19h6m-3 7h6m-3 9h6m-5-6h6m-6 9h6m-5 1h6m-5-27h6m-4 8h6m-4 3h6m-6-7h6m-5 25h6m-5-20h6m-5 9h6m-6-14h6m-4-10h6m-6 26h6m-5-13h6m-6-7h6m-6-2h6m-1 12h6m-4-16h6m-3 16h6m4 8h6m-3 4h6m9-8h6m1-21h6m-394 55h6m-4 16h6m-5-6h6m-1-6h6m-3-11h6m-3 27h6m-6 1h6m-4-13h6m-2-26h6m-6 6h6m-5 23h6m0 7h6m-5 0h6m-6-9h6m-4-12h6m-5-11h6m-6 13h6m-6 3h6m-4-8h6m-5 10h6m-6 10h6m-5-16h6m-4 9h6m-5 1h6m-6-4h6m-5 1h6m-6 0h6m-5-11h6m-5 19h6m-6 0h6m-5-2h6m-5-22h6m-6 23h6m-5-2h6m-5 9h6m-5 2h6m-2-10h6m-6 6h6m-6-12h6m-6-8h6m-6 12h6m-5-1h6m-6 13h6m-6-6h6m-4-2h6m-5-20h6m-6 4h6m-6 7h6m-4 10h6m-6 2h6m-6-7h6m-5-23h6m-5 25h6m-5 0h6m-5-17h6m-5 16h6m-6-16h6m-5 8h6m-6 1h6m-5-16h6m-5 32h6m-6-31h6m-5 29h6m-5-13h6m-6 12h6m-5-21h6m-6-3h6m-5 17h6m-5-21h6m-5 6h6m-6 22h6m-4-26h6m-5 29h6m-2-16h6m-2 14h6m-4-25h6m-6 15h6m-5-19h6m-2 15h6m-3 7h6m-3-19h6m-3 13h6m-4-5h6m-5 21h6m-5-21h6m-2-7h6m1 17h6m12 6h6m-5-27h6m-3 26h6m-4-25h6m-3 5h6m3-12h6m41 19h6m0-7h6m9 8h6m6 17h6m-4-8h6m-2 5h6m0-17h6m-5 19h6m-5-16h6m-4 17h6m-5 2h6m2-21h6m-5-1h6m-6 22h6m-5-8h6m-6 5h6m-5-1h6m-4-14h6m-4 13h6m-5-1h6m-5 6h6m-5-6h6m-6-13h6m-2 4h6m-6-11h6m-5 12h6m-6-23h6m-5 37h6m-6-3h6m-5-31h6m-6 32h6m-5-29h6m-6 14h6m-5 6h6m-5-28h6m-5 30h6m-6-3h6m-5 9h6m-6-14h6m-6 15h6m-6-13h6m-6-5h6m-5 5h6m-4-3h6m-6-2h6m-6 19h6m-5-17h6m-6 3h6m-6 0h6m-6-3h6m-4-5h6m-6 20h6m-5-10h6m-5-3h6m-5-10h6m-6 14h6m-5 3h6m-5-2h6m-5 9h6m-6-4h6m-6 6h6m-6-16h6m-5 16h6m-4-14h6m-6-5h6m-6 7h6m-5-9h6m-6-3h6m-6 11h6m-5 6h6m-6-11h6m-6-19h6m-5 20h6m-4 6h6m-6-25h6m-6 27h6m-5 5h6m-6-12h6m-6 11h6m-5-32h6m-6 20h6m-6 0h6m-5 9h6m-5-10h6m-6 8h6m-6-7h6m-6 9h6m-6-5h6m-6-7h6m-5 13h6m-6-16h6m-5 10h6m-6 10h6m-6-30h6m-5 5h6m-6 12h6m-6 9h6m-5-17h6m-6-7h6m-5-5h6m-6 13h6m-5-3h6m-6 11h6m-5-23h6m-6 21h6m-6-17h6m-6 16h6m-5-2h6m-6 3h6m-5-6h6m-6 22h6m-6-8h6m-5-15h6m-6 8h6m-6 4h6m-5 4h6m-6-10h6m-5 15h6m-6-14h6m-6 2h6m-5-21h6m-4 24h6m-5-1h6m-5 0h6m-6-4h6m-5 13h6m-6-21h6m-6 5h6m-5 19h6m-5-14h6m-6-21h6m-5 24h6m-6 1h6m-6 11h6m-6-35h6m-5 14h6m-5-14h6m-6 13h6m-6 17h6m-5-4h6m-4-19h6m-4 3h6m-5 10h6m-6 13h6m-5-33h6m-6 25h6m-5-17h6m-5-3h6m-6 5h6m-4-2h6m-5 4h6m-6-1h6m-6-1h6m-5-6h6m-6 6h6m-5 3h6m-6 17h6m-3-22h6m-6 5h6m-5-1h6m-5 15h6m-5-9h6m-5-10h6m0 24h6m-6-2h6m-1-23h6m1-9h6m-3 7h6m-370 61h6m-4-25h6m-2 32h6m-6-11h6m-5 1h6m2 4h6m-5-14h6m-3-3h6m-5 9h6m-5 2h6m-4-7h6m-6 18h6m-4-4h6m-6 5h6m-5-33h6m-6-2h6m-5 30h6m-5-28h6m-5 26h6m-6-13h6m-6-8h6m-5 12h6m-6 1h6m-6-22h6m-2 32h6m-6-22h6m-6 25h6m-6-35h6m-5 12h6m-6 21h6m-6-22h6m-4 11h6m-6-15h6m-6-1h6m-5-4h6m-6-1h6m-5 4h6m-5 27h6m-3 6h6m-6-3h6m-6 1h6m-5-20h6m-6-4h6m-5 23h6m-6-26h6m-6 30h6m-5-38h6m-6 20h6m-6-20h6m-5 25h6m-6-6h6m-6-6h6m-6 0h6m-6 0h6m-5 17h6m-6-9h6m-5 16h6m-5-4h6m-6-18h6m-5 15h6m-5-10h6m-5-7h6m-6-2h6m-5 20h6m-6-21h6m-4 2h6m-6 10h6m-5 0h6m-5-12h6m-4 9h6m-6 5h6m-6-24h6m-6 22h6m-4-1h6m-6-21h6m-4 6h6m-6 8h6m-5-2h6m-5 21h6m-5-23h6m-5 17h6m-6 9h6m-6-33h6m-5 6h6m-4 9h6m-6-11h6m-6 7h6m-5 5h6m-6 15h6m-5-13h6m-4-10h6m-5 25h6m-6-18h6m-5-4h6m-6-10h6m-5 33h6m-5-23h6m-5 23h6m-3-8h6m-6 0h6m-2-15h6m-2 22h6m-5-22h6m-1-14h6m15 31h6m-1-5h6m0 10h6m-5-33h6m-5 1h6m17-3h6m3 14h6m-2 8h6m-6-9h6m14 4h6m2-11h6m-4-4h6m-4 0h6m2 18h6m8 15h6m-5-37h6m-5 24h6m-5-13h6m-2 6h6m-5 16h6m-5-4h6m0 10h6m0-10h6m-5 9h6m-5-22h6m-6 0h6m-5 16h6m-3-28h6m-3 4h6m-6 25h6m-4-15h6m-6-10h6m-6 18h6m-6 9h6m-5-17h6m-6-4h6m-6 25h6m-5-20h6m-6 2h6m-5-3h6m-6-2h6m-5 19h6m-6-26h6m-6-4h6m-6-3h6m-5 15h6m-6 7h6m-6-21h6m-5 10h6m-5 1h6m-6 17h6m-6 0h6m-5 2h6m-6-28h6m-5 32h6m-6-34h6m-6 21h6m-4-7h6m-5 1h6m-6-1h6m-5-8h6m-5 21h6m-6-21h6m-5 19h6m-5-20h6m-5 18h6m-5 1h6m-6 10h6m-6-10h6m-5-3h6m-6-20h6m-6 22h6m-5-10h6m-5 4h6m-6-19h6m-6 25h6m-6-12h6m-6 17h6m-5-13h6m-6 15h6m-5-6h6m-6 3h6m-5-14h6m-6-9h6m-5 3h6m-5 3h6m-6 24h6m-6-30h6m-6 12h6m-5-18h6m-6 30h6m-6 6h6m-5-36h6m-6 34h6m-5-1h6m-6-29h6m-4-3h6m-6 16h6m-5 13h6m-6-25h6m-6 17h6m-6 12h6m-6-26h6m-5-5h6m-5 20h6m-6-24h6m-6 5h6m-5-3h6m-6 16h6m-6-3h6m-5-10h6m-6 5h6m-5 14h6m-5-9h6m-6-3h6m-6 13h6m-5-1h6m-6-17h6m-6-4h6m-6 9h6m-6-11h6m-5 29h6m-6-14h6m-6 12h6m-6-3h6m-6-22h6m-5 23h6m-6-26h6m-5 23h6m-6-23h6m-6 6h6m-5-2h6m-6 7h6m-6-7h6m-5 28h6m-6-5h6m-6 3h6m-6-26h6m-5 16h6m-5-18h6m-6 9h6m-6-3h6m-4 21h6m-5-14h6m-6-15h6m-5 24h6m-6-12h6m-6 18h6m-5-23h6m-5-5h6m-5 15h6m-5 0h6m-5 2h6m-6-17h6m-5 5h6m-6-4h6m-5 16h6m-6-1h6m-4-15h6m-5 28h6m-6-25h6m-4 29h6m-6-32h6m-1 9h6m-5 18h6m-6-20h6m2-6h6m-6 27h6m-5 8h6m-2-13h6m-5 10h6m-5-20h6m-6-15h6m-2-1h6m-3 30h6m-347 34h6m-5-8h6m-4-2h6m-4-8h6m-3 19h6m-6-1h6m-5 7h6m-5-20h6m-1 4h6m-1-11h6m-4 21h6m-4-14h6m-6-3h6m-2 10h6m-5-7h6m-5 9h6m-5 3h6m-5-23h6m-5 15h6m-4-4h6m-3-11h6m-5 4h6m-5 22h6m-6-13h6m-4 9h6m-5-8h6m-6-13h6m-5 26h6m-6 4h6m-6 1h6m-2 3h6m0 2h6m-3-6h6m-5-24h6m-5-6h6m-5 15h6m11-5h6m-2 14h6m-6-20h6m-5 27h6m-3 1h6m0-16h6m2 20h6m0 1h6m0-10h6m12 8h6m1-8h6m13-28h6m-2 5h6m15 34h6m-6-11h6m-2-4h6m1-6h6m-5-14h6m-5 7h6m-6-6h6m0 25h6m-4 9h6m-5-16h6m-6 15h6m-5-18h6m7-15h6m-6 22h6m-5-24h6m-5 28h6m-5 3h6m-1-18h6m-4 6h6m-3-6h6m-6-5h6m-3-1h6m-5-9h6m-5 4h6m-5 13h6m-6-10h6m-5 2h6m-4 23h6m-6-21h6m0 0h6m-5-1h6m-3 13h6m-5-7h6m-6-5h6m-6-1h6m-4 25h6m-6-36h6m-6 9h6m-5 12h6m-5 13h6m-4-15h6m-6 6h6m-5-10h6m-3-11h6m-5-2h6m-5 16h6m-6-10h6m-6 0h6m-5 17h6m-6-14h6m-5 1h6m-5-3h6m-5-7h6m-5 24h6m-6 3h6m-6-25h6m-5 7h6m-6-3h6m-5 7h6m-5-2h6m-5-8h6m-6 11h6m-5 12h6m-6 11h6m-5-23h6m-6 6h6m-5 3h6m-3 14h6m-5-10h6m-5-21h6m-5-1h6m-6 1h6m-4 31h6m-6-25h6m-6 16h6m-5-1h6m-6-29h6m-4 10h6m-2 0h6m-2-1h6m-5 18h6m-5-20h6m-6 32h6m-5-17h6m-3 6h6m-6-4h6m-2-4h6m-1-13h6m-6 28h6m-6-34h6m-5 30h6m-5-28h6m-3 3h6m-3 7h6m-6-3h6m-6-9h6m-4 14h6m-5-15h6m-3 2h6m-5 9h6m-5-6h6m-4-3h6m-2 29h6m-5-20h6m-1-7h6m-4 29h6m-3-8h6m-5-13h6m-3 15h6m8 10h6m0-1h6m8 3h6m-376 32h6m9-12h6m-6 14h6m-1-31h6m-2 7h6m-6-8h6m-4 18h6m-6 17h6m-5-15h6m-6 18h6m-5-3h6m-3-23h6m-4-11h6m-5 3h6m-3 25h6m-6-9h6m-3 10h6m-6-13h6m-1-10h6m-5 17h6m-6-15h6m-4 19h6m-4-15h6m-4-8h6m-6 5h6m-4 11h6m-3-5h6m-5 18h6m-5-14h6m1 12h6m-4-2h6m-1-14h6m0-12h6m8 10h6m-5 19h6m-5 3h6m-3 1h6m15-33h6m2 21h6m12-17h6m0 22h6m-1 7h6m-5-3h6m-5-8h6m-1-21h6m-5-4h6m-5 23h6m-5-20h6m0 12h6m-5-11h6m-4 19h6m-6-19h6m-5 0h6m-3-2h6m-5 34h6m-2-31h6m-6 25h6m-4-31h6m-5 34h6m4 0h6m-2 2h6m-3-37h6m-3 38h6m-3-24h6m-4-7h6m-3-3h6m-5 31h6m2-26h6m-2 30h6m-5-17h6m-4-17h6m-5 8h6m-6-6h6m-4 12h6m-5-19h6m-4 1h6m-4-1h6m-5 10h6m-5 3h6m-6 19h6m-6-29h6m-4 32h6m-1-15h6m-6 3h6m-3-7h6m-5-10h6m3 4h6m-4 10h6m-6-9h6m-1 5h6m-5-10h6m-5-4h6m-6 33h6m-5-10h6m-4 5h6m-5-8h6m-5-1h6m-5 0h6m-5-9h6m-6 1h6m-1-4h6m-5 16h6m-5-25h6m-3 17h6m-6-4h6m-5 7h6m-3 3h6m-6 4h6m-3-14h6m-6 14h6m-3-8h6m-5-4h6m-6-14h6m-5 15h6m-5 8h6m-5-18h6m-6 30h6m-4-33h6m-3 16h6m-6-3h6m-5-2h6m-5-9h6m-4 32h6m-2-36h6m-3 25h6m-6-5h6m-1-3h6m-5-7h6m-6 17h6m-5-16h6m-4 9h6m-3 18h6m1-12h6m1 7h6m37-30h6m-433 69h6m21-30h6m0 3h6m-2 16h6m-4-6h6m-1-12h6m-4 15h6m-6 7h6m-4-15h6m-5 14h6m6 13h6m-2-31h6m-4 4h6m-6 21h6m-3-5h6m-4-26h6m-6 18h6m-6-15h6m-5 10h6m-5-14h6m-6 16h6m-4-8h6m-5 0h6m-4 0h6m-3 24h6m-6-30h6m-3 11h6m-4-13h6m-5 15h6m-6 19h6m-5-34h6m-5 34h6m-3-13h6m-3-9h6m-2 4h6m-2 4h6m-4 1h6m-4 9h6m-4-1h6m1-3h6m-6-6h6m-1-15h6m-6 14h6m7 6h6m14-25h6m1 27h6m-1-22h6m0 23h6m-6-16h6m-3 27h6m-2-3h6m-3-1h6m1-20h6m-3 12h6m-1-11h6m-5 13h6m-6-11h6m-2-7h6m-5 27h6m-5-19h6m-5 4h6m-4 10h6m-2-19h6m-3-4h6m-6 1h6m-5-11h6m-5 30h6m-6 8h6m-3-23h6m-1 2h6m-5 14h6m4-15h6m-4 16h6m-3 7h6m-3-1h6m0-18h6m-1 10h6m8-16h6m-5 21h6m-5-14h6m-6-3h6m3 19h6m-5 2h6m9-26h6m-4 3h6m-5-10h6m-2 32h6m-2-18h6m-5 18h6m-4-21h6m-6 6h6m-2 16h6m-6-23h6m-6 10h6m-6-1h6m-5-4h6m-5-18h6m-4 33h6m-5-20h6m-5 15h6m-6-22h6m-4 1h6m-3 15h6m-6-19h6m-5 23h6m-4-14h6m2-6h6m-6 17h6m-6-22h6m-4 34h6m-4-21h6m-5-17h6m0 24h6m-5 0h6m-5 5h6m-5-11h6m-3-3h6m-6 23h6m-3-36h6m0 22h6m-2-12h6m-6-11h6m-4-1h6m-5 37h6m-2 0h6m-5-18h6m-1-14h6m-4-5h6m-367 72h6m8-9h6m-4 10h6m3-18h6m-3-2h6m-5 14h6m-2 9h6m-3-32h6m-5 2h6m-5 33h6m-5 0h6m-4-12h6m-4-3h6m-3 10h6m-6-23h6m-2-6h6m-5 8h6m-2-6h6m-6 22h6m-5 0h6m-6 10h6m-6-14h6m-5-22h6m-5 18h6m-5-15h6m-5 28h6m-1-33h6m-5 6h6m-5 5h6m-4 4h6m-5 12h6m-5-8h6m-6-16h6m-5 32h6m-3-24h6m2 10h6m-2 9h6m-5 7h6m-4-27h6m-5-5h6m-5 10h6m0-12h6m-3 29h6m3-6h6m-3-22h6m-4 8h6m-2-3h6m-1 22h6m0 6h6m-6-37h6m-5 6h6m-1-6h6m2 11h6m-5 26h6m-6-33h6m-1 28h6m-6-20h6m-1-3h6m-2 29h6m-4-23h6m-2 23h6m-1-11h6m-6 7h6m-5-30h6m6 23h6m-5-22h6m-6 22h6m2-5h6m4-14h6m2 11h6m-2-9h6m2 28h6m-3-15h6m4-20h6m17 32h6m-3-3h6m-5-7h6m-4-18h6m15-4h6m1-2h6m-5 35h6m-2-16h6m-3 0h6m-6-15h6m-5 15h6m-4-17h6m-5 1h6m-3 34h6m-6-34h6m-5 19h6m-6-10h6m-6 14h6m-1 11h6m-5-36h6m1 9h6m-4-7h6m-6 10h6m-5-7h6m1 8h6m-5-14h6m-5 12h6m-4-14h6m-6 37h6m-5-31h6m-3 7h6m0 15h6m-5-26h6m-3 23h6m-1 3h6m-4-9h6m-5 18h6m-6 0h6m-4-16h6m-354 39h6m7 13h6m-6-4h6m-5-7h6m-6-8h6m-6 2h6m-6 6h6m-6-3h6m-5 5h6m-5 12h6m-5-16h6m-6 9h6m-5 7h6m-6-33h6m-5 5h6m-6 23h6m-5-10h6m-5 9h6m-6-7h6m-6-8h6m-6 14h6m-5 8h6m-6-9h6m-5-5h6m-6-7h6m-5 8h6m-6 11h6m-5-20h6m-5-9h6m-5 26h6m-6 2h6m-5-9h6m-6-9h6m-5 12h6m-6 6h6m-5-31h6m-5 16h6m-3-9h6m-5 6h6m-6 14h6m-6-22h6m-6 12h6m-6 6h6m-5 11h6m-6-7h6m-6-2h6m-5-9h6m-5 19h6m-6-31h6m-6 20h6m-5-26h6m-6 16h6m-6-16h6m-5 7h6m-5 26h6m-6-19h6m-5 10h6m-6-2h6m-6 4h6m-6-11h6m-5 3h6m-6 16h6m-6-16h6m-5-4h6m-6 1h6m-5 5h6m-6-1h6m-6 13h6m-6-15h6m-5 11h6m-6-1h6m-6-13h6m-5 7h6m-6 12h6m-5-1h6m-6-7h6m-6 13h6m-5-17h6m-6 17h6m-5-20h6m-6-13h6m-6 4h6m-5 20h6m-5-10h6m-6 11h6m-5-3h6m-6-5h6m-5 15h6m-5-13h6m-6 8h6m-5-9h6m-5 11h6m-6 3h6m-5-17h6m-5 10h6m-6 7h6m-5-12h6m-6-8h6m-6 7h6m-6-22h6m-6 29h6m-5-15h6m-6-11h6m-5 33h6m-6-39h6m-5 38h6m-6-18h6m-6-6h6m-5 12h6m-6 10h6m-6 3h6m-6-20h6m-4 2h6m-6-21h6m-5 25h6m-6-24h6m-4 13h6m-5 11h6m-3 0h6m-6 10h6m-5-11h6m-5 6h6m-5 0h6m-6-19h6m-5 5h6m-5 9h6m-6-9h6m-6 3h6m-6-11h6m-5 5h6m-6 19h6m-6-15h6m-6-6h6m-4-6h6m-5 15h6m-4 18h6m-6-5h6m-5 0h6m-6-11h6m-4 14h6m-6-22h6m-6-1h6m-6 16h6m-5-18h6m-6-7h6m-6 14h6m-5-3h6m-6 20h6m-6 2h6m-4-20h6m-6-10h6m-6 9h6m-5 2h6m-5 10h6m-6-9h6m-6 9h6m-6-25h6m-6 10h6m-5 11h6m-6-12h6m-6 7h6m-4 7h6m-6 6h6m-5-20h6m-6 10h6m-5 14h6m-4-32h6m-5-1h6m-6 6h6m-4 25h6m-6-4h6m-6-6h6m-6-8h6m-5-9h6m-6 15h6m-5-6h6m-6 1h6m-5 9h6m-6-19h6m-6 23h6m-5-4h6m-6-5h6m-6 12h6m-5-3h6m-6-2h6m-4 0h6m-5 9h6m-5-5h6m-6-12h6m-6-18h6m-5 36h6m-5-18h6m-5 17h6m-5 1h6m-6-13h6m-5 14h6m-6-1h6m-5-26h6m-6 6h6m-5 0h6m-5 9h6m-6-6h6m-6 1h6m-6 14h6m-6-4h6m-5-5h6m-3-2h6m-5-14h6m-6 25h6m-5-10h6m-5-8h6m-5-5h6m-6-2h6m-5 8h6m-6-3h6m-5-9h6m-5 25h6m-6-1h6m-5-12h6m-5 5h6m-5-16h6m-6 16h6m-5 15h6m-6-17h6m-4 7h6m-4-10h6m-4 0h6m-6 10h6m-6 4h6m-6-1h6m-5-14h6m-6 4h6m-3-13h6m-6 13h6m-6 10h6m-5 6h6m-5-19h6m-5-12h6m-5 14h6m-5-19h6m-6 15h6m-6 22h6m-5-27h6m-5 3h6m-6 0h6m-5 1h6m-6 10h6m-6 4h6m-4-26h6m-6 11h6m-5 13h6m-6-1h6m-6 0h6m-5 3h6m-6-11h6m-6-16h6m-6 22h6m-6 2h6m-5-7h6m-5-3h6m-6-12h6m-6 12h6m-6 20h6m-6-18h6m-5-1h6m-6 14h6m-3 3h6m-5-7h6m-5-16h6m-6 6h6m-6 11h6m-6-13h6m-5 12h6m-6-21h6m-5 27h6m-6-18h6m-6 11h6m-4 5h6m-6 2h6m-6 4h6m-5-16h6m-6 10h6m-5-2h6m-6 3h6m-5-10h6m-6 13h6m-6-29h6m-4 32h6m-6-4h6m-3-9h6m-6 4h6m-4 2h6m-6-5h6m-5 2h6m-6-16h6m-6 8h6m-5-17h6m-6 17h6m-4 3h6m-6-14h6m-3 10h6m-6-5h6m-6 4h6m-5 8h6m-5 6h6m-6-3h6m-6-22h6m-5 13h6m-5 4h6m-4-6h6m-6-19h6m-5 24h6m-6-8h6m-6-9h6m-6 29h6m-6-7h6m-5-15h6m-6-4h6m-5 12h6m-5-4h6m-5-6h6m-4 4h6m-6-1h6m-5 9h6m-5 5h6m-5-26h6m-6 21h6m-6 3h6m-5-18h6m-5 9h6m-4 13h6m-4-9h6m-5-11h6m-6 26h6m-6-8h6m-6-16h6m-6-6h6m-5 14h6m-6 11h6m-5-8h6m-5 1h6m-6-10h6m-4 10h6m-6 7h6m-6-3h6m-6-16h6m-6 7h6m-4-9h6m-5 24h6m-6-5h6m-6-15h6m-5 1h6m-4 18h6m-5-9h6m-6-22h6m-6 16h6m-4 4h6m-6-20h6m-3 17h6m-6 17h6m-6-21h6m-5 15h6m-6-6h6m-6 4h6m-6-17h6m-5 10h6m-6-2h6m-6-8h6m-6 3h6m-6 14h6m-5-12h6m-6 1h6m-5 18h6m-4-5h6m-6-26h6m-5 25h6m-6-2h6m-4-28h6m-5 21h6m-6-12h6m-5 22h6m-6-20h6m-5 20h6m-4-24h6m-6 16h6m-6-12h6m-4 2h6m-4 15h6m-4-17h6m-5 17h6m-6-10h6m-6 8h6m-5 10h6m-6-7h6m-6 5h6m-5-11h6m-6 6h6m-5 8h6m-6-14h6m-4-9h6m-6-6h6m-4 14h6m-5-16h6m-6-2h6m-6 10h6m-5 8h6m-6 14h6m-5 1h6m-6-28h6m-6 8h6m-5 20h6m-6-25h6m-6-4h6m-5 18h6m-6 3h6m-3-6h6m-6 5h6m-3-4h6m-5 10h6m-5-3h6m-4-2h6m-6 2h6m-6-9h6m-5-18h6m-5 5h6m-6 27h6m-6-19h6m-3 6h6m-5 14h6m-5-16h6m-5 3h6m-6 1h6m-6-6h6m-5-2h6m-6 5h6m-6 0h6m-5 12h6m-6-29h6m-5 26h6m-5-6h6m-6 8h6m-5-14h6m-3 3h6m-6-6h6m-5-13h6m-5 34h6m-2-18h6m-5-7h6m-6-2h6m-5 26h6m-6 3h6m-4-22h6m-5-5h6m-5 4h6m-4-8h6m-5 22h6m-5-13h6m-6-2h6m-5 3h6m-4 10h6m-5-2h6m-3 2h6m-6-10h6m-4-10h6m-5-1h6m-6-7h6m-5 37h6m-6-2h6m-2-25h6m-5 9h6m-4 7h6m-6-21h6m-5 22h6m-5 1h6m-5-12h6m-6-10h6m-4 20h6m-5 0h6m-5-13h6m-6-13h6m-6 5h6m-5-3h6m-6 35h6m-5-12h6m-4 6h6m-6-6h6m-4-19h6m-2-2h6m-335 67h6m4-26h6m-6 2h6m-4 8h6m10 1h6m-4-15h6m-5 20h6m0-13h6m-5-8h6m-2 7h6m-3 1h6m-2-1h6m-5 18h6m-2-24h6m-4 19h6m0-11h6m-4 13h6m-3-11h6m-5-6h6m-3-5h6m-5 1h6m-3 6h6m-6-7h6m-4 1h6m-5 2h6m14 5h6m-6 2h6m-2-7h6m9 0h6m-2-2h6m-6 14h6m2-15h6m-3 4h6m-4 0h6m-5 32h6m-5-29h6m-4-4h6m-5 2h6m-4-3h6m-5 18h6m-6-13h6m-4 2h6m1-9h6m2 1h6m3 3h6m-6-3h6m-4 1h6m-4-1h6m-2 35h6m-1-31h6m9 28h6m0-28h6m-5 1h6m-2 0h6m9 29h6m0-30h6m-2-1h6m-1-4h6m-5 1h6m-2 1h6m-3 35h6m-3-22h6m-4-11h6m-6 32h6m-4-11h6m6-20h6m-1 27h6m0-29h6m-2 7h6m-5 3h6m-6 23h6m-4-8h6m-4-22h6m-5 0h6m4 6h6m-1 16h6m0-22h6m-5-4h6m-5 6h6m-2-2h6m-4-6h6m-3 32h6m-4 4h6m-6-33h6m-4 11h6m-3-10h6m-351 46h6m40-10h6m1 36h6m11-32h6m9 8h6m33 15h6m-1-27h6m0 20h6m-2 3h6m-6-3h6m-3-19h6m12 5h6m-2 12h6m6-8h6m-5-10h6m0 26h6m-4-13h6m-5-12h6m-4 32h6m-2-31h6m-1 10h6m1-11h6m-4 4h6m0-2h6m4 3h6m-6 24h6m-6 6h6m-2-9h6m-4-14h6m6-10h6m-3 32h6m1-30h6m-3 3h6m7 8h6m-3-15h6m3 10h6m3 25h6m1-22h6m-2 24h6m-2-38h6m-5 0h6m-4 20h6m-4-18h6m-2 20h6m-6 0h6m6 3h6m-2 14h6m-1-31h6m3 9h6m23-13h6m-309 48h6m49 9h6m4-14h6m-5-5h6m18 10h6m23-11h6m4 7h6m18 1h6m12-4h6m12 21h6m-3-14h6m-2 8h6m-4-8h6m0-3h6m10 7h6m17 19h6m6-35h6m-5 10h6m7 1h6m-259 63h6m75-31h6m3 31h6m133-34h6" stroke="#2f44c4" stroke-width="6" stroke-opacity=".36"/><ellipse cx="43" cy="19.8" rx="3.2" ry="2.2" fill="#4cc0a0" opacity="0.8" filter="url(#b1)" transform="rotate(-50 43 19.8)"/><ellipse cx="18.5" cy="20.5" rx="1.8" ry="2.6" fill="#4a98d0" opacity="0.45" filter="url(#b1)" transform="rotate(0 18.5 20.5)"/><ellipse cx="23.3" cy="46.4" rx="10.2" ry="2.2" fill="#5574d4" opacity="0.55" filter="url(#b06)" transform="rotate(-3 23.3 46.4)"/><ellipse cx="21.3" cy="46.4" rx="7.7" ry="1.9" fill="#3eb0c4" opacity="0.85" filter="url(#b06)" transform="rotate(-3 21.3 46.4)"/><ellipse cx="19.8" cy="46.4" rx="5.8" ry="1.6" fill="#5cc24e" opacity="1" filter="url(#b06)" transform="rotate(-3 19.8 46.4)"/><ellipse cx="17.1" cy="46.4" rx="2.3" ry="1.1" fill="#d6d23c" opacity="1" filter="url(#b06)" transform="rotate(-3 17.1 46.4)"/><ellipse cx="16.6" cy="46.4" rx="1.1" ry=".8" fill="#e8642a" opacity="1" filter="url(#b06)" transform="rotate(-3 16.6 46.4)"/><ellipse cx="16.7" cy="46.4" rx=".7" ry=".5" fill="#de2a1e" opacity="1" filter="url(#b06)" transform="rotate(-3 16.7 46.4)"/><line x1="23.2" y1="0" x2="23.2" y2="61.2" stroke="#5a5a5a" stroke-width="1"/><line x1="0" y1="43" x2="61.8" y2="43" stroke="#4a4a4a" stroke-width="1"/><text x="1.6" y="3.6" font-size="2.9" fill="#444">Q1</text><text x="1.6" y="6.6" font-size="2.9" fill="#444">6.91</text><text x="60.2" y="3.6" text-anchor="end" font-size="2.9" fill="#444">Q2</text><text x="60.2" y="6.6" text-anchor="end" font-size="2.9" fill="#444">22.2</text><text x="1.6" y="56.8" font-size="2.9" fill="#444">Q4</text><text x="1.6" y="59.8" font-size="2.9" fill="#444">61.9</text><text x="60.2" y="56.8" text-anchor="end" font-size="2.9" fill="#444">Q3</text><text x="60.2" y="59.8" text-anchor="end" font-size="2.9" fill="#444">9.84</text><path d="M-1.6 6.1h1.6M-1.6 20.3h1.6M-1.6 37.1h1.6M-1.6 46.2h1.6M-1.6 55.5h1.6M-.9 6.1h.9M-.9 9.5h.9M-.9 13h.9M-.9 16.4h.9M-.9 19.9h.9M-.9 23.3h.9M-.9 26.8h.9M-.9 30.2h.9M-.9 33.7h.9M-.9 37.1h.9M4.5 61.2v1.6M15.2 61.2v1.6M25.1 61.2v1.6M41.5 61.2v1.6M56.7 61.2v1.6M25.1 61.2v.9M28.6 61.2v.9M32.1 61.2v.9M35.6 61.2v.9M39.1 61.2v.9M42.7 61.2v.9M46.2 61.2v.9M49.7 61.2v.9M53.2 61.2v.9M56.7 61.2v.9" stroke="#333" stroke-width=".55"/><rect x="-1.1" y="45.7" width="1.2" height="2.8" fill="#111"/><rect x="12.4" y="61.2" width="3" height="1.1" fill="#111"/><text x="-2.3" y="7.1" font-size="2.8" fill="#555" text-anchor="end">10⁵</text><text x="-2.3" y="21.3" font-size="2.8" fill="#555" text-anchor="end">10⁴</text><text x="-2.3" y="38.1" font-size="2.8" fill="#555" text-anchor="end">10³</text><text x="-2.3" y="47.2" font-size="2.8" fill="#555" text-anchor="end">0</text><text x="-2.3" y="56.5" font-size="2.8" fill="#555" text-anchor="end">-10³</text><text x="4.5" y="66.1" font-size="2.8" fill="#555" text-anchor="middle">-10³</text><text x="15.2" y="66.1" font-size="2.8" fill="#555" text-anchor="middle">0</text><text x="25.1" y="66.1" font-size="2.8" fill="#555" text-anchor="middle">10³</text><text x="41.5" y="66.1" font-size="2.8" fill="#555" text-anchor="middle">10⁴</text><text x="56.7" y="66.1" font-size="2.8" fill="#555" text-anchor="middle">10⁵</text></g>
<g transform="translate(253 294.5)"><rect x="0" y="0" width="61.8" height="61.2" fill="#fff" stroke="#b8b8b8" stroke-width=".8"/><rect x="15" y="14" width="34" height="30" rx="5" fill="#aab4ea" opacity="0.07" filter="url(#b15)"/><path transform="scale(.1)" d="M224 64h6m-82 30h6m182 9h6m63 16h6m-6-3h6m-4-4h6m4-2h6m19 8h6m43-25h6m28 15h6m-369 44h6m-3-7h6m-2-21h6m-2 16h6m-5 4h6m-6-2h6m-1 14h6m-2-29h6m-5 26h6m-3-12h6m5 18h6m-4-6h6m-4-9h6m-6 15h6m-5-10h6m-4 1h6m-5-9h6m-1-2h6m-2 8h6m1 2h6m-6 0h6m6 3h6m-5-16h6m-2 14h6m-6 3h6m18 6h6m-2-17h6m6-4h6m-4 0h6m-5 5h6m0 0h6m-5 1h6m5 15h6m-2-2h6m-2-21h6m-3 12h6m-3 7h6m-2 4h6m-5-4h6m-5-22h6m0 1h6m-2 23h6m-6 1h6m-5-21h6m-5 20h6m-4-9h6m-4 4h6m-5-22h6m-5 9h6m-5 18h6m4-3h6m-5 3h6m-2-31h6m-4 21h6m-6 6h6m-5-21h6m-4 23h6m-5 2h6m-5-1h6m-6 1h6m-5 2h6m-5-39h6m-5 24h6m-4-14h6m-3 9h6m-6-4h6m-6 23h6m-4-35h6m-4 32h6m-5 0h6m-6-33h6m-4 29h6m-4-2h6m-6-13h6m-4 16h6m-5 0h6m-5-21h6m-6 23h6m-5 5h6m-6-2h6m-2-2h6m-6-7h6m-4 1h6m-6-8h6m-5 13h6m-5-12h6m-5 12h6m-5-5h6m-5-21h6m-4 0h6m-4 20h6m-5-4h6m-2 5h6m-5-9h6m-5 5h6m-6-22h6m-4 20h6m-6 4h6m-5 9h6m-5-32h6m-6 16h6m-5 4h6m-6-22h6m-5 0h6m-6 8h6m-5-2h6m-5 10h6m-3-14h6m-5 24h6m-6 9h6m-5-4h6m-6-9h6m-5-6h6m-5 12h6m-3-13h6m-4 0h6m-5 8h6m-5-9h6m-6-9h6m-3 19h6m-2-20h6m-5 9h6m-6-10h6m-6 21h6m-5-16h6m-4 1h6m-4 8h6m-6 15h6m-5 3h6m-6-24h6m-4 1h6m-3 8h6m-5 15h6m-3 1h6m-6-1h6m-5 2h6m-4-19h6m-6 15h6m-5-1h6m-5-25h6m-6 25h6m-5 4h6m-1-26h6m-3-2h6m-6 25h6m-2-23h6m-6-4h6m-5 18h6m-6-22h6m-5 33h6m-4-12h6m-1-13h6m-4 4h6m-5-6h6m-4 9h6m-4 8h6m-5 4h6m5 0h6m-5-30h6m6 19h6m25 16h6m-389 31h6m-5-14h6m2 26h6m-5-5h6m-6-12h6m-4-3h6m-6 12h6m-5-13h6m-5-12h6m-6 27h6m-6-6h6m-4-19h6m-5-7h6m-6 33h6m-6-19h6m-5-15h6m-6 14h6m-6 23h6m-5-23h6m-5-6h6m-5 19h6m-5-7h6m-6-10h6m-4 21h6m-6 6h6m-6-23h6m-6 0h6m-3 10h6m-6-6h6m-6 16h6m-5-10h6m-6-16h6m-5 30h6m-4-6h6m-3-10h6m-6 8h6m-5-13h6m-6-4h6m-6 13h6m-5 8h6m-6-10h6m-6-3h6m-4 0h6m-5 1h6m-6-11h6m-4 25h6m-5-7h6m-6-18h6m-5 28h6m-5-25h6m-5 5h6m-2 13h6m-4 7h6m-6-15h6m-6-15h6m-4 3h6m-6-4h6m-3 7h6m-3 14h6m-6-13h6m-1 13h6m-4-2h6m-4-13h6m-5-11h6m-5 1h6m-3 15h6m-2-5h6m-2 7h6m15 5h6m-5-3h6m16 11h6m-1-13h6m-6 2h6m5-12h6m-5 6h6m-5-3h6m-5 22h6m-2-4h6m-6-5h6m-4-8h6m-2 14h6m-5-6h6m-5-4h6m-6 16h6m-2-11h6m-5 5h6m-6-25h6m-5 3h6m-5-5h6m-5 10h6m-4 13h6m-6 4h6m-2-25h6m-5 11h6m-6-10h6m-5 6h6m-6 1h6m-5 9h6m-5 14h6m-4-16h6m-5-8h6m-3 14h6m-6-12h6m-4-14h6m-5 33h6m-5-5h6m-6-4h6m-6-13h6m-6 8h6m-3 14h6m-4 0h6m-5-24h6m-6 7h6m-5-2h6m-3 5h6m-5 2h6m-5 14h6m-5-9h6m-5-28h6m-5 35h6m-5-5h6m-5-12h6m-6-11h6m-5 2h6m-6 11h6m-6-16h6m-5 14h6m-5 12h6m-6-15h6m-5-8h6m-6 21h6m-5 7h6m-6-22h6m-5 16h6m-5-17h6m-6 13h6m-6 3h6m-6-17h6m-5 12h6m-6-16h6m-5 19h6m-6-24h6m-5 34h6m-6-28h6m-4 13h6m-6-15h6m-5 28h6m-6-29h6m-6 15h6m-6-11h6m-5 4h6m-6 11h6m-6 7h6m-5-14h6m-6-5h6m-6-13h6m-6 8h6m-5-5h6m-6 8h6m-5-4h6m-5 4h6m-6 4h6m-3-11h6m-6 11h6m-6 2h6m-5 14h6m-5-29h6m-6 12h6m-6-13h6m-5 9h6m-6-2h6m-6 7h6m-6 11h6m-5-2h6m-5-24h6m-6 13h6m-5 5h6m-6 16h6m-5 0h6m-5-9h6m-6 14h6m-6-26h6m-5-11h6m-5-1h6m-5 29h6m-6-4h6m-6-5h6m-3 12h6m-5-26h6m-6 20h6m-5-26h6m-6 33h6m-6-14h6m-4 12h6m-6-24h6m-3 15h6m-6-8h6m-6 8h6m-5 0h6m-6-4h6m-5 13h6m-5-19h6m-6-1h6m-5-4h6m-6-7h6m-6 35h6m-6-16h6m-4-10h6m-5-5h6m-5-1h6m-4 9h6m-5 8h6m-4-4h6m-6 10h6m-6 1h6m-5 5h6m-6-14h6m-6-7h6m-5 13h6m-6-15h6m-6 7h6m-5 5h6m-5-22h6m-6 33h6m-6-24h6m-5 3h6m-6-2h6m-6 16h6m-5-2h6m-6-1h6m-4 6h6m-6-2h6m-6 1h6m-5-28h6m-5 22h6m-6-21h6m-4 6h6m-6 25h6m-5-8h6m-6-9h6m-5 2h6m-6 0h6m-6-7h6m-1 11h6m-6 14h6m-6-21h6m-5-10h6m-6 1h6m-4 27h6m-5 7h6m-6-13h6m-4-9h6m-5 3h6m-6-7h6m-5-5h6m-6 16h6m-6-19h6m-5 6h6m-4 11h6m-4-18h6m-5 8h6m-5 21h6m-6-14h6m-5 13h6m-5 3h6m-6-2h6m-6-31h6m-5-2h6m-6 2h6m-5 13h6m-4-2h6m-6 23h6m-6-11h6m-5-3h6m-3 17h6m-6-27h6m-6 0h6m-5-6h6m0 3h6m-2 5h6m-4-8h6m-5-4h6m-5 15h6m-5 5h6m-6-13h6m-5 12h6m-3-18h6m-4 23h6m-3-2h6m-1-11h6m-4 4h6m-4 20h6m0-17h6m5 7h6m-6 6h6m4-22h6m-398 68h6m5-23h6m-6-5h6m0 11h6m-5-13h6m-4 26h6m-4-2h6m-1-17h6m-4 18h6m-6-30h6m-4 11h6m-3-10h6m-5 15h6m-5-10h6m-6 14h6m-5 0h6m-2-15h6m-5 27h6m-5-12h6m-6-2h6m-4 9h6m-5-26h6m-1 24h6m-6-15h6m-5 22h6m-5-8h6m-6-10h6m-5-6h6m-4-4h6m-5 1h6m-5-6h6m-5 8h6m-5 5h6m-5-3h6m-5 25h6m-6-27h6m-6-5h6m-4-3h6m-5-2h6m-4 36h6m-4-8h6m-6-23h6m-2-1h6m-6 22h6m-4-23h6m-5 17h6m-5 11h6m-4-9h6m-6 4h6m-1-11h6m-5 8h6m-2-6h6m-5 18h6m-5-3h6m-4-8h6m-5-19h6m-3 15h6m1 17h6m-4-12h6m-6 9h6m11-27h6m6 26h6m3-1h6m-5-17h6m-2-5h6m1 12h6m-6 15h6m-2-29h6m0-5h6m-2 35h6m-2-37h6m-2 18h6m-6-10h6m-6 15h6m4-8h6m-4-13h6m-5 3h6m-6 3h6m1 10h6m-6-17h6m-4 35h6m-5-29h6m-4 26h6m-6-24h6m-5-2h6m-4 19h6m-6-21h6m-2 13h6m-5 16h6m-4-28h6m-4 20h6m-6-21h6m-1 20h6m0 9h6m-1-36h6m-4 1h6m-5 16h6m-6 9h6m4-9h6m-2-12h6m-3-1h6m-6 7h6m-2-11h6m-5 29h6m-2-26h6m-5 22h6m-5-12h6m-2-10h6m-4 30h6m-3-20h6m0 19h6m-5 7h6m-6-3h6m-4 3h6m-3-27h6m-4-10h6m-5 11h6m-6 26h6m-4-15h6m-2-12h6m-5-1h6m-6-4h6m-5 1h6m6 23h6m-5-30h6m-2 16h6m-5-3h6m-6-14h6m3 11h6m-6-11h6m-3 21h6m-5-15h6m5 25h6m-6-14h6m-5 16h6m-4-31h6m-1 11h6m12 14h6m-5 6h6m11-23h6m-4 20h6m-363 35h6m-4-16h6m-4 23h6m-4-28h6m5 26h6m0-21h6m-6 17h6m-6-13h6m-5-8h6m-4 13h6m-5 14h6m-6-25h6m-4 32h6m-6-34h6m-3 20h6m-3 12h6m-5-10h6m-6-16h6m-4 7h6m-6 0h6m-4-2h6m-4-7h6m-6 7h6m-6-7h6m-4 30h6m-6-4h6m-5-8h6m-4-8h6m-4-2h6m-6 13h6m-5-26h6m-4 31h6m-6-8h6m-4-11h6m-2-1h6m-6 15h6m-4 7h6m-3-17h6m-5-11h6m-5 17h6m-4-8h6m-1 14h6m-3-16h6m-3-14h6m-2 34h6m-3-3h6m1-29h6m-5 1h6m-4 19h6m-6 10h6m1-3h6m33 3h6m-4 1h6m-2-35h6m-4 39h6m4-29h6m-6-5h6m1 28h6m-6 2h6m-5-7h6m-3-20h6m-4 22h6m-6-22h6m4-6h6m-6 24h6m-5-12h6m-1 21h6m0 0h6m-2-21h6m-4 18h6m-2-11h6m-5-9h6m-5 18h6m-5-10h6m-6-15h6m-1 16h6m-5-5h6m-6 9h6m-6-15h6m-2 18h6m-1 1h6m-5 1h6m-6-12h6m-2 6h6m-1 13h6m0 2h6m-1 0h6m-3-35h6m-4-2h6m-6 1h6m-3 32h6m-6-5h6m-4 7h6m-6-26h6m0-6h6m-4 18h6m-4-11h6m-6 4h6m-3 9h6m-3-21h6m2 28h6m-6-13h6m-4 6h6m-6-16h6m-5 18h6m-2-5h6m-2 0h6m-2-6h6m-2-7h6m-6 12h6m-5-11h6m-6 18h6m0-17h6m-3 17h6m-4-19h6m-4 21h6m-1 7h6m-5-7h6m-1 9h6m0-39h6m2 25h6m-6-15h6m-2 26h6m-355 29h6m-3-17h6m-2 20h6m-4 3h6m1 8h6m-2-9h6m-4-26h6m-5 10h6m-3 0h6m-3 13h6m-3 1h6m-5 6h6m-5-30h6m-5 13h6m-4-1h6m-5 14h6m-6-17h6m-5 3h6m-5 18h6m-6-28h6m-6 32h6m-5-32h6m-6 22h6m-6-12h6m0 11h6m-5-19h6m-4 25h6m-4-15h6m-5 12h6m-6 0h6m-5-24h6m-3-4h6m-4 2h6m-5 32h6m-6 1h6m-3-1h6m-3-27h6m-4 10h6m-4-18h6m-5 29h6m-4-2h6m-5 0h6m-6 11h6m-3-39h6m-3 38h6m-5-37h6m-1 17h6m0 8h6m-3 3h6m-1 6h6m-4 2h6m1-36h6m-3 29h6m-5-6h6m-4-1h6m-3-23h6m0 9h6m1-8h6m1 26h6m-5-14h6m5 5h6m-6 12h6m-2 8h6m-6 0h6m-1-28h6m8 27h6m-3-13h6m-5-22h6m-6 20h6m-5-8h6m9-2h6m-6 17h6m-5-14h6m-4 12h6m-2 6h6m-6-13h6m-5 5h6m-1-18h6m-6 18h6m10 6h6m0-6h6m-2 9h6m-4-8h6m-6 11h6m3-26h6m-1-3h6m-6 30h6m-5-13h6m-5-8h6m0-16h6m5 12h6m-4-12h6m-6 7h6m-6 0h6m-5 19h6m-3-3h6m-4 13h6m-6-4h6m-4 6h6m-6-7h6m-5-18h6m-4 2h6m-5-6h6m-3 10h6m-4-16h6m-4 21h6m-3 11h6m-5 2h6m-5-29h6m1 11h6m-6 6h6m-4 8h6m-5-23h6m1 1h6m-5 9h6m-4-17h6m-5 0h6m-6 34h6m-6-15h6m-5 13h6m-3-27h6m-5 18h6m-6-18h6m0 30h6m-6-22h6m-1 5h6m-4 14h6m-5-31h6m-6 13h6m-2 11h6m-5 10h6m-5-36h6m12 5h6m2-3h6m-382 55h6m2-12h6m-5 4h6m-3 25h6m-5 0h6m-3-14h6m-3-16h6m-5 0h6m-6 4h6m-5 8h6m-5 19h6m-5-19h6m-4-4h6m-6-15h6m0 32h6m-3-30h6m-6 26h6m-5 2h6m-6-25h6m-3 28h6m-4-8h6m-6-16h6m-4 28h6m-5-28h6m-6 12h6m-6 8h6m-4 9h6m-3 0h6m-4-19h6m-6 0h6m-5-15h6m-6 6h6m-4 3h6m-6 18h6m-5-14h6m-5-11h6m-4 5h6m-3 24h6m-5-3h6m-5-11h6m-6 6h6m-1 3h6m-6-15h6m-6 4h6m-5-9h6m-4-4h6m-6 3h6m-6 16h6m-5 3h6m-4-19h6m-6 23h6m-5-1h6m-5-18h6m-5 22h6m-5-16h6m-3-4h6m-5 10h6m-4-1h6m-3-3h6m-1 4h6m-4-12h6m-3 25h6m-2-21h6m-3-13h6m-4 23h6m1-14h6m-6 16h6m10-28h6m-1 27h6m-5-19h6m-5 6h6m-2 13h6m-5-20h6m0 26h6m-4-30h6m-5 20h6m-1-24h6m6 25h6m-5 9h6m-5-15h6m-5 5h6m-4-10h6m-2-11h6m-5 18h6m-6 17h6m-5-23h6m-2 24h6m-5-5h6m-6 5h6m5-31h6m3 3h6m-2 3h6m2 18h6m-5 7h6m-3-19h6m2 14h6m-1 3h6m-4-25h6m2 19h6m-6-31h6m2 14h6m0-6h6m-5 3h6m-3 14h6m-1-6h6m-4-8h6m-4-10h6m-5 1h6m-6 24h6m-3 8h6m-2 2h6m-1-19h6m-5-12h6m-3 25h6m-6-13h6m-6 1h6m-6-5h6m-5 5h6m-6 4h6m-6-16h6m-6 17h6m-2-3h6m-2-6h6m0 6h6m-5 16h6m-1-13h6m-4-4h6m-6-1h6m-3 3h6m-5-5h6m-6 10h6m-4-12h6m-5 0h6m-4 12h6m-4-12h6m-5-6h6m-1 14h6m-6-12h6m-3 4h6m-6-11h6m2 10h6m-3 4h6m-5-17h6m-2 9h6m-2 16h6m-1 2h6m-3 3h6m10-12h6m-369 26h6m-4-1h6m-6 20h6m-4-15h6m-2 7h6m-5 23h6m-5-5h6m-6-29h6m-5 7h6m-1-8h6m-6 9h6m-5-5h6m-5 15h6m-5 3h6m-6-22h6m-5 29h6m-5-18h6m-4-4h6m-6 14h6m-6-14h6m-4 19h6m-5-22h6m-6 19h6m-6-3h6m-5-15h6m-5-2h6m-6 30h6m-5-7h6m-6-13h6m-6-9h6m-5 10h6m-6 10h6m-6-4h6m-3 13h6m-6-13h6m-6 15h6m-5-5h6m-5-31h6m-5 4h6m-6-3h6m-5 31h6m-6-29h6m-5 17h6m-6-7h6m-5-5h6m-5 27h6m-4-10h6m-4 9h6m-6-36h6m-5 23h6m-6-16h6m-5 30h6m-5-15h6m-5 7h6m-6-3h6m-6-22h6m-6 15h6m-6 11h6m-5-22h6m-6 28h6m-5-32h6m-6 3h6m-6 22h6m-6-29h6m-6 29h6m-5-2h6m-5-18h6m-5 1h6m-5 26h6m-6-9h6m-6-19h6m-6 5h6m-6 26h6m-6-24h6m-5 11h6m-5-6h6m-6 14h6m-4-25h6m-5 6h6m-6 10h6m-4 3h6m-6-1h6m-6-10h6m-6 20h6m-4-6h6m-4-18h6m-4 22h6m-4-10h6m-6-6h6m-5-8h6m-4-7h6m-4 34h6m-6-23h6m-5 19h6m-5-15h6m-4-4h6m-2 23h6m-5-26h6m0 0h6m-1 13h6m-2-5h6m-4 18h6m-3-3h6m-6-18h6m-4 15h6m4-26h6m6-1h6m-4 28h6m-6-13h6m-4-13h6m-4 16h6m-4-11h6m-4 23h6m-4-20h6m-5-13h6m-3 28h6m-1 4h6m-3-20h6m-5 18h6m-3-11h6m-5 14h6m-5-26h6m-4 1h6m-5 13h6m-4-14h6m-6 24h6m9-21h6m-3 19h6m0 6h6m-3-26h6m-5 4h6m-3 23h6m1-21h6m1 11h6m-3-4h6m4 9h6m1-26h6m-5 19h6m3-22h6m-2 6h6m3 0h6m-3 23h6m-3 2h6m-4-6h6m-4-19h6m-5 29h6m-1-9h6m-4-25h6m-4 24h6m-3 1h6m-6 2h6m-4-31h6m-5 25h6m-3-20h6m-4-1h6m-5-2h6m3 20h6m-4-16h6m-4-5h6m-5 11h6m-6-4h6m-5 8h6m-5 14h6m-5-2h6m-6-1h6m-6-1h6m-3-20h6m-4 9h6m-6-13h6m-5-2h6m-4 31h6m-6-15h6m-5-3h6m-6 6h6m-3-11h6m-6 19h6m0-26h6m-3 25h6m-4-1h6m-4-18h6m-3-7h6m-5 3h6m-4 24h6m-2 10h6m-3-13h6m6-5h6m4 2h6m1-16h6m-375 70h6m-5-23h6m-3 11h6m-6-22h6m-4 30h6m-5-18h6m1 24h6m-5-36h6m-6 11h6m-5 4h6m-6 18h6m-5 1h6m-6-10h6m-6 1h6m-5-7h6m-5 1h6m-5 10h6m-6-12h6m-6 6h6m-5-25h6m-6 27h6m-6-7h6m-5 10h6m-6-8h6m-6-17h6m-6 11h6m-6 15h6m-5-19h6m-6 1h6m-5-5h6m-6 28h6m-6-15h6m-5 3h6m-6 1h6m-6 12h6m-6-34h6m-5 17h6m-6 8h6m-5-22h6m-5 27h6m-5-24h6m-5 11h6m-6 14h6m-5-18h6m-5 3h6m-6 7h6m-5 4h6m-6 9h6m-5-28h6m-4 24h6m-6-16h6m-6 1h6m-6 4h6m-6 6h6m-6-4h6m-5 8h6m-6-4h6m-6-5h6m-5 4h6m-5-13h6m-5 3h6m-6 16h6m-4-11h6m-6-10h6m-6 4h6m-6-15h6m-6 18h6m-5-6h6m-6 3h6m-6-18h6m-5 37h6m-6-33h6m-6-4h6m-4 37h6m-5-26h6m-5 22h6m-4-22h6m-6-11h6m-6 7h6m-6 3h6m-6 14h6m-6-17h6m-6 22h6m-5 6h6m-5-3h6m-6-13h6m-5-9h6m-5-10h6m-6 5h6m-6 8h6m-6 16h6m-6-6h6m-5-13h6m-6-8h6m-6 5h6m-5 30h6m-6-6h6m-5-14h6m-5-4h6m-6-4h6m-6 17h6m-6 6h6m-5 3h6m-6-28h6m-5-1h6m-5 27h6m-5 1h6m-6-20h6m-5-4h6m-5 8h6m-6-1h6m-5 0h6m-5 5h6m-6 11h6m-6-14h6m-6 5h6m-5-14h6m-5 13h6m-5-4h6m-6-7h6m-6-7h6m-5 13h6m-6-7h6m-5 8h6m-5 2h6m-6-10h6m-6 14h6m-6-4h6m-5-4h6m-6 1h6m-6 1h6m-6-2h6m-6 21h6m-5-19h6m-5 15h6m-6-23h6m-5 18h6m-6 1h6m-5-7h6m-6 8h6m-5 2h6m-6-22h6m-6 1h6m-6 6h6m-5 16h6m-6-32h6m-6 32h6m-4 3h6m-6-1h6m-5 0h6m-5-9h6m-5 3h6m-6 2h6m-6-15h6m-5-15h6m-6 22h6m-5 8h6m-6-7h6m-5-11h6m-6 0h6m-5 25h6m-5-15h6m-6-1h6m-6-12h6m-5 19h6m-6-18h6m-6-12h6m-5 9h6m-6 8h6m-6 21h6m-3-12h6m-6-10h6m-6-4h6m-5 20h6m-5-23h6m-5 28h6m-6-2h6m-6-11h6m-6-20h6m-5 32h6m-6-10h6m-5 13h6m-6-18h6m-6 2h6m-5-16h6m-5 15h6m-6 1h6m-6 9h6m-3-12h6m-3 16h6m-6-25h6m-6 18h6m-5-6h6m-6 7h6m-5-7h6m-6-12h6m-6 11h6m-5-13h6m-6 8h6m-6 2h6m-6-8h6m-6 4h6m-5-9h6m-6 5h6m-5 10h6m-5-12h6m-6 26h6m-6-3h6m-5-16h6m-5 18h6m-5 1h6m-6-35h6m-5 7h6m-6 24h6m-5 4h6m-6-18h6m-6 6h6m-5 4h6m-6-15h6m-6 9h6m-5-13h6m-6 12h6m-5 10h6m-6-4h6m-5-6h6m-6 18h6m-5-5h6m-5-10h6m-6 2h6m-5 4h6m-6-8h6m-4 5h6m-6 4h6m-5-2h6m-4-22h6m-6 26h6m-5-26h6m-6-6h6m-5 27h6m-6 10h6m-5-3h6m-6 0h6m-5-16h6m-6 18h6m-5-7h6m-5-13h6m-6-3h6m-5 1h6m-6-2h6m-6 5h6m-5 5h6m-6-1h6m-5-5h6m-6-2h6m-6 14h6m-5-27h6m-5 29h6m-6-3h6m-5-2h6m-4 4h6m-6 10h6m-5-15h6m-6-1h6m-6-2h6m-5-9h6m-4 11h6m-6 7h6m-4-5h6m-6-2h6m-6-12h6m-6 7h6m-5 19h6m-6-27h6m-5 28h6m-5-7h6m-4-29h6m-5 14h6m-6 0h6m-4 1h6m-6 14h6m-5 8h6m-5-13h6m-6-20h6m-6-4h6m-5 10h6m-6 20h6m-6 7h6m-6-16h6m-6 8h6m-4-28h6m-6 35h6m-5-4h6m-6-2h6m-5-15h6m-6-13h6m-6 7h6m-6 23h6m-4-24h6m-3-1h6m-6 22h6m-6-16h6m-5-1h6m-4 10h6m-6 11h6m-6-15h6m-5-17h6m-6 33h6m-6-24h6m-4 26h6m-5-16h6m-5 12h6m-6-1h6m-6 2h6m-6-7h6m-5-2h6m-6 6h6m-5-24h6m-6 3h6m-5-9h6m-5 14h6m-5 7h6m-6-4h6m-5-4h6m-6 14h6m-6 8h6m-5-19h6m-5 10h6m-6-13h6m-5-5h6m-6 13h6m-6-15h6m-5 31h6m-5-6h6m-6-21h6m-5 0h6m-6 9h6m-6 9h6m-3-3h6m-5 3h6m-5-3h6m-4 2h6m-6-3h6m-2 8h6m-5-3h6m-6-17h6m-5-3h6m-6 6h6m-6 15h6m-5-6h6m-6 0h6m-6 9h6m-5-26h6m-6 25h6m-6 3h6m-6-29h6m-6 18h6m-6 10h6m-6-1h6m-5-25h6m-5 6h6m-4 13h6m-6-22h6m-6 31h6m-5-11h6m-6-19h6m-6 19h6m1 8h6m-6-34h6m-3 10h6m-3-2h6m-5 20h6m-6-4h6m-5-7h6m-6-16h6m-5 16h6m-6 17h6m-5-5h6m-5-2h6m-5 1h6m-6-28h6m-6 21h6m-6-4h6m-6 1h6m-5 7h6m-5 0h6m-6-22h6m-5 24h6m-5 2h6m-6 2h6m-4 6h6m-5-2h6m-2-31h6m-5 24h6m-3 3h6m-6-28h6m-5 29h6m-6-16h6m-5 18h6m-6-16h6m-5-1h6m-6-2h6m-6-1h6m-5 13h6m-5 8h6m-6-30h6m-5 27h6m-3-28h6m-5 9h6m-5 14h6m-5-13h6m-5-7h6m-2-5h6m-5 21h6m-5 0h6m-5-11h6m-5 4h6m-4 6h6m-6-15h6m-5 28h6m-3-20h6m-6 13h6m-6-16h6m-6-11h6m-5 23h6m-6-10h6m-6 6h6m-5 18h6m-6-17h6m-4-18h6m-5 22h6m-6-12h6m-6-9h6m-5 1h6m-6 31h6m-6-18h6m-3 17h6m-6 0h6m-6 1h6m-6-19h6m-5 1h6m-6 8h6m-6-2h6m-4 4h6m-6-4h6m-5-22h6m-5 21h6m-6 5h6m-6-15h6m-6-9h6m-5 15h6m-6-16h6m-6 25h6m-6 7h6m-6-29h6m-5 8h6m-5-13h6m-5 21h6m-4-4h6m-6 0h6m-5-1h6m-6-15h6m-3 21h6m-5-23h6m-6 18h6m-6-8h6m-3 9h6m-5-3h6m-6 19h6m-6-36h6m-5 22h6m-1 9h6m-6-29h6m-4 13h6m-6-10h6m-5 26h6m-6-7h6m-6 12h6m-6-31h6m-5 10h6m-6 21h6m-6-33h6m-4 24h6m-6-3h6m-6-13h6m-3 27h6m-6-9h6m-6-7h6m-5-10h6m-6 14h6m-5-6h6m-5 2h6m-6-20h6m-5 9h6m-5 14h6m-5-21h6m-6 23h6m-5-6h6m-6 7h6m-5-15h6m-5 16h6m-5 3h6m-6-30h6m-5 35h6m-3-33h6m-5 17h6m-5 9h6m-5-13h6m-6-5h6m-6 23h6m-4-22h6m-1-11h6m-4 15h6m-6-1h6m-2-6h6m0 0h6m-352 52h6m-4 2h6m2-19h6m-5-1h6m-2 0h6m-3-3h6m-5 0h6m-4-1h6m-5 7h6m-6-7h6m-4 9h6m-4-4h6m-6 9h6m-4 6h6m-2-9h6m-3-2h6m-5-9h6m-6 5h6m-5 19h6m-6-14h6m-3 28h6m-6-38h6m-2 6h6m-4-4h6m-5-1h6m-4 6h6m-6 4h6m-1-7h6m-5 4h6m-5 1h6m-4-7h6m-6 5h6m-4 14h6m-6 4h6m-6-11h6m-4 24h6m-5-29h6m-5-6h6m-4-3h6m-6 26h6m-4-14h6m-3-10h6m-4 5h6m-5-5h6m-4 7h6m-4 19h6m-5-13h6m-4-9h6m13-6h6m-5 1h6m-2 4h6m-5-4h6m-6 4h6m-5 8h6m-6-6h6m6-5h6m10 1h6m-6 11h6m-5-11h6m-4 26h6m-5-24h6m-1-3h6m-4-2h6m-4 5h6m3-5h6m-6 36h6m0-35h6m-3 1h6m-5 4h6m6-3h6m-3-3h6m1 4h6m-3 34h6m0-38h6m-3 3h6m-6 10h6m5-13h6m4 0h6m-3 11h6m1 19h6m1-28h6m14 23h6m-4-20h6m-6-4h6m-2 3h6m7-2h6m-5 37h6m-5-6h6m-2-30h6m-5 6h6m3-9h6m-3 39h6m-4-22h6m-3-15h6m-4 34h6m-3-32h6m-6-1h6m0 0h6m-2-3h6m-4 1h6m-2 1h6m0 12h6m-1 9h6m-312 37h6m4 14h6m-6-25h6m-1 27h6m12-32h6m18 6h6m11-8h6m11 2h6m30 13h6m-4 11h6m-4 11h6m1-21h6m4-11h6m4-2h6m1 31h6m-2-8h6m1-3h6m-5-24h6m-5 33h6m-5-19h6m-6-10h6m2-5h6m-1 14h6m-2 4h6m-5 8h6m-2 3h6m-4-20h6m-3 3h6m21 3h6m2-11h6m-3 28h6m-2-30h6m-4 7h6m-5-3h6m-5 33h6m-5-24h6m-6-13h6m-4 16h6m2-1h6m-4 13h6m-5-17h6m6 18h6m-2-6h6m-4-14h6m-3-6h6m-3 15h6m-1-10h6m-6-5h6m-4 0h6m-4-3h6m-6-2h6m-6 6h6m-5 19h6m0 13h6m-335 40h6m13-11h6m70-22h6m58 16h6m31 8h6m15-28h6m12 2h6m-2 12h6m-6-10h6m-4-5h6m18 8h6m13-5h6m5-1h6m10 0h6m-282 55h6m14-17h6m98 27h6m3 4h6m19-4h6m19-3h6m17 9h6m22-29h6m16 25h6m10 8h6m-169 4h6m-2 3h6" stroke="#2f44c4" stroke-width="6" stroke-opacity=".36"/><ellipse cx="39" cy="17" rx="4.5" ry="1.8" fill="#4a90d0" opacity="0.5" filter="url(#b1)" transform="rotate(-20 39 17)"/><ellipse cx="21.5" cy="45.6" rx="8.7" ry="3.1" fill="#5574d4" opacity="0.55" filter="url(#b06)" transform="rotate(-10 21.5 45.6)"/><ellipse cx="19.7" cy="45.6" rx="6.5" ry="2.6" fill="#3eb0c4" opacity="0.85" filter="url(#b06)" transform="rotate(-10 19.7 45.6)"/><ellipse cx="18.4" cy="45.6" rx="4.9" ry="2.2" fill="#5cc24e" opacity="1" filter="url(#b06)" transform="rotate(-10 18.4 45.6)"/><ellipse cx="16.2" cy="45.6" rx="2" ry="1.6" fill="#d6d23c" opacity="1" filter="url(#b06)" transform="rotate(-10 16.2 45.6)"/><ellipse cx="15.7" cy="45.6" rx=".9" ry="1.1" fill="#e8642a" opacity="1" filter="url(#b06)" transform="rotate(-10 15.7 45.6)"/><ellipse cx="15.8" cy="45.6" rx=".6" ry=".8" fill="#de2a1e" opacity="1" filter="url(#b06)" transform="rotate(-10 15.8 45.6)"/><line x1="23.5" y1="0" x2="23.5" y2="61.2" stroke="#5a5a5a" stroke-width="1"/><line x1="0" y1="43" x2="61.8" y2="43" stroke="#4a4a4a" stroke-width="1"/><text x="1.6" y="3.6" font-size="2.9" fill="#444">Q1</text><text x="1.6" y="6.6" font-size="2.9" fill="#444">14.2</text><text x="60.2" y="3.6" text-anchor="end" font-size="2.9" fill="#444">Q2</text><text x="60.2" y="6.6" text-anchor="end" font-size="2.9" fill="#444">25.2</text><text x="1.6" y="56.8" font-size="2.9" fill="#444">Q4</text><text x="1.6" y="59.8" font-size="2.9" fill="#444">58.6</text><text x="60.2" y="56.8" text-anchor="end" font-size="2.9" fill="#444">Q3</text><text x="60.2" y="59.8" text-anchor="end" font-size="2.9" fill="#444">6.97</text><path d="M-1.6 6.1h1.6M-1.6 20.3h1.6M-1.6 37.1h1.6M-1.6 46.2h1.6M-1.6 55.5h1.6M-.9 6.1h.9M-.9 9.5h.9M-.9 13h.9M-.9 16.4h.9M-.9 19.9h.9M-.9 23.3h.9M-.9 26.8h.9M-.9 30.2h.9M-.9 33.7h.9M-.9 37.1h.9M4.5 61.2v1.6M15.2 61.2v1.6M25.1 61.2v1.6M41.5 61.2v1.6M56.7 61.2v1.6M25.1 61.2v.9M28.6 61.2v.9M32.1 61.2v.9M35.6 61.2v.9M39.1 61.2v.9M42.7 61.2v.9M46.2 61.2v.9M49.7 61.2v.9M53.2 61.2v.9M56.7 61.2v.9" stroke="#333" stroke-width=".55"/><rect x="-1.1" y="45.7" width="1.2" height="2.8" fill="#111"/><rect x="12.4" y="61.2" width="3" height="1.1" fill="#111"/><text x="-2.3" y="7.1" font-size="2.8" fill="#555" text-anchor="end">10⁵</text><text x="-2.3" y="21.3" font-size="2.8" fill="#555" text-anchor="end">10⁴</text><text x="-2.3" y="38.1" font-size="2.8" fill="#555" text-anchor="end">10³</text><text x="-2.3" y="47.2" font-size="2.8" fill="#555" text-anchor="end">0</text><text x="-2.3" y="56.5" font-size="2.8" fill="#555" text-anchor="end">-10³</text><text x="4.5" y="66.1" font-size="2.8" fill="#555" text-anchor="middle">-10³</text><text x="15.2" y="66.1" font-size="2.8" fill="#555" text-anchor="middle">0</text><text x="25.1" y="66.1" font-size="2.8" fill="#555" text-anchor="middle">10³</text><text x="41.5" y="66.1" font-size="2.8" fill="#555" text-anchor="middle">10⁴</text><text x="56.7" y="66.1" font-size="2.8" fill="#555" text-anchor="middle">10⁵</text></g>
<g transform="translate(43.5 368.4)"><rect x="0" y="0" width="61.8" height="61.2" fill="#fff" stroke="#b8b8b8" stroke-width=".8"/><rect x="15" y="14" width="34" height="30" rx="5" fill="#aab4ea" opacity="0.07" filter="url(#b15)"/><path transform="scale(.1)" d="M178 37h6m288 42h6m-315 21h6m22 3h6m16-14h6m232 16h6m-1 12h6m25-3h6m-337 10h6m5-1h6m-2 31h6m-2-28h6m16 19h6m4-1h6m-4-9h6m13 3h6m5 10h6m-3-10h6m14 3h6m-4-8h6m-2-2h6m16-3h6m-5 13h6m12 10h6m12-5h6m5 6h6m0-14h6m6-3h6m32 22h6m0-5h6m-6 0h6m8-2h6m1 0h6m-5 9h6m-3-36h6m-4 36h6m-4-1h6m-5-6h6m-6 5h6m-3 2h6m-5-7h6m-6 2h6m-5 5h6m-6-9h6m-3-5h6m-6-13h6m-4 12h6m-3-1h6m-4 16h6m-4-5h6m-5-3h6m-5 4h6m-5 1h6m-5-7h6m-5-3h6m-6 4h6m3 0h6m-4-10h6m-6 18h6m-5-21h6m-4 14h6m-4 4h6m-4-3h6m-5 5h6m-2-1h6m-5 3h6m-6-34h6m-5 5h6m-6-3h6m-5 4h6m-5 19h6m-5 3h6m0-14h6m4-12h6m-5 20h6m-3-21h6m2-1h6m8 33h6m-390 26h6m6-9h6m-3 2h6m6-14h6m-6 9h6m-3-5h6m0-3h6m-5 30h6m-5 4h6m0-29h6m-3 16h6m6-6h6m-5 11h6m-5-15h6m-3-15h6m-6 26h6m-4 12h6m-5 1h6m-5-20h6m-6 12h6m-6 5h6m-5-5h6m-4 0h6m-5 4h6m-5 2h6m-5-14h6m-5-1h6m-5-13h6m-1 28h6m-4-9h6m-6-3h6m-5 13h6m-3-5h6m-4 3h6m-5-33h6m-5 27h6m1 5h6m-4-17h6m17 6h6m11-11h6m15 8h6m3 12h6m-4-26h6m6 29h6m-1-21h6m-1 9h6m22-8h6m-2 16h6m-3-17h6m-2 8h6m-2 12h6m-4-35h6m-3 2h6m-5 36h6m-4 1h6m-3-37h6m2 36h6m-5-13h6m-5 0h6m-4 0h6m-5 8h6m-4 1h6m-6-2h6m-4-1h6m-5-5h6m-5 10h6m-6-3h6m-6-8h6m-5-7h6m-6 18h6m-6-23h6m-6 9h6m-6 13h6m-5-9h6m-6 2h6m-5-2h6m-6-19h6m-5 21h6m-6-22h6m-5 28h6m-5 5h6m-6-2h6m-6-3h6m-6-2h6m-6 5h6m-5-9h6m-6-1h6m-5-9h6m-6 10h6m-5 2h6m-6-3h6m-6-11h6m-5-7h6m-6 6h6m-6 6h6m-6-16h6m-6 17h6m-4 3h6m-6 3h6m-6-19h6m-6 10h6m-6-2h6m-5 14h6m-6-24h6m-5 20h6m-6-2h6m-5-13h6m-6-5h6m-3 31h6m-5-6h6m-5-1h6m-5-20h6m-6 20h6m-5-3h6m-6-6h6m-6 11h6m-6-19h6m-6 14h6m-5-13h6m-6 18h6m-6 5h6m-6 0h6m-6-9h6m-5-19h6m-6 19h6m-5-6h6m-5 11h6m-6-16h6m-5-18h6m-6 9h6m-6 13h6m-6 8h6m-5-20h6m-6 17h6m-6 11h6m-6-6h6m-6-3h6m-5 5h6m-6-10h6m-6-2h6m-6 0h6m-5-18h6m-5 16h6m-6-17h6m-5 29h6m-6-19h6m-6-7h6m-5 0h6m-6 9h6m-5 13h6m-6-3h6m-6-17h6m-5 5h6m-6-11h6m-5 29h6m-5-27h6m-5 15h6m-5-14h6m-6 27h6m-5-2h6m-6-9h6m-5-4h6m-5-8h6m-6 7h6m-5 10h6m-5-26h6m-6 20h6m-6-6h6m-6 2h6m-5 10h6m-6 10h6m-4-14h6m-5-3h6m-6 1h6m-4-11h6m-6 9h6m-5-8h6m-6-3h6m-6 2h6m-5-9h6m-6 7h6m-2 17h6m-5-5h6m-6 0h6m-5-19h6m-5 12h6m-5 20h6m-6-23h6m-5 7h6m-4 16h6m-6-12h6m-5-19h6m-4 29h6m-5-27h6m-5 9h6m-5-3h6m-6 30h6m-6-22h6m-5 13h6m-2-17h6m-5 4h6m-3 19h6m-3-26h6m-4-1h6m-3 18h6m1 1h6m-415 48h6m42-34h6m19 6h6m-3 25h6m-3-5h6m-5 9h6m-3-7h6m-5-17h6m-1 15h6m-5-18h6m-6 21h6m-4-28h6m-2 29h6m-4-12h6m-5 2h6m-6-8h6m-4-1h6m-4-8h6m-3 26h6m-6 1h6m-5-18h6m-6 1h6m-5 14h6m-5-21h6m-6 18h6m-5-18h6m-6 15h6m-6-1h6m-6 1h6m-5-9h6m-6 19h6m-5-32h6m-5 8h6m-6 4h6m-5-12h6m-5 30h6m-6-29h6m-6 7h6m-6-2h6m-6 6h6m-5 1h6m-5 7h6m-5-2h6m-6 5h6m-6 4h6m-5-17h6m-6 9h6m-6 1h6m-6 9h6m-6-23h6m-5 31h6m-5-5h6m-6-29h6m-5 30h6m-5-10h6m-5-17h6m-6 11h6m-5-8h6m-5 6h6m-4 9h6m-5-16h6m-5 11h6m-6-6h6m-4 4h6m-5-7h6m-6 4h6m-5 2h6m-6 16h6m-6-21h6m-5 24h6m-4-7h6m-6-21h6m-5-2h6m-6 13h6m-3-15h6m-5 15h6m-5 12h6m7 4h6m-4-7h6m6-2h6m15-8h6m-5-3h6m17-7h6m6 6h6m7 16h6m-6-4h6m9 8h6m-4 3h6m-5-1h6m-6-2h6m-2-4h6m-1 5h6m-3-7h6m-2-3h6m2-11h6m-4 19h6m-4-25h6m-6 29h6m-3-30h6m0 28h6m-5-33h6m-6 20h6m-5 12h6m-6-17h6m-5-17h6m-6 36h6m-6-19h6m-6 15h6m-6-6h6m-6 7h6m-4-5h6m-6-12h6m-6 21h6m-5-23h6m-5 6h6m-6 11h6m-5-13h6m-6-11h6m-6 7h6m-5 18h6m-6 3h6m-6-25h6m-5 16h6m-5-4h6m-6-14h6m-5 9h6m-6 2h6m-4 14h6m-6-33h6m-6 5h6m-5 3h6m-6 12h6m-6 1h6m-6-18h6m-6 17h6m-5 17h6m-6-32h6m-5 22h6m-6-10h6m-6-13h6m-6 15h6m-6 16h6m-5-26h6m-5 27h6m-5-27h6m-6-2h6m-6 7h6m-6-1h6m-5 8h6m-5-21h6m-6 21h6m-6 4h6m-5 12h6m-6-8h6m-5-13h6m-5 5h6m-6-15h6m-6 8h6m-5-10h6m-5 10h6m-6 13h6m-6-11h6m-5 16h6m-6-29h6m-6-3h6m-6 2h6m-5 33h6m-5-10h6m-6-15h6m-6 9h6m-5-5h6m-6-5h6m-6-4h6m-5-1h6m-6 22h6m-5-21h6m-6-2h6m-6 6h6m-5 16h6m-6-7h6m-5 5h6m-6-20h6m-6 7h6m-6 14h6m-5-15h6m-6 10h6m-6-12h6m-6 6h6m-5 0h6m-6-10h6m-5 24h6m-6-24h6m-5 8h6m-5-11h6m-4 12h6m-5 13h6m-2-8h6m-6-16h6m-5 28h6m-5 6h6m-6-8h6m-6-22h6m-6 12h6m-5-1h6m-6-9h6m-5 17h6m-6-21h6m-6 12h6m-5-11h6m-5 4h6m-6 7h6m-6 10h6m-1-23h6m-5 10h6m-5-2h6m-6 0h6m-5-7h6m-6 15h6m-4 6h6m-5 8h6m-4-22h6m-5 5h6m-5 8h6m-2-13h6m-3-3h6m-2 5h6m-5-3h6m-5-6h6m-4-1h6m-1 34h6m-6 1h6m1-19h6m-4 14h6m-364 26h6m7 9h6m-4-3h6m1 6h6m4 4h6m-5-15h6m-6 12h6m-5-24h6m-3 2h6m-5 6h6m-5 20h6m-6-7h6m-1-18h6m-6 26h6m-2-32h6m-6 13h6m-1 8h6m-5-22h6m-5 32h6m-1-3h6m-5-24h6m-6-8h6m-5 34h6m-4-33h6m-6 11h6m-4 24h6m-4-2h6m-6-24h6m-5-9h6m-4 0h6m-5 19h6m-5 7h6m-6-19h6m-5-6h6m-5 31h6m-6 1h6m-4-31h6m-3-1h6m-5 8h6m-6 7h6m-5 17h6m-5-11h6m-5-21h6m-5 25h6m-5-22h6m-5 1h6m-5 15h6m-6-21h6m-5 22h6m-4-21h6m-6 0h6m-4 8h6m-5 28h6m-3-33h6m-2 15h6m-4 15h6m15-23h6m-5-5h6m4 1h6m17 24h6m9-21h6m-5-8h6m-6 35h6m-5-12h6m-4-1h6m8 0h6m5-10h6m-1 1h6m6-12h6m1 13h6m-4-8h6m-4-5h6m-5 18h6m-4-19h6m-2 33h6m-3-5h6m-4-17h6m-3 0h6m-5 17h6m-5-29h6m-4 23h6m-5 6h6m-5-17h6m-5 3h6m-4 1h6m-6-5h6m-5 7h6m-5-9h6m-5-7h6m-3 14h6m-6-4h6m-5 20h6m-5 3h6m-6-29h6m-4 25h6m-6-32h6m-5 1h6m-5-1h6m-3 2h6m-5-1h6m-6 2h6m-5 3h6m-6 16h6m-4 11h6m-6-19h6m-5-9h6m-5 19h6m-4-19h6m-6 2h6m-4 5h6m-6 1h6m-6 26h6m-5-26h6m-4-7h6m-6 9h6m-4 11h6m-1-17h6m-5-7h6m-5 23h6m-6-16h6m-5-8h6m-3 37h6m-4-38h6m-4 20h6m-5 5h6m-3-23h6m-6-1h6m-4 38h6m-5-4h6m-6-33h6m-5 18h6m-6-2h6m-5-11h6m-5 21h6m-6-17h6m-6 16h6m-6-22h6m-1 2h6m-5 21h6m-4-16h6m-3 26h6m-3-11h6m-6 5h6m-6-1h6m-5 2h6m5-25h6m-3 29h6m-4-8h6m-1 4h6m-6-13h6m3-12h6m-6 12h6m-2-1h6m0-12h6m-354 42h6m0 3h6m-6 0h6m-6 13h6m-4-10h6m-3 11h6m1-25h6m-4 24h6m-4-15h6m-5 24h6m-6-24h6m-5-5h6m-4 19h6m-6-14h6m-5-2h6m-5 18h6m-3 5h6m0-9h6m-6-12h6m-1 11h6m-5 9h6m-5 2h6m-5 7h6m-5-10h6m-4-5h6m-5-18h6m4-3h6m-6 2h6m-5 31h6m-6-18h6m-6-5h6m-5 3h6m-5-13h6m-4 34h6m-4-7h6m-5-23h6m-6 22h6m-4-11h6m-6-13h6m-1 1h6m3 12h6m-3 12h6m-5-5h6m-6 14h6m3-22h6m19-16h6m3 32h6m-1-17h6m0 11h6m-2-4h6m-2 1h6m2-18h6m10 21h6m-5 12h6m-4-33h6m-3 1h6m-3 20h6m-5-13h6m-3-1h6m-5 2h6m2-9h6m-2 26h6m-4-21h6m-5-9h6m-4 32h6m-5 4h6m-4-32h6m0 32h6m-3-18h6m-5 14h6m-5-3h6m-5 0h6m-6-29h6m-3 6h6m-5 2h6m-4 6h6m-3 23h6m-6-37h6m-3 24h6m2-16h6m-5-2h6m-6-5h6m-6 0h6m-6-2h6m2 3h6m-3 17h6m-3-10h6m-6-11h6m-5 12h6m-5 23h6m-5-34h6m-5 31h6m-6-26h6m-5 10h6m-4-4h6m-5 9h6m-4-3h6m-5-4h6m-6 7h6m-5 8h6m-2-10h6m1-15h6m-6 3h6m-5 12h6m-4 10h6m-4-1h6m-2-1h6m-4 8h6m-6-12h6m-5-14h6m-6 7h6m-6 21h6m-4-15h6m-6-8h6m-1 12h6m-6-8h6m-3-15h6m-4 31h6m-3-20h6m-2 9h6m-6-5h6m-5-6h6m-5 2h6m-5 2h6m-5-16h6m-5 27h6m-5-4h6m-6-1h6m-5 3h6m-6-2h6m-4-3h6m-4-13h6m-6 23h6m-4-10h6m-5-14h6m-5 23h6m0-29h6m-4 18h6m-3 19h6m0-20h6m-5-13h6m2 31h6m25-18h6m-385 37h6m-2 20h6m-4-4h6m0-15h6m0-14h6m-2 18h6m-5-12h6m-5 10h6m1-11h6m-2 10h6m-5 23h6m-6-13h6m-4-22h6m-5 34h6m-5-36h6m-6 8h6m-5 20h6m-3-20h6m-6 18h6m-4 6h6m-6-24h6m-3 17h6m-6 3h6m-5 2h6m-5-30h6m0 2h6m-4-3h6m-4 20h6m-6-9h6m-5 16h6m-4-16h6m-4-10h6m-3-1h6m-3 8h6m-6-7h6m-3 27h6m-4-1h6m-5-22h6m-6 20h6m-1 3h6m4-25h6m1 26h6m2-21h6m-3 12h6m4 10h6m-2-9h6m-4 4h6m1-22h6m-5 2h6m-5-1h6m0 20h6m-4-15h6m-1 28h6m-3-9h6m0-9h6m-4-7h6m-3 23h6m-5-15h6m-3 16h6m-5-6h6m-3-28h6m4 10h6m-5-4h6m0 18h6m-6-19h6m-6 11h6m-4 17h6m-4 1h6m-5-31h6m0 14h6m-3-10h6m-5 21h6m-5 0h6m1-11h6m4-3h6m-5-15h6m-3 18h6m-3-1h6m-4 11h6m1-16h6m-5 3h6m-6 3h6m1-7h6m-1-13h6m-2 26h6m1 1h6m-4-6h6m-6 0h6m-5 11h6m-5-31h6m1 35h6m-5-22h6m-6 25h6m-1-20h6m-3 2h6m-6 1h6m-2-4h6m-2-17h6m-4 27h6m-6-19h6m-6 6h6m-6-8h6m-5 7h6m-4-4h6m-3 3h6m-6 6h6m-3 2h6m-6-17h6m-4 31h6m-5-16h6m-5-10h6m-6-7h6m-5 13h6m-6-3h6m-5 3h6m-6-2h6m-6 16h6m-5-2h6m-5 2h6m-6 4h6m-4 2h6m-1-13h6m-6 5h6m-5-15h6m-4 27h6m-3-22h6m1 22h6m-3-27h6m-6-10h6m-3 26h6m5-24h6m-5 23h6m-4-12h6m-5-7h6m2 26h6m-5-16h6m-363 40h6m3-15h6m-2 33h6m-5-31h6m-2 12h6m-6-1h6m-4-15h6m-5 11h6m5-12h6m-5 7h6m-4 32h6m-6-26h6m-5 26h6m-2-8h6m-6-20h6m-6 3h6m-4 13h6m-2 4h6m-4-5h6m-5-1h6m-5-15h6m-5-9h6m-5 19h6m-5 0h6m-4-11h6m-3 0h6m-6 2h6m-3 6h6m-1-7h6m-4 29h6m0-7h6m-6-2h6m-2-4h6m0-12h6m-1 8h6m0-3h6m-3-2h6m-5 3h6m-2 6h6m0 12h6m-6-28h6m-3 7h6m4 1h6m-4 19h6m-6-18h6m-5-8h6m-3 19h6m-6-8h6m-2-11h6m-4 14h6m-5 12h6m-1 1h6m-4 1h6m-2 0h6m-3-39h6m7 4h6m-3 0h6m-5 1h6m-3 6h6m-3 27h6m9-4h6m-6-27h6m-2 20h6m-5 7h6m-6-22h6m-4 20h6m6-15h6m-2-5h6m3 13h6m-1 9h6m-5-7h6m-4-19h6m0 29h6m-3-30h6m-5 20h6m-3-13h6m5 8h6m-2 5h6m-2-8h6m-5 15h6m-3 0h6m-5-28h6m-5 33h6m-6-21h6m-3-6h6m-5 23h6m-3 0h6m-3-13h6m-5-2h6m-4-16h6m-4 23h6m-3-9h6m-6-18h6m-5 23h6m0-22h6m-6 10h6m-4 22h6m-4-14h6m-3 4h6m-5 12h6m-4-32h6m-5-3h6m-5 19h6m-5-12h6m-3 24h6m-6 1h6m-3-27h6m-5-5h6m-5 4h6m-3 17h6m-6-9h6m-5-6h6m-6-3h6m-3 30h6m-5-22h6m-6 21h6m-6-16h6m-5 10h6m-6-25h6m-3 38h6m-4-3h6m-3-2h6m0-2h6m-5-19h6m-1 12h6m-5-24h6m-347 64h6m3 9h6m-5-3h6m-6-16h6m-4 9h6m-6-8h6m-5 1h6m-6 0h6m-6 13h6m-4-3h6m-6-5h6m-5 0h6m-6 7h6m-6 4h6m-4-7h6m-5 8h6m-5-7h6m-6-8h6m-6 13h6m-5 1h6m-5-6h6m-6-3h6m-5-18h6m-6 16h6m-6 14h6m-5-15h6m-6 1h6m-5 1h6m-6-6h6m-6 12h6m-6-21h6m-5 22h6m-6-6h6m-6-7h6m-5 8h6m-5-4h6m-6 12h6m-5-13h6m-6-1h6m-6-13h6m-5 27h6m-6-6h6m-6 10h6m-6-10h6m-6 3h6m-6-22h6m-5 12h6m-4 1h6m-6 0h6m-6 5h6m-5-12h6m-6-4h6m-6 22h6m-4-30h6m-6 13h6m-5 21h6m-6-22h6m-5 20h6m-6-5h6m-3-16h6m-6 5h6m-6-7h6m-5 16h6m-5-1h6m-6-4h6m-6 0h6m-5 15h6m-5-11h6m-6-6h6m-6 5h6m-5-3h6m-6 13h6m-6-2h6m-6 2h6m-6-29h6m-6 18h6m-5 5h6m-6-1h6m-4 1h6m-5 3h6m-6-14h6m-6 9h6m-6-21h6m-3 13h6m-5-11h6m-6 18h6m-5-7h6m-6-4h6m-6 19h6m-5-3h6m-6-18h6m-5 11h6m-5 6h6m-6-13h6m-5 5h6m-5-7h6m-5-15h6m-4 19h6m-6-18h6m-5 19h6m-6-1h6m-6-1h6m-5-1h6m-6 9h6m-6-20h6m-6 11h6m-5 14h6m-6-3h6m-6-20h6m-5-7h6m-5 36h6m-5-17h6m-5-10h6m-6 26h6m-5-36h6m-6 26h6m-4 8h6m-6-18h6m-6 2h6m-6-7h6m-5 8h6m-6-5h6m-6 13h6m-5-17h6m-4 14h6m-5 3h6m-5-13h6m-6 9h6m-5-4h6m-5 6h6m-5 0h6m-5-12h6m-6 16h6m-6-10h6m-5 1h6m-6-8h6m-5 11h6m-6 6h6m-6-11h6m-5 8h6m-5-20h6m-6 9h6m-6 20h6m-5-14h6m-6-12h6m-6 18h6m-4-8h6m-6 5h6m-4-9h6m-6 4h6m-6 8h6m-5 5h6m-6-4h6m-6-16h6m-5-3h6m-6-4h6m-5 24h6m-6-19h6m-6-3h6m-3 31h6m-5-8h6m-6-7h6m-5-23h6m-5 27h6m-5-12h6m-6 13h6m-5 6h6m-6-18h6m-5 10h6m-6-19h6m-5 10h6m-5-4h6m-5 16h6m-5 3h6m-6-11h6m-6 3h6m-6 6h6m-5 5h6m-5-20h6m-6 12h6m-5-23h6m-5 28h6m-6-15h6m-6-3h6m-6 2h6m-5 3h6m-6 11h6m-5-19h6m-5-4h6m-6 18h6m-6-4h6m-6-12h6m-5 3h6m-6 23h6m-5-16h6m-5-7h6m-6 25h6m-6-13h6m-6-9h6m-5-6h6m-5 18h6m-6-13h6m-6 21h6m-5-14h6m-5 11h6m-6-23h6m-5 1h6m-6 19h6m-5 2h6m-6-4h6m-6-2h6m-5 13h6m-2-25h6m-5 26h6m-5-21h6m-6 15h6m-5-7h6m-4 3h6m-5-6h6m-6-22h6m-5 27h6m-6-22h6m-6 28h6m-3-33h6m-5 36h6m-6 2h6m-6-7h6m-5-28h6m-6 11h6m-6 7h6m-4 9h6m-4-24h6m-5 3h6m-5 0h6m-5-3h6m-5 9h6m-6 17h6m-6-17h6m-4 10h6m-5-10h6m-6 6h6m-6-6h6m-6 8h6m-6-7h6m-5-5h6m-5 12h6m-6 15h6m-4-30h6m-6 3h6m-6 14h6m-5-22h6m-5 19h6m-3 0h6m-6 5h6m-5-14h6m-4 4h6m-6-6h6m-5-12h6m-5 35h6m-5-4h6m-6-4h6m-6-24h6m-6 23h6m-3-5h6m-6-16h6m-5 30h6m-6-13h6m-5-15h6m-4-2h6m-4 30h6m-5-14h6m-6 4h6m-6-13h6m-5-1h6m-5 18h6m-6-15h6m-5 16h6m-4-13h6m-6 4h6m-6 16h6m-5-1h6m-5 3h6m-6-10h6m-5-7h6m-5-8h6m-2 13h6m-6-7h6m-4 8h6m-5-17h6m-6 13h6m-5-13h6m-4 23h6m-6-9h6m-5 0h6m-5-5h6m-5 3h6m-6 6h6m-4-24h6m-6 3h6m-5 20h6m-6-17h6m-6 2h6m-6-1h6m-5-2h6m-5 5h6m-6 3h6m-5 14h6m-6-28h6m-5 5h6m-5 5h6m-5 19h6m-4-14h6m-4-16h6m-5 20h6m-5 13h6m-6-7h6m-6-10h6m-5 14h6m-6-8h6m-5 5h6m-4-28h6m-4 22h6m-6-1h6m-4 5h6m-6 11h6m-5-38h6m-4 1h6m-6 14h6m-5-4h6m-6 6h6m-5 0h6m-5 4h6m-6 16h6m-6-35h6m-5 31h6m-4 4h6m-6-20h6m-4 15h6m-4-13h6m-6 0h6m-5 2h6m-5 2h6m-4-4h6m-5 6h6m-6-18h6m-5 2h6m-5 9h6m-5 13h6m-6-8h6m-6-12h6m-5 18h6m-6-13h6m-6 16h6m-6-6h6m-6 2h6m-4-4h6m-6-22h6m-5 28h6m-6-20h6m-4 13h6m-6-20h6m-5 17h6m-5 5h6m-5-10h6m-6 0h6m-6 4h6m-5 7h6m-6 12h6m-6-16h6m-6-2h6m-5-1h6m-5-2h6m-6 8h6m-5 6h6m-6-6h6m-5 4h6m-5 4h6m-6-15h6m-6-5h6m-5 17h6m-6-6h6m-6 0h6m-6 12h6m-5-29h6m-6 29h6m-5-5h6m-6-29h6m-3 24h6m-4-2h6m-2-7h6m-2 15h6m-4-2h6m-3 8h6m-6-12h6m-5-9h6m-5 13h6m-6-17h6m-5 22h6m-6-26h6m1 24h6m-6-21h6m-6 9h6m-5 9h6m-6-9h6m-6-15h6m-5-1h6m-4 23h6m-5-23h6m-5 27h6m-6-16h6m-5 13h6m-5-9h6m-6-15h6m-5 15h6m-6-12h6m-5 5h6m-6 25h6m-3-3h6m-5-2h6m-5-15h6m-5-6h6m-5 17h6m-6-5h6m-4-16h6m-5 4h6m-5 18h6m-5-5h6m-5-12h6m-6 1h6m-6 13h6m-4-1h6m-5-24h6m-6 11h6m-5-3h6m-6-7h6m-5-1h6m-5 33h6m-6-17h6m-6 1h6m-6-3h6m-5 11h6m-6-13h6m-5-12h6m-6 16h6m-5-10h6m-6 21h6m-5-19h6m-1 1h6m-4-8h6m3 16h6m-3-6h6m-337 31h6m-5-3h6m-2-2h6m-1 8h6m-6 9h6m-5-9h6m-5 3h6m0-8h6m-6 0h6m-3-2h6m-1 12h6m-6-5h6m-5 11h6m-5-19h6m-3 11h6m-4-7h6m-5 20h6m-2-16h6m-5-7h6m-4 2h6m-6 6h6m2 4h6m0-7h6m-6 3h6m-3-6h6m-6 11h6m1-11h6m-3 10h6m-4 5h6m3-8h6m-5-1h6m-4-6h6m-4 11h6m-6-9h6m4 11h6m-4-15h6m-5 3h6m-3 4h6m-6-8h6m-3 7h6m-1-4h6m-6 8h6m-1-9h6m-5 16h6m-4-7h6m-2-8h6m-4-3h6m-1 12h6m0-12h6m-3 3h6m7-1h6m-4 1h6m0 36h6m0-38h6m-2 37h6m-4-36h6m-1 6h6m-3 10h6m-4-14h6m-4 5h6m-3-6h6m-4 2h6m0-1h6m-3 3h6m-1 2h6m5-7h6m-5 0h6m-4 2h6m-5 6h6m5 27h6m-2-29h6m-2-1h6m-3-4h6m-5 5h6m13-6h6m-1 1h6m-4-3h6m-4 19h6m1-17h6m-5 1h6m-4 0h6m-3 2h6m-6 15h6m-5 17h6m-5-30h6m-4-7h6m-1 18h6m-6 5h6m-2-23h6m-4 6h6m-5 6h6m0 1h6m-4 7h6m-4-19h6m-2-1h6m-3 35h6m-6 4h6m-4-8h6m10-31h6m16 6h6m-347 38h6m4 32h6m-6-12h6m16 0h6m2-5h6m-5-18h6m22 7h6m4 6h6m-1 6h6m2 16h6m-5-28h6m-3 24h6m-6-29h6m-2 5h6m2 14h6m-4-6h6m-1-6h6m-2-1h6m-6 6h6m-4 22h6m-6-26h6m-4 28h6m-6-33h6m-5-5h6m3 0h6m-3 25h6m2-12h6m-5 24h6m-3-16h6m11-7h6m-5-15h6m2 0h6m-2 26h6m20-2h6m-4-2h6m12-14h6m-6 1h6m-1 25h6m-3-1h6m-3-3h6m-6-24h6m-5 16h6m24-15h6m8-6h6m-3 32h6m-5-17h6m-3-11h6m-5-1h6m-5 5h6m-2 8h6m-4 8h6m-2-3h6m9 5h6m10-23h6m21 1h6m-341 50h6m123-6h6m31 1h6m4-6h6m-2 26h6m3-10h6m56 2h6m-4 2h6m17-1h6m0-15h6m-5-2h6m-179 36h6m4-1h6m4 22h6m1-11h6m11 21h6m22 5h6m46-26h6m8 16h6m0-26h6" stroke="#2f44c4" stroke-width="6" stroke-opacity=".36"/><ellipse cx="42.8" cy="19.2" rx="3.4" ry="2" fill="#4a90d0" opacity="0.55" filter="url(#b1)" transform="rotate(-50 42.8 19.2)"/><ellipse cx="23.8" cy="46.4" rx="10.2" ry="2.2" fill="#5574d4" opacity="0.55" filter="url(#b06)" transform="rotate(-3 23.8 46.4)"/><ellipse cx="21.8" cy="46.4" rx="7.7" ry="1.8" fill="#3eb0c4" opacity="0.85" filter="url(#b06)" transform="rotate(-3 21.8 46.4)"/><ellipse cx="20.3" cy="46.4" rx="5.8" ry="1.6" fill="#5cc24e" opacity="1" filter="url(#b06)" transform="rotate(-3 20.3 46.4)"/><ellipse cx="17.6" cy="46.4" rx="2.3" ry="1.1" fill="#d6d23c" opacity="1" filter="url(#b06)" transform="rotate(-3 17.6 46.4)"/><ellipse cx="17.1" cy="46.4" rx="1.1" ry=".8" fill="#e8642a" opacity="1" filter="url(#b06)" transform="rotate(-3 17.1 46.4)"/><ellipse cx="17.2" cy="46.4" rx=".7" ry=".5" fill="#de2a1e" opacity="1" filter="url(#b06)" transform="rotate(-3 17.2 46.4)"/><line x1="23" y1="0" x2="23" y2="61.2" stroke="#5a5a5a" stroke-width="1"/><line x1="0" y1="43.1" x2="61.8" y2="43.1" stroke="#4a4a4a" stroke-width="1"/><text x="1.6" y="3.6" font-size="2.9" fill="#444">Q1</text><text x="1.6" y="6.6" font-size="2.9" fill="#444">2.27</text><text x="60.2" y="3.6" text-anchor="end" font-size="2.9" fill="#444">Q2</text><text x="60.2" y="6.6" text-anchor="end" font-size="2.9" fill="#444">16.8</text><text x="1.6" y="56.8" font-size="2.9" fill="#444">Q4</text><text x="1.6" y="59.8" font-size="2.9" fill="#444">60.7</text><text x="60.2" y="56.8" text-anchor="end" font-size="2.9" fill="#444">Q3</text><text x="60.2" y="59.8" text-anchor="end" font-size="2.9" fill="#444">18.1</text><path d="M-1.6 6.1h1.6M-1.6 20.3h1.6M-1.6 37.1h1.6M-1.6 46.2h1.6M-1.6 55.5h1.6M-.9 6.1h.9M-.9 9.5h.9M-.9 13h.9M-.9 16.4h.9M-.9 19.9h.9M-.9 23.3h.9M-.9 26.8h.9M-.9 30.2h.9M-.9 33.7h.9M-.9 37.1h.9M4.5 61.2v1.6M15.2 61.2v1.6M25.1 61.2v1.6M41.5 61.2v1.6M56.7 61.2v1.6M25.1 61.2v.9M28.6 61.2v.9M32.1 61.2v.9M35.6 61.2v.9M39.1 61.2v.9M42.7 61.2v.9M46.2 61.2v.9M49.7 61.2v.9M53.2 61.2v.9M56.7 61.2v.9" stroke="#333" stroke-width=".55"/><rect x="-1.1" y="45.7" width="1.2" height="2.8" fill="#111"/><rect x="12.4" y="61.2" width="3" height="1.1" fill="#111"/><text x="-2.3" y="7.1" font-size="2.8" fill="#555" text-anchor="end">10⁵</text><text x="-2.3" y="21.3" font-size="2.8" fill="#555" text-anchor="end">10⁴</text><text x="-2.3" y="38.1" font-size="2.8" fill="#555" text-anchor="end">10³</text><text x="-2.3" y="47.2" font-size="2.8" fill="#555" text-anchor="end">0</text><text x="-2.3" y="56.5" font-size="2.8" fill="#555" text-anchor="end">-10³</text><text x="4.5" y="66.1" font-size="2.8" fill="#555" text-anchor="middle">-10³</text><text x="15.2" y="66.1" font-size="2.8" fill="#555" text-anchor="middle">0</text><text x="25.1" y="66.1" font-size="2.8" fill="#555" text-anchor="middle">10³</text><text x="41.5" y="66.1" font-size="2.8" fill="#555" text-anchor="middle">10⁴</text><text x="56.7" y="66.1" font-size="2.8" fill="#555" text-anchor="middle">10⁵</text></g>
<g transform="translate(113.3 368.4)"><rect x="0" y="0" width="61.8" height="61.2" fill="#fff" stroke="#b8b8b8" stroke-width=".8"/><rect x="15" y="14" width="34" height="30" rx="5" fill="#aab4ea" opacity="0.07" filter="url(#b15)"/><path transform="scale(.1)" d="M199 69h6m16 1h6m-33 44h6m258 4h6m0-10h6m24 11h6m-332 14h6m42-12h6m8 1h6m-1 8h6m8-1h6m46 5h6m80 18h6m-4-8h6m-6 1h6m3-25h6m1 26h6m-6-2h6m-2 14h6m-4 1h6m-6 0h6m5-2h6m-6 2h6m-5-10h6m-5-1h6m2 6h6m-5 5h6m-3-18h6m-3-9h6m-5 27h6m-4-25h6m-5 10h6m-5 6h6m-5-27h6m-6 20h6m2 4h6m-5-26h6m-5 36h6m-5-28h6m-5 16h6m-2 3h6m-3-23h6m-3 9h6m-4 12h6m-3 11h6m0-6h6m-5 6h6m-4-3h6m-5-14h6m-4 1h6m-5 16h6m-4-28h6m-3 16h6m0-9h6m6-6h6m5 19h6m-5 6h6m7-3h6m-405 33h6m12-3h6m3 8h6m-2-7h6m-1 16h6m-4-16h6m-5 6h6m-3-23h6m-6 13h6m0-14h6m-5 11h6m-6-10h6m-3 31h6m-4-4h6m-4-3h6m-3 8h6m-4-25h6m-5 16h6m-5 1h6m-5-4h6m-4-4h6m-5-4h6m-5 13h6m2-19h6m-3-3h6m-6 30h6m-6-3h6m-3-4h6m-6 4h6m-6-2h6m-2 2h6m2 3h6m-2-24h6m-5-3h6m3 26h6m-6-7h6m15 5h6m-5-5h6m1-8h6m8 9h6m18-29h6m8 36h6m-4-11h6m2-6h6m4-2h6m-6 8h6m2 7h6m2 2h6m-2-12h6m4-24h6m-3 8h6m0 12h6m-5 18h6m-5-39h6m-1 4h6m-5 7h6m-5-9h6m-4 21h6m-5-2h6m-5 3h6m-6-4h6m-5 19h6m-6-5h6m-5-33h6m-6 3h6m-4 28h6m-6 3h6m-3 4h6m-5-5h6m-4 3h6m-3-6h6m-4 2h6m-6-8h6m-5 11h6m-6-1h6m-5-34h6m-6 18h6m-6 19h6m-2-13h6m-6 1h6m-3 5h6m-5-10h6m-6-6h6m-3 5h6m-3 11h6m-6 2h6m-6-14h6m-4 17h6m-5-32h6m-6 28h6m-5-22h6m-5 29h6m-6-29h6m-5-9h6m-5 13h6m-5 22h6m-6-2h6m-6-29h6m-5 14h6m-6 13h6m-5-13h6m-5-6h6m-6 21h6m-6-30h6m-5 21h6m-3-9h6m-6 8h6m-5 15h6m-6-33h6m-6 30h6m-4-15h6m-6-5h6m-4 12h6m-6 2h6m-6-2h6m-5-10h6m-6 12h6m-6 5h6m-6-35h6m-5 37h6m-6-1h6m-5-30h6m-5 27h6m-5-20h6m-6 25h6m-6-18h6m-5 10h6m-6-30h6m-6 23h6m-5-11h6m-6 27h6m-6-14h6m-5-25h6m-6 15h6m-5 11h6m-6-3h6m-5 15h6m-5-8h6m-5-14h6m-6-6h6m-5 22h6m-5 1h6m-6-14h6m-4-5h6m-5 21h6m-6-19h6m-6-11h6m-6 9h6m-5 12h6m-6-13h6m-3 18h6m-4-9h6m-5 6h6m-5-15h6m-6 12h6m-6-18h6m-5 30h6m-4 1h6m-5-11h6m-5 0h6m-3 1h6m-5-13h6m-5-3h6m-4 11h6m-1-11h6m-5 12h6m-5 7h6m-5-2h6m-6-18h6m-6 4h6m-5 4h6m-5-5h6m-4-9h6m-5-3h6m-5 6h6m-6 28h6m-6-22h6m-4 9h6m-6-3h6m-5-13h6m-5 12h6m-2-4h6m-4 10h6m-2 6h6m-3-14h6m-3-16h6m-4 8h6m0-3h6m-2 32h6m0-24h6m-5-7h6m11-4h6m-411 62h6m4 3h6m0-13h6m-3 16h6m-3 7h6m-5-4h6m-1-2h6m-5-17h6m-6 1h6m-6 2h6m-5 4h6m-5-8h6m-5 2h6m-2 14h6m-5-7h6m-5 9h6m-6-21h6m-5 3h6m-5 14h6m-5 0h6m-6 8h6m-5-23h6m-3 22h6m-5-28h6m-4 0h6m-5 24h6m-6 8h6m-5-16h6m-5-15h6m-5 30h6m-6-6h6m-3-28h6m-5 27h6m-6-10h6m-6-4h6m-5-10h6m-6-2h6m-6 16h6m-6-8h6m-6 19h6m-5-12h6m-6-9h6m-6 12h6m-5-21h6m-4 0h6m-5 19h6m-6 4h6m-4-20h6m-6 26h6m-4-3h6m-3-19h6m-4-1h6m-5 26h6m-6-16h6m-2 0h6m-5 16h6m-6-5h6m-6-3h6m-3-17h6m-4 9h6m-5-8h6m-5 5h6m-6-2h6m-5-10h6m-6 9h6m-5-7h6m-5 7h6m4 24h6m1-21h6m-1-8h6m9 29h6m37-8h6m-4 2h6m-1-22h6m6 4h6m-5 25h6m3-3h6m1-16h6m-2-3h6m-5 2h6m0-7h6m-3-8h6m-6 25h6m-4-18h6m-5 30h6m-4-19h6m-6-1h6m-5 7h6m-5 7h6m-6-19h6m-4 20h6m-6-14h6m-6-6h6m-4 3h6m-5-3h6m-5 13h6m-5 5h6m-6-3h6m-4-24h6m-6 1h6m-5 13h6m-4-9h6m-5-4h6m-6-1h6m-5 15h6m-6 19h6m-5-17h6m-6-4h6m-5-3h6m-6-15h6m-4 23h6m-5-1h6m-6 16h6m-6-5h6m-3-27h6m-5 8h6m-5 16h6m-6-12h6m-5 3h6m-5 17h6m-5-7h6m-6-9h6m-6 14h6m-5-21h6m-4-3h6m-6 4h6m-4-14h6m-6 31h6m-5-26h6m-4 13h6m-6 6h6m-6-21h6m-5 33h6m-6-20h6m-6-4h6m-4-4h6m-6-6h6m-5 33h6m-6-10h6m-5 3h6m-6-10h6m-6-9h6m-6-9h6m-5 1h6m-5 33h6m-4-12h6m-6 5h6m-5-18h6m-6-3h6m-6 31h6m-6-10h6m-3-29h6m-6 3h6m-5 23h6m-6-4h6m-2 0h6m-6 10h6m-5-15h6m-6-2h6m-5 3h6m-5 21h6m-5-26h6m-6 3h6m-6-11h6m-5 34h6m-5-1h6m-6-36h6m-6 16h6m-5-11h6m-6 2h6m-4 25h6m-6 4h6m-5-14h6m-5 5h6m-6-10h6m-5-18h6m-5 3h6m-6 4h6m-5 2h6m-6 24h6m-5-32h6m-5 37h6m-6-29h6m-5 18h6m-6 11h6m-5-39h6m-6 22h6m-6-18h6m-3 14h6m-5 9h6m-6-16h6m-5 11h6m-6-12h6m-4 3h6m-5-6h6m-4 3h6m-6 26h6m-5-9h6m-6-24h6m-5 35h6m-6-19h6m-6-5h6m-5-2h6m-6 7h6m-5-14h6m-5-2h6m-4 6h6m-5 25h6m-4-30h6m-6 8h6m-4 0h6m-6 26h6m-6 1h6m-5-30h6m-6-3h6m-5 13h6m-5-16h6m-6 17h6m-6 2h6m-5-14h6m-5 12h6m-3 19h6m-6-24h6m-6 7h6m-5 4h6m-5 0h6m-5-15h6m-4 17h6m-4-10h6m-6-10h6m-4 5h6m-5-13h6m-4 22h6m-6 7h6m-4-13h6m0 23h6m-6-23h6m-4 0h6m-3-7h6m0-7h6m3 4h6m-4 6h6m-2-7h6m-1-1h6m-5-2h6m-4-2h6m-403 67h6m13-18h6m2 12h6m-5-11h6m-5 23h6m-6-6h6m-6-23h6m-1 25h6m-2-28h6m-5 29h6m-5-15h6m-1-8h6m-3 4h6m-2 22h6m-5-20h6m-3-3h6m3 16h6m-6 11h6m-6-20h6m-4 8h6m-4 9h6m-4-26h6m-1 12h6m-3 4h6m-5-17h6m-5 19h6m-6 5h6m-4-15h6m-5-9h6m-5-2h6m-6-1h6m-5 9h6m-4-12h6m-3 12h6m-5-3h6m-3 16h6m-6-21h6m4 5h6m-4 20h6m-4-24h6m-5 19h6m-4-25h6m-2 3h6m7 0h6m8 14h6m13-9h6m-4 30h6m0-26h6m4-2h6m1 19h6m-2-3h6m-5 13h6m-4-25h6m-4 2h6m-5 16h6m-3-7h6m-6-9h6m-6-2h6m2 10h6m-6 8h6m-5 1h6m6-28h6m-6 27h6m-6-32h6m-5 7h6m-5-3h6m-2 3h6m-5-5h6m-2 27h6m-3 9h6m-6-2h6m-5-19h6m-3-16h6m-3 10h6m-5 9h6m-4 10h6m-4 6h6m-4-14h6m-4 2h6m-4-12h6m-5 1h6m-5 11h6m-6 14h6m-5-38h6m-4 10h6m-6 8h6m-6 13h6m-5 0h6m-6-28h6m-4 12h6m-5-6h6m-6 26h6m0-9h6m-6-14h6m-1-9h6m-5 31h6m2-26h6m-3 26h6m-3-18h6m-4 2h6m-4-17h6m-2 28h6m-6-18h6m-5 22h6m-3-12h6m-5-1h6m-6 6h6m-5 9h6m-6-18h6m-5-8h6m-6-5h6m-5-3h6m-5 15h6m-6 10h6m-6 5h6m-6-5h6m-5-19h6m-1 9h6m-4-15h6m-5 20h6m-3-5h6m-3 12h6m-6 1h6m-4-15h6m-3-7h6m-6 12h6m-4 5h6m-4-18h6m-6-2h6m-5 34h6m-5-17h6m-5-4h6m4 3h6m-6-8h6m-1 15h6m-4-9h6m-5 10h6m-2 8h6m-5-33h6m0 14h6m6-13h6m-392 71h6m7 4h6m-6-20h6m2-19h6m7 21h6m-5 11h6m5-24h6m-4 12h6m-6 0h6m-5 12h6m0-15h6m-3 9h6m0 3h6m-6-6h6m-5-22h6m-5 7h6m-1 19h6m-4-2h6m-4 0h6m-6 5h6m-1-12h6m-2 4h6m-5-17h6m-3 4h6m-5-1h6m-5 15h6m-6 16h6m-5-6h6m-5-7h6m-3-18h6m-5 3h6m-5 8h6m-3 12h6m-2-11h6m-2 14h6m-6 5h6m-5-9h6m3 8h6m2-12h6m-3 13h6m2-32h6m-2 21h6m-1-9h6m11 20h6m19-8h6m-4-2h6m-3-16h6m-2 15h6m-5-4h6m-1-9h6m-5 6h6m-6-9h6m-5 10h6m-1 0h6m-3-1h6m1 8h6m-3-25h6m0 0h6m-4 12h6m-6-9h6m-5 6h6m2 26h6m0-5h6m-2-7h6m-3-26h6m0 13h6m-2 12h6m1-13h6m-2 2h6m-5 20h6m-4-2h6m-6-24h6m-4 15h6m-6 13h6m-4-35h6m-1 28h6m-2 3h6m-4-7h6m-2-6h6m-5-17h6m-3 32h6m-3-24h6m-6 0h6m-5 18h6m-6-5h6m-5 4h6m-4-24h6m-4 18h6m-5-9h6m-1 3h6m-6 11h6m-6-18h6m-4 24h6m2-4h6m-5 1h6m-4-9h6m-1-3h6m-5-10h6m-6 6h6m-5 12h6m-3-4h6m-4 17h6m-6-28h6m-4 10h6m-4 14h6m-2 2h6m-3 2h6m-5-13h6m-4-26h6m-6 39h6m-5-4h6m-5-27h6m-5-6h6m-2 26h6m-3 4h6m-5-29h6m-2 20h6m-4 10h6m-356 31h6m2-9h6m0-8h6m-5 3h6m-5 13h6m-6-21h6m-2 8h6m-2-9h6m-6 26h6m-5 6h6m-6 2h6m-5-27h6m-4 24h6m-4 3h6m-5-25h6m-5 16h6m-5-5h6m-2 15h6m-4-5h6m-4-23h6m-5 4h6m-3 4h6m-4-4h6m-6-10h6m-4 0h6m-6 36h6m-5-10h6m-5 7h6m-5-24h6m-4-2h6m-6 24h6m-4-19h6m-5-5h6m-4 26h6m-4-30h6m-4 20h6m-3-19h6m-4 3h6m0 17h6m-3-3h6m0 3h6m-5 7h6m-5-8h6m-6-23h6m-2 10h6m-5 6h6m1-7h6m13-3h6m-5 30h6m7-23h6m4 15h6m-2-3h6m1 1h6m-5 7h6m-5 1h6m-6-11h6m-1-2h6m-6-21h6m1 18h6m-4 11h6m-6 6h6m-5-35h6m-4 19h6m-6-7h6m-5 8h6m-4-18h6m0 14h6m-3-2h6m-5-5h6m-6 21h6m-5-20h6m0 16h6m-1-2h6m-1 11h6m-6-2h6m-6-33h6m-6 8h6m-4 4h6m-6-3h6m-4 13h6m-5-21h6m-4 17h6m-2 17h6m-4-30h6m-6-6h6m-2 12h6m-4-1h6m-5 22h6m1-10h6m-4 1h6m-2-21h6m-5 35h6m-6-20h6m3 1h6m-3-2h6m-1 15h6m-3-31h6m5 20h6m-5 12h6m-5-33h6m-3 31h6m-1-10h6m-4 1h6m-4-22h6m-5 23h6m-4-9h6m-5 1h6m-6-7h6m0 23h6m-6-32h6m-5 35h6m-5-31h6m-4 23h6m-5 12h6m-5-1h6m-5-21h6m-5 9h6m-4-3h6m-4-11h6m-4 3h6m-6 22h6m-2-18h6m-6 17h6m-4-9h6m-5 2h6m-4-9h6m-3 1h6m-5-5h6m-4-15h6m-4 36h6m-3-2h6m-4-18h6m-3 0h6m-6-2h6m-6 20h6m1-12h6m-4 8h6m-6 5h6m-6-35h6m-3 15h6m-4-4h6m-1-8h6m-3 14h6m-5-4h6m1-12h6m2 34h6m-378 42h6m-5-16h6m5-22h6m-2 13h6m-1 10h6m-5 7h6m-3-24h6m-2 8h6m-3 10h6m-6 6h6m-5-28h6m-6-1h6m-5 23h6m-5-19h6m-5 34h6m-1-31h6m-2 19h6m-2 6h6m-3-24h6m-5 18h6m-3 12h6m-3-28h6m-6-9h6m-6 24h6m-3-21h6m0 25h6m-6-29h6m-5 31h6m-6-8h6m-4-24h6m-6 4h6m-5 26h6m0-10h6m-6-19h6m-6 2h6m-4 24h6m-2-26h6m-5 22h6m-5 11h6m0-33h6m-4 28h6m-6-20h6m-4-5h6m-4 17h6m-5 7h6m2 2h6m-1-5h6m1 3h6m-5 11h6m-1-22h6m-5-7h6m-4 16h6m-4-14h6m0 21h6m-6-7h6m-3-16h6m-5 24h6m-5 2h6m-4-1h6m-4-35h6m-5 29h6m-3 3h6m10-31h6m-5 17h6m-5 11h6m-5-14h6m2 24h6m-5-13h6m-5 7h6m-4-10h6m-6-21h6m-6 7h6m-4 22h6m-3-1h6m-3-21h6m-6 8h6m-2 14h6m-3 1h6m1 2h6m-3-18h6m-5-2h6m0-7h6m0 29h6m-5-27h6m1 11h6m3 16h6m1-26h6m-5-1h6m0 2h6m8 23h6m-3 5h6m3-26h6m-4-1h6m-5 1h6m-6 10h6m-4-18h6m-5-4h6m-5 24h6m-1 13h6m0-10h6m-2 10h6m-4-36h6m-5 10h6m-2 27h6m-3-4h6m-6-19h6m-4 21h6m-5-24h6m-6 7h6m-6-13h6m-6 10h6m-1 15h6m-6-2h6m-5 1h6m6-4h6m-4-15h6m-1 25h6m-5-31h6m-4 10h6m0 8h6m-5-11h6m-4 19h6m-5-31h6m-4 15h6m-3 8h6m-6-18h6m-5 1h6m-5 3h6m5 22h6m-366 44h6m-6-20h6m7 12h6m-6-12h6m-6 23h6m-6-35h6m-5 11h6m-6 11h6m-5-4h6m-5-2h6m-6-4h6m-6 18h6m-5-9h6m-6-16h6m-6 23h6m-5-17h6m-5 10h6m-6-17h6m-5 7h6m-6 16h6m-4-6h6m-6-2h6m-6-16h6m-5 0h6m-6 10h6m-6-3h6m-5 5h6m-6 7h6m-5-15h6m-6 9h6m-6-9h6m-5 4h6m-6-4h6m-5 25h6m-6-25h6m-3 19h6m-6-17h6m-5-5h6m-5-2h6m-5 18h6m-5 11h6m-6 4h6m-6-2h6m-5-10h6m-6-12h6m-6-10h6m-6 17h6m-6-8h6m-6 20h6m-6-10h6m-5-5h6m-6-2h6m-6 2h6m-6 1h6m-6-19h6m-5 12h6m-6 25h6m-4-19h6m-6 13h6m-6-10h6m-6 1h6m-6-12h6m-6 19h6m-5-5h6m-5-9h6m-6 21h6m-5-15h6m-5 15h6m-6-25h6m-4 2h6m-6 20h6m-6-22h6m-5 20h6m-5-5h6m-6-21h6m-5 7h6m-6 2h6m-6-4h6m-5 26h6m-6-12h6m-5 4h6m-6-9h6m-6-12h6m-5 25h6m-6-14h6m-5 12h6m-6 2h6m-6-10h6m-5-9h6m-5 25h6m-6-11h6m-6 5h6m-6-18h6m-6 13h6m-6-8h6m-5 8h6m-6-6h6m-5-1h6m-6-6h6m-5 20h6m-6-26h6m-5 16h6m-6 7h6m-6-24h6m-5 1h6m-6 12h6m-6-20h6m-2 20h6m-6-1h6m-6-1h6m-6-6h6m-5 6h6m-6 9h6m-5-18h6m-6 12h6m-6 7h6m-6-21h6m-5 5h6m-6-3h6m-6 20h6m-6 7h6m-6-29h6m-5 19h6m-5-7h6m-6-4h6m-6-11h6m-4 21h6m-6-11h6m-6 23h6m-6-14h6m-6-7h6m-5-1h6m-6 8h6m-4-17h6m-5 15h6m-6 5h6m-5 11h6m-6-2h6m-6-30h6m-4 13h6m-5-7h6m-6 15h6m-6-26h6m-6 35h6m-5-29h6m-6 6h6m-5 7h6m-6 16h6m-5-27h6m-5 11h6m-4 16h6m-5 0h6m-5-24h6m-5 27h6m-4-25h6m-6 23h6m-5-23h6m-6 0h6m-5 3h6m-6 6h6m-5-8h6m-5-3h6m-5-1h6m-5 1h6m-6 12h6m-6 2h6m-5 7h6m-6-27h6m-6 25h6m-5-4h6m-5 3h6m-6-10h6m-6-4h6m-5 1h6m-5 7h6m-6 5h6m-5-8h6m-5 14h6m-6 1h6m-5-18h6m-6-5h6m-6 1h6m-5 10h6m-6 14h6m-5-7h6m-6-7h6m-5-14h6m-6 3h6m-5 22h6m-4-13h6m-6-6h6m-5 15h6m-6-1h6m-4 6h6m-6-23h6m-6 23h6m-6-13h6m-5 8h6m-6-21h6m-5 2h6m-5 4h6m-5 18h6m-6-23h6m-5 22h6m-5-26h6m-6 31h6m-2-23h6m-5 9h6m-6 13h6m-6-26h6m-5-5h6m-6 13h6m-5 9h6m-5-24h6m-5 22h6m-5 2h6m-6 1h6m-5-13h6m-6 17h6m-5 2h6m-6-17h6m-5 16h6m-6 3h6m-5-15h6m-6 9h6m-5-10h6m-3 0h6m-6 8h6m-6 7h6m-6-10h6m-5-2h6m-6-7h6m-5 1h6m-6-4h6m-5-6h6m-6 10h6m-6 9h6m-5 2h6m-4-19h6m-6-7h6m-5 33h6m-6-6h6m-4-5h6m-6-16h6m-5 12h6m-6 2h6m-5-9h6m-5 5h6m-6 8h6m-6-11h6m-4 18h6m-5-25h6m-6 18h6m-3-2h6m-6 0h6m-5-5h6m-6 15h6m-6-35h6m-6 34h6m-4-17h6m-6 16h6m-5-16h6m-6 14h6m-5-13h6m-6-1h6m-6 5h6m-5 0h6m-6-6h6m-5-2h6m-6-11h6m-4 27h6m-5-11h6m-5 6h6m-6-5h6m-6-4h6m-5-11h6m-6 15h6m-5-10h6m-5 17h6m-6-19h6m-6 26h6m-5-27h6m-6 16h6m-4-10h6m-5 9h6m-6-5h6m-5 4h6m-6-12h6m-6-3h6m-5 0h6m-4 24h6m-6-5h6m-5 14h6m-6-21h6m-5 11h6m-6-5h6m-6-10h6m-5-1h6m-6 16h6m-3-7h6m-5 5h6m-6 2h6m-5-29h6m-5 2h6m-6 16h6m-6-18h6m-5 2h6m-6 29h6m-6-6h6m-5 6h6m-5-1h6m-6-9h6m-5-2h6m-6 16h6m-6-13h6m-6-6h6m-6 6h6m-6-21h6m-6 4h6m-4 8h6m-5 0h6m-6 6h6m-5-8h6m-6 0h6m-5-11h6m-5 15h6m-6-10h6m-5 29h6m-5 5h6m-5-22h6m-5 3h6m-6 14h6m-6-30h6m-5 22h6m-5-17h6m-4 12h6m-6 7h6m-5-2h6m-6 9h6m-6-20h6m-5-4h6m-6 10h6m-6-3h6m-6 6h6m-5-17h6m-6 31h6m-5-15h6m-5-1h6m-6-15h6m-5 29h6m-4-10h6m-6 3h6m-5-6h6m-6 11h6m-6 4h6m-5-6h6m-6-1h6m-6 3h6m-3-9h6m-5-3h6m-6-13h6m-5 16h6m-6-9h6m-6 17h6m-5-28h6m-3 30h6m-6-7h6m-6 9h6m-5-35h6m-5 16h6m-5 3h6m-6 15h6m-5 3h6m-4-16h6m-6-13h6m-4 2h6m-5 9h6m-6-3h6m-6 1h6m-3 20h6m-6-36h6m-4 13h6m-6-5h6m-5 18h6m-5-24h6m-3 22h6m-6 5h6m-5-7h6m-6-14h6m-4 16h6m-6-1h6m-5-5h6m-6 1h6m-4 0h6m-5-19h6m-4 20h6m-5 3h6m-5 1h6m-6-11h6m-5 14h6m-5-13h6m-6 17h6m-5-12h6m-6 3h6m-5-16h6m-4 15h6m-6 4h6m-5-13h6m-6 3h6m-4 5h6m-6 2h6m-6 6h6m-6-9h6m-6 7h6m-3-12h6m-5 20h6m-5 2h6m-4-4h6m-5-13h6m-5 16h6m-6-26h6m-4-1h6m-4 16h6m-5-12h6m-6 7h6m-4-5h6m-6 2h6m-5 3h6m-5 2h6m-6-2h6m-5 14h6m-6-9h6m-6-14h6m-6 7h6m-5-1h6m-5-1h6m-3 8h6m-6 13h6m-6-16h6m-6 0h6m-4-3h6m-5 12h6m-6-7h6m-5-18h6m-6 1h6m-3 9h6m-5 15h6m-4 2h6m-4 2h6m-6-2h6m-5-4h6m-5 6h6m-5-2h6m-6-29h6m-5 17h6m-4 6h6m-6-22h6m-5 13h6m-4 9h6m-5 11h6m-6-19h6m-6-11h6m-5 8h6m-5 13h6m-6 5h6m-5 3h6m-6-5h6m-5-11h6m-6-22h6m-5 25h6m-6 5h6m-5-4h6m-4-16h6m-4 11h6m-5 16h6m-6-22h6m-6 5h6m-6 1h6m-2 17h6m-4-18h6m-4-19h6m-6 22h6m-5-5h6m0 3h6m2-20h6m-3 36h6m1-29h6m-344 37h6m-1-2h6m-5 1h6m-3 2h6m-6 26h6m-1-19h6m-6 22h6m1-20h6m-2-4h6m-4-7h6m-5 5h6m-5-9h6m0 3h6m-5 21h6m-5-22h6m-5 4h6m-5 5h6m-4 4h6m-5 1h6m-3-13h6m-5 11h6m5-12h6m-4 1h6m-6 1h6m-3 5h6m-6-6h6m-5 5h6m-4-6h6m-5 1h6m1-2h6m-6-1h6m4 10h6m-4 13h6m-5-21h6m-2 1h6m-4-1h6m-4 10h6m8 26h6m2-37h6m-1 6h6m-4 1h6m-4 0h6m-2-8h6m-6 0h6m1 37h6m-5-31h6m-6-5h6m-3 9h6m0-10h6m-6 37h6m-3-1h6m-3-30h6m-4 11h6m4-13h6m-2-4h6m-4 16h6m-5-10h6m10 2h6m2-5h6m-4-3h6m-6 10h6m-3-10h6m3 1h6m-1 2h6m-6 13h6m-4 0h6m1 23h6m-5-19h6m1-18h6m3 4h6m-4 1h6m-4 8h6m2-4h6m-2-2h6m1-5h6m7 32h6m-5 1h6m1 1h6m-5-31h6m5 1h6m-1-3h6m0 33h6m5-1h6m13-35h6m-3 3h6m-337 61h6m3 6h6m-1-24h6m32 23h6m23 0h6m-2 2h6m-3-2h6m8-2h6m-5-25h6m9-2h6m-6 19h6m-4-2h6m-4 15h6m-4-20h6m-2 2h6m1-14h6m-5 18h6m-3 18h6m-5-20h6m6 5h6m0-13h6m-5-5h6m-3 10h6m2 1h6m-4 9h6m-4-4h6m-5-15h6m0 23h6m-2-16h6m11-7h6m5 15h6m6-16h6m-5 17h6m-3-17h6m-5 27h6m-6-16h6m-2-2h6m5-2h6m21-4h6m-4 31h6m-3-13h6m-5 2h6m-1-17h6m-5 21h6m-3-30h6m-3 8h6m-3 8h6m3-15h6m-4 9h6m5 8h6m48-18h6m-359 42h6m12 3h6m63 31h6m17-26h6m43 18h6m4 2h6m-4-21h6m2 13h6m-3-14h6m9 15h6m2-16h6m48 19h6m-3-27h6m-2 6h6m2 4h6m-158 42h6m3 25h6m43-35h6m-4 6h6m7 18h6m22-18h6m2-3h6m9-5h6m34 33h6m-43 13h6" stroke="#2f44c4" stroke-width="6" stroke-opacity=".36"/><ellipse cx="44" cy="19.5" rx="4" ry="2" fill="#4a88d0" opacity="0.45" filter="url(#b1)" transform="rotate(-30 44 19.5)"/><ellipse cx="23.6" cy="46.4" rx="9.9" ry="2.1" fill="#5574d4" opacity="0.55" filter="url(#b06)" transform="rotate(-3 23.6 46.4)"/><ellipse cx="21.6" cy="46.4" rx="7.4" ry="1.8" fill="#3eb0c4" opacity="0.85" filter="url(#b06)" transform="rotate(-3 21.6 46.4)"/><ellipse cx="20.1" cy="46.4" rx="5.6" ry="1.5" fill="#5cc24e" opacity="1" filter="url(#b06)" transform="rotate(-3 20.1 46.4)"/><ellipse cx="17.6" cy="46.4" rx="2.2" ry="1.1" fill="#d6d23c" opacity="1" filter="url(#b06)" transform="rotate(-3 17.6 46.4)"/><ellipse cx="17.1" cy="46.4" rx="1.1" ry=".7" fill="#e8642a" opacity="1" filter="url(#b06)" transform="rotate(-3 17.1 46.4)"/><ellipse cx="17.1" cy="46.4" rx=".7" ry=".5" fill="#de2a1e" opacity="1" filter="url(#b06)" transform="rotate(-3 17.1 46.4)"/><line x1="23.2" y1="0" x2="23.2" y2="61.2" stroke="#5a5a5a" stroke-width="1"/><line x1="0" y1="43.1" x2="61.8" y2="43.1" stroke="#4a4a4a" stroke-width="1"/><text x="1.6" y="3.6" font-size="2.9" fill="#444">Q1</text><text x="1.6" y="6.6" font-size="2.9" fill="#444">2.40</text><text x="60.2" y="3.6" text-anchor="end" font-size="2.9" fill="#444">Q2</text><text x="60.2" y="6.6" text-anchor="end" font-size="2.9" fill="#444">15.3</text><text x="1.6" y="56.8" font-size="2.9" fill="#444">Q4</text><text x="1.6" y="59.8" font-size="2.9" fill="#444">76.9</text><text x="60.2" y="56.8" text-anchor="end" font-size="2.9" fill="#444">Q3</text><text x="60.2" y="59.8" text-anchor="end" font-size="2.9" fill="#444">6.25</text><path d="M-1.6 6.1h1.6M-1.6 20.3h1.6M-1.6 37.1h1.6M-1.6 46.2h1.6M-1.6 55.5h1.6M-.9 6.1h.9M-.9 9.5h.9M-.9 13h.9M-.9 16.4h.9M-.9 19.9h.9M-.9 23.3h.9M-.9 26.8h.9M-.9 30.2h.9M-.9 33.7h.9M-.9 37.1h.9M4.5 61.2v1.6M15.2 61.2v1.6M25.1 61.2v1.6M41.5 61.2v1.6M56.7 61.2v1.6M25.1 61.2v.9M28.6 61.2v.9M32.1 61.2v.9M35.6 61.2v.9M39.1 61.2v.9M42.7 61.2v.9M46.2 61.2v.9M49.7 61.2v.9M53.2 61.2v.9M56.7 61.2v.9" stroke="#333" stroke-width=".55"/><rect x="-1.1" y="45.7" width="1.2" height="2.8" fill="#111"/><rect x="12.4" y="61.2" width="3" height="1.1" fill="#111"/><text x="-2.3" y="7.1" font-size="2.8" fill="#555" text-anchor="end">10⁵</text><text x="-2.3" y="21.3" font-size="2.8" fill="#555" text-anchor="end">10⁴</text><text x="-2.3" y="38.1" font-size="2.8" fill="#555" text-anchor="end">10³</text><text x="-2.3" y="47.2" font-size="2.8" fill="#555" text-anchor="end">0</text><text x="-2.3" y="56.5" font-size="2.8" fill="#555" text-anchor="end">-10³</text><text x="4.5" y="66.1" font-size="2.8" fill="#555" text-anchor="middle">-10³</text><text x="15.2" y="66.1" font-size="2.8" fill="#555" text-anchor="middle">0</text><text x="25.1" y="66.1" font-size="2.8" fill="#555" text-anchor="middle">10³</text><text x="41.5" y="66.1" font-size="2.8" fill="#555" text-anchor="middle">10⁴</text><text x="56.7" y="66.1" font-size="2.8" fill="#555" text-anchor="middle">10⁵</text></g>
<g transform="translate(183.3 368.4)"><rect x="0" y="0" width="61.8" height="61.2" fill="#fff" stroke="#b8b8b8" stroke-width=".8"/><rect x="15" y="14" width="34" height="30" rx="5" fill="#aab4ea" opacity="0.07" filter="url(#b15)"/><path transform="scale(.1)" d="M438 51h6m-314 104h6m-3-28h6m1 25h6m-4-11h6m4 6h6m7 12h6m-5-8h6m-1-27h6m-2 18h6m-2-8h6m11 13h6m-6-8h6m-5 20h6m0-10h6m-5 2h6m-5-16h6m-4 17h6m-4-5h6m3-1h6m10-5h6m1 17h6m2-33h6m9-2h6m9 3h6m3 16h6m5 3h6m-4-14h6m34 6h6m15 22h6m-5-2h6m8-1h6m-2-25h6m-4 25h6m10 1h6m0 2h6m-5-26h6m-2 1h6m-3 18h6m-5 1h6m-5-5h6m1 4h6m-5-2h6m-6-3h6m-4 9h6m-6-3h6m-6 2h6m-3 4h6m-4-24h6m-6-6h6m-3 30h6m-6-25h6m-5 13h6m-5 0h6m-6 1h6m2-26h6m-1 30h6m4-18h6m-5 17h6m-4 8h6m-6-19h6m18-10h6m-354 68h6m-2-26h6m-1 16h6m-2 6h6m-6-11h6m-4 1h6m-3-10h6m-1-11h6m-5 23h6m-4-9h6m-4 21h6m-5-29h6m-5 15h6m-5 5h6m-3-10h6m-5 20h6m-5-1h6m-2-4h6m-6-24h6m-2 28h6m-5-15h6m-6-10h6m-6 12h6m-6 14h6m-4-6h6m-5-11h6m-6 14h6m-5-18h6m-4-14h6m-6-2h6m-6 33h6m-4-3h6m-6 6h6m-6-31h6m-4 17h6m-6-3h6m-5 12h6m-4-6h6m-4 7h6m-5-29h6m-5 17h6m-5-1h6m-3-8h6m-5 0h6m-4 6h6m-4 7h6m-5-26h6m-5 6h6m-5 10h6m-3-16h6m-6 36h6m-5-21h6m-5 24h6m-5-3h6m-2-14h6m-5 4h6m-3 0h6m-1 0h6m-6 3h6m-5-21h6m22-3h6m12 31h6m4-23h6m-1 8h6m6-2h6m-6 6h6m3-19h6m2 20h6m9-8h6m5 15h6m-4-10h6m-4-4h6m-5-9h6m-5 18h6m-5-14h6m-5 5h6m-4-4h6m-3-3h6m-6 27h6m-5-12h6m-2 10h6m-5-15h6m-5-11h6m-5 26h6m-5-1h6m-5-5h6m-6 6h6m-5-3h6m-6 3h6m-5-8h6m-4 7h6m-5 0h6m-6-13h6m-5 3h6m-5-6h6m-5 14h6m-6-11h6m-6-4h6m-5 12h6m-5-21h6m-6 29h6m-6-25h6m-6-13h6m-5 34h6m-6-21h6m-6-8h6m-6 18h6m-5 7h6m-6 8h6m-5-7h6m-5-10h6m-6-2h6m-5 1h6m-5-20h6m-6 19h6m-6-4h6m-4 23h6m-6-14h6m-6-6h6m-5-5h6m-6 9h6m-4-2h6m-5-20h6m-5 16h6m-6 17h6m-6-6h6m-6 2h6m-5 4h6m-6-9h6m-6 8h6m-5-6h6m-6-1h6m-6-22h6m-6 27h6m-5 1h6m-5-26h6m-6 25h6m-5-3h6m-6-3h6m-6 0h6m-5-13h6m-6 26h6m-6-19h6m-6 11h6m-5 0h6m-6-17h6m-6-1h6m-6 27h6m-5-15h6m-6-4h6m-6 8h6m-5-7h6m-6 16h6m-5-26h6m-6 27h6m-5 0h6m-6-27h6m-6 5h6m-6 12h6m-5-1h6m-6 7h6m-5-8h6m-6 6h6m-6-29h6m-6 8h6m-6-7h6m-5 16h6m-6 14h6m-6-28h6m-5 20h6m-6 8h6m-5-23h6m-6 24h6m-6-6h6m-6-21h6m-5 28h6m-6 2h6m-6-25h6m-6 20h6m-5-20h6m-6 18h6m-5-15h6m-5 11h6m-6-22h6m-6 13h6m-5 2h6m-6 4h6m-6-1h6m-6-19h6m-5 8h6m-5 23h6m-5-14h6m-5-13h6m-5 0h6m-5-4h6m-6 25h6m-5-29h6m-5 21h6m-5 2h6m-6-19h6m-6 2h6m-5 27h6m-6-17h6m-5 20h6m-6-6h6m-5-2h6m-5 4h6m-5-20h6m-5 5h6m-5-3h6m-5 11h6m-6-19h6m-5 26h6m-5 7h6m-6-25h6m-5-1h6m-5-6h6m-5 27h6m-5-11h6m-4-18h6m-4 11h6m-6-11h6m-4 6h6m-4 20h6m-5-25h6m-6 20h6m-4-13h6m-6-2h6m-4-6h6m-4 5h6m6 5h6m4 21h6m-3-17h6m-2-19h6m-338 71h6m-6-23h6m-4 14h6m-5 7h6m-5-28h6m-5 19h6m-6-3h6m-5-17h6m-5 5h6m-6 30h6m-5-26h6m-4 9h6m-5 20h6m-3-34h6m-6 11h6m-6-2h6m-2 14h6m-5-27h6m-5 13h6m-5-5h6m-6 22h6m-5-6h6m-6 8h6m-4-23h6m-6 23h6m-4-15h6m-6 6h6m-4 11h6m-6-29h6m-5 5h6m-5 14h6m-6-11h6m-6-11h6m-5 13h6m-5 23h6m-6-11h6m-6-18h6m-5-9h6m-5 18h6m-6-9h6m-6 27h6m-6-23h6m-6-4h6m-6 8h6m-6 14h6m-6-29h6m-5 35h6m-5-1h6m-6-13h6m-6 4h6m-6-27h6m-6 8h6m-5-6h6m-5 7h6m-6-2h6m-5 31h6m-6-9h6m-6-14h6m-4-13h6m-5 1h6m-5-1h6m-4-2h6m-6 25h6m-6 3h6m-6 0h6m-6 2h6m-6-20h6m-5 26h6m-5-3h6m-6-17h6m-6-1h6m-6-14h6m-5 15h6m-5 18h6m-5-21h6m-6 14h6m-6 4h6m-5-3h6m-5-23h6m-6 2h6m-6 11h6m-5-4h6m-6-4h6m-5 11h6m-4 0h6m-6-17h6m-6 3h6m-5 8h6m-6-7h6m-6-8h6m-5 18h6m-6-15h6m-2 13h6m-5 16h6m-3-22h6m-4-2h6m-5 0h6m-4-6h6m-5 13h6m-5 1h6m-5-7h6m-5 27h6m-5-20h6m-4-10h6m-6 24h6m-4-13h6m-5-13h6m-1 31h6m-2 1h6m-4-18h6m-4 21h6m-2-4h6m1-24h6m14 18h6m6-15h6m-2-2h6m3 10h6m-2 16h6m13-21h6m-5 3h6m-5 17h6m-3-26h6m-5 17h6m-1-8h6m-5 15h6m-3-22h6m-4 18h6m-6 7h6m-5-14h6m-6 2h6m-5 7h6m-6-20h6m-6 25h6m-5-37h6m-6 17h6m-5 7h6m-5-7h6m-5 4h6m-5 9h6m-6-8h6m-5-8h6m-6 17h6m-5-23h6m-5 18h6m-6-8h6m-6 2h6m-5 5h6m-5 4h6m-6-14h6m-5 13h6m-6 3h6m-6-13h6m-6 13h6m-5-20h6m-4 3h6m-6-7h6m-4 14h6m-5 2h6m-6-23h6m-5 18h6m-5 0h6m-5-5h6m-6 25h6m-5-24h6m-5 3h6m-5 9h6m-6 0h6m-5 2h6m-5-4h6m-6-1h6m-6-22h6m-6 22h6m-5-20h6m-6 0h6m-5 30h6m-6-28h6m-6 29h6m-5-13h6m-5 14h6m-6-33h6m-6 15h6m-5-14h6m-6 17h6m-6-11h6m-6 9h6m-6-5h6m-6 1h6m-6-7h6m-6-7h6m-4 4h6m-5 33h6m-6-36h6m-5 9h6m-6 20h6m-6-15h6m-6 1h6m-6-12h6m-5 12h6m-5-3h6m-6 10h6m-6 3h6m-5-17h6m-6 19h6m-6-20h6m-6-2h6m-4 20h6m-6-19h6m-6-3h6m-5 3h6m-6-4h6m-6 2h6m-6-3h6m-5 24h6m-5-27h6m-6 9h6m-6-1h6m-5 15h6m-6 7h6m-6-25h6m-5 31h6m-6-20h6m-6 2h6m-5-3h6m-5-8h6m-5 3h6m-5 11h6m-6-7h6m-6 13h6m-6-26h6m-6 21h6m-6 5h6m-6 5h6m-6-18h6m-5-5h6m-6 21h6m-6 7h6m-6-25h6m-5 18h6m-5-23h6m-6-7h6m-6 37h6m-6-9h6m-6-15h6m-5-11h6m-6 12h6m-6 18h6m-6-8h6m-6 9h6m-5-33h6m-5 35h6m-4-32h6m-5 20h6m-6-18h6m-5-4h6m-4 25h6m-5-24h6m-6-2h6m-6 6h6m-6 11h6m-5 0h6m-4-6h6m-5 26h6m-5-37h6m-6 14h6m-6 2h6m-5 18h6m-6-34h6m-5 23h6m-6-5h6m-5-17h6m-5 20h6m-6 18h6m-6-7h6m-5-11h6m-4 0h6m-2-16h6m-4 10h6m-4 9h6m-4-16h6m-6 8h6m-5-5h6m-1 7h6m-5-12h6m-3 27h6m-5-24h6m-5 0h6m-6 15h6m-1-17h6m-3 17h6m-5 8h6m-5-11h6m-4 11h6m-3-30h6m-5 17h6m-3 19h6m-6-18h6m3 9h6m-5 6h6m-6-15h6m-5-11h6m-1 0h6m-6-1h6m-5 25h6m2 3h6m-5-22h6m28 3h6m-392 36h6m-3-9h6m-1 7h6m2 23h6m1-14h6m-5-19h6m1 0h6m-6 4h6m0 7h6m-3 20h6m-6-1h6m-4-25h6m-6 9h6m-5-8h6m-6-1h6m-4 21h6m-6 11h6m-3-37h6m-5 5h6m-5 31h6m-6-8h6m-5-4h6m-5 3h6m-6-1h6m-6-24h6m-6 1h6m-5-2h6m-4 19h6m-6-14h6m-5-1h6m-5 21h6m-4 7h6m-6-10h6m-5-24h6m-1 22h6m-6 3h6m-2 9h6m-5-12h6m-5-11h6m-3 11h6m-4-15h6m-5 30h6m-5-30h6m-6-1h6m-6 8h6m-5-5h6m-5-5h6m-6 7h6m-3-6h6m-6 0h6m-3 17h6m-6 10h6m-5-28h6m-5 2h6m3 4h6m6-7h6m-3 20h6m0 1h6m0 14h6m11-19h6m14-7h6m0 20h6m2 6h6m-3-25h6m-2 11h6m0-3h6m-5 4h6m-6 2h6m-5 4h6m-6 8h6m-5-35h6m-5 22h6m-5-8h6m-2 7h6m-2-15h6m-5 6h6m-4 0h6m-5 17h6m-6-19h6m-5-6h6m-4 17h6m-4-23h6m-6 6h6m-5 10h6m-6-7h6m-4-11h6m-1 5h6m-6-5h6m-5 39h6m-5-31h6m-5 4h6m-6 21h6m-5-29h6m-6 9h6m-5 10h6m-6-14h6m-6 28h6m-5-12h6m-6-15h6m-5-3h6m-4 21h6m-5-13h6m-6-4h6m-5 1h6m-3-11h6m-5 15h6m-6 5h6m-3-6h6m-6 19h6m-6-22h6m-5-4h6m-4 0h6m-6 10h6m-4-15h6m-6 0h6m-5 3h6m-6-1h6m-2 23h6m-4-19h6m-4 10h6m-6 2h6m-2-17h6m-5 28h6m-6-2h6m-3-26h6m-6-3h6m-5 15h6m-3-7h6m-4-8h6m5 33h6m-2-15h6m-4 19h6m-5-34h6m-2 26h6m1-24h6m-5 12h6m-5 21h6m0-17h6m-3-18h6m-5 33h6m0-15h6m-2 11h6m-3-5h6m-5 9h6m-3-30h6m-3 32h6m-6-38h6m-3 21h6m-3-13h6m-4 23h6m-4-2h6m-2-25h6m2 1h6m14 6h6m-370 64h6m-2-19h6m-6 22h6m-6-37h6m-5 30h6m-5-16h6m-2-16h6m0 13h6m-5 9h6m-4-6h6m-3-16h6m-6 22h6m-3-15h6m-3 1h6m-5 11h6m-6-12h6m-4 26h6m-5-16h6m-5 3h6m-6 4h6m-5-14h6m-5 3h6m-5-2h6m-6 12h6m-4 7h6m-4-28h6m-6 24h6m-6 3h6m-5-16h6m-3 9h6m-6-11h6m-5-4h6m-5 20h6m-6 4h6m-5-8h6m-6-15h6m-5 25h6m-6-6h6m-6-2h6m-5-24h6m-5 35h6m-6-1h6m-5-16h6m-6 2h6m-5-19h6m-6 37h6m-5-5h6m-4-19h6m-6 13h6m-5 6h6m-6-7h6m-5-25h6m-3-2h6m-6 9h6m-6 13h6m-5-19h6m-6 30h6m-6-14h6m-5 13h6m-6-7h6m-5-2h6m-5 13h6m-6-3h6m-6-9h6m-4-5h6m-5 0h6m-5 11h6m-6-26h6m-5 16h6m-5-3h6m-5-14h6m-6 36h6m-6-7h6m-5-30h6m-1 29h6m-6-5h6m-6-19h6m-2-2h6m-3 25h6m-6-3h6m1-26h6m-6 33h6m0-21h6m-2 9h6m-3-11h6m-3 15h6m-2-10h6m0 15h6m-5-30h6m-6 31h6m2 7h6m6-6h6m-2-3h6m-5-16h6m-4-3h6m-5 26h6m0-32h6m2 4h6m-2 29h6m3-25h6m-1 22h6m-5-27h6m-6 20h6m1-26h6m4 5h6m-4 8h6m2 8h6m-2 11h6m-3 4h6m1-38h6m-4 32h6m-5 0h6m-5-21h6m-2-2h6m-4 5h6m-6-3h6m-5 28h6m-6-21h6m0 5h6m-6-12h6m-3-3h6m-6 6h6m-3 5h6m-5-4h6m-3 16h6m-4-10h6m-5 10h6m-5-2h6m0 7h6m-5-23h6m-3 22h6m-6-10h6m-4 5h6m0-24h6m-2 29h6m-1-10h6m-6 2h6m-4 1h6m-5-15h6m-6 17h6m-5-15h6m-5-9h6m-6 4h6m-6 14h6m-4-24h6m-5 3h6m-4 28h6m-5-16h6m-5 12h6m-6-21h6m-5 29h6m-3 2h6m-3-28h6m-3-2h6m-3 7h6m-5 9h6m-4-12h6m-5-8h6m-5 36h6m-6-18h6m-6-12h6m-5 4h6m-6 17h6m-4 3h6m-4 5h6m-2-12h6m-6 13h6m-5-24h6m-5 5h6m-6-2h6m-5-7h6m-6 16h6m-5 10h6m-3 2h6m-5-21h6m-5 21h6m-4-3h6m-6-8h6m1-21h6m0 15h6m-4-4h6m-5 14h6m-5-1h6m-5 7h6m-1-13h6m-5 2h6m-1 4h6m-368 44h6m-1-24h6m3 27h6m-4-29h6m-6 12h6m-3-7h6m-3 10h6m-4-7h6m-5 15h6m-6-27h6m-5 26h6m-6 7h6m-4-13h6m-6-12h6m-5 10h6m-6-5h6m-5 10h6m-4-3h6m-5-14h6m-5 6h6m-6-13h6m-6 24h6m-6-9h6m-6 14h6m-5-32h6m-6 38h6m-4-1h6m-6-32h6m-6 33h6m-5-12h6m-6 11h6m-5-12h6m-6 6h6m-5-17h6m-6 19h6m-4-14h6m-5 8h6m-6 5h6m-6-31h6m-5 27h6m-5-10h6m-6 10h6m-4 6h6m-6-9h6m-5-24h6m-6 30h6m-5-20h6m-5 15h6m-5-9h6m-4-11h6m-6 25h6m-4-30h6m-5 22h6m-4 14h6m-6-8h6m-4-24h6m-5 22h6m-5-20h6m-6 9h6m-6 15h6m-6-6h6m-5-6h6m-3 8h6m-6-23h6m-6 17h6m-4 6h6m-5-4h6m-5 2h6m-6 7h6m-5-26h6m-5 23h6m-2 6h6m-5-35h6m-6 26h6m-4 5h6m-5-7h6m-5-6h6m-6-9h6m-4 15h6m-6 12h6m-4-2h6m-6 4h6m-6-7h6m-4-5h6m-5-27h6m-3 27h6m-5-26h6m-6 32h6m-5-23h6m-4 3h6m-6 25h6m-5-24h6m-2 25h6m-3-2h6m3-3h6m-5-10h6m-5-22h6m-1 4h6m-4 28h6m-3 5h6m16-37h6m-3 16h6m-2 9h6m0-21h6m-5 17h6m-4-20h6m-5 21h6m-5-7h6m-5-10h6m-4-1h6m-4 23h6m-5-8h6m-5-8h6m-3 21h6m-5-28h6m-1 28h6m1-32h6m-5 20h6m-4 12h6m-4-22h6m-4-5h6m-5 7h6m-4-13h6m-1 26h6m-5 6h6m-5-3h6m-5-30h6m-5 0h6m-6 28h6m-5 4h6m-3-15h6m-4 9h6m-6-23h6m7 5h6m5 14h6m1 5h6m0-16h6m20 10h6m-3-21h6m-5 20h6m-5 2h6m-1-20h6m-4 37h6m1-25h6m-3-10h6m-6 6h6m-6 27h6m-6-5h6m-4-25h6m-3 30h6m-6-36h6m-3 4h6m-6 3h6m-4 8h6m-6 1h6m-6 9h6m-6 12h6m-5-4h6m0-1h6m-6-16h6m-3 9h6m-5-13h6m-3 1h6m-6 21h6m-2-2h6m-6-8h6m0 1h6m-6-17h6m-4 30h6m-6-31h6m2 7h6m-4-4h6m-4 10h6m-6 15h6m-4-28h6m-6 6h6m-4-10h6m10 9h6m-4 16h6m3 10h6m-402 33h6m7-8h6m-2-12h6m4 24h6m-3-13h6m-2 4h6m-5-11h6m-6 0h6m-5-15h6m-3 5h6m-6 1h6m-5 31h6m-5-36h6m-6 3h6m-6-2h6m-5 26h6m-5-21h6m-5 15h6m-6-20h6m-5 12h6m-3 21h6m-6-18h6m-5-14h6m-5 30h6m-4 4h6m-5-6h6m-5-1h6m-4 5h6m-6-23h6m-5 16h6m-3-1h6m-5 8h6m-3-29h6m-5 24h6m-5-31h6m-5 23h6m-6 8h6m-5-22h6m-6-4h6m-5 25h6m-5-22h6m-6-3h6m-5 22h6m-4-10h6m-5-10h6m-5 17h6m-6-17h6m-5 11h6m-5-16h6m-5 27h6m-6 3h6m-4-25h6m-5-3h6m-5 5h6m-4 3h6m-6 5h6m-5-8h6m-5 21h6m-5-6h6m-6-8h6m-5 11h6m-6 10h6m-6-37h6m-4 17h6m-4 14h6m-5-24h6m-6 12h6m-5 8h6m-6-2h6m-6-8h6m-6-5h6m-4 17h6m-6-14h6m-4 11h6m-5-22h6m-6 9h6m-5 4h6m-6-7h6m-6 0h6m-5 17h6m-4-27h6m-5 15h6m-6 7h6m-5 0h6m-5 1h6m-5 9h6m-5-23h6m-5-3h6m-5 19h6m-6 6h6m-4-6h6m-5-6h6m-4 5h6m-5 3h6m-1-9h6m-5-11h6m-2 27h6m-6-5h6m-5-22h6m-2 30h6m-4-16h6m-3-10h6m-5 12h6m-3 13h6m-4-9h6m-1-16h6m-4 27h6m-4-23h6m-5 22h6m-2-3h6m1-20h6m3-4h6m0 17h6m-5-21h6m-3-1h6m-4 5h6m-4 21h6m-2-28h6m-6 14h6m-2 6h6m-4 16h6m-4-38h6m-5 29h6m-3-24h6m-4 11h6m-5 16h6m-6 5h6m-6-34h6m-5 35h6m-2-20h6m-3 20h6m-4-4h6m-4-8h6m-3 7h6m-2-32h6m-2 31h6m-6 5h6m-5-14h6m10 14h6m-4-28h6m-5 3h6m-2 7h6m-6 1h6m-4 11h6m-6-21h6m10-9h6m2 35h6m-3-1h6m4-18h6m-3-18h6m-3 26h6m-1-8h6m-5-14h6m-3 30h6m-4-31h6m0 6h6m-2-2h6m1-3h6m-3-3h6m-6 5h6m-4 14h6m-5-8h6m-4 11h6m-6-16h6m-4 22h6m-3-19h6m-5 8h6m-5-15h6m-4 34h6m-6-28h6m-4 6h6m-1 6h6m0-15h6m-4 20h6m-3 3h6m-3-28h6m-4 11h6m-5 25h6m-3-18h6m-2-18h6m0 12h6m14 26h6m-1-24h6m-408 41h6m12 9h6m-3-11h6m-4-5h6m2 19h6m5-17h6m-5 12h6m-5-14h6m-6 14h6m-6-16h6m-6 23h6m-6-29h6m-5 9h6m-6 3h6m-6 1h6m-5 3h6m-6 5h6m-6 8h6m-6-3h6m-6 9h6m-5-34h6m-6 30h6m-6 7h6m-4-30h6m-6 10h6m-6 12h6m-5-20h6m-6 3h6m-6-10h6m-5 10h6m-6 7h6m-6-7h6m-5 11h6m-6-2h6m-6-17h6m-6 10h6m-5-9h6m-6 24h6m-5-12h6m-6-1h6m-6 5h6m-6 6h6m-6-16h6m-5 17h6m-6-8h6m-6 0h6m-6-8h6m-6 13h6m-5-23h6m-6 17h6m-6-8h6m-5 19h6m-6-20h6m-5 13h6m-6-1h6m-5-5h6m-6 13h6m-6-5h6m-6 4h6m-5-4h6m-6 1h6m-6-12h6m-6 6h6m-6-13h6m-6 3h6m-5-11h6m-6 31h6m-5-4h6m-6-14h6m-6 11h6m-6 13h6m-5-35h6m-6-3h6m-5 4h6m-6 30h6m-5-19h6m-6 16h6m-6-14h6m-6 11h6m-5-17h6m-6 26h6m-6-15h6m-6 16h6m-6-38h6m-6 19h6m-5 9h6m-6-16h6m-6 23h6m-6-6h6m-5 2h6m-6 1h6m-6-5h6m-6-18h6m-5 12h6m-6 11h6m-6-8h6m-6 0h6m-6 0h6m-5-3h6m-6-13h6m-5 3h6m-6-7h6m-5 1h6m-6 11h6m-5-6h6m-6 8h6m-6-13h6m-6 0h6m-5 22h6m-6 1h6m-6-15h6m-6-2h6m-6-1h6m-4 1h6m-6 22h6m-5 6h6m-6-10h6m-5-8h6m-6 4h6m-6 14h6m-4-13h6m-6-8h6m-6 8h6m-6 5h6m-6-28h6m-5 25h6m-6 0h6m-5 4h6m-6 0h6m-6-1h6m-6-13h6m-5-11h6m-5 7h6m-6 10h6m-6-14h6m-6 16h6m-6-4h6m-5 15h6m-5-13h6m-6-10h6m-5-7h6m-6 26h6m-6-2h6m-4 5h6m-5 1h6m-5-25h6m-6-10h6m-6 24h6m-5-15h6m-6 22h6m-6-23h6m-6 10h6m-6 0h6m-5-1h6m-6 16h6m-5-28h6m-6 19h6m-5-13h6m-6 17h6m-6-7h6m-5-22h6m-5 12h6m-4 19h6m-5-2h6m-5-12h6m-6 11h6m-5-9h6m-5 5h6m-4-10h6m-5 1h6m-6 1h6m-5 19h6m-6-11h6m-6-7h6m-5-8h6m-5-8h6m-6 1h6m-6 25h6m-5-5h6m-6 8h6m-5 5h6m-6-13h6m-5 13h6m-6-24h6m-5 21h6m-6-9h6m-6 5h6m-6-27h6m-5 32h6m-5-3h6m-6-29h6m-5 23h6m-6-17h6m-4 14h6m-5-14h6m-6 12h6m-4 0h6m-4 2h6m-6-10h6m-6 5h6m-6 18h6m-5 3h6m-5-33h6m-5 26h6m-6-15h6m-6-10h6m-5 27h6m-5-8h6m-6 13h6m-6-17h6m-5 0h6m-5-3h6m-5 9h6m-6-24h6m-6 25h6m-4 0h6m-5 1h6m-5-6h6m-6 6h6m-5-12h6m-6 18h6m-6-4h6m-6-12h6m-6 5h6m-5-11h6m-5 1h6m-6 0h6m-5 8h6m-6-18h6m-5 19h6m-6-1h6m-5 12h6m-6-12h6m-6-4h6m-6-8h6m-6 6h6m-5 19h6m-6-19h6m-5 13h6m-5-8h6m-4 14h6m-6-4h6m-5-4h6m-6 3h6m-5-21h6m-5-5h6m-5 15h6m-6 11h6m-6-23h6m-5 20h6m-5 10h6m-6-25h6m-6 14h6m-6 1h6m-5-13h6m-6-5h6m-5 9h6m-5 15h6m-6-26h6m-5 15h6m-6 10h6m-5-21h6m-6 3h6m-4-5h6m-6 8h6m-5-7h6m-6 3h6m-5 1h6m-6 16h6m-6-2h6m-5 7h6m-5 0h6m-5-14h6m-5 18h6m-5-30h6m-5 26h6m-6-6h6m-4 6h6m-6-35h6m-6 17h6m-5-16h6m-6 10h6m-6 11h6m-5-17h6m-5 4h6m-6-2h6m-5 29h6m-6-8h6m-5-7h6m-5 12h6m-6-4h6m-5 5h6m-6-17h6m-5 13h6m-5-1h6m-6-18h6m-5 12h6m-6 0h6m-6 10h6m-5-22h6m-5 10h6m-5 3h6m-5 8h6m-4-19h6m-6 18h6m-6-8h6m-4-18h6m-6 14h6m-6-3h6m-5 16h6m-6-19h6m-6 13h6m-6 7h6m-4-20h6m-5 7h6m-6-3h6m-5 2h6m-6-17h6m-6 29h6m-5-18h6m-5-11h6m-6 21h6m-5 1h6m-5 12h6m-6-3h6m-6-10h6m-5 10h6m-5-8h6m-4-1h6m-5 1h6m-6-7h6m-5-4h6m-6 10h6m-6 9h6m-5-23h6m-6 19h6m-6-15h6m-6 8h6m-1 15h6m-6-26h6m-6 14h6m-5 11h6m-6-33h6m-5 2h6m-5 12h6m-5 3h6m-4-2h6m-6 13h6m-6-19h6m-6-11h6m-4 6h6m-6 10h6m-6 8h6m-5-1h6m-6 12h6m-4-3h6m-6-3h6m-6-13h6m-5-14h6m-4 10h6m-5 5h6m-6 4h6m-4 2h6m-6 0h6m-5-4h6m-6-6h6m-5 12h6m-6-9h6m-4-4h6m-6-6h6m-3 2h6m-5 0h6m-6 27h6m-5-2h6m-6-14h6m-5-2h6m-6 15h6m-5-18h6m-6 5h6m-6 15h6m-5-13h6m-5-14h6m-5 6h6m-6-9h6m-4 18h6m-5-2h6m-4-9h6m-4 15h6m-4-22h6m-6 2h6m-5 9h6m-6 6h6m-6 12h6m-5-18h6m-5-5h6m-5 5h6m-6-14h6m-6 35h6m-5-32h6m-5 2h6m-5 31h6m-3-26h6m-5 3h6m-6-6h6m-6 23h6m-5-22h6m-4 27h6m-6-21h6m-3 22h6m-6-27h6m-6 10h6m-5 8h6m-5-19h6m-6 27h6m-4-13h6m-5-11h6m-4 26h6m-5-9h6m-5 9h6m-6-39h6m-5 31h6m-1-8h6m-4 6h6m-5 5h6m-5-13h6m-5 4h6m-6 7h6m-5-14h6m-6 0h6m-4 0h6m-5 7h6m-6-5h6m-6 8h6m-4 1h6m-5-6h6m-6-4h6m-6 14h6m-5-10h6m-6 6h6m-6-2h6m-5-15h6m-6 2h6m-5 19h6m-5-23h6m-5 23h6m-4-8h6m-5-6h6m-6 5h6m-5-21h6m-5 18h6m-6-16h6m-5 33h6m-6-15h6m-5 5h6m-6 4h6m-6-21h6m-6 3h6m-4 19h6m-6-25h6m-6 0h6m-6 16h6m-5 1h6m-5-9h6m-5 9h6m-5 13h6m-6-20h6m-5 8h6m-6-21h6m-5 25h6m-6-9h6m-5-10h6m-4 12h6m-6-6h6m-6 15h6m-6-25h6m-5 28h6m-6-13h6m-4-14h6m-4 22h6m-6-8h6m-4-19h6m-6 11h6m-6 4h6m-5 15h6m-5-9h6m-2 8h6m-6-18h6m-6 2h6m-5-3h6m-5-12h6m-6 13h6m-5-8h6m-5 27h6m-6-6h6m-6 4h6m-4-4h6m-6-27h6m-5 1h6m-3 34h6m-6-19h6m-5 8h6m-6-24h6m-4 24h6m-4-8h6m-5 17h6m-5-20h6m-5 23h6m-4 0h6m-5-24h6m-6 14h6m-3 4h6m-5-9h6m-6-13h6m-3 12h6m-5 16h6m-2-23h6m1 7h6m-5-3h6m0 15h6m-1-1h6m-344 41h6m-5-27h6m-6-2h6m-4 1h6m0-2h6m-6 3h6m-5-3h6m-5 19h6m-1 7h6m-4-12h6m-5-12h6m-4 3h6m-6 5h6m-6 20h6m-4-16h6m-6 8h6m-4-23h6m-3 5h6m-4 13h6m-6-18h6m-2 38h6m-6-11h6m-5-27h6m-6 4h6m-3-1h6m-6 27h6m0-20h6m-6 1h6m-3-3h6m-6 14h6m-5-23h6m-5 32h6m-5-32h6m-5 7h6m-4 0h6m-6-6h6m-5 5h6m-5 1h6m-6-5h6m-3 10h6m-5-7h6m1-1h6m-3 12h6m-6-13h6m-5 28h6m1-20h6m-5 11h6m-4-20h6m-6 2h6m-3 5h6m-5-7h6m-4 4h6m2 10h6m-3-7h6m-1-9h6m-6 8h6m-6-3h6m-5-5h6m-4 1h6m-4 5h6m-4-4h6m9 15h6m6-14h6m0 5h6m11-7h6m-4 12h6m-4-12h6m-5 2h6m-4-3h6m-5 35h6m-3-30h6m-4-3h6m-4 18h6m-6-18h6m1 12h6m-3-5h6m-1-7h6m-5 8h6m-4-9h6m-5 0h6m-4 36h6m3 2h6m-2-4h6m1-12h6m0-18h6m-5-5h6m-3 2h6m-6 0h6m5-2h6m-6 8h6m12-8h6m-5 22h6m-3 13h6m3 3h6m-4-36h6m-4 2h6m1 27h6m-5-26h6m-2-5h6m-2 24h6m-3 9h6m-5-25h6m1 5h6m0-13h6m-5 25h6m-6-6h6m-4-6h6m2 22h6m8-11h6m-344 40h6m2 5h6m-6-1h6m6 1h6m22-19h6m-4 17h6m43-27h6m2 14h6m-2 4h6m-1-18h6m3 1h6m3 13h6m-5 2h6m-5-4h6m-5-4h6m-1-3h6m-6 11h6m3-15h6m16 7h6m11 8h6m12-2h6m7 15h6m3-28h6m1 16h6m-4-2h6m2-13h6m-2 2h6m-5 29h6m-4-8h6m-1-19h6m-4 16h6m-1-17h6m-6 3h6m-4 13h6m-2-13h6m-5 18h6m-5-24h6m-4 24h6m-1 4h6m-5-9h6m0-12h6m-6 21h6m-1-27h6m-1 11h6m-3 2h6m3 8h6m-5 2h6m-5-20h6m-4 30h6m-2 2h6m-272 5h6m58 17h6m11-7h6m0 1h6m6 4h6m11-14h6m6 35h6m14-30h6m10-7h6m40 8h6m31-4h6m4 33h6m-1-2h6m-5-25h6m-4-8h6m45 1h6m-328 46h6m10 2h6m60 6h6m7-15h6m13 7h6m-1 1h6m-5-8h6m13 15h6m9-3h6m110 22h6m-146 9h6" stroke="#2f44c4" stroke-width="6" stroke-opacity=".36"/><ellipse cx="38.8" cy="19.8" rx="3.2" ry="2.2" fill="#4cc0a0" opacity="0.8" filter="url(#b1)" transform="rotate(-50 38.8 19.8)"/><ellipse cx="18.5" cy="20.5" rx="1.8" ry="2.6" fill="#4a98d0" opacity="0.45" filter="url(#b1)" transform="rotate(0 18.5 20.5)"/><ellipse cx="26.5" cy="44.6" rx="14" ry="3.3" fill="#5574d4" opacity="0.55" filter="url(#b06)" transform="rotate(-3 26.5 44.6)"/><ellipse cx="23.7" cy="44.6" rx="10.5" ry="2.8" fill="#3eb0c4" opacity="0.85" filter="url(#b06)" transform="rotate(-3 23.7 44.6)"/><ellipse cx="21.6" cy="44.6" rx="8" ry="2.4" fill="#5cc24e" opacity="1" filter="url(#b06)" transform="rotate(-3 21.6 44.6)"/><ellipse cx="17.9" cy="44.6" rx="3.2" ry="1.7" fill="#d6d23c" opacity="1" filter="url(#b06)" transform="rotate(-3 17.9 44.6)"/><ellipse cx="17.2" cy="44.6" rx="1.5" ry="1.2" fill="#e8642a" opacity="1" filter="url(#b06)" transform="rotate(-3 17.2 44.6)"/><ellipse cx="17.3" cy="44.6" rx=".9" ry=".8" fill="#de2a1e" opacity="1" filter="url(#b06)" transform="rotate(-3 17.3 44.6)"/><line x1="23.2" y1="0" x2="23.2" y2="61.2" stroke="#5a5a5a" stroke-width="1"/><line x1="0" y1="43.1" x2="61.8" y2="43.1" stroke="#4a4a4a" stroke-width="1"/><text x="1.6" y="3.6" font-size="2.9" fill="#444">Q1</text><text x="1.6" y="6.6" font-size="2.9" fill="#444">6.84</text><text x="60.2" y="3.6" text-anchor="end" font-size="2.9" fill="#444">Q2</text><text x="60.2" y="6.6" text-anchor="end" font-size="2.9" fill="#444">22.9</text><text x="1.6" y="56.8" font-size="2.9" fill="#444">Q4</text><text x="1.6" y="59.8" font-size="2.9" fill="#444">55.3</text><text x="60.2" y="56.8" text-anchor="end" font-size="2.9" fill="#444">Q3</text><text x="60.2" y="59.8" text-anchor="end" font-size="2.9" fill="#444">11.8</text><path d="M-1.6 6.1h1.6M-1.6 20.3h1.6M-1.6 37.1h1.6M-1.6 46.2h1.6M-1.6 55.5h1.6M-.9 6.1h.9M-.9 9.5h.9M-.9 13h.9M-.9 16.4h.9M-.9 19.9h.9M-.9 23.3h.9M-.9 26.8h.9M-.9 30.2h.9M-.9 33.7h.9M-.9 37.1h.9M4.5 61.2v1.6M15.2 61.2v1.6M25.1 61.2v1.6M41.5 61.2v1.6M56.7 61.2v1.6M25.1 61.2v.9M28.6 61.2v.9M32.1 61.2v.9M35.6 61.2v.9M39.1 61.2v.9M42.7 61.2v.9M46.2 61.2v.9M49.7 61.2v.9M53.2 61.2v.9M56.7 61.2v.9" stroke="#333" stroke-width=".55"/><rect x="-1.1" y="45.7" width="1.2" height="2.8" fill="#111"/><rect x="12.4" y="61.2" width="3" height="1.1" fill="#111"/><text x="-2.3" y="7.1" font-size="2.8" fill="#555" text-anchor="end">10⁵</text><text x="-2.3" y="21.3" font-size="2.8" fill="#555" text-anchor="end">10⁴</text><text x="-2.3" y="38.1" font-size="2.8" fill="#555" text-anchor="end">10³</text><text x="-2.3" y="47.2" font-size="2.8" fill="#555" text-anchor="end">0</text><text x="-2.3" y="56.5" font-size="2.8" fill="#555" text-anchor="end">-10³</text><text x="4.5" y="66.1" font-size="2.8" fill="#555" text-anchor="middle">-10³</text><text x="15.2" y="66.1" font-size="2.8" fill="#555" text-anchor="middle">0</text><text x="25.1" y="66.1" font-size="2.8" fill="#555" text-anchor="middle">10³</text><text x="41.5" y="66.1" font-size="2.8" fill="#555" text-anchor="middle">10⁴</text><text x="56.7" y="66.1" font-size="2.8" fill="#555" text-anchor="middle">10⁵</text></g>
<g transform="translate(253 368.4)"><rect x="0" y="0" width="61.8" height="61.2" fill="#fff" stroke="#b8b8b8" stroke-width=".8"/><rect x="15" y="14" width="34" height="30" rx="5" fill="#aab4ea" opacity="0.07" filter="url(#b15)"/><path transform="scale(.1)" d="M184 50h6m-31 63h6m4 6h6m23-22h6m5 17h6m15-14h6m218 15h6m-320 25h6m12 17h6m-5-31h6m-4 6h6m-4 21h6m7 3h6m-4 0h6m-5-6h6m-6-10h6m-5 19h6m-5-8h6m-3-6h6m-6 14h6m-2-17h6m-6 11h6m3-30h6m-6 36h6m-5-26h6m-5 0h6m-6 16h6m-4-4h6m-4 5h6m10-11h6m2 2h6m17 10h6m-3 8h6m9-32h6m4 6h6m19 18h6m20-10h6m1 4h6m1 2h6m12 11h6m12-19h6m1-14h6m-1 4h6m-1 9h6m-2 12h6m2 9h6m-1-11h6m-5 2h6m-5-2h6m-5-20h6m-2 26h6m0-9h6m-6 7h6m0-2h6m-6-8h6m-1-8h6m-2 25h6m1-15h6m-6 2h6m-6 11h6m10-9h6m-4-12h6m-3 23h6m4-6h6m13 1h6m2-22h6m15 14h6m-405 50h6m-5-6h6m-3 4h6m0-26h6m-5-5h6m-6 17h6m-4 3h6m-5 3h6m-2 9h6m-1-31h6m-6 30h6m-4-18h6m-5-16h6m-4 15h6m-3-5h6m-5 24h6m-5-4h6m-6 0h6m-5-21h6m-3 11h6m-5-2h6m-5 8h6m-6-2h6m-5-11h6m-6-13h6m-5 14h6m-4 16h6m-5 3h6m-6-12h6m-6 9h6m-5 7h6m-4-6h6m-5-15h6m-6 20h6m-4-26h6m-6 20h6m-5-15h6m-5 5h6m-6 11h6m-5 4h6m-6-3h6m-6-28h6m-5-2h6m-5 2h6m-6 34h6m-6-15h6m-5 6h6m-6 3h6m-6-6h6m-6 6h6m-5-1h6m-6-14h6m-4 14h6m-5 7h6m-6-23h6m-4-10h6m-6 34h6m-4-2h6m-5-3h6m-5-7h6m-5-12h6m-6-14h6m-5 13h6m-5 24h6m-6-6h6m-6-8h6m-6-2h6m-4 7h6m-6-27h6m-5 15h6m-6 21h6m-4 1h6m-5-8h6m-5-5h6m-4-14h6m-6 15h6m-6-12h6m-5 10h6m-5 5h6m-5-21h6m-6-8h6m-6 0h6m-5 31h6m-4-6h6m-3-15h6m-4 26h6m-3-7h6m-5-19h6m-5 13h6m-6 1h6m-5 11h6m-5-23h6m-1 9h6m-6-8h6m-6 9h6m-2-14h6m-4 29h6m-1 1h6m-6-8h6m-4 1h6m13 7h6m16-35h6m6 13h6m3-14h6m6 9h6m-3 19h6m-5-15h6m-6 16h6m6-17h6m-5-4h6m-4 3h6m-4-10h6m3 33h6m-5-30h6m-3 12h6m-4 18h6m-3-33h6m-6 25h6m-1-13h6m-4 17h6m-5 5h6m-5-27h6m-6 18h6m-6 1h6m-5-16h6m-4 10h6m-4-20h6m-5 32h6m-6-14h6m-5 5h6m-5 9h6m-4-11h6m-5 8h6m-5-11h6m-5 17h6m-5-7h6m-6-16h6m-4 6h6m-4 12h6m-5-23h6m-4 6h6m-6 17h6m-4-32h6m-6 36h6m-5-18h6m-6-1h6m-5 0h6m-3 20h6m-6-14h6m-6-1h6m-6 12h6m-5-25h6m-5 1h6m-4 12h6m-5 14h6m-6-14h6m-5-14h6m-5-9h6m-4 38h6m-5-27h6m-2 27h6m-6-13h6m-5-14h6m-5 4h6m-6 12h6m-6-4h6m-6 10h6m-5 3h6m-5-6h6m-6 2h6m-4-12h6m-5-8h6m-6 22h6m-5-17h6m-5 15h6m-5-25h6m-5 24h6m-5-27h6m-6-2h6m-6 32h6m-5-9h6m-5 9h6m-5-22h6m-6 6h6m-5 17h6m-4-28h6m-5 18h6m-6 9h6m-5-25h6m-5 15h6m-6-7h6m-6 14h6m-4-2h6m-6 5h6m-5-6h6m-5 6h6m-5-4h6m-2-14h6m-6 22h6m-5-18h6m-5-3h6m-4-6h6m-6 8h6m-5-10h6m-5 0h6m-5-1h6m-6 12h6m-5-1h6m-6-19h6m-6 23h6m-6 3h6m-6 10h6m-5-6h6m-6-21h6m-6 19h6m-5-10h6m-6 1h6m-5 16h6m-6-21h6m-6 6h6m-5 0h6m-5-1h6m-6 3h6m-6-15h6m-5 24h6m-5-13h6m-5 13h6m-5 6h6m-5-22h6m-6 9h6m-4 12h6m-5-30h6m-6 14h6m-6 11h6m-6-22h6m-5 22h6m-5-6h6m-5 5h6m-5-30h6m-5 22h6m-6-13h6m-5-8h6m-5 22h6m-6-14h6m-4 20h6m-3 9h6m-5-15h6m-5 1h6m-6 8h6m-4-8h6m-6-17h6m-2 8h6m-5 18h6m-5-22h6m-5 8h6m-5-9h6m-5 3h6m-4 23h6m-6-32h6m-5 32h6m-1-13h6m-4 4h6m-4-6h6m-5 9h6m-1-12h6m-4 8h6m-6-27h6m-6 6h6m0 11h6m-3 1h6m-3 12h6m-2-5h6m-4 10h6m-1-11h6m-5 2h6m31 8h6m-474 8h6m23 29h6m0-18h6m0 3h6m-4 7h6m0 7h6m1-14h6m-5 15h6m-4-5h6m-4-23h6m-2 23h6m-6-18h6m-6 5h6m-5-5h6m-5 27h6m-6-3h6m-5-23h6m-5 14h6m-6 15h6m-3-20h6m-6 9h6m-6-10h6m-5-4h6m-4-7h6m-6-3h6m-5 29h6m-5-13h6m-6-12h6m-5-4h6m-4 30h6m-6-17h6m-3-12h6m-5 4h6m-6 28h6m-6-9h6m-5-25h6m-5 11h6m-6-3h6m-6-7h6m-5 12h6m-5-4h6m-6 27h6m-5-12h6m-5 3h6m-6-18h6m-6-7h6m-5 32h6m-6-33h6m-6 6h6m-6 22h6m-6-30h6m-5 5h6m-5 0h6m-6 33h6m-5-9h6m-6-2h6m-5-7h6m-6 8h6m-6 10h6m-4-20h6m-6-1h6m-5 18h6m-5-33h6m-6 32h6m-4-8h6m-6 3h6m-6-22h6m-5-2h6m-6-3h6m-6 31h6m-5-19h6m-5-1h6m-5-9h6m-5-4h6m-6 34h6m-6-28h6m-5-7h6m-5 22h6m-5-20h6m-6 28h6m-6 9h6m-5-5h6m-6-19h6m-5-2h6m-5-5h6m-4 2h6m-4 25h6m-6-26h6m-5-3h6m-5 26h6m-4-24h6m-4 2h6m-6-10h6m-4 2h6m-3 21h6m-5 1h6m-6-5h6m-3 4h6m-2 2h6m-5 7h6m-3-17h6m6-1h6m-4 8h6m5-1h6m3-1h6m10-9h6m-6-4h6m-4 3h6m1 18h6m-2-20h6m-1 9h6m-4 9h6m-4-1h6m-1-11h6m-5 4h6m-3 10h6m-4-6h6m-5-9h6m-5 16h6m-4-28h6m-4 33h6m-6-23h6m-4 3h6m-5 15h6m-3 5h6m-4-26h6m-4 30h6m-2-9h6m-6-10h6m-5 19h6m-4-31h6m-5 10h6m-4-16h6m-5 34h6m-4-32h6m-5 15h6m-6-3h6m-4 22h6m-6-32h6m-5 0h6m-6 1h6m-6 24h6m-5-27h6m-3 26h6m-6-14h6m-4 1h6m-6-6h6m-6 28h6m-4-18h6m-6 4h6m-5 11h6m-5-13h6m-6-1h6m-6 2h6m-5-21h6m-6 6h6m-5 30h6m-5 0h6m-3-27h6m-5 21h6m-6-27h6m-5 21h6m-4-10h6m-6-1h6m-5 5h6m-6 0h6m-5 0h6m-6 3h6m-4 1h6m-4-22h6m-5 31h6m-5-14h6m-4 7h6m-5-12h6m-6 19h6m-6-29h6m-5 13h6m-6-12h6m-5 15h6m-5-20h6m-5 35h6m-5-19h6m-6 2h6m-5 3h6m-6 9h6m-6-6h6m-5-12h6m-6 22h6m-4-4h6m-5-3h6m-1 12h6m-6-20h6m-5 14h6m-6-21h6m-6-8h6m-4 29h6m-4-10h6m-6-23h6m-5 6h6m-6 26h6m-6-7h6m-6 11h6m-3-36h6m-5 3h6m-6 10h6m-6 15h6m-6-5h6m-5-4h6m-6 14h6m-6-27h6m-6-6h6m-5 4h6m-5 11h6m-6 8h6m-6-11h6m-4-3h6m-6 0h6m-5 12h6m-6-16h6m-5 0h6m-6 5h6m-5 9h6m-5-15h6m-6 32h6m-6-22h6m-5-6h6m-5-4h6m-6 26h6m-4-14h6m-2-16h6m-6 4h6m-6 23h6m-5-11h6m-6 4h6m-6-12h6m-6 22h6m-5 3h6m-6-24h6m-5 21h6m-6-28h6m-4 5h6m-4-4h6m-6 13h6m-4-7h6m-5 8h6m-5-7h6m-6 7h6m-5-16h6m-5 21h6m-6-18h6m-4 29h6m-5 4h6m-6-29h6m-3 26h6m-6-9h6m-6-8h6m-6-9h6m-6 11h6m-5 15h6m-6-33h6m-5 9h6m-6 1h6m-6 6h6m-5 13h6m-6-16h6m-5 12h6m-5-23h6m-6 6h6m-6-3h6m-4 15h6m-6-15h6m-5 5h6m-5 2h6m-4 17h6m-6-27h6m-6 15h6m-5-14h6m-6 3h6m-5-4h6m-6 17h6m-5-15h6m-6-3h6m-5 9h6m-6-1h6m-5 29h6m-6-23h6m-3-4h6m-4 10h6m-4-9h6m-5 4h6m-3-15h6m-5 35h6m-6-6h6m-4-6h6m-5 8h6m-6-28h6m-5 27h6m-5 1h6m-6-21h6m-6-3h6m1-9h6m-4 35h6m-5-22h6m-1 8h6m-5-12h6m-6 0h6m-5 8h6m-2-1h6m-2-11h6m-5 3h6m1-7h6m23 27h6m-436 36h6m-4 9h6m7-28h6m2 31h6m-1-23h6m0 2h6m-3 10h6m-4-14h6m-5 21h6m-2-11h6m-5-15h6m-3 33h6m-6-11h6m-6-24h6m-4 30h6m-5-16h6m-6 12h6m-4-29h6m-6 31h6m-6-13h6m-4 9h6m-6 7h6m-4-7h6m-5-21h6m-6 21h6m-5 8h6m-5 0h6m-6-25h6m-3 10h6m-6 11h6m-4 5h6m-5-8h6m-5 3h6m-6-26h6m-6 4h6m-6-8h6m-5 22h6m-6 3h6m-5-22h6m-6 10h6m-6-10h6m-5 26h6m-6-31h6m-6 17h6m-5-2h6m-5 16h6m-6-12h6m-6 7h6m-5 2h6m-6-19h6m-5 18h6m-5-7h6m-6-10h6m-5 27h6m-6-29h6m-6 10h6m-5 6h6m-6 15h6m-6-12h6m-5-7h6m-5 10h6m-6-19h6m-5 11h6m-6-8h6m-5 2h6m-4-10h6m-6 31h6m-5-18h6m-4-2h6m-5 21h6m-6-8h6m-6-5h6m-5-3h6m-6 8h6m-5-7h6m-5-20h6m-6-3h6m-6 33h6m-5-20h6m-2 1h6m-6 14h6m-6-17h6m-5-8h6m-6 20h6m-5-19h6m-5 34h6m-5-35h6m-6 14h6m-6 9h6m-5-12h6m-6 15h6m-5-25h6m-6 32h6m-4-30h6m-5 15h6m-2-1h6m-6-8h6m-5-1h6m-6-9h6m-6 36h6m-6-14h6m-5 3h6m-6 6h6m-5-32h6m-5 23h6m-5 7h6m-4-23h6m-4-2h6m-5 18h6m-6-24h6m-4 30h6m-5-11h6m-4-16h6m-3 25h6m0 3h6m-3-7h6m-6-10h6m-6 5h6m-2 9h6m7 0h6m-4 0h6m-4-24h6m-2 12h6m-4-15h6m-3 27h6m5-16h6m3 20h6m-3-32h6m2 3h6m-4 27h6m3 9h6m-4-29h6m-6 13h6m-3-7h6m4 21h6m-2-30h6m-4-2h6m-6 14h6m7 13h6m-6 5h6m3 1h6m-6-21h6m-1-5h6m-5-7h6m-6 2h6m-1 9h6m-6-12h6m-6 29h6m-4-10h6m-6-10h6m-5 0h6m-5-7h6m-4 10h6m-6 0h6m-2-15h6m-5 2h6m-4 21h6m-6-7h6m-6-10h6m-6-1h6m-5 6h6m-5-2h6m-2-3h6m-4 24h6m-6 3h6m-4-33h6m-5 16h6m-5-6h6m-3 26h6m-3-2h6m-6-9h6m-4 4h6m-6 5h6m-3-32h6m-5 8h6m-4-4h6m-5 16h6m-6-1h6m-6-17h6m-6 0h6m-4-3h6m-6 11h6m-3 1h6m-5 10h6m-3-14h6m-5 5h6m-2 13h6m-6-18h6m-5 22h6m-5-24h6m-6-8h6m-4 4h6m-3 32h6m-6-33h6m-4 8h6m-4 24h6m-4-34h6m-4 32h6m-3-7h6m-6 12h6m-5-6h6m-3-1h6m-6-10h6m-2 11h6m-3-19h6m1 14h6m-5 1h6m-4-11h6m-5 18h6m-6-26h6m-5 15h6m-6 15h6m-5-25h6m-5 3h6m-3 10h6m-2-15h6m-5 8h6m-5 15h6m-4-13h6m-4-12h6m-3 13h6m-3-6h6m-5 5h6m8 4h6m-5-16h6m0 25h6m-412 34h6m11-2h6m0-2h6m-4-11h6m-5 9h6m-4-18h6m-4 4h6m-2 18h6m-6 10h6m-4-5h6m-1-27h6m-6 29h6m-5 2h6m-6-32h6m-4 18h6m-6 13h6m-5-34h6m-6 8h6m-5 27h6m-6-14h6m-4-16h6m-5 6h6m-3 15h6m-6-1h6m-4 11h6m-5-19h6m-5 17h6m-5-8h6m-5 7h6m-6-11h6m-6-14h6m-6 4h6m-4 13h6m-6-14h6m-6-7h6m-5 15h6m-4 19h6m-2-26h6m-5 22h6m-6-1h6m-6 5h6m-4-9h6m-6-23h6m-5 8h6m-6-15h6m-6 17h6m-5 12h6m-4-2h6m-6-15h6m-6-7h6m-5 10h6m-6-5h6m-4 17h6m-4 8h6m-5-30h6m-6 16h6m-6 12h6m-5-22h6m-6-1h6m-6 25h6m-4-2h6m-5-13h6m-4 10h6m-6-3h6m-4-9h6m-6 7h6m-6-16h6m-3-9h6m-5 39h6m-5-19h6m-5-14h6m-6 10h6m-6 15h6m-5 1h6m-6-7h6m-5 8h6m-6 4h6m-5-7h6m-5-25h6m-5 16h6m-6-6h6m-5-14h6m-6 15h6m-5 7h6m-6 16h6m-6-3h6m-4-24h6m-6-4h6m-6-1h6m-4 32h6m-6-34h6m-5 27h6m-6-12h6m-5-6h6m-5-9h6m-5 25h6m-4-15h6m-6-6h6m-6 19h6m-4 8h6m-4-15h6m-4-5h6m-6 17h6m-5-29h6m-5-2h6m-4 17h6m-5 20h6m-5-27h6m-5 23h6m-6-21h6m-6-9h6m-4 21h6m-2-13h6m-5-5h6m-3 7h6m-5 13h6m-2 2h6m-6-6h6m-1 1h6m17-21h6m-1 4h6m-5 23h6m-1-9h6m12 3h6m-4 12h6m1-7h6m-1 3h6m-6-24h6m-1 19h6m2-8h6m-4-15h6m-5 15h6m-5-11h6m-5 24h6m-6-25h6m-2 17h6m-3-8h6m-2 0h6m-5-5h6m-5-6h6m0 19h6m3 9h6m-4-29h6m-5 8h6m-5-13h6m-4 29h6m-4-16h6m-2 24h6m-2-35h6m3 16h6m-6 21h6m-6-12h6m-6-21h6m-5 2h6m-5 26h6m-5-9h6m-1 3h6m-2-1h6m2 8h6m-3-7h6m-4-22h6m-5 22h6m-4 1h6m-4 9h6m-5-34h6m-5 18h6m-6-4h6m-4 16h6m-5-15h6m-5 0h6m-5-13h6m-5 1h6m-4 25h6m-4-29h6m-2 28h6m-5-21h6m-6 6h6m-6 5h6m-4-5h6m-5 20h6m-5-11h6m-5-20h6m-1 11h6m-2-14h6m-6 19h6m-5-12h6m-2 17h6m-2 13h6m-6-10h6m-3-20h6m-3 9h6m-5-17h6m0-1h6m-6 17h6m-5 7h6m-5 6h6m-6-27h6m-4 16h6m-4-7h6m-2 7h6m-4-3h6m-3 15h6m-4-19h6m-5 14h6m0-2h6m-4 13h6m-1-29h6m6 27h6m-4-14h6m-420 56h6m10-18h6m-3 9h6m-4-8h6m0 6h6m-1 11h6m-1-12h6m-5 11h6m-5-11h6m-2-23h6m-5 17h6m-4 8h6m-4 11h6m-6-1h6m0-15h6m-3-21h6m-3 1h6m-6 19h6m-6-18h6m-3 17h6m-6-5h6m-5-4h6m-5-8h6m-6 16h6m-5-12h6m-5 12h6m-6 0h6m-6 0h6m-5 16h6m-4-10h6m-6-4h6m-5 16h6m-4-1h6m-5-36h6m-6 5h6m-6 8h6m-5 22h6m-5-3h6m-3-13h6m-5 2h6m-5 18h6m-6-17h6m-5-1h6m-5-17h6m-6-1h6m-6 21h6m-4-6h6m-6 16h6m-5-8h6m-4-17h6m-6-2h6m-6 14h6m-6-7h6m-5 22h6m-4-10h6m-6-24h6m-5 0h6m-6 5h6m-4 7h6m-5-8h6m-6 24h6m-4 4h6m-4-4h6m-5-2h6m-6 3h6m-6-7h6m-4-20h6m-6 30h6m-3-13h6m-3 17h6m-5-33h6m-6 33h6m-5-24h6m-6-13h6m-5 38h6m-6-24h6m-6-12h6m-5 23h6m-5-13h6m-6-9h6m-4 19h6m-5-3h6m-5 13h6m-6-10h6m-4 6h6m-4-3h6m-6-6h6m-3 16h6m-5 3h6m-6-33h6m-4 2h6m-6 29h6m-4-21h6m-6 16h6m-3-29h6m-6 13h6m-5 11h6m-4-25h6m-5 25h6m-6 8h6m3-28h6m-6 7h6m-5-13h6m-6 33h6m-4-28h6m-5 31h6m-2-34h6m-2 22h6m3 3h6m0-9h6m-1-19h6m-2 14h6m-6-7h6m-6 7h6m-5 2h6m-5 20h6m1-34h6m-3 24h6m-1 12h6m-4-24h6m-6 23h6m-3-13h6m-4 11h6m-1 1h6m2-10h6m-5 1h6m-3 5h6m-5 6h6m-6-27h6m-1 22h6m-6 2h6m7-28h6m-5 5h6m-4 24h6m-6-11h6m-6-25h6m-4 24h6m-1-19h6m-2 13h6m-4 1h6m-4-7h6m1 19h6m-3-1h6m2 4h6m-5-1h6m-5-21h6m-5 12h6m-6 14h6m-6-13h6m-1-16h6m-4 0h6m-5 15h6m-5 1h6m-6-24h6m1 33h6m-3-26h6m-4-6h6m-5 25h6m-6-24h6m-3 28h6m-1-13h6m-4-10h6m-5-5h6m-5 29h6m0-5h6m-2-5h6m-2-8h6m-4-7h6m-6-1h6m-6 2h6m-5 23h6m-3-11h6m-4 10h6m-5 3h6m-4-27h6m-5 6h6m-6 17h6m-2 3h6m-5-2h6m-3-28h6m-1-2h6m-5 3h6m-6 20h6m-4-13h6m-1 0h6m-5 9h6m-6 10h6m-2-27h6m-3 2h6m-5 30h6m-4-22h6m-4 16h6m1-1h6m-2-11h6m-4 22h6m-5 1h6m-6-37h6m-2 16h6m-1 21h6m-4-26h6m12 26h6m-392 35h6m9-34h6m-5 23h6m-4 11h6m1-2h6m-6-3h6m-5 5h6m-6-34h6m-4 17h6m-5-6h6m-4 0h6m-4 4h6m-5 13h6m-6-12h6m-3 22h6m-6-32h6m-6 15h6m-5 0h6m-4 2h6m-5 7h6m-6 1h6m-5 0h6m-6-23h6m-6 27h6m-5-1h6m-6-2h6m-5 6h6m-5-28h6m-5 24h6m-5-8h6m-5-20h6m-4 19h6m-6-20h6m-4 14h6m-3-6h6m-4 9h6m-6-7h6m-6 3h6m-5 21h6m-6-26h6m-5-9h6m-5 6h6m-2 2h6m-5-4h6m-6-2h6m-6 23h6m-5-14h6m-5 4h6m-6 15h6m-5-13h6m-5-13h6m-4 23h6m-6-25h6m-6-2h6m-5 0h6m-6 32h6m-5 0h6m-5-11h6m-6-4h6m-6-21h6m0 18h6m-6 19h6m-6-3h6m1-4h6m-3-22h6m-5 2h6m-5 24h6m-5-15h6m-2 17h6m-1 1h6m-6-22h6m-5 24h6m-3-13h6m-6 7h6m0-29h6m-2 6h6m-3-10h6m-4 16h6m1-4h6m-3 6h6m0-13h6m-2 15h6m-4 17h6m-4-37h6m-5 22h6m-6 10h6m-6-23h6m-3 12h6m-5-7h6m5 13h6m0-7h6m-5-19h6m1 27h6m-6 11h6m-3-18h6m-5-16h6m-6-4h6m-4 0h6m-3 7h6m-5 26h6m-3-23h6m-4 9h6m-3 16h6m-5-10h6m-5-10h6m-6 5h6m-6-8h6m-5-6h6m-2 5h6m-3 7h6m0 1h6m-6-18h6m5 20h6m5-5h6m-4-6h6m22 21h6m-4 2h6m-5-15h6m-6 3h6m-1 12h6m-6 5h6m2-22h6m-4 21h6m-5-34h6m-4 29h6m-6-32h6m-4 21h6m-6 8h6m-4-23h6m-5 32h6m-6-39h6m-4 23h6m-2-9h6m-3-12h6m-5 0h6m-5 17h6m-5-12h6m-4-3h6m-4 13h6m-5-11h6m0 18h6m-2-11h6m-5 14h6m-6 10h6m-5-13h6m-5 2h6m0-1h6m-5 7h6m-5-6h6m-6 1h6m-1 5h6m-5-32h6m-5 37h6m11-5h6m0 5h6m-6-9h6m-3-21h6m18 6h6m-390 55h6m-2 1h6m-5 8h6m5-15h6m0-5h6m-2-7h6m-5 15h6m-5 1h6m-6-6h6m-6 5h6m-5-3h6m-6 2h6m-5-20h6m-6 20h6m-5-2h6m-6-4h6m-6-11h6m-5 12h6m-6 15h6m-5-6h6m-5-14h6m-5 13h6m-6-2h6m-6-3h6m-6 8h6m-5-16h6m-6-8h6m-6 21h6m-6 10h6m-5-13h6m-6-21h6m-6 22h6m-6-3h6m-5 1h6m-6-14h6m-6 24h6m-6-16h6m-5-6h6m-5-3h6m-5 15h6m-6-18h6m-6 31h6m-6-3h6m-4-14h6m-5-8h6m-6 16h6m-6-16h6m-5-10h6m-4 3h6m-3 11h6m-6 13h6m-5-20h6m-5-7h6m-5 28h6m-6-6h6m-6 8h6m-6-10h6m-6 9h6m-5-20h6m-6-1h6m-4-8h6m-6 0h6m-5 25h6m-6-11h6m-5 3h6m-6 11h6m-6-28h6m-5 11h6m-6 22h6m-4-3h6m-6-2h6m-6 7h6m-5-17h6m-5 2h6m-6-9h6m-6 5h6m-5 9h6m-6-9h6m-5 0h6m-5 18h6m-6-5h6m-5-5h6m-6 13h6m-6-23h6m-6 4h6m-6 11h6m-5-7h6m-6-6h6m-5-13h6m-5 18h6m-6 3h6m-6 3h6m-6-6h6m-5 5h6m-4-12h6m-6-4h6m-6 8h6m-6 18h6m-5-3h6m-6-16h6m-6 21h6m-5-9h6m-5 4h6m-6-4h6m-6 0h6m-6-12h6m-6-15h6m-5 4h6m-5 13h6m-5 12h6m-6-6h6m-5 0h6m-6 12h6m-6-14h6m-5-19h6m-6 18h6m-6 12h6m-5-30h6m-6 8h6m-6 21h6m-6-17h6m-5-12h6m-5 19h6m-6 11h6m-5-4h6m-6 5h6m-6-13h6m-6 10h6m-6-15h6m-5 6h6m-6-20h6m-6 13h6m-6 6h6m-5 9h6m-6-18h6m-6 4h6m-6 7h6m-6 3h6m-6 5h6m-5-24h6m-6 24h6m-6-29h6m-6 25h6m-6-4h6m-5-7h6m-6-7h6m-5 24h6m-5-12h6m-6-4h6m-6 3h6m-5 11h6m-5-11h6m-5-7h6m-5 16h6m-6-8h6m-6 3h6m-6 8h6m-6-25h6m-5 1h6m-5-3h6m-6 14h6m-6 16h6m-6-26h6m-5-6h6m-6 28h6m-5-18h6m-6-6h6m-5 16h6m-5-21h6m-6 7h6m-6 19h6m-6-15h6m-6 11h6m-6-10h6m-5 0h6m-5-1h6m-4-4h6m-6 9h6m-4 3h6m-5 2h6m-6-25h6m-6 34h6m-5-22h6m-6 2h6m-6-4h6m-4 19h6m-6 7h6m-5 0h6m-6 0h6m-5-8h6m-5-15h6m-6 25h6m-6-6h6m-5-21h6m-6-4h6m-6 3h6m-5 10h6m-6-6h6m-4 21h6m-5 0h6m-3-11h6m-5-7h6m-6-3h6m-5 21h6m-5 4h6m-6-33h6m-6 9h6m-5 23h6m-5-2h6m-6-35h6m-5 19h6m-6 13h6m-6-2h6m-5 1h6m-6 5h6m-6 2h6m-6-25h6m-5-2h6m-3 16h6m-6-14h6m-5 10h6m-5-20h6m-6 19h6m-6-2h6m-5 4h6m-6-2h6m-4-19h6m-5 16h6m-5-16h6m-5 20h6m-6-3h6m-6-2h6m-5-16h6m-6 28h6m-5 0h6m-6-16h6m-6 9h6m-5-17h6m-4 31h6m-5-30h6m-5 22h6m-5-1h6m-6 4h6m-6-19h6m-6 7h6m-5-19h6m-6 34h6m-6-21h6m-5 2h6m-6 0h6m-5 10h6m-6 0h6m-6-2h6m-5-22h6m-5 26h6m-6-12h6m-6 16h6m-6 2h6m-6 0h6m-4-21h6m-6 20h6m-5-7h6m-5-7h6m-5 17h6m-4-19h6m-6-8h6m-6 4h6m-5 10h6m-5-2h6m-5 11h6m-6-25h6m-6 30h6m-5-11h6m-5 1h6m-6 1h6m-6 0h6m-6 6h6m-5-15h6m-5-16h6m-6 0h6m-6 3h6m-5-2h6m-6 30h6m-6 1h6m-4-4h6m-3-8h6m-6 0h6m-6 2h6m-6-16h6m-6 21h6m-5-5h6m-5-7h6m-6 6h6m-4 4h6m-6 9h6m-5-30h6m-5 5h6m-6 14h6m-6-1h6m-5-5h6m-4 0h6m-6-10h6m-5 19h6m-6-8h6m-6 14h6m-6-26h6m-6-6h6m-6 10h6m-5 11h6m-6-12h6m-5 17h6m-6 3h6m-6 4h6m-6-4h6m-5 4h6m-6-29h6m-5 9h6m-5-9h6m-6-2h6m-5 27h6m-5-33h6m-4 23h6m-6-7h6m-6 11h6m-5-5h6m-5 9h6m-5-10h6m-5 12h6m-5-11h6m-5 12h6m-5-7h6m-5-12h6m-5 12h6m-5-16h6m-6 10h6m-6-4h6m-6-6h6m-4 27h6m-6-12h6m-5-23h6m-5 8h6m-6 9h6m-5-12h6m-6 20h6m-5-13h6m-5-1h6m-6-6h6m-5 22h6m-6-15h6m-5 7h6m-6 3h6m-6 2h6m-6-2h6m-6-16h6m-6 28h6m-3-7h6m-4-9h6m-6-5h6m-5 7h6m-6 16h6m-5-32h6m-6 19h6m-5-6h6m-3 19h6m-5-18h6m-5-18h6m-6 9h6m-6-6h6m-5 20h6m-3-4h6m-6 1h6m-6 8h6m-6 1h6m-5-6h6m-6-1h6m-4 2h6m-4-10h6m-6-1h6m-6 16h6m-6-19h6m-6 18h6m-5-1h6m-6-7h6m-6 14h6m-5-4h6m-6-22h6m-5-6h6m-5 21h6m-6-26h6m-5 17h6m-6-17h6m-5 22h6m-6 3h6m-6-12h6m-6 13h6m-5 7h6m-6-1h6m-5 0h6m-4 2h6m-6-12h6m-5-13h6m-6-4h6m-6 1h6m-5 16h6m-6-8h6m-6 1h6m-5 11h6m-6-3h6m-6-22h6m-5 37h6m-5-34h6m-6 13h6m-5 4h6m-6-2h6m-6-3h6m-5 6h6m-5 14h6m-4-14h6m-6 11h6m-6 5h6m-5-20h6m-4-6h6m-6 3h6m-4-2h6m-6 2h6m-5 4h6m-6 15h6m-5-1h6m-6 5h6m-5-11h6m-3 4h6m-6-21h6m-3 18h6m-5-12h6m-6-15h6m-6 22h6m-6 13h6m-5-8h6m-5 2h6m-5-8h6m-5 3h6m-4 11h6m-6-16h6m-3 13h6m-6 4h6m-5-33h6m-5 25h6m-6-20h6m-5 7h6m-4 18h6m-6-20h6m-5 11h6m-5-6h6m-4-2h6m-5 2h6m-5-10h6m-5 9h6m-6 3h6m-4-2h6m-2-11h6m-3 7h6m-5 20h6m-5-5h6m-4-11h6m-4-19h6m-5 8h6m-4 4h6m-5 21h6m-4-30h6m-5 10h6m-5 18h6m-6-30h6m-5 20h6m-5 7h6m-3-23h6m-6 23h6m-5 0h6m-5 6h6m-5-4h6m-5-9h6m-6-8h6m-6 21h6m-5-34h6m-5 23h6m-6 10h6m-5-18h6m-4 16h6m-6-19h6m-6-10h6m-6 12h6m-2 5h6m-5-11h6m-6-5h6m-5 34h6m-6-12h6m-6 6h6m-5 3h6m-4-18h6m-4-5h6m-2-6h6m-3 34h6m-3-35h6m0 7h6m0-3h6m-2-4h6m-362 48h6m-1 2h6m11-14h6m-4 21h6m-4-15h6m0 3h6m-2-7h6m-3 13h6m-3-3h6m-5-7h6m-6 7h6m-5 19h6m-5-28h6m-6 15h6m-1-18h6m-3 6h6m-4-4h6m-6 25h6m-3-15h6m-5 11h6m-1-22h6m-5 35h6m0-6h6m-6-7h6m-5-21h6m2 9h6m-5-7h6m-1 5h6m-5-8h6m-3 1h6m-6-2h6m-4 11h6m-6-8h6m-6 14h6m5-7h6m1 6h6m-3 23h6m-5-20h6m2-13h6m-3 31h6m-6 1h6m-1 0h6m3-17h6m1-5h6m-6-11h6m6 34h6m-4-28h6m-6 1h6m-5-9h6m-5 6h6m-6-7h6m-5 0h6m-4 6h6m0 4h6m5 15h6m-2-27h6m-3 8h6m12-7h6m0-1h6m-5 0h6m4 0h6m4 8h6m9-6h6m-5 6h6m-4-7h6m-2 2h6m-6 33h6m-5 3h6m-2-37h6m13 8h6m-6 1h6m-5-9h6m-3 5h6m-3 10h6m-2-16h6m-5 4h6m-3 1h6m3 9h6m-3-12h6m7 14h6m8-13h6m1 11h6m9 21h6m-347 9h6m19-1h6m2 10h6m59 10h6m-3 1h6m-2 1h6m0-22h6m0 22h6m5-21h6m3 32h6m-4-37h6m-4 16h6m-1-10h6m-2 12h6m-3-14h6m-4 20h6m-2-15h6m1 23h6m-6-29h6m-1 11h6m-1 22h6m2-30h6m-2 23h6m5 3h6m-1-16h6m-5 8h6m-2 3h6m-4-4h6m-2 12h6m-3-18h6m-5 4h6m-4-16h6m4 23h6m-3-8h6m0-12h6m-2 22h6m-5-16h6m-6 7h6m9 9h6m0-15h6m-1 3h6m0 12h6m-1-24h6m0 16h6m6-14h6m-6 17h6m-3-21h6m2 2h6m-6 17h6m-3-1h6m-5-12h6m2 16h6m-348 39h6m35 6h6m-1-26h6m18 31h6m69 1h6m4-16h6m6-5h6m9 3h6m29 1h6m11-10h6m-6 22h6m-5-13h6m12-6h6m15 7h6m3-16h6m-1 13h6m3-9h6m6 4h6m1 15h6m-4-23h6m14 3h6m-206 46h6" stroke="#2f44c4" stroke-width="6" stroke-opacity=".36"/><ellipse cx="41.3" cy="20" rx="4.5" ry="1.8" fill="#4a90d0" opacity="0.5" filter="url(#b1)" transform="rotate(-20 41.3 20)"/><ellipse cx="17.2" cy="38.8" rx="4.5" ry="6.8" fill="#5574d4" opacity="0.55" filter="url(#b06)" transform="rotate(6 17.2 38.8)"/><ellipse cx="17" cy="39.8" rx="3.8" ry="5.7" fill="#3eb0c4" opacity="0.85" filter="url(#b06)" transform="rotate(6 17 39.8)"/><ellipse cx="16.8" cy="40.6" rx="3.1" ry="4.9" fill="#5cc24e" opacity="1" filter="url(#b06)" transform="rotate(6 16.8 40.6)"/><ellipse cx="16.4" cy="42.8" rx="1.9" ry="2.7" fill="#d6d23c" opacity="1" filter="url(#b06)" transform="rotate(6 16.4 42.8)"/><ellipse cx="16.2" cy="44" rx="1.3" ry="1.5" fill="#e8642a" opacity="1" filter="url(#b06)" transform="rotate(6 16.2 44)"/><ellipse cx="16.1" cy="44.6" rx=".8" ry=".9" fill="#de2a1e" opacity="1" filter="url(#b06)" transform="rotate(6 16.1 44.6)"/><line x1="23.5" y1="0" x2="23.5" y2="61.2" stroke="#5a5a5a" stroke-width="1"/><line x1="0" y1="43.1" x2="61.8" y2="43.1" stroke="#4a4a4a" stroke-width="1"/><text x="1.6" y="3.6" font-size="2.9" fill="#444">Q1</text><text x="1.6" y="6.6" font-size="2.9" fill="#444">41.7</text><text x="60.2" y="3.6" text-anchor="end" font-size="2.9" fill="#444">Q2</text><text x="60.2" y="6.6" text-anchor="end" font-size="2.9" fill="#444">25.5</text><text x="1.6" y="56.8" font-size="2.9" fill="#444">Q4</text><text x="1.6" y="59.8" font-size="2.9" fill="#444">15.8</text><text x="60.2" y="56.8" text-anchor="end" font-size="2.9" fill="#444">Q3</text><text x="60.2" y="59.8" text-anchor="end" font-size="2.9" fill="#444">1.76</text><path d="M-1.6 6.1h1.6M-1.6 20.3h1.6M-1.6 37.1h1.6M-1.6 46.2h1.6M-1.6 55.5h1.6M-.9 6.1h.9M-.9 9.5h.9M-.9 13h.9M-.9 16.4h.9M-.9 19.9h.9M-.9 23.3h.9M-.9 26.8h.9M-.9 30.2h.9M-.9 33.7h.9M-.9 37.1h.9M4.5 61.2v1.6M15.2 61.2v1.6M25.1 61.2v1.6M41.5 61.2v1.6M56.7 61.2v1.6M25.1 61.2v.9M28.6 61.2v.9M32.1 61.2v.9M35.6 61.2v.9M39.1 61.2v.9M42.7 61.2v.9M46.2 61.2v.9M49.7 61.2v.9M53.2 61.2v.9M56.7 61.2v.9" stroke="#333" stroke-width=".55"/><rect x="-1.1" y="45.7" width="1.2" height="2.8" fill="#111"/><rect x="12.4" y="61.2" width="3" height="1.1" fill="#111"/><text x="-2.3" y="7.1" font-size="2.8" fill="#555" text-anchor="end">10⁵</text><text x="-2.3" y="21.3" font-size="2.8" fill="#555" text-anchor="end">10⁴</text><text x="-2.3" y="38.1" font-size="2.8" fill="#555" text-anchor="end">10³</text><text x="-2.3" y="47.2" font-size="2.8" fill="#555" text-anchor="end">0</text><text x="-2.3" y="56.5" font-size="2.8" fill="#555" text-anchor="end">-10³</text><text x="4.5" y="66.1" font-size="2.8" fill="#555" text-anchor="middle">-10³</text><text x="15.2" y="66.1" font-size="2.8" fill="#555" text-anchor="middle">0</text><text x="25.1" y="66.1" font-size="2.8" fill="#555" text-anchor="middle">10³</text><text x="41.5" y="66.1" font-size="2.8" fill="#555" text-anchor="middle">10⁴</text><text x="56.7" y="66.1" font-size="2.8" fill="#555" text-anchor="middle">10⁵</text></g>
<text x="73.4" y="216.6" font-size="7.9" text-anchor="middle" textLength="23.6" lengthAdjust="spacingAndGlyphs" stroke="#000" stroke-width="0.15">Vehicle</text>
<text x="142.6" y="216.6" font-size="7.9" text-anchor="middle" textLength="57.6" lengthAdjust="spacingAndGlyphs" stroke="#000" stroke-width="0.15">Vehicle + hypoxia</text>
<text x="213.4" y="216.6" font-size="7.9" text-anchor="middle" textLength="27.8" lengthAdjust="spacingAndGlyphs" stroke="#000" stroke-width="0.15">Lobeline</text>
<text x="284.6" y="216.6" font-size="7.9" text-anchor="middle" textLength="61.6" lengthAdjust="spacingAndGlyphs" stroke="#000" stroke-width="0.15">Lobeline + hypoxia</text>
<text x="10.9" y="249.9" font-size="7.6" textLength="21.9" lengthAdjust="spacingAndGlyphs" stroke="#000" stroke-width="0.15">100µM</text>
<text x="10.9" y="323.9" font-size="7.6" textLength="21.9" lengthAdjust="spacingAndGlyphs" stroke="#000" stroke-width="0.15">200µM</text>
<text x="10.9" y="397.9" font-size="7.6" textLength="21.9" lengthAdjust="spacingAndGlyphs" stroke="#000" stroke-width="0.15">400µM</text>
<path d="M34.5 404.6V437.3H68" stroke="#333" stroke-width="0.9" fill="none"/>
<text x="33.2" y="422" font-size="8" text-anchor="middle" transform="rotate(-90 33.2 422)" stroke="#000" stroke-width="0.15">PI</text>
<text x="36.2" y="446.7" font-size="8" textLength="33.2" lengthAdjust="spacingAndGlyphs" stroke="#000" stroke-width="0.15">Annexin V</text>
<g transform="translate(37.1 476.5)"><rect width="69.7" height="52.4" fill="#b2b2b2"/><rect width="69.7" height="52.4" fill="#888" filter="url(#noise)" opacity=".07"/><path d="M14.5 31.8h1M26.8 17.8h.5M29.9 19.2h.9M40.7 19.6h.4M2.9 2.1h.5M23.5 50.6h.5M2.7 48.6h.5M64.6 13h.5M29.5 41.1h.8M46.3 35h.8M41.6 48h.9M62.8 37.9h.7M49.6 41h.7M16.3 26.2h.5M7.3 38h.5M28.6 44.7h.4M41.2 39.7h.9M31.8 8.3h.8M13.5 6.2h.5M6.3 41.8h.4M64.1 33.7h.4M5.1 20.4h.4M29.3 31h.5M34.7 33.8h.8M64.4 41.1h.7M42.7 19.2h.5M40.3 17.4h.4M39.6 5.1h.7M20.1 4.6h.5M37.4 37.4h.5M57.3 44.8h.4M55.3 16.5h.8M55.3 15.4h1M26.2 45.6h.8M63.5 26.1h.7M19.8 7.2h.6M51.3 21.2h.4M40.1 48.7h.9M26.6 24.8h1M56.4 18.6h.4M41.1 45.4h.5M38.1 50.2h.6M7.9 34.5h.9M34.3 20.4h.6M17 13.1h.9M59.7 18.7h.5M51 24.7h.9M63.6 34.1h.9M44.8 14.7h.6M33 7.3h1M14.9 41.7h.9M1.5 29.1h.4M10.7 39h.8M39.9 2.6h.8M34.9 10.8h.8M66 49.6h.7M11.3 47.4h.8M33.6 18.9h.9M24.2 9.5h.5M27.1 31.1h.4M38.9 14.9h.5M23.8 9.8h.7M56.5 17.6h.7M42.4 22.9h.7M18.8 9h.6M14.7 10.2h.7M30.4 9h.4M32.6 12h.8M31.1 51.2h.4M25.5 15.9h.7M12 47.4h1M7.1 10.1h.4M15.2 27.8h.5M45.5 29.7h.6M6.2 24.2h.6M8.9 34.8h.5M53.2 15.8h.6M64.8 19.2h.7M51.4 33.6h.5M2.4 1.5h.4M37.3 8.7h.4M44.2 43.8h1M39.9 9h.5M9.4 5.6h.4M66.4 6.6h.6M13.6 49.9h.6M22.9 12.2h.5M25.4 49.3h1M14.7 5.2h.8M62.8 32.1h.9M63.8 21.5h.8M50.7 36.1h.5M25.7 1.7h.7M8.5 5.1h.9M1.5 23.4h.8M38.6 7.3h.7M24.6 35.4h.5M19.5 50.6h.4M12.5 21.7h.6M20.6 29.7h.7M60.5 36.2h.5M49.9 30.4h.6M54.9 19.2h.7M43.7 41.9h.7M31.7 20.4h.5M15.5 3.4h.7M47.4 14.2h.9M57.1 31.4h.5M14.6 30.3h.5M57.1 50.6h.9M17.2 19.5h.7M33.1 2.1h.9M31.7 25.4h.8M39.1 28h.9M34.6 27.5h.7M31 37h.5M49 4.9h.8M1.8 26.3h.6M8.8 37.2h.9M2.1 30.9h.7M1.9 1.1h.6M27.3 14h.9M60.2 51.2h.6M59.1 41.1h.6M15.1 24.6h.5M41.1 11.4h1M61.7 35.3h.9M49 50.4h.9M63.7 17.4h.7M54.6 5.8h.7M15.1 3.1h.5M55.6 33.3h.5M38.3 40.1h.8M46 12.5h1M60.6 31.7h.6M62.2 35.2h.6M14.9 20.8h.5M49.4 40.1h.7M50.6 20.3h.6M42.6 42.9h.9M43.7 48.1h.9M52.3 25.6h1M21.6 6.2h.4M50.2 32h.9M55.4 29.2h.5M60.2 17.5h.6M2.2 39.2h.5M18.9 15.3h.8M57.8 28.8h.7M25.4 1.4h.5M57.9 26.8h.7M56.1 13.7h.9M19.6 22.7h.6M1.7 31.8h.9M20.8 12.8h.9M19 2.2h.6M23.7 16.2h.4M33 20.9h1M25 47.9h.4M51.3 20.1h.9M49.8 51.2h.6M10.3 39.3h.7M64.6 28.5h.8M19.7 12.5h.9M25.4 45.9h.5M68.6 22.9h1M19.6 4.9h.8M39 33.8h.9M20.9 31.7h1M3.6 39.8h.5" stroke="#4a4a4a" stroke-width=".9" stroke-opacity="0.45" filter="url(#b04)"/></g>
<text x="73.4" y="472.6" font-size="7.9" text-anchor="middle" textLength="23.6" lengthAdjust="spacingAndGlyphs" stroke="#000" stroke-width="0.15">Vehicle</text>
<g transform="translate(108.6 476.5)"><rect width="69.7" height="52.4" fill="#b3b3b3"/><rect width="69.7" height="52.4" fill="#888" filter="url(#noise)" opacity=".07"/><path d="M47.9 20.4h.4M58.9 46.9h.8M57.3 43.1h.7M18 43.7h.9M14.2 46h.4M44.7 26.3h.7M5.1 31.9h.8M42.7 8.1h.5M52 22.3h.6M62 49.8h.9M29.7 41.4h.5M63.6 14.2h.7M38.7 35.2h.5M20.4 37.1h.9M62.6 41.4h.4M3.6 8.1h.7M54.3 49.7h.8M11.2 51.2h.5M44.2 4.5h.8M49.2 23.7h.9M65.7 19.5h.7M37.2 11.5h.4M14.6 8.8h.7M12.3 42.8h.7M8.2 2.5h.4M36.6 1.7h.4M35.8 30.3h.8M65.9 3.8h.8M59.7 18.6h1M2.4 4.3h.7M25.7 5.5h.5M46.8 22.8h.5M64.7 45.9h.8M3 14.7h.5M5.4 43.2h.7M59 31.4h.5M61.6 10.7h.9M44.6 2.4h1M12 12.8h.7M28.8 8.4h.7M66 29h.5M36.7 2.1h.8M20 32.2h.8M34.2 48.3h.8M57.5 12.8h.6M10.8 24.5h1M5.5 47.2h.4M28.3 9h.5M24.6 41.6h.9M37.5 17.9h.4M22.8 4.3h.6M34.6 36.6h.8M5.8 29.1h1M18.9 44.7h.8M37.8 31.6h.7M58.6 17.8h.7M34.4 46.1h.9M35.7 6.5h.4M43.5 34.5h.8M28.7 25.9h.6M43.3 9.8h.6M41.3 34.6h.6M38.3 25h.5M45.2 29.8h.5M60.1 14.6h.7M67.1 38.6h.8M67.9 20.2h.8M17.4 23h.6M51.5 39.8h.9M61.6 48.7h.6M19.2 33.3h.6M45.8 32.4h.9M11.4 42.4h.5M66.4 6.5h.6M16.6 17.5h.5M30.9 30.8h1M14.9 37h1M18.2 8.8h.6M63.6 28.5h.9M13.7 23h.8M37.2 7.2h.4M43.3 23.2h.6M62 18.5h1M47.4 36.4h.6M55.7 23.8h.5M11 51.2h1M40.4 49.9h.5M34.2 19.5h.5M62.6 38h1M22.7 5.9h.4M26.4 30.9h.5M6.6 31.2h.6M63.8 2.3h.4M8.4 17.4h.8M55.6 11.9h.9M10 36.8h.4M21.2 3.9h.5M42.2 1.7h.5M44.4 24.6h1M3.9 19.8h.5M33 30.4h.5M67 37.6h.6M4 18.8h1M66.4 45.2h.9M18 8.4h.6M22.1 51.2h.9M59.3 21.4h.5M13.1 51h.8M31.8 34.4h.6M40.4 39.3h1M42.5 16.8h.7M52.9 13.5h.4M2.4 2.3h.5M51.2 7.7h.8M42.8 3.4h.4M60.8 45.9h.7M48 25.8h.5M25.2 47.6h.7M17.5 17.7h.9M11.7 49.8h.9M61.5 11.8h.6M17.1 50.4h.4M68.6 27.5h.7M37.2 42.4h.6M62.7 21.6h.9M38.2 48.5h.6M47.8 29.9h.4M32 42.9h1M63.6 31.7h.6M15.9 48.3h1M49.2 6.6h.7M32.3 5.3h.9M1.1 24.1h.9M48 41.1h.5M12.8 20.6h.6M45.6 10.2h.7M46.2 43h1M59 11.1h1M55.4 40.2h.9M31.9 29.8h.6M12.8 21h.8M31 14.8h.9M57.3 36.6h.6M16.2 13.7h.5M17.4 51.1h.6M26.8 48.2h.8M11.7 19.9h.7M50.4 47.9h.5M12.5 22.6h.7M21.5 6.4h.8M52.5 35.7h.8M51.2 26.8h.9M67.9 12.9h.9M19.9 15.1h.7M60.7 48.2h1M18.3 45.7h.6M45.6 12.4h.7M56.1 10.2h.8M2.9 30.9h1M21.9 8.4h.6" stroke="#4a4a4a" stroke-width=".9" stroke-opacity="0.45" filter="url(#b04)"/><path d="M29.4 21.6l1 1.3M20.9 4.6l.5 -.6" stroke="#404040" stroke-width="1.2" stroke-opacity=".6" stroke-linecap="round" filter="url(#b04)"/></g>
<text x="142.6" y="472.6" font-size="7.9" text-anchor="middle" textLength="57.6" lengthAdjust="spacingAndGlyphs" stroke="#000" stroke-width="0.15">Vehicle + hypoxia</text>
<g transform="translate(180.2 476.5)"><rect width="69.7" height="52.4" fill="#b8b8b8"/><rect width="69.7" height="52.4" fill="#888" filter="url(#noise)" opacity=".07"/><path d="M18.9 44.8h.5M22.3 44.6h.4M11.6 38.3h.6M38.6 43.8h.9M14.6 40.9h.7M63.8 31.2h.4M44.9 36.2h.8M29.6 1.8h.9M15.5 12.9h.6M21.3 49.4h1M49.6 24.6h.6M20.5 43.6h.9M50 42.9h.5M5.7 37h.4M55.8 12h1M14.4 26.7h.6M52.6 42.3h.8M40.6 27.5h1M42.1 38.9h.8M55.6 2.5h.5M48.3 26.6h.8M49.7 31h.5M11.5 15.7h.7M39.7 27.1h.8M54.2 6.8h.5M2.5 2.9h.6M28 2.9h.5M25.1 40.3h.6M34.3 29.7h.5M35 39.4h1M37.9 17.9h.7M3.5 38h.8M59.3 10.5h.9M51.8 11.5h.7M32.2 27.2h.6M15.6 30.5h.5M56.8 12.6h.8M42.3 30.6h.6M46.6 19.4h.8M56.6 43.4h.9M32 35.3h.4M29.3 30.2h.8M37.6 39.3h.4M41.7 47h.7M52.3 36.1h.9M11.8 13.3h.8M67.3 11.3h1M9.4 15h.7M25.8 24.1h.6M51.5 42.5h1M59.6 17h.9M27.8 2.2h.8M11.7 28.7h.6M8.7 11.8h1M52.1 3.3h.6M35.8 25.3h.5M18.8 7.4h.5M29.3 13.5h.9M13.1 11.3h.8M17.8 9.7h.9M31.8 2.6h.5M56.4 26.2h.4M4.8 3.7h.9M46.4 35.4h.9M66.6 14.7h.4M6.5 21.4h.9M28.2 30.9h.9M52.8 49.1h.4M26.1 5.3h.8M57.8 14.4h.6M34.8 47.5h.6M21.2 20.7h.6M63.2 31.2h.9M18.5 34.1h.7M63.8 11.1h.7M31.3 15.9h.5M56.4 29.1h.8M15.3 12h.8M8.5 14.3h.6M9.6 4.7h.7M13.6 27.1h.9M11.3 39.8h.7M68.1 33.6h.5M25.1 18.8h.4M66.4 15h.6M54 44.9h.8M21.7 9.8h.5M37.1 12.1h.8M35.5 44h.6M38.3 47.8h.7M21.1 9.6h.8M25.6 12.7h.4M22.3 23.1h.4M33.6 35.3h.6M53.9 1.5h.8M56.7 6.3h.5M67.5 34.7h.7M24.9 26.4h.5M68.7 42.3h.7M14 36.4h.7M17.7 2.6h.7M10.5 20.7h.8M13.4 27.6h1M61 25.3h.7M40.4 43.2h.8M29.7 34.6h.9M40.8 29.9h.9M40.4 17.1h.9M39.9 38.7h.9M57.3 10.1h.7M50.6 48h.7M37.1 21.2h.6M56.6 10.3h.6M9.9 11.1h.6M36.9 17.4h.4M47.9 28.2h.6M7.7 6.8h.9M67.7 36.1h.7M66.8 29.6h.6M63.8 11.4h.7M60 32.8h.6M32.6 50.8h.7M43.5 11.4h.9M40.1 3.2h.7M21 45.1h.7M49 51.3h.4M46.8 9.8h.7M38.4 5.8h.7M53.7 38.4h.5M47.4 42.1h.9M43.9 28.1h.7M60.4 51.2h1M2.6 19.5h.4M64.9 22h.9M55.5 13.5h.7M7.5 5.2h.9M36.5 17.3h1M45.9 6.4h.9M54.8 5.5h.7M1 3.8h.5M64.3 37.3h1M28.2 7.7h.5M43.4 15.9h.8M56.9 18.6h.6M39.3 45.4h.8M42.1 20.5h.6M46.5 5.2h.8M1.9 32.6h.6M45.5 8.9h.7M3.1 43.7h.9" stroke="#4a4a4a" stroke-width=".9" stroke-opacity="0.45" filter="url(#b04)"/><path d="M43.5 6.5l1.4 -.7M64.4 3.1l1 .4M32.8 49.9l.7 1.5M35 8.6l.3 -.5M46.2 15.8l-.3 -.6M54.3 30.8l1.3 -.2M24 44.5l-.8 1.4M37.1 20.3l1.1 1.3M64.5 38.6l-.7 .8M40 12.8l-.3 1.2M23.5 23.4l-.6 -0M42.3 2.7l1.2 .2M11 48.8l-.5 .4M47.5 21.7l.9 -.1" stroke="#404040" stroke-width="1.2" stroke-opacity=".6" stroke-linecap="round" filter="url(#b04)"/></g>
<text x="213.4" y="472.6" font-size="7.9" text-anchor="middle" textLength="27.8" lengthAdjust="spacingAndGlyphs" stroke="#000" stroke-width="0.15">Lobeline</text>
<g transform="translate(252 476.5)"><rect width="69.7" height="52.4" fill="#c2c2c2"/><rect width="69.7" height="52.4" fill="#888" filter="url(#noise)" opacity=".07"/><path d="M13 48.2h.6M61.6 32h.6M66.2 45.2h.4M19.6 37.9h.6M32.5 40.2h.6M1.5 11.8h.7M49.5 15.3h.8M25.2 43.4h.7M27.4 40.1h.8M67 32.9h.8M49.9 32.2h.9M63.7 44.1h.5M39.2 28.9h.8M46.2 29.7h.6M50.9 23.3h.6M39.2 34.3h.9M56.2 12.4h.8M28.4 31.2h.7M1.5 29h.4M48.3 29.4h.6M47.9 10.6h.8M30.3 12.4h.8M7.6 9.5h.4M20.1 11.9h1M21.5 22.1h.9M52.7 41.1h.5M32.3 16.6h.8M54.3 40.9h.7M7.3 34h.7M41 20.9h.6M10.1 25.3h.5M12.1 26.7h.9M56.6 30.7h.9M9.5 31.4h.5M52.7 37.3h.8M53.5 10.6h.6M9.6 20.3h1M26.6 7.8h.9M57.5 38.9h.6M64.8 32.8h.6M29.3 4.4h.6M17.2 8h.9M26.8 22.5h.5M19.6 1.3h.4M43 14.4h.7M27.5 29.6h.8M52.5 29h.5M50.1 40.2h.8M17.7 42.8h.5M60.7 2.7h.5" stroke="#4a4a4a" stroke-width=".9" stroke-opacity="0.45" filter="url(#b04)"/><path d="M5.9 28.7l.8 1.2M67.4 37.6l1.4 .4M56 16.6l1.5 -1.1M67.3 27.8l.4 .2M55.9 44.9l-0 -.8M8.3 41.6l-.1 1M63.7 16.9l1.3 -1.2M32.9 20.9l.3 .6M64.1 14.5l-1 .8M49.1 24.8l1.5 -.2M26.8 22l-1.2 -.3M39.5 20.6l.1 .7M48.4 45.5l.7 -.8M49.7 36.4l-.9 -.8M57.8 4.3l-0 -.2M5 20.2l1.3 -.9M24.9 2.7l.4 .8M36.7 4.7l-1 1.1M19.3 48.4l-.2 1.3M6.7 33.4l1.1 .4M66.7 33.7l1.1 .3M51.7 4.5l.2 -.2" stroke="#404040" stroke-width="1.2" stroke-opacity=".6" stroke-linecap="round" filter="url(#b04)"/></g>
<text x="284.6" y="472.6" font-size="7.9" text-anchor="middle" textLength="61.6" lengthAdjust="spacingAndGlyphs" stroke="#000" stroke-width="0.15">Lobeline + hypoxia</text>
<line x1="293.3" y1="523.6" x2="317.9" y2="523.6" stroke="#fff" stroke-width="0.9"/>
<text x="306.1" y="520.8" font-size="5.8" text-anchor="middle" fill="#fff" textLength="15.8" lengthAdjust="spacingAndGlyphs" stroke="#fff" stroke-width="0.15">400µm</text>
<path d="M375.4 43.6V167.2H569" stroke="#000" stroke-width="1.5" fill="none"/>
<line x1="372.2" y1="167.2" x2="375.4" y2="167.2" stroke="#000" stroke-width="1.3"/>
<text x="371.5" y="170.4" font-size="9" text-anchor="end" font-weight="bold" stroke="#000" stroke-width="0.15">0</text>
<line x1="372.2" y1="126" x2="375.4" y2="126" stroke="#000" stroke-width="1.3"/>
<text x="371.5" y="129.2" font-size="9" text-anchor="end" font-weight="bold" stroke="#000" stroke-width="0.15">20</text>
<line x1="372.2" y1="84.8" x2="375.4" y2="84.8" stroke="#000" stroke-width="1.3"/>
<text x="371.5" y="88" font-size="9" text-anchor="end" font-weight="bold" stroke="#000" stroke-width="0.15">40</text>
<line x1="372.2" y1="43.6" x2="375.4" y2="43.6" stroke="#000" stroke-width="1.3"/>
<text x="371.5" y="46.8" font-size="9" text-anchor="end" font-weight="bold" stroke="#000" stroke-width="0.15">60</text>
<text x="350.2" y="169.3" font-size="8.8" font-weight="bold" textLength="136" lengthAdjust="spacingAndGlyphs" transform="rotate(-90 350.2 169.3)" stroke="#000" stroke-width="0.15">% late apoptotic + necrotic cells</text>
<rect x="384.8" y="122.9" width="32.3" height="44.3" fill="#fff" stroke="#000" stroke-width="1.3"/>
<path d="M392.2 119.2h17.5M401 119.2V125.2M392.2 125.2h17.5" stroke="#000" stroke-width="1.2" fill="none"/>
<rect x="434.8" y="127.3" width="32.3" height="39.9" fill="url(#hw)" stroke="#000" stroke-width="1.3"/>
<path d="M442.2 120.2h17.5M451 120.2V133.2M442.2 133.2h17.5" stroke="#000" stroke-width="1.2" fill="none"/>
<rect x="484.8" y="106" width="32.3" height="61.2" fill="#7d7d7d" stroke="#000" stroke-width="1.3"/>
<path d="M492.2 98.4h17.5M501 98.4V112.4M492.2 112.4h17.5" stroke="#000" stroke-width="1.2" fill="none"/>
<rect x="534.9" y="75.1" width="32.3" height="92" fill="url(#hd)" stroke="#000" stroke-width="1.3"/>
<path d="M542.2 66.7h17.5M551 66.7V82.3M542.2 82.3h17.5" stroke="#000" stroke-width="1.2" fill="none"/>
<circle cx="400.7" cy="118" r="1.9"/>
<circle cx="404" cy="122.9" r="1.9"/>
<circle cx="398" cy="128.3" r="1.9"/>
<rect x="449.1" y="114.2" width="3.8" height="3.8" fill="#000"/>
<rect x="449.5" y="123.9" width="3.8" height="3.8" fill="#000"/>
<rect x="449.1" y="136.9" width="3.8" height="3.8" fill="#000"/>
<path d="M501 89.3L502.9 92.9H499.1z"/>
<path d="M497.7 111.8L499.6 115.4H495.8z"/>
<path d="M503.7 108L505.6 111.7H501.8z"/>
<path d="M551 60.9L552.9 57.3H549.1z"/>
<path d="M550 79.1L551.9 75.5H548.1z"/>
<path d="M552 85.7L553.9 82H550.1z"/>
<path d="M401 20V12.4H551V20" stroke="#000" stroke-width="1.1" fill="none"/>
<text x="476" y="15.3" font-size="13" text-anchor="middle" font-weight="bold" stroke="#000" stroke-width="0.15">**</text>
<path d="M451 37.2V29.2H551V37.2" stroke="#000" stroke-width="1.1" fill="none"/>
<text x="500.1" y="32.1" font-size="13" text-anchor="middle" font-weight="bold" stroke="#000" stroke-width="0.15">**</text>
<path d="M501 54.4V46.4H551V54.4" stroke="#000" stroke-width="1.1" fill="none"/>
<text x="525.6" y="49.3" font-size="13" text-anchor="middle" font-weight="bold" stroke="#000" stroke-width="0.15">*</text>
<rect x="591.2" y="75" width="10.2" height="6.4" fill="#fff" stroke="#222" stroke-width="1"/>
<text x="607.5" y="81.5" font-size="9.25" fill="#1a1a1a" stroke="#1a1a1a" stroke-width="0.15">Vehicle</text>
<rect x="591.2" y="88.5" width="10.2" height="6.4" fill="url(#hw)" stroke="#222" stroke-width="1"/>
<text x="607.5" y="95" font-size="9.25" fill="#1a1a1a" stroke="#1a1a1a" stroke-width="0.15">Vehicle + hypoxia</text>
<rect x="591.2" y="102" width="10.2" height="6.4" fill="#7d7d7d" stroke="#222" stroke-width="1"/>
<text x="607.5" y="108.5" font-size="9.25" fill="#1a1a1a" stroke="#1a1a1a" stroke-width="0.15">Lobeline</text>
<rect x="591.2" y="115.6" width="10.2" height="6.4" fill="url(#hd)" stroke="#222" stroke-width="1"/>
<text x="607.5" y="122.1" font-size="9.25" fill="#1a1a1a" stroke="#1a1a1a" stroke-width="0.15">Lobeline + hypoxia</text>
<path d="M376.6 316.5V440.7H577" stroke="#000" stroke-width="1.5" fill="none"/>
<line x1="373.4" y1="440.7" x2="376.6" y2="440.7" stroke="#000" stroke-width="1.3"/>
<text x="372.4" y="443.9" font-size="9" text-anchor="end" font-weight="bold" stroke="#000" stroke-width="0.15">0</text>
<line x1="373.4" y1="415.9" x2="376.6" y2="415.9" stroke="#000" stroke-width="1.3"/>
<text x="372.4" y="419.1" font-size="9" text-anchor="end" font-weight="bold" stroke="#000" stroke-width="0.15">20</text>
<line x1="373.4" y1="391" x2="376.6" y2="391" stroke="#000" stroke-width="1.3"/>
<text x="372.4" y="394.2" font-size="9" text-anchor="end" font-weight="bold" stroke="#000" stroke-width="0.15">40</text>
<line x1="373.4" y1="366.2" x2="376.6" y2="366.2" stroke="#000" stroke-width="1.3"/>
<text x="372.4" y="369.4" font-size="9" text-anchor="end" font-weight="bold" stroke="#000" stroke-width="0.15">60</text>
<line x1="373.4" y1="341.4" x2="376.6" y2="341.4" stroke="#000" stroke-width="1.3"/>
<text x="372.4" y="344.6" font-size="9" text-anchor="end" font-weight="bold" stroke="#000" stroke-width="0.15">80</text>
<line x1="373.4" y1="316.5" x2="376.6" y2="316.5" stroke="#000" stroke-width="1.3"/>
<text x="372.4" y="319.7" font-size="9" text-anchor="end" font-weight="bold" stroke="#000" stroke-width="0.15">100</text>
<text x="350.4" y="447.5" font-size="8.8" font-weight="bold" textLength="140" lengthAdjust="spacingAndGlyphs" transform="rotate(-90 350.4 447.5)" stroke="#000" stroke-width="0.15">% late apoptotic + necrotic cells</text>
<rect x="383.6" y="419.5" width="9.1" height="21.2" fill="#fff" stroke="#000" stroke-width="1.1"/>
<path d="M384.9 416.5h6.5M388.1 416.5V421.5M384.9 421.5h6.5" stroke="#000" stroke-width="1" fill="none"/>
<circle cx="386.6" cy="417.4" r="1.3"/>
<circle cx="388.6" cy="422.7" r="1.3"/>
<circle cx="389.6" cy="417.7" r="1.3"/>
<rect x="397.9" y="419.5" width="9.1" height="21.2" fill="url(#hwb)" stroke="#000" stroke-width="1.1"/>
<path d="M399.2 417.4h6.5M402.5 417.4V420.6M399.2 420.6h6.5" stroke="#000" stroke-width="1" fill="none"/>
<rect x="399.7" y="416.1" width="2.6" height="2.6" fill="#000"/>
<rect x="402.7" y="418.3" width="2.6" height="2.6" fill="#000"/>
<rect x="401.2" y="417.7" width="2.6" height="2.6" fill="#000"/>
<rect x="412.4" y="409.6" width="9.1" height="31.1" fill="#7d7d7d" stroke="#000" stroke-width="1.1"/>
<path d="M413.7 406.6h6.5M416.9 406.6V411.5M413.7 411.5h6.5" stroke="#000" stroke-width="1" fill="none"/>
<path d="M416.9 405.1L418.2 407.6H415.6z"/>
<path d="M415.4 409.5L416.7 411.9H414.1z"/>
<path d="M418.4 408.2L419.7 410.7H417.1z"/>
<rect x="426.8" y="410.2" width="9.1" height="30.5" fill="url(#hdb)" stroke="#000" stroke-width="1.1"/>
<path d="M428.1 405.3h6.5M431.3 405.3V414M428.1 414h6.5" stroke="#000" stroke-width="1" fill="none"/>
<path d="M431.3 404.3L432.6 401.8H430z"/>
<path d="M429.8 413.6L431.1 411.1H428.5z"/>
<path d="M432.8 414.8L434.1 412.3H431.5z"/>
<line x1="409.7" y1="440.7" x2="409.7" y2="443.9" stroke="#000" stroke-width="1.2"/>
<text x="409.7" y="453.3" font-size="9" text-anchor="middle" font-weight="bold" textLength="29.8" lengthAdjust="spacingAndGlyphs" stroke="#000" stroke-width="0.15">100µM</text>
<rect x="450.2" y="419.4" width="9.1" height="21.3" fill="#fff" stroke="#000" stroke-width="1.1"/>
<path d="M451.5 416.9h6.5M454.7 416.9V420.8M451.5 420.8h6.5" stroke="#000" stroke-width="1" fill="none"/>
<circle cx="454.7" cy="416.5" r="1.3"/>
<circle cx="453.2" cy="420.2" r="1.3"/>
<circle cx="456.2" cy="419" r="1.3"/>
<rect x="464.6" y="422.6" width="9.1" height="18.1" fill="url(#hwb)" stroke="#000" stroke-width="1.1"/>
<path d="M465.9 421.5h6.5M469.1 421.5V422.7M465.9 422.7h6.5" stroke="#000" stroke-width="1" fill="none"/>
<rect x="466.3" y="420.8" width="2.6" height="2.6" fill="#000"/>
<rect x="467.8" y="421" width="2.6" height="2.6" fill="#000"/>
<rect x="469.3" y="420.7" width="2.6" height="2.6" fill="#000"/>
<rect x="479" y="409.3" width="9.1" height="31.4" fill="#7d7d7d" stroke="#000" stroke-width="1.1"/>
<path d="M480.3 403.1h6.5M483.5 403.1V414.5M480.3 414.5h6.5" stroke="#000" stroke-width="1" fill="none"/>
<path d="M483.5 398.9L484.8 401.4H482.2z"/>
<path d="M482.3 412L483.6 414.4H481z"/>
<path d="M484.7 410.7L486 413.2H483.4z"/>
<rect x="493.4" y="397.8" width="9.1" height="42.9" fill="url(#hdb)" stroke="#000" stroke-width="1.1"/>
<path d="M494.7 392.9h6.5M497.9 392.9V401.6M494.7 401.6h6.5" stroke="#000" stroke-width="1" fill="none"/>
<path d="M497.9 391.8L499.2 389.4H496.6z"/>
<path d="M496.7 402.4L498 399.9H495.4z"/>
<path d="M499.1 401.8L500.4 399.3H497.8z"/>
<line x1="476.3" y1="440.7" x2="476.3" y2="443.9" stroke="#000" stroke-width="1.2"/>
<text x="476.3" y="453.3" font-size="9" text-anchor="middle" font-weight="bold" textLength="29.8" lengthAdjust="spacingAndGlyphs" stroke="#000" stroke-width="0.15">200µM</text>
<rect x="516.8" y="417.8" width="9.1" height="22.9" fill="#fff" stroke="#000" stroke-width="1.1"/>
<path d="M518.1 415.6h6.5M521.3 415.6V418.8M518.1 418.8h6.5" stroke="#000" stroke-width="1" fill="none"/>
<circle cx="521.3" cy="415.2" r="1.3"/>
<circle cx="519.8" cy="418.4" r="1.3"/>
<circle cx="522.8" cy="417.7" r="1.3"/>
<rect x="531.1" y="424.4" width="9.1" height="16.3" fill="url(#hwb)" stroke="#000" stroke-width="1.1"/>
<path d="M532.5 422.7h6.5M535.7 422.7V424.9M532.5 424.9h6.5" stroke="#000" stroke-width="1" fill="none"/>
<rect x="532.9" y="422" width="2.6" height="2.6" fill="#000"/>
<rect x="534.4" y="423.3" width="2.6" height="2.6" fill="#000"/>
<rect x="535.9" y="422.6" width="2.6" height="2.6" fill="#000"/>
<rect x="545.5" y="399.5" width="9.1" height="41.2" fill="#7d7d7d" stroke="#000" stroke-width="1.1"/>
<path d="M546.9 393.4h6.5M550.1 393.4V404.6M546.9 404.6h6.5" stroke="#000" stroke-width="1" fill="none"/>
<path d="M550.1 388.4L551.4 390.8H548.8z"/>
<path d="M548.9 403.3L550.2 405.7H547.6z"/>
<path d="M551.3 400.8L552.6 403.3H550z"/>
<rect x="560" y="354.3" width="9.1" height="86.4" fill="url(#hdb)" stroke="#000" stroke-width="1.1"/>
<path d="M561.3 341.8h6.5M564.5 341.8V365.8M561.3 365.8h6.5" stroke="#000" stroke-width="1" fill="none"/>
<path d="M564.5 336.6L565.8 334.1H563.2z"/>
<path d="M563.3 361.4L564.6 359H562z"/>
<path d="M565.7 367.6L567 365.2H564.4z"/>
<line x1="542.9" y1="440.7" x2="542.9" y2="443.9" stroke="#000" stroke-width="1.2"/>
<text x="542.9" y="453.3" font-size="9" text-anchor="middle" font-weight="bold" textLength="29.8" lengthAdjust="spacingAndGlyphs" stroke="#000" stroke-width="0.15">400µM</text>
<path d="M454.4 299.7V291.5H497.6V299.7" stroke="#000" stroke-width="1" fill="none"/>
<text x="476.3" y="291.6" font-size="10" text-anchor="middle" font-weight="bold" stroke="#000" stroke-width="0.15">*</text>
<path d="M468.8 316.5V308.3H497.6V316.5" stroke="#000" stroke-width="1" fill="none"/>
<text x="482.9" y="308.4" font-size="10" text-anchor="middle" font-weight="bold" stroke="#000" stroke-width="0.15">**</text>
<path d="M521.2 299.7V291.5H564.6V299.7" stroke="#000" stroke-width="1" fill="none"/>
<text x="543" y="291.6" font-size="10" text-anchor="middle" font-weight="bold" stroke="#000" stroke-width="0.15">****</text>
<path d="M535.4 316.5V308.3H564.6V316.5" stroke="#000" stroke-width="1" fill="none"/>
<text x="549.9" y="308.4" font-size="10" text-anchor="middle" font-weight="bold" stroke="#000" stroke-width="0.15">****</text>
<path d="M549.8 332.6V324.4H564.6V332.6" stroke="#000" stroke-width="1" fill="none"/>
<text x="557.2" y="324.5" font-size="10" text-anchor="middle" font-weight="bold" stroke="#000" stroke-width="0.15">****</text>
<rect x="591" y="348.9" width="10.3" height="6.3" fill="#fff" stroke="#222" stroke-width="1"/>
<text x="607.5" y="355.4" font-size="9.25" fill="#1a1a1a" stroke="#1a1a1a" stroke-width="0.15">Vehicle</text>
<rect x="591" y="362" width="10.3" height="6.3" fill="url(#hwb)" stroke="#222" stroke-width="1"/>
<text x="607.5" y="368.5" font-size="9.25" fill="#1a1a1a" stroke="#1a1a1a" stroke-width="0.15">Vehicle + hypoxia</text>
<rect x="591" y="375.8" width="10.3" height="6.3" fill="#7d7d7d" stroke="#222" stroke-width="1"/>
<text x="607.5" y="382.3" font-size="9.25" fill="#1a1a1a" stroke="#1a1a1a" stroke-width="0.15">Lobeline</text>
<rect x="591" y="389.2" width="10.3" height="6.3" fill="url(#hdb)" stroke="#222" stroke-width="1"/>
<text x="607.5" y="395.7" font-size="9.25" fill="#1a1a1a" stroke="#1a1a1a" stroke-width="0.15">Lobeline + hypoxia</text>
<g><rect x="67.2" y="577.1" width="58.6" height="16.4" fill="#a2a2a2"/><rect x="70.2" y="577.7" width="11.2" height="15.2" fill="#8c8c8c" opacity="1" filter="url(#b06)"/><rect x="84" y="577.7" width="11.5" height="15.2" fill="#8c8c8c" opacity="1" filter="url(#b06)"/><rect x="97.8" y="577.7" width="9.6" height="15.2" fill="#8c8c8c" opacity="1" filter="url(#b06)"/><rect x="109.8" y="577.7" width="10.4" height="15.2" fill="#8c8c8c" opacity="1" filter="url(#b06)"/><rect x="70.7" y="585.6" width="10.2" height="2.6" rx="1.3" fill="#080808" opacity="0.92" filter="url(#b06)"/><rect x="84.3" y="584.9" width="10.9" height="4" rx="2" fill="#080808" opacity="1" filter="url(#b06)"/><rect x="98.3" y="586.1" width="8.7" height="2" rx="1" fill="#080808" opacity="0.85" filter="url(#b06)"/><rect x="110" y="585.9" width="9.7" height="2.2" rx="1.1" fill="#080808" opacity="0.8" filter="url(#b06)"/><rect x="67.2" y="577.1" width="58.6" height="16.4" fill="none" stroke="#4a4a4a" stroke-width=".7"/></g>
<g><rect x="67.2" y="595.3" width="58.6" height="28.3" fill="#acacac"/><rect x="70.2" y="595.9" width="11.2" height="27.1" fill="#878787" opacity="1" filter="url(#b06)"/><rect x="84" y="595.9" width="11.5" height="27.1" fill="#878787" opacity="1" filter="url(#b06)"/><rect x="97.8" y="595.9" width="9.6" height="27.1" fill="#878787" opacity="1" filter="url(#b06)"/><rect x="109.8" y="595.9" width="10.4" height="27.1" fill="#878787" opacity="1" filter="url(#b06)"/><path d="M70.7 598.5h10.2M84.5 598.4h10.5M98.3 598.4h8.6M110.3 598.1h9.4M70.7 600.8h10.2M84.5 600.7h10.5M98.3 600.5h8.6M110.3 600.6h9.4M70.7 602.5h10.2M84.5 602.4h10.5M98.3 602.6h8.6M110.3 602.5h9.4M70.7 604.5h10.2M84.5 604.4h10.5M98.3 604.6h8.6M110.3 604.5h9.4M70.7 606.6h10.2M84.5 606.4h10.5M98.3 606.5h8.6M110.3 606.4h9.4M70.7 608.6h10.2M84.5 608.5h10.5M98.3 608.5h8.6M110.3 608.6h9.4M70.7 610.1h10.2M84.5 610.4h10.5M98.3 610.6h8.6M110.3 610.1h9.4M70.7 611.3h10.2M84.5 611.4h10.5M98.3 611.7h8.6M110.3 611.6h9.4M70.7 620.2h10.2M84.5 620.1h10.5M98.3 620h8.6M110.3 620h9.4" stroke="#333" stroke-width=".9" stroke-opacity=".16" filter="url(#b04)"/><rect x="70.6" y="614.3" width="10.4" height="3" rx="1.5" fill="#080808" opacity="0.95" filter="url(#b06)"/><rect x="84.4" y="614.3" width="10.7" height="3" rx="1.5" fill="#080808" opacity="0.95" filter="url(#b06)"/><rect x="98.2" y="614.3" width="8.8" height="3" rx="1.5" fill="#080808" opacity="0.95" filter="url(#b06)"/><rect x="110.2" y="614.3" width="9.6" height="3" rx="1.5" fill="#080808" opacity="0.95" filter="url(#b06)"/><rect x="67.2" y="595.3" width="58.6" height="28.3" fill="none" stroke="#4a4a4a" stroke-width=".7"/></g>
<line x1="125.9" y1="585.2" x2="130" y2="585.2" stroke="#333" stroke-width="0.7"/>
<text x="131.4" y="587" font-size="5.4" textLength="16" lengthAdjust="spacingAndGlyphs" stroke="#000" stroke-width="0.15">95kDa</text>
<text x="63.5" y="587.3" font-size="5.4" text-anchor="end" textLength="34.8" lengthAdjust="spacingAndGlyphs" stroke="#000" stroke-width="0.15">Cleaved PARP</text>
<text x="63.5" y="610.7" font-size="5.4" text-anchor="end" textLength="28.5" lengthAdjust="spacingAndGlyphs" stroke="#000" stroke-width="0.15">Total protein</text>
<text x="38.5" y="565.7" font-size="8" fill="#111" textLength="24.6" lengthAdjust="spacingAndGlyphs" stroke="#111" stroke-width="0.15">Hypoxia</text>
<text x="38.5" y="572.7" font-size="8" fill="#111" textLength="25.7" lengthAdjust="spacingAndGlyphs" stroke="#111" stroke-width="0.15">Lobeline</text>
<text x="75.2" y="566.1" font-size="7.6" text-anchor="middle" font-weight="bold" stroke="#000" stroke-width="0.15">+</text>
<text x="75.2" y="572.6" font-size="7.6" text-anchor="middle" font-weight="bold" stroke="#000" stroke-width="0.15">-</text>
<text x="89.9" y="566.1" font-size="7.6" text-anchor="middle" font-weight="bold" stroke="#000" stroke-width="0.15">+</text>
<text x="89.9" y="572.6" font-size="7.6" text-anchor="middle" font-weight="bold" stroke="#000" stroke-width="0.15">+</text>
<text x="103.2" y="566.1" font-size="7.6" text-anchor="middle" font-weight="bold" stroke="#000" stroke-width="0.15">-</text>
<text x="103.2" y="572.6" font-size="7.6" text-anchor="middle" font-weight="bold" stroke="#000" stroke-width="0.15">-</text>
<text x="115.6" y="566.1" font-size="7.6" text-anchor="middle" font-weight="bold" stroke="#000" stroke-width="0.15">-</text>
<text x="115.6" y="572.6" font-size="7.6" text-anchor="middle" font-weight="bold" stroke="#000" stroke-width="0.15">+</text>
<rect x="37" y="740.3" width="141" height="10.7" fill="#f6f6f6"/>
<path d="M41.2 656.5V739.3H166" stroke="#000" stroke-width="1.35" fill="none"/>
<line x1="38.8" y1="739.3" x2="41.2" y2="739.3" stroke="#000" stroke-width="0.9"/>
<text x="37.9" y="741.4" font-size="6" text-anchor="end" font-weight="bold" fill="#111" stroke="#111" stroke-width="0.15">0</text>
<line x1="38.8" y1="722.8" x2="41.2" y2="722.8" stroke="#000" stroke-width="0.9"/>
<text x="37.9" y="724.9" font-size="6" text-anchor="end" font-weight="bold" fill="#111" stroke="#111" stroke-width="0.15">1</text>
<line x1="38.8" y1="706.2" x2="41.2" y2="706.2" stroke="#000" stroke-width="0.9"/>
<text x="37.9" y="708.3" font-size="6" text-anchor="end" font-weight="bold" fill="#111" stroke="#111" stroke-width="0.15">2</text>
<line x1="38.8" y1="689.6" x2="41.2" y2="689.6" stroke="#000" stroke-width="0.9"/>
<text x="37.9" y="691.8" font-size="6" text-anchor="end" font-weight="bold" fill="#111" stroke="#111" stroke-width="0.15">3</text>
<line x1="38.8" y1="673.1" x2="41.2" y2="673.1" stroke="#000" stroke-width="0.9"/>
<text x="37.9" y="675.2" font-size="6" text-anchor="end" font-weight="bold" fill="#111" stroke="#111" stroke-width="0.15">4</text>
<line x1="38.8" y1="656.5" x2="41.2" y2="656.5" stroke="#000" stroke-width="0.9"/>
<text x="37.9" y="658.6" font-size="6" text-anchor="end" font-weight="bold" fill="#111" stroke="#111" stroke-width="0.15">5</text>
<text x="28.3" y="720.1" font-size="6.8" font-weight="bold" fill="#111" textLength="39.6" lengthAdjust="spacingAndGlyphs" transform="rotate(-90 28.3 720.1)" stroke="#111" stroke-width="0.15">Cleaved PARP</text>
<rect x="46.5" y="723.2" width="20.8" height="16.1" fill="#fff" stroke="#000" stroke-width="0.9"/>
<rect x="77.5" y="722.4" width="20.8" height="16.9" fill="url(#hw2)" stroke="#000" stroke-width="0.9"/>
<path d="M83.3 718.1h9M87.8 718.1V726.1M83.3 726.1h9" stroke="#000" stroke-width="0.9" fill="none"/>
<rect x="108.5" y="728.2" width="20.8" height="11.1" fill="#8a8a8a" stroke="#000" stroke-width="0.9"/>
<path d="M114.3 723.6h9M118.8 723.6V731.9M114.3 731.9h9" stroke="#000" stroke-width="0.9" fill="none"/>
<rect x="139.4" y="695.9" width="20.8" height="43.4" fill="url(#hd2)" stroke="#000" stroke-width="0.9"/>
<path d="M145.3 684.7h9M149.8 684.7V705.7M145.3 705.7h9" stroke="#000" stroke-width="0.9" fill="none"/>
<circle cx="53.5" cy="722.8" r="1.3"/>
<circle cx="56.8" cy="722.8" r="1.3"/>
<circle cx="60" cy="722.8" r="1.3"/>
<rect x="84.2" y="716.5" width="2.6" height="2.6" fill="#000"/>
<rect x="86.7" y="717.3" width="2.6" height="2.6" fill="#000"/>
<rect x="86.7" y="724.8" width="2.6" height="2.6" fill="#000"/>
<path d="M119 717.2L120.3 719.7H117.7z"/>
<path d="M117.5 728.8L118.8 731.2H116.2z"/>
<path d="M120 727.9L121.3 730.4H118.7z"/>
<path d="M150 677L151.3 674.5H148.7z"/>
<path d="M150 712.6L151.3 710.1H148.7z"/>
<path d="M151 697.7L152.3 695.2H149.7z"/>
<path d="M55.2 660.4V656.1H150.8V660.4" stroke="#000" stroke-width="0.8" fill="none"/>
<text x="102.4" y="656" font-size="7.5" text-anchor="middle" font-weight="bold" stroke="#000" stroke-width="0.15">*</text>
<path d="M118.5 671.8V665.8H150.8V671.8" stroke="#000" stroke-width="0.8" fill="none"/>
<text x="134.6" y="665.7" font-size="7.5" text-anchor="middle" font-weight="bold" stroke="#000" stroke-width="0.15">*</text>
<rect x="170.3" y="673.8" width="7.4" height="4" fill="#fff" stroke="#222" stroke-width="0.8"/>
<text x="181.6" y="677.8" font-size="5.5" fill="#1a1a1a" textLength="17.3" lengthAdjust="spacingAndGlyphs" stroke="#1a1a1a" stroke-width="0.15">Vehicle</text>
<rect x="170.3" y="682" width="7.4" height="4" fill="url(#hw2)" stroke="#222" stroke-width="0.8"/>
<text x="181.6" y="686" font-size="5.5" fill="#1a1a1a" textLength="43.2" lengthAdjust="spacingAndGlyphs" stroke="#1a1a1a" stroke-width="0.15">Vehicle + hypoxia</text>
<rect x="170.3" y="690.5" width="7.4" height="4" fill="#8a8a8a" stroke="#222" stroke-width="0.8"/>
<text x="181.6" y="694.5" font-size="5.5" fill="#1a1a1a" textLength="20.2" lengthAdjust="spacingAndGlyphs" stroke="#1a1a1a" stroke-width="0.15">Lobeline</text>
<rect x="170.3" y="698.7" width="7.4" height="4" fill="url(#hd2)" stroke="#222" stroke-width="0.8"/>
<text x="181.6" y="702.7" font-size="5.5" fill="#1a1a1a" textLength="46.1" lengthAdjust="spacingAndGlyphs" stroke="#1a1a1a" stroke-width="0.15">Lobeline + hypoxia</text>
<text x="429.3" y="546.6" font-size="8.6" text-anchor="middle" fill="#111" textLength="36.2" lengthAdjust="spacingAndGlyphs" stroke="#111" stroke-width="0.15">+ Hypoxia</text>
<text x="500.5" y="546.6" font-size="8.6" text-anchor="middle" fill="#111" textLength="34.4" lengthAdjust="spacingAndGlyphs" stroke="#111" stroke-width="0.15">- Hypoxia</text>
<line x1="396.6" y1="551.3" x2="459.3" y2="551.3" stroke="#222" stroke-width="0.8"/>
<line x1="472.2" y1="551.3" x2="534.3" y2="551.3" stroke="#222" stroke-width="0.8"/>
<text x="409.5" y="562.2" font-size="6.6" text-anchor="middle" fill="#111" textLength="21.9" lengthAdjust="spacingAndGlyphs" stroke="#111" stroke-width="0.15">Vehicle</text>
<text x="448.8" y="562.2" font-size="6.6" text-anchor="middle" fill="#111" textLength="26.3" lengthAdjust="spacingAndGlyphs" stroke="#111" stroke-width="0.15">Lobeline</text>
<text x="488" y="562.2" font-size="6.6" text-anchor="middle" fill="#111" textLength="21.9" lengthAdjust="spacingAndGlyphs" stroke="#111" stroke-width="0.15">Vehicle</text>
<text x="524.2" y="562.2" font-size="6.6" text-anchor="middle" fill="#111" textLength="25.7" lengthAdjust="spacingAndGlyphs" stroke="#111" stroke-width="0.15">Lobeline</text>
<path d="M392.2 571.3L422.8 567.2V572.2z" stroke="#222" stroke-width="0.6" fill="#fff" stroke-linejoin="round"/>
<path d="M432.2 571.3L462.8 567.2V572.2z" stroke="#222" stroke-width="0.6" fill="#fff" stroke-linejoin="round"/>
<path d="M469.6 571.3L499.3 567.2V572.2z" stroke="#222" stroke-width="0.6" fill="#fff" stroke-linejoin="round"/>
<path d="M508.1 571.3L537.8 567.2V572.2z" stroke="#222" stroke-width="0.6" fill="#fff" stroke-linejoin="round"/>
<g><rect x="382.5" y="578" width="159.2" height="15.8" fill="#cacaca"/><rect x="387.6" y="578.6" width="11.2" height="14.6" fill="#b0b0b0" opacity="1" filter="url(#b06)"/><rect x="401.6" y="578.6" width="11.2" height="14.6" fill="#b0b0b0" opacity="1" filter="url(#b06)"/><rect x="415.4" y="578.6" width="11.2" height="14.6" fill="#b0b0b0" opacity="1" filter="url(#b06)"/><rect x="429.3" y="578.6" width="11.2" height="14.6" fill="#b0b0b0" opacity="1" filter="url(#b06)"/><rect x="442.3" y="578.6" width="11.2" height="14.6" fill="#b0b0b0" opacity="1" filter="url(#b06)"/><rect x="453.9" y="578.6" width="11.2" height="14.6" fill="#b0b0b0" opacity="1" filter="url(#b06)"/><rect x="466.4" y="578.6" width="11.2" height="14.6" fill="#b0b0b0" opacity="1" filter="url(#b06)"/><rect x="478.7" y="578.6" width="11.2" height="14.6" fill="#b0b0b0" opacity="1" filter="url(#b06)"/><rect x="491.2" y="578.6" width="11.2" height="14.6" fill="#b0b0b0" opacity="1" filter="url(#b06)"/><rect x="503.3" y="578.6" width="11.2" height="14.6" fill="#b0b0b0" opacity="1" filter="url(#b06)"/><rect x="515.3" y="578.6" width="11.2" height="14.6" fill="#b0b0b0" opacity="1" filter="url(#b06)"/><rect x="528.1" y="578.6" width="11.2" height="14.6" fill="#b0b0b0" opacity="1" filter="url(#b06)"/><rect x="388" y="584.6" width="10.4" height="2.8" rx="1.4" fill="#080808" opacity="0.8" filter="url(#b06)"/><rect x="402" y="584.9" width="10.4" height="2.3" rx="1.1" fill="#080808" opacity="0.45" filter="url(#b06)"/><rect x="415.8" y="584.9" width="10.4" height="2.2" rx="1.1" fill="#080808" opacity="0.4" filter="url(#b06)"/><rect x="429.7" y="584.4" width="10.4" height="3.2" rx="1.6" fill="#080808" opacity="1" filter="url(#b06)"/><rect x="442.7" y="584.4" width="10.4" height="3.2" rx="1.6" fill="#080808" opacity="0.97" filter="url(#b06)"/><rect x="454.3" y="584.1" width="10.4" height="3.7" rx="1.9" fill="#080808" opacity="1" filter="url(#b06)"/><rect x="466.8" y="585" width="10.4" height="2" rx="1" fill="#080808" opacity="0.28" filter="url(#b06)"/><rect x="479.1" y="584.9" width="10.4" height="2.2" rx="1.1" fill="#080808" opacity="0.33" filter="url(#b06)"/><rect x="491.6" y="585" width="10.4" height="2" rx="1" fill="#080808" opacity="0.28" filter="url(#b06)"/><rect x="503.7" y="584.8" width="10.4" height="2.4" rx="1.2" fill="#080808" opacity="0.5" filter="url(#b06)"/><rect x="515.7" y="584.5" width="10.4" height="2.9" rx="1.4" fill="#080808" opacity="0.78" filter="url(#b06)"/><rect x="528.5" y="584.4" width="10.4" height="3.3" rx="1.6" fill="#080808" opacity="0.97" filter="url(#b06)"/><rect x="382.5" y="578" width="159.2" height="15.8" fill="none" stroke="#4a4a4a" stroke-width=".7"/></g>
<g><rect x="382.5" y="596.1" width="159.2" height="28.1" fill="#b8b8b8"/><rect x="387.6" y="596.7" width="11.2" height="26.9" fill="#989898" opacity="1" filter="url(#b06)"/><rect x="401.6" y="596.7" width="11.2" height="26.9" fill="#989898" opacity="1" filter="url(#b06)"/><rect x="415.4" y="596.7" width="11.2" height="26.9" fill="#989898" opacity="1" filter="url(#b06)"/><rect x="429.3" y="596.7" width="11.2" height="26.9" fill="#989898" opacity="1" filter="url(#b06)"/><rect x="442.3" y="596.7" width="11.2" height="26.9" fill="#989898" opacity="1" filter="url(#b06)"/><rect x="453.9" y="596.7" width="11.2" height="26.9" fill="#989898" opacity="1" filter="url(#b06)"/><rect x="466.4" y="596.7" width="11.2" height="26.9" fill="#989898" opacity="1" filter="url(#b06)"/><rect x="478.7" y="596.7" width="11.2" height="26.9" fill="#989898" opacity="1" filter="url(#b06)"/><rect x="491.2" y="596.7" width="11.2" height="26.9" fill="#989898" opacity="1" filter="url(#b06)"/><rect x="503.3" y="596.7" width="11.2" height="26.9" fill="#989898" opacity="1" filter="url(#b06)"/><rect x="515.3" y="596.7" width="11.2" height="26.9" fill="#989898" opacity="1" filter="url(#b06)"/><rect x="528.1" y="596.7" width="11.2" height="26.9" fill="#989898" opacity="1" filter="url(#b06)"/><path d="M388.1 598.9h10.2M402.1 599h10.2M415.9 599.2h10.2M429.8 599.1h10.2M442.8 598.8h10.2M454.4 599h10.2M466.9 598.9h10.2M479.2 599h10.2M491.7 598.8h10.2M503.8 599h10.2M515.8 599h10.2M528.6 599.2h10.2M388.1 601h10.2M402.1 601.1h10.2M415.9 600.8h10.2M429.8 601.3h10.2M442.8 600.7h10.2M454.4 601.2h10.2M466.9 601h10.2M479.2 600.9h10.2M491.7 600.9h10.2M503.8 600.9h10.2M515.8 601.1h10.2M528.6 601h10.2M388.1 603.2h10.2M402.1 602.7h10.2M415.9 603h10.2M429.8 602.9h10.2M442.8 603.1h10.2M454.4 602.7h10.2M466.9 602.9h10.2M479.2 603h10.2M491.7 602.8h10.2M503.8 603.1h10.2M515.8 603h10.2M528.6 603.2h10.2M388.1 605.1h10.2M402.1 604.9h10.2M415.9 604.9h10.2M429.8 605h10.2M442.8 605.1h10.2M454.4 605.1h10.2M466.9 604.9h10.2M479.2 604.9h10.2M491.7 604.9h10.2M503.8 604.9h10.2M515.8 605h10.2M528.6 605h10.2M388.1 607.5h10.2M402.1 607.1h10.2M415.9 607.2h10.2M429.8 607.3h10.2M442.8 607.1h10.2M454.4 607.1h10.2M466.9 607.2h10.2M479.2 607.3h10.2M491.7 607h10.2M503.8 607.4h10.2M515.8 607.1h10.2M528.6 607.2h10.2M388.1 609.1h10.2M402.1 609.1h10.2M415.9 609.2h10.2M429.8 609h10.2M442.8 609h10.2M454.4 609h10.2M466.9 608.9h10.2M479.2 609.2h10.2M491.7 608.9h10.2M503.8 608.8h10.2M515.8 609.3h10.2M528.6 609h10.2M388.1 616.3h10.2M402.1 616.8h10.2M415.9 616.5h10.2M429.8 616.7h10.2M442.8 616.4h10.2M454.4 616.5h10.2M466.9 616.2h10.2M479.2 616.2h10.2M491.7 616.4h10.2M503.8 616.5h10.2M515.8 616.6h10.2M528.6 616.9h10.2M388.1 618.8h10.2M402.1 619.2h10.2M415.9 618.9h10.2M429.8 619h10.2M442.8 618.8h10.2M454.4 618.8h10.2M466.9 618.9h10.2M479.2 618.8h10.2M491.7 619h10.2M503.8 618.9h10.2M515.8 619.2h10.2M528.6 619h10.2M388.1 621.5h10.2M402.1 621.7h10.2M415.9 621.6h10.2M429.8 621.5h10.2M442.8 621.5h10.2M454.4 621.5h10.2M466.9 621.7h10.2M479.2 621.6h10.2M491.7 621.6h10.2M503.8 621.6h10.2M515.8 621.4h10.2M528.6 621.6h10.2" stroke="#333" stroke-width=".9" stroke-opacity=".16" filter="url(#b04)"/><rect x="388" y="611.1" width="10.4" height="2.7" rx="1.4" fill="#080808" opacity="0.85" filter="url(#b06)"/><rect x="402" y="611.1" width="10.4" height="2.7" rx="1.4" fill="#080808" opacity="0.85" filter="url(#b06)"/><rect x="415.8" y="611.1" width="10.4" height="2.7" rx="1.4" fill="#080808" opacity="0.85" filter="url(#b06)"/><rect x="429.7" y="611.1" width="10.4" height="2.7" rx="1.4" fill="#080808" opacity="0.85" filter="url(#b06)"/><rect x="442.7" y="611.1" width="10.4" height="2.7" rx="1.4" fill="#080808" opacity="0.85" filter="url(#b06)"/><rect x="454.3" y="611.1" width="10.4" height="2.7" rx="1.4" fill="#080808" opacity="0.85" filter="url(#b06)"/><rect x="466.8" y="611.1" width="10.4" height="2.7" rx="1.4" fill="#080808" opacity="0.85" filter="url(#b06)"/><rect x="479.1" y="611.1" width="10.4" height="2.7" rx="1.4" fill="#080808" opacity="0.85" filter="url(#b06)"/><rect x="491.6" y="611.1" width="10.4" height="2.7" rx="1.4" fill="#080808" opacity="0.85" filter="url(#b06)"/><rect x="503.7" y="611.1" width="10.4" height="2.7" rx="1.4" fill="#080808" opacity="0.85" filter="url(#b06)"/><rect x="515.7" y="611.1" width="10.4" height="2.7" rx="1.4" fill="#080808" opacity="0.85" filter="url(#b06)"/><rect x="528.5" y="611.1" width="10.4" height="2.7" rx="1.4" fill="#080808" opacity="0.85" filter="url(#b06)"/><rect x="382.5" y="596.1" width="159.2" height="28.1" fill="none" stroke="#4a4a4a" stroke-width=".7"/></g>
<line x1="541.7" y1="585.4" x2="546.4" y2="585.4" stroke="#333" stroke-width="0.7"/>
<text x="547.6" y="587.2" font-size="5.4" textLength="16.5" lengthAdjust="spacingAndGlyphs" stroke="#000" stroke-width="0.15">95kDa</text>
<text x="380.2" y="588.1" font-size="5.4" text-anchor="end" textLength="35.6" lengthAdjust="spacingAndGlyphs" stroke="#000" stroke-width="0.15">Cleaved PARP</text>
<text x="380.2" y="610.9" font-size="5.4" text-anchor="end" textLength="29.2" lengthAdjust="spacingAndGlyphs" stroke="#000" stroke-width="0.15">Total protein</text>
<path d="M399.9 656.1V739.5H519.5" stroke="#000" stroke-width="1.35" fill="none"/>
<line x1="397.4" y1="739.5" x2="399.9" y2="739.5" stroke="#000" stroke-width="0.9"/>
<text x="396.8" y="741.7" font-size="6.2" text-anchor="end" font-weight="bold" fill="#222" stroke="#222" stroke-width="0.15">0</text>
<line x1="397.4" y1="711.7" x2="399.9" y2="711.7" stroke="#000" stroke-width="0.9"/>
<text x="396.8" y="713.9" font-size="6.2" text-anchor="end" font-weight="bold" fill="#222" stroke="#222" stroke-width="0.15">5</text>
<line x1="397.4" y1="683.9" x2="399.9" y2="683.9" stroke="#000" stroke-width="0.9"/>
<text x="396.8" y="686.1" font-size="6.2" text-anchor="end" font-weight="bold" fill="#222" stroke="#222" stroke-width="0.15">10</text>
<line x1="397.4" y1="656.1" x2="399.9" y2="656.1" stroke="#000" stroke-width="0.9"/>
<text x="396.8" y="658.3" font-size="6.2" text-anchor="end" font-weight="bold" fill="#222" stroke="#222" stroke-width="0.15">15</text>
<text x="385.6" y="720.8" font-size="6.8" font-weight="bold" fill="#111" textLength="40" lengthAdjust="spacingAndGlyphs" transform="rotate(-90 385.6 720.8)" stroke="#111" stroke-width="0.15">Cleaved PARP</text>
<rect x="403.8" y="734.3" width="5.7" height="5.2" fill="#fff" stroke="#000" stroke-width="0.8"/>
<path d="M404.6 733.4h4M406.6 733.4V734.5M404.6 734.5h4" stroke="#000" stroke-width="0.8" fill="none"/>
<rect x="412.4" y="732.7" width="5.7" height="6.8" fill="url(#hw2)" stroke="#000" stroke-width="0.8"/>
<path d="M413.2 730h4M415.2 730V733.9M413.2 733.9h4" stroke="#000" stroke-width="0.8" fill="none"/>
<rect x="421" y="732.7" width="5.7" height="6.8" fill="#8a8a8a" stroke="#000" stroke-width="0.8"/>
<path d="M421.8 731.7h4M423.8 731.7V732.8M421.8 732.8h4" stroke="#000" stroke-width="0.8" fill="none"/>
<rect x="429.6" y="723.2" width="5.7" height="16.3" fill="url(#hd2)" stroke="#000" stroke-width="0.8"/>
<path d="M430.4 720h4M432.4 720V725M430.4 725h4" stroke="#000" stroke-width="0.8" fill="none"/>
<line x1="419.5" y1="739.5" x2="419.5" y2="741.9" stroke="#000" stroke-width="0.9"/>
<text x="419.5" y="748.6" font-size="6.6" text-anchor="middle" font-weight="bold" fill="#111" textLength="21" lengthAdjust="spacingAndGlyphs" stroke="#111" stroke-width="0.15">100µM</text>
<rect x="443.8" y="734.9" width="5.7" height="4.6" fill="#fff" stroke="#000" stroke-width="0.8"/>
<path d="M444.6 733.9h4M446.6 733.9V735.1M444.6 735.1h4" stroke="#000" stroke-width="0.8" fill="none"/>
<rect x="452.4" y="734.9" width="5.7" height="4.6" fill="url(#hw2)" stroke="#000" stroke-width="0.8"/>
<path d="M453.2 733.4h4M455.2 733.4V735.6M453.2 735.6h4" stroke="#000" stroke-width="0.8" fill="none"/>
<rect x="461" y="730.4" width="5.7" height="9.1" fill="#8a8a8a" stroke="#000" stroke-width="0.8"/>
<path d="M461.8 728.9h4M463.8 728.9V731.2M461.8 731.2h4" stroke="#000" stroke-width="0.8" fill="none"/>
<rect x="469.6" y="718.8" width="5.7" height="20.7" fill="url(#hd2)" stroke="#000" stroke-width="0.8"/>
<path d="M470.4 713.4h4M472.4 713.4V722.3M470.4 722.3h4" stroke="#000" stroke-width="0.8" fill="none"/>
<line x1="459.5" y1="739.5" x2="459.5" y2="741.9" stroke="#000" stroke-width="0.9"/>
<text x="459.5" y="748.6" font-size="6.6" text-anchor="middle" font-weight="bold" fill="#111" textLength="21" lengthAdjust="spacingAndGlyphs" stroke="#111" stroke-width="0.15">200µM</text>
<rect x="483.8" y="736" width="5.7" height="3.5" fill="#fff" stroke="#000" stroke-width="0.8"/>
<path d="M484.6 735.1h4M486.6 735.1V736.2M484.6 736.2h4" stroke="#000" stroke-width="0.8" fill="none"/>
<rect x="492.4" y="736" width="5.7" height="3.5" fill="url(#hw2)" stroke="#000" stroke-width="0.8"/>
<path d="M493.2 734.5h4M495.2 734.5V736.2M493.2 736.2h4" stroke="#000" stroke-width="0.8" fill="none"/>
<rect x="501" y="720.4" width="5.7" height="19.1" fill="#8a8a8a" stroke="#000" stroke-width="0.8"/>
<path d="M501.8 715.6h4M503.8 715.6V723.9M501.8 723.9h4" stroke="#000" stroke-width="0.8" fill="none"/>
<rect x="509.6" y="682.6" width="5.7" height="56.9" fill="url(#hd2)" stroke="#000" stroke-width="0.8"/>
<path d="M510.5 671.1h4M512.5 671.1V693.4M510.5 693.4h4" stroke="#000" stroke-width="0.8" fill="none"/>
<line x1="499.5" y1="739.5" x2="499.5" y2="741.9" stroke="#000" stroke-width="0.9"/>
<text x="499.5" y="748.6" font-size="6.6" text-anchor="middle" font-weight="bold" fill="#111" textLength="21" lengthAdjust="spacingAndGlyphs" stroke="#111" stroke-width="0.15">400µM</text>
<path d="M502.2 713.5L503.1 715.2H501.3z"/>
<path d="M502.2 722.9L503.1 724.7H501.3z"/>
<path d="M512.8 661L513.7 659.3H511.9z"/>
<path d="M512.8 696L513.7 694.3H511.9z"/>
<path d="M474 714.9L474.9 713.2H473.1z"/>
<path d="M470 716L470.9 714.3H469.1z"/>
<path d="M432.4 720.5L433.3 718.8H431.5z"/>
<rect x="413.6" y="728.6" width="1.8" height="1.8" fill="#000"/>
<path d="M445.5 637.4V632.7H472.3V637.4" stroke="#000" stroke-width="0.8" fill="none"/>
<text x="459" y="632.4" font-size="6" text-anchor="middle" font-weight="bold" stroke="#000" stroke-width="0.15">*</text>
<path d="M454.1 647.7V642H472.3V647.7" stroke="#000" stroke-width="0.8" fill="none"/>
<text x="463.2" y="641.7" font-size="6" text-anchor="middle" font-weight="bold" stroke="#000" stroke-width="0.15">*</text>
<path d="M486.3 637.4V632.7H512.5V637.4" stroke="#000" stroke-width="0.8" fill="none"/>
<text x="499.4" y="632.4" font-size="6" text-anchor="middle" font-weight="bold" stroke="#000" stroke-width="0.15">****</text>
<path d="M495 647.2V642H512.5V647.2" stroke="#000" stroke-width="0.8" fill="none"/>
<text x="503.7" y="641.7" font-size="6" text-anchor="middle" font-weight="bold" stroke="#000" stroke-width="0.15">****</text>
<path d="M503.1 657.7V652.6H512.5V657.7" stroke="#000" stroke-width="0.8" fill="none"/>
<text x="507.8" y="652.3" font-size="6" text-anchor="middle" font-weight="bold" stroke="#000" stroke-width="0.15">****</text>
<rect x="528.2" y="673.6" width="7.3" height="3.8" fill="#fff" stroke="#222" stroke-width="0.8"/>
<text x="539.8" y="677.5" font-size="5.5" fill="#1a1a1a" textLength="17.3" lengthAdjust="spacingAndGlyphs" stroke="#1a1a1a" stroke-width="0.15">Vehicle</text>
<rect x="528.2" y="682.1" width="7.3" height="3.8" fill="url(#hw2)" stroke="#222" stroke-width="0.8"/>
<text x="539.8" y="686" font-size="5.5" fill="#1a1a1a" textLength="43.1" lengthAdjust="spacingAndGlyphs" stroke="#1a1a1a" stroke-width="0.15">Vehicle + hypoxia</text>
<rect x="528.2" y="690.4" width="7.3" height="3.8" fill="#8a8a8a" stroke="#222" stroke-width="0.8"/>
<text x="539.8" y="694.3" font-size="5.5" fill="#1a1a1a" textLength="20.2" lengthAdjust="spacingAndGlyphs" stroke="#1a1a1a" stroke-width="0.15">Lobeline</text>
<rect x="528.2" y="698.6" width="7.3" height="3.8" fill="url(#hd2)" stroke="#222" stroke-width="0.8"/>
<text x="539.8" y="702.5" font-size="5.5" fill="#1a1a1a" textLength="46.3" lengthAdjust="spacingAndGlyphs" stroke="#1a1a1a" stroke-width="0.15">Lobeline + hypoxia</text></svg>
</body></html>
